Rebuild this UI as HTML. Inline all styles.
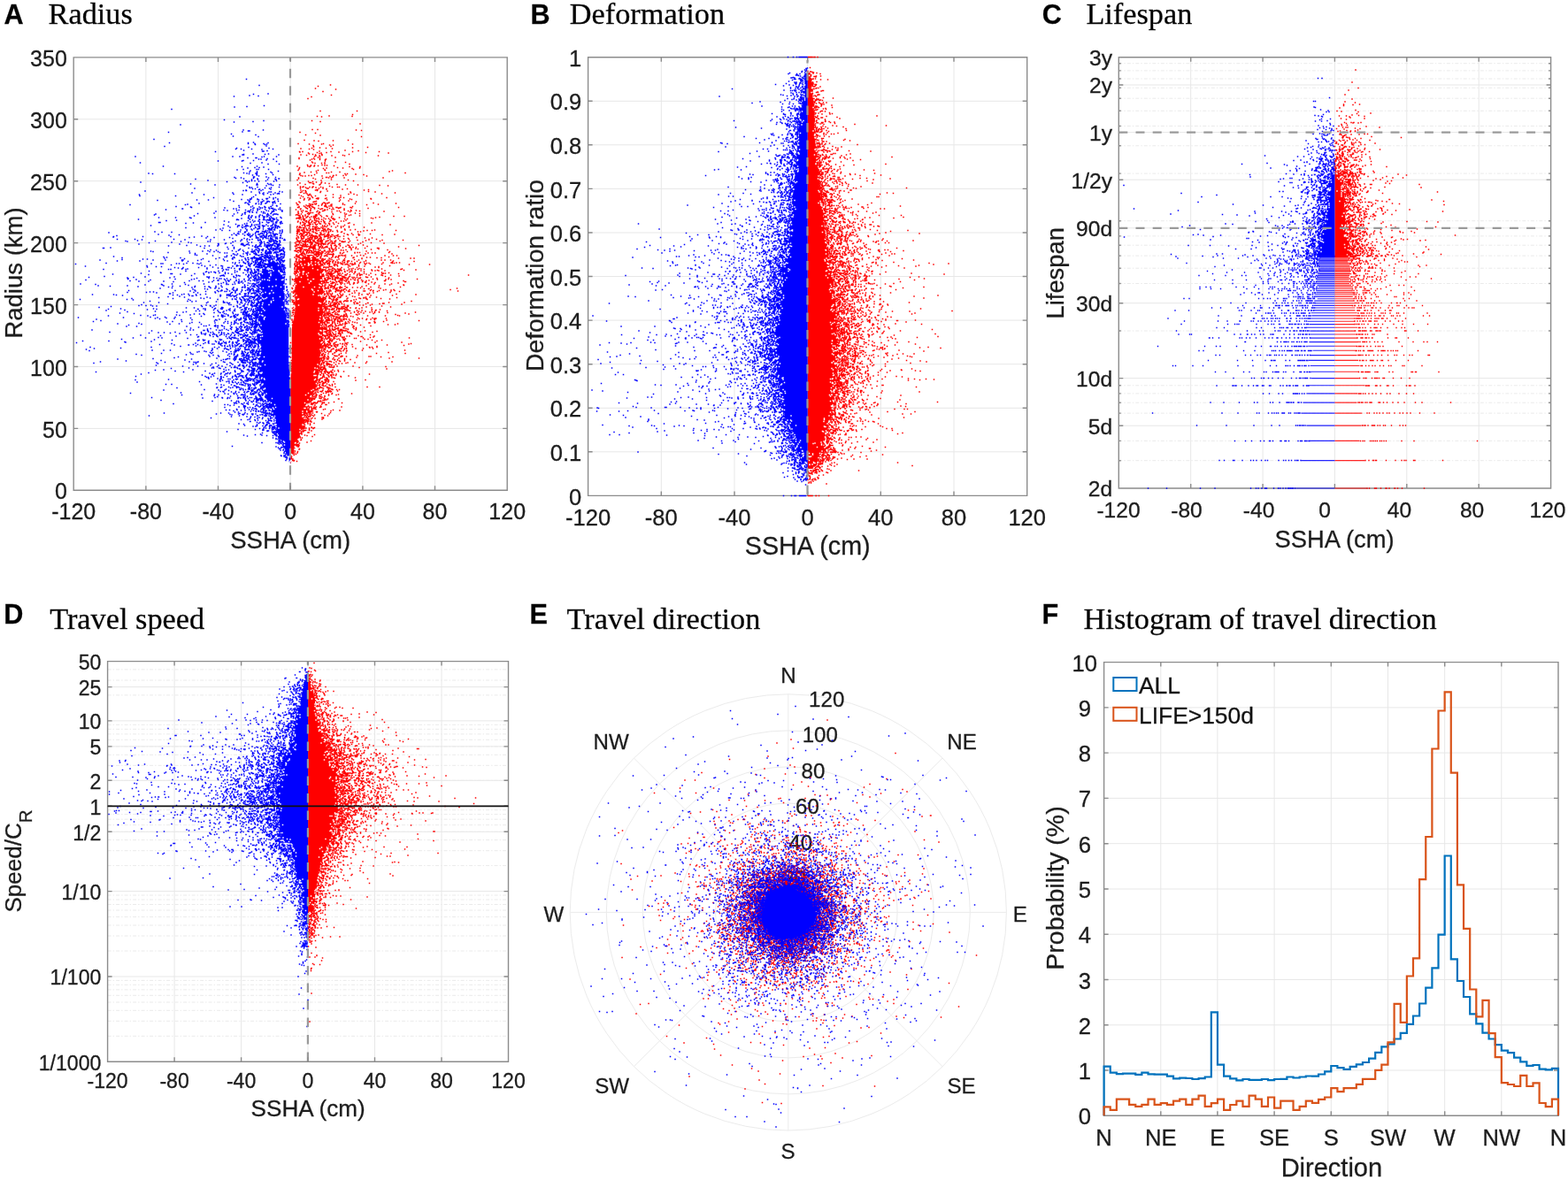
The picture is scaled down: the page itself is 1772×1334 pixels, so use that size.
<!DOCTYPE html>
<html lang="en">
<head>
<meta charset="utf-8">
<title>Eddy statistics: radius, deformation, lifespan, travel speed and direction</title>
<style>
html,body{margin:0;padding:0;background:#fff}
body{width:1772px;height:1334px;overflow:hidden}
svg{display:block}
text{font-family:'Liberation Sans', Arial, Helvetica, sans-serif;stroke:#222;stroke-width:.3px}
text.se{font-family:'Liberation Serif', 'Times New Roman', Times, serif}
</style>
</head>
<body>
<svg xmlns="http://www.w3.org/2000/svg" width="1772" height="1334" viewBox="0 0 1772 1334">
<rect width="1772" height="1334" fill="#fff"/>
<g fill="#1c1c1c">
<path d="M164.9 64.9V554.3M246.5 64.9V554.3M328.2 64.9V554.3M409.9 64.9V554.3M491.5 64.9V554.3M83.2 484.4H573.2M83.2 414.5H573.2M83.2 344.6H573.2M83.2 274.6H573.2M83.2 204.7H573.2M83.2 134.8H573.2" stroke="#e7e7e7" stroke-width="1" fill="none"/>
<path d="M347.2 288L345 289L343.6 290L342.3 291L341 292L339.9 293L339.2 294L338.7 295L338.1 296L337.7 297L337 298L336.4 299L335.9 300L335.4 301L335.1 302L334.8 303L334.5 304L334.3 305L334.2 306L334.1 307L334.1 308L334 309L333.9 310L333.8 311L333.8 312L333.7 313L333.7 314L333.7 315L333.7 316L333.7 317L333.7 318L333.7 319L333.7 320L333.7 321L333.7 322L333.7 323L333.7 324L333.7 325L333.7 326L333.7 327L333.7 328L333.7 329L333.7 330L333.7 331L333.7 332L333.7 333L333.7 334L333.7 335L333.7 336L333.6 337L333.6 338L333.6 339L333.6 340L333.5 341L333.5 342L333.5 343L333.5 344L333.4 345L333.4 346L333.4 347L333.4 348L333.3 349L333.3 350L333.3 351L333.3 352L333.2 353L333 354L332.8 355L332.6 356L332.4 357L332.3 358L332.1 359L331.9 360L331.7 361L331.5 362L331.3 363L331.1 364L331 365L330.8 366L330.6 367L330.4 368L330.2 369L330 370L329.9 371L329.7 372L329.7 373L329.7 374L329.7 375L329.7 376L329.7 377L329.7 378L329.7 379L329.7 380L329.7 381L329.7 382L329.7 383L329.7 384L329.7 385L329.7 386L329.7 387L329.7 388L329.7 389L329.7 390L329.7 391L329.7 392L329.7 393L329.7 394L329.7 395L329.7 396L329.7 397L329.7 398L329.7 399L329.7 400L329.7 401L329.7 402L329.7 403L329.7 404L329.7 405L329.7 406L329.7 407L329.7 408L329.7 409L329.7 410L329.6 411L329.6 412L329.5 413L329.5 414L329.4 415L329.3 416L329.2 417L329.1 418L329.1 419L329 420L328.9 421L328.8 422L328.8 423L328.7 424L328.6 425L328.5 426L328.4 427L328.4 428L328.3 429L328.3 430L328.2 431L328.2 432L328.2 433L328.2 434L328.2 435L328.2 436L328.2 437L328.2 438L328.2 439L328.2 440L328.2 441L328.2 442L328.2 443L328.2 444L328.2 445L328.2 446L328.2 447L328.2 448L328.2 449L328.2 450L328.2 451L328.2 452L328.2 453L328.2 454L328.2 455L328.2 456L328.2 457L328.2 458L328.2 459L328.2 460L328.2 461L328.2 462L328.2 463L328.2 464L328.2 465L328.2 466L328.2 467L328.2 468L328.2 469L328.2 470L328.2 471L328.2 472L328.2 473L328.2 474L328.2 475L328.2 476L328.2 477L328.2 478L328.2 479L328.2 480L328.2 481L328.2 482L328.2 483L328.2 484L328.2 485L328.2 486L328.2 487L328.2 488L328.2 489L328.2 490L328.2 491L328.2 492L328.2 493L328.2 494L328.2 495L328.2 496L328.2 497L328.2 498L328.2 499L328.2 500L328.2 501L328.2 502L328.2 503L328.2 504L328.2 505L328.2 506L328.2 507L328.2 508L328.2 509L328.2 510L328.2 511L328.2 512L328.2 513L328.2 514L328.2 515L328.2 516L328.2 517L328.2 518L328.2 519L328.2 520L328.2 521L328.2 522L328.2 523L328.2 524L329 524L329.1 523L329.5 522L329.1 521L329.1 520L330 519L330.2 518L331.3 517L330.8 516L331.1 515L330.5 514L332.3 513L331.9 512L332.1 511L332.9 510L332.4 509L333.6 508L333.6 507L333.6 506L334.6 505L334.9 504L334 503L334.9 502L336.1 501L336.5 500L335.7 499L337.2 498L335.8 497L336.7 496L338.5 495L338.4 494L339 493L338.8 492L339.3 491L338.7 490L339.5 489L340.9 488L339.4 487L341.2 486L341.8 485L340.9 484L341.4 483L342.9 482L341.3 481L343.2 480L343.1 479L342.8 478L344.4 477L344.7 476L345.2 475L345.3 474L345.1 473L345 472L344.2 471L346 470L344.7 469L345 468L346.7 467L346.5 466L345.6 465L346.8 464L346.6 463L346.7 462L346.8 461L349.3 460L349.2 459L349.3 458L350 457L350.2 456L350 455L350.5 454L350.9 453L350.6 452L352.2 451L352.6 450L352 449L353.8 448L354.2 447L353.5 446L353.4 445L354.6 444L354.5 443L356.4 442L355.2 441L355.4 440L355.8 439L357.8 438L357.9 437L356.7 436L358.1 435L357.3 434L358.8 433L358.5 432L358.2 431L359.4 430L359.1 429L359 428L359.3 427L359.8 426L359.8 425L360.6 424L360 423L360.7 422L360.9 421L359.8 420L361.4 419L360.3 418L360.8 417L360.9 416L361.3 415L360.6 414L360.7 413L360.8 412L362.6 411L361.5 410L362.3 409L361.2 408L362.2 407L362.1 406L363 405L363.1 404L362.3 403L362.4 402L361.9 401L362.1 400L363.4 399L362.4 398L362.5 397L362.5 396L362.8 395L362.5 394L363.3 393L362.9 392L363.7 391L363.1 390L364.6 389L365 388L363.7 387L365.1 386L364.8 385L364 384L365.4 383L364.8 382L363.7 381L365.6 380L364.9 379L365.7 378L364.7 377L365.3 376L365.7 375L364.5 374L365.7 373L364.3 372L366 371L365.4 370L364.3 369L364.2 368L365.6 367L365.4 366L364.6 365L365.6 364L364.8 363L364.1 362L365 361L365.2 360L366.1 359L364.6 358L364.5 357L364.1 356L364 355L365.6 354L366.1 353L365.1 352L364.3 351L365.6 350L364.2 349L365.3 348L365.5 347L364 346L365.7 345L365.9 344L364.8 343L365.8 342L365.2 341L364.8 340L364.8 339L366.1 338L364.5 337L364.2 336L364.2 335L366 334L365 333L364.9 332L365 331L364.6 330L366.1 329L364.9 328L365.3 327L364.7 326L365.6 325L365.9 324L365 323L365.8 322L366 321L365.9 320L365.1 319L364.9 318L365.7 317L365.2 316L365.5 315L364.4 314L364.4 313L365.5 312L365.1 311L364.8 310L363.5 309L364.4 308L363 307L362.6 306L363 305L363 304L363.9 303L361.7 302L361.8 301L362.9 300L360.7 299L361.1 298L359.5 297L360.8 296L360 295L358.8 294L359.5 293L356.8 292L358 291L355.1 290L355.2 289L352.2 288Z" fill="#ff0000"/>
<path transform="scale(.5)" d="M719 195zm28-3zm12 10zm-29 5zm-17-7zm36 15zm-45 4zm-8 4zm28 28zm83 0zm-10 8zm-1 4zm-52-1zm-27 1zm10 1zm-3 11zm-19-2zm109 7zm3 15zm-12-1zm-87-1zm-12 0zm-28 6zm35 2zm104 8zm-93-3zm-33-1zm-3 12zm22 1zm10 1zm33-1zm34-1zm10 9zm-66-1zm-4 1zm-28 0zm-25-1zm31 10zm3-6zm1 3zm14 2zm14 1zm8-7zm3 3zm5-3zm44 6zm34-1zm26 10zm-47-2zm-13 2zm-17-3zm-29-4zm-3 7zm-26-1zm-13-4zm-10-1zm-15 6zm-4-7zm-3 7zm1 1zm2 6zm13 1zm4-5zm2 2zm8 1zm6 1zm4-5zm5 2zm4-1zm1 3zm1 1zm0 1zm10-6zm28-1zm9 7zm14-2zm38-4zm51 1zm-23 6zm-76 0zm-21 4zm-8-4zm-27 6zm0-4zm-1-2zm-3 4zm-5-4zm-3 2zm-2 4zm-33 1zm0-2zm25 5zm4-2zm0 6zm6-6zm12 1zm12 0zm0 3zm2-4zm21 6zm23 1zm9 4zm-35 4zm-16-1zm-5 0zm0-4zm0-2zm-6 5zm-1-4zm-8 6zm-7-6zm-1 5zm-4-6zm-4 6zm-1 1zm-7-2zm-23 3zm4 6zm1-3zm19-3zm4 1zm1-1zm9 0zm21 5zm7-1zm25-1zm12 1zm15-3zm6 4zm3 2zm14-3zm1-3zm102 14zm-29-5zm-7 2zm-112 1zm-19 0zm-6 2zm-5 0zm-3-6zm-1-1zm-15 1zm-3 6zm-1-4zm-12 2zm-15 1zm-14-5zm3 10zm1-3zm0 1zm2 4zm4 1zm6 0zm8-1zm6 0zm7-2zm17 3zm18 1zm7-2zm1 0zm6-1zm16 1zm4-4zm2 3zm3-3zm19 1zm18 1zm7 3zm37 4zm-79 5zm-9-5zm-26-2zm-3 6zm0-4zm-6 0zm-4-1zm-2 0zm-8 2zm-16 2zm-5-2zm-33 1zm0-2zm-3 5zm6 7zm19-4zm2 3zm2 0zm2 0zm4-2zm0 4zm1 0zm7-3zm11-4zm0 6zm1-2zm8 2zm9 1zm55-6zm78 11zm-19-1zm-49-1zm-28 0zm-14 5zm-4 0zm-1-6zm-11 6zm-6-2zm-20 2zm-1-6zm-2 1zm-13-2zm-1 6zm-2 1zm-6 0zm-10-6zm-4 5zm-2 1zm-5 0zm0-1zm-6-4zm6 8zm1 4zm5 1zm5 0zm1-7zm3 2zm3 0zm9-2zm7 6zm1-6zm2 5zm1 2zm1-2zm3-3zm9-2zm0 2zm8 1zm0 1zm36 0zm11-1zm38 3zm10-1zm60 7zm-30 2zm-15-4zm-15-1zm-33 6zm-7-3zm-1-2zm-4 5zm-48-7zm-15 1zm-1 2zm-23 4zm-7-1zm-2-4zm-1 2zm0-4zm-4 5zm-5-3zm-3 1zm-3 6zm5 2zm4 2zm11-4zm0 6zm2-5zm1-2zm4 2zm2 3zm2 2zm6-4zm23-1zm17-2zm0 6zm17-4zm0 4zm7 1zm30-6zm67 6zm-35 3zm-1-1zm-43 2zm-4-1zm-3 4zm-19-2zm-2 3zm0-7zm-28 4zm-1-4zm-3 1zm-15-1zm-1 2zm-1-2zm-2 1zm-1 6zm0-6zm-14 1zm-1 0zm0-2zm-2 4zm-10-2zm0-1zm-1 3zm-8-4zm-9 11zm2 3zm0 1zm2 0zm2-7zm2 2zm21 3zm3 1zm4 0zm0 1zm1-1zm1-5zm2-1zm1 5zm1-5zm2 6zm1-2zm13 2zm1-2zm3-2zm2 1zm2 1zm0 2zm4-2zm1-1zm3-1zm4 5zm2-1zm25-2zm0 2zm4 1zm24-3zm2-4zm24 7zm15-4zm11 3zm40-2zm6 9zm-69 2zm-35-4zm-2 3zm-3-1zm-22 0zm-2 1zm-2 0zm-1 1zm-3-2zm-2 0zm-8 1zm-2-4zm-2 0zm-3 5zm-1-5zm-4 3zm-2-1zm-1-2zm-1-1zm-2 2zm0-2zm-7-1zm-7 7zm0-6zm-9 5zm-3-1zm-1-1zm-2-1zm-2 4zm-1-6zm-2 4zm0-4zm-1 3zm0-2zm-2-1zm-2 1zm-1 5zm-2-1zm0-6zm-2 4zm-3-2zm-11 3zm0-2zm-3 2zm-4 5zm5 4zm5-5zm1-1zm1 5zm4-1zm6 2zm3 0zm1-6zm6 5zm1-3zm0 2zm9-4zm5 7zm2-2zm4 2zm2-6zm3-1zm2 0zm0 5zm1 0zm3-1zm1-2zm1 1zm5-1zm10 0zm0 5zm4-6zm8 4zm5 0zm11-5zm0 3zm9 2zm4 2zm2-4zm1 2zm11-1zm8 1zm55 1zm-55 5zm-10-1zm-10 4zm-4 1zm-6-3zm-3 2zm-1-4zm-9-2zm-17 5zm-1-2zm-27 4zm-2-6zm-2 4zm-1-3zm-4 3zm-3 2zm0-1zm-6-5zm-4 0zm-3 1zm-1 2zm-1 1zm-1-4zm-2 2zm-5 3zm-7-6zm-2 4zm-4 3zm-2-4zm-1 4zm0-6zm-2 4zm-3 1zm1 8zm2-1zm3 1zm1-3zm1 4zm1-7zm0 4zm1-1zm1 2zm4-5zm1 1zm0 2zm0 3zm3 1zm2-7zm2 4zm2-1zm1-2zm1 0zm4 3zm4-2zm5-1zm0 3zm2 1zm0 2zm1-6zm1 3zm1-3zm2-1zm0 6zm0 1zm4-2zm7-3zm5 3zm4 2zm2-7zm2 1zm3 5zm6-2zm1-3zm2 5zm0 1zm2-1zm13-2zm12 3zm1-5zm5 5zm28-7zm26 5zm4 1zm6-2zm9-1zm32-2zm24 0zm-132 9zm-5 2zm-6 0zm-11 2zm-3-6zm-2 1zm-7 2zm-2-2zm-1 4zm-11 1zm-2-1zm-1-3zm-4-2zm-1 5zm-5 0zm0-5zm-3 4zm-3-1zm-1 3zm-2-4zm-1 0zm-1 5zm-4-3zm-1 0zm-1 3zm-2-7zm-3 2zm-1 3zm-1 1zm-4 0zm0-3zm-3 1zm-1-4zm-2 2zm-1-1zm-1 6zm-1-1zm-3-5zm-2 6zm-5-3zm-1 2zm6 4zm4 4zm3-2zm1-4zm2 4zm0 3zm1-6zm4 5zm2 0zm2-5zm0 4zm0 1zm2-6zm0 3zm0 2zm2-2zm5 0zm5-3zm1 3zm2 2zm2-2zm4-3zm2 2zm2 0zm4 4zm4-6zm1 6zm2-4zm4 4zm3-5zm2 1zm0 2zm8-4zm2 3zm8 4zm2-6zm14 4zm8-4zm3-1zm10 4zm40-4zm42 4zm-59 6zm-20 5zm-14-5zm0-2zm-10 6zm-3-6zm-5 3zm0-3zm-12 2zm-10-2zm-4 7zm-3-2zm-1 0zm-3-4zm-3 5zm-1-5zm-2 5zm-2-4zm0-1zm-1 4zm-3-3zm-3 3zm-3-1zm-2 1zm-1-4zm-2 6zm-1-3zm0-3zm-2 5zm0-3zm0-2zm-4 4zm0-5zm-1 7zm0-2zm0-4zm-1 5zm-5 1zm0-1zm-1-5zm-2 3zm-5 3zm-1-3zm-2-4zm-2 3zm-1 4zm0-1zm-2-3zm-4 0zm-3 0zm0-3zm-1 0zm-1 7zm0-4zm-3 4zm-1-1zm0-6zm-1 2zm0 9zm1-1zm0 2zm1-3zm0 5zm2-6zm0 2zm0 1zm2-3zm0 4zm4-3zm1-1zm2 0zm0 3zm2 2zm0 1zm2-4zm0 3zm2 0zm3-5zm0 5zm2-4zm0 6zm1-7zm1 5zm1 1zm1 0zm1-4zm1-2zm0 2zm1-2zm4 4zm2-4zm0 4zm1 1zm4 1zm1-5zm0 6zm1-6zm1 1zm4-1zm1 0zm3 5zm1 1zm1 0zm1-5zm3-1zm2 0zm0 2zm0 1zm4-3zm1 0zm0 3zm4-4zm1 5zm1-1zm0 2zm4-3zm1-3zm4 3zm10-2zm1 3zm8 1zm2-1zm7-4zm12 0zm17 4zm6 0zm7-2zm8-1zm11 0zm6-1zm48 1zm-3 9zm-28 1zm-27-2zm-24 2zm-2 1zm-1-3zm-12 2zm-3-3zm-8 3zm-2-1zm-7-2zm-1 6zm-9 1zm-4 0zm0-4zm-1 1zm-3 1zm-4 1zm-1 0zm-3-3zm-2 4zm0-4zm-3 3zm-3-3zm-1 1zm-1 3zm0-4zm0-2zm-1 5zm-1-4zm-2 4zm0-1zm-1 1zm-1 1zm0-1zm-2-5zm-1 4zm-2-3zm-3 1zm-3-1zm-1 5zm0-4zm-1 0zm-1 3zm-1-2zm-4-4zm-1 6zm-1 1zm0-7zm-1 6zm0-1zm-2 1zm-1 0zm-3 0zm0-1zm-1 2zm0-1zm-2-1zm0-3zm-1 3zm-3-1zm0-4zm-1 0zm-1 4zm-3 3zm-2-5zm0-1zm-1 2zm-1 1zm-1-1zm-3 2zm-1-5zm-1 7zm-1 0zm-1-2zm0-3zm-1 3zm-1-1zm0-1zm0-3zm-2 6zm-1-5zm0-1zm-2 2zm-3 5zm-2-6zm-1 4zm0-5zm-1 11zm1-1zm0 4zm2 1zm2-5zm6-1zm0 2zm1 0zm0 2zm3-1zm2-4zm0 2zm4 4zm0 1zm1-2zm1 0zm3-2zm0 4zm3-3zm0 2zm0 1zm1-5zm1-1zm0 5zm1-6zm1 5zm1-4zm1 3zm1-2zm1 5zm3 0zm1-5zm1-2zm0 4zm1-1zm2 0zm2-1zm1-2zm1 6zm1-1zm1-1zm2-1zm1-1zm0 5zm2-6zm0 3zm0 3zm1 0zm5-2zm1-5zm8 3zm1-1zm4-1zm0 4zm10-2zm2-2zm1 0zm6 3zm12 0zm10-1zm2 2zm17-4zm2 6zm17-5zm9 3zm0 1zm7-4zm10 3zm13 2zm47 0zm-43 7zm-9-5zm-20 4zm-12-5zm-7 3zm-5 3zm-24-5zm-3 3zm-8-2zm-3 1zm-2-1zm-1 1zm-2-1zm-3 5zm-1-7zm-1 7zm-8-6zm0-1zm-1 2zm-1 4zm-1-4zm-1 4zm-2 0zm-2 1zm0-3zm-1 2zm0-5zm-3 0zm-1 4zm-3 1zm-1 0zm0-6zm-2 1zm-1 0zm-2 0zm-1 3zm-4 3zm-2 0zm-1 0zm0-7zm-1 4zm0-3zm0-1zm-1 5zm0-3zm-1 5zm-1-4zm-1-1zm0-2zm-1 3zm-2 4zm-1-7zm-1 7zm0-4zm0-3zm-1 6zm-1-6zm-1 5zm-1 1zm-1-2zm-1 1zm-2-3zm-3 0zm0-1zm-2 6zm0-2zm-2 2zm0-3zm-1 3zm-1-3zm0-3zm-1 1zm-1 3zm-3-2zm-1-2zm-1 1zm0-1zm-3 2zm-1-2zm-1 6zm0-3zm0-3zm-1 3zm0-2zm-3 0zm0-1zm-1 6zm-2-6zm-2 4zm-2-5zm-1 2zm-1 4zm0-1zm-1-2zm-1-2zm-1 1zm-1 0zm-3 1zm-3 2zm0 8zm1-1zm1-4zm2 4zm1-3zm1 0zm2 0zm0 1zm2 5zm2-5zm3 1zm1 3zm1-2zm1-3zm0 2zm1 1zm1-3zm0 5zm3-5zm0 1zm0 3zm1-5zm1 3zm0 1zm0 2zm2 0zm1-5zm1 4zm1 0zm3 1zm1 0zm1-4zm0 1zm2 3zm1-5zm2 6zm1-3zm1 1zm0 2zm2-6zm0 1zm0 3zm0 1zm1-3zm0 3zm2-4zm5 1zm1-1zm1 4zm1 0zm1 0zm1-6zm0 6zm1 0zm1-5zm0 1zm0 1zm3 2zm0 2zm2-6zm3-1zm2 0zm0 6zm2 1zm1-2zm1 2zm1-6zm7 1zm1 1zm0 1zm0 1zm0 2zm7-4zm2-1zm1 2zm2 1zm5-4zm3 2zm0 1zm13 1zm4-3zm3 1zm0 4zm2-1zm4-4zm3 5zm7 0zm5-7zm11 2zm9 3zm71 1zm46-3zm-30 7zm-41 3zm-20-2zm0-2zm-3 0zm-14 3zm-14-3zm-16 2zm-5-1zm-10 3zm0-3zm-2-2zm-10 5zm-6 1zm-1-6zm-4 6zm0-1zm-5-4zm-6 3zm-1 2zm0-6zm-1 1zm-3 3zm-3 1zm-1-3zm-1 0zm-1-2zm-3 6zm-1-1zm0-3zm-1 0zm-10 4zm0-6zm-1 6zm-2-5zm-4 0zm-3 5zm-2-4zm0-2zm-1 7zm-2-3zm-5 0zm-2-2zm0-1zm-3 5zm0-2zm0-1zm0-3zm-2 2zm-3 5zm0-7zm-3 6zm0-5zm-1 0zm-1 2zm-1-1zm-1 4zm-2 0zm0-1zm-3-1zm-1 2zm-2-1zm-2-1zm-4-1zm0-2zm-2 4zm-1 2zm0-3zm0-4zm-1 4zm0-1zm-1-1zm-1 5zm-3-1zm0-6zm-1 7zm0-7zm-3 2zm-1 4zm0-4zm0-1zm-3 6zm3 1zm2 1zm3 2zm4-3zm1 1zm0 1zm1-1zm0 6zm1-2zm1 0zm1 1zm1-3zm0 1zm0 2zm1-6zm1 0zm0 4zm2 1zm0 2zm5-6zm0 2zm0 2zm2-4zm2 3zm2-4zm1 3zm2 2zm1 0zm1-5zm0 4zm1-4zm0 1zm2 2zm1 1zm2-3zm0 1zm0 4zm3-6zm1 1zm0 4zm0 2zm1-5zm1 4zm2-5zm0 3zm0 3zm1-4zm1-1zm0 1zm1 1zm0 3zm1-4zm3 1zm0 2zm2-5zm0 4zm2-1zm1-3zm0 1zm4-2zm1 5zm3-3zm1 0zm0 5zm2-1zm1-6zm1 3zm1 4zm1 0zm1-6zm2 6zm1 0zm1-5zm1-1zm2 4zm1-5zm0 7zm15-4zm0 2zm5 0zm3-2zm8-2zm17 2zm0 1zm6-1zm5 0zm13 3zm2-6zm4 4zm9 0zm7 0zm31-1zm2-2zm5 5zm11 4zm-8 0zm-10 3zm-9-3zm-8 5zm-10 0zm-15-1zm-8 0zm-7-4zm-7-1zm-8 2zm-7 3zm-2 1zm-3-5zm-14 3zm0-4zm-3 1zm-4 0zm-2-1zm-4 1zm-2 0zm-1 4zm0-3zm-1 3zm-4-2zm-1 1zm-1 1zm-5-5zm-1 4zm0-3zm0-2zm-3 7zm-9-4zm-1 0zm-2-1zm-2 0zm-2 1zm-6-3zm-1 3zm-1 4zm0-1zm-1 1zm0-2zm-2-5zm-2 2zm-2 2zm-2 0zm0-1zm-1-2zm-1 0zm-3-1zm-21 0zm-4 4zm0-1zm-1-1zm-1 0zm-1 5zm-1-6zm-3 6zm-1-7zm-1 7zm-1-2zm0-3zm-1 4zm-1-1zm0-1zm0-1zm-3 2zm0-3zm0-2zm-1 0zm-1 3zm-3 3zm2 9zm1-6zm1 2zm0 1zm1-3zm5 2zm0 2zm0 2zm3-5zm4-1zm35 2zm0 1zm1-2zm0 1zm2 2zm1 0zm2-5zm0 7zm2-1zm1-2zm1-2zm0 1zm1-2zm0 5zm1-5zm1 4zm1-2zm3-1zm3 4zm3 1zm1-3zm2-4zm1 6zm0 1zm1-5zm1 5zm3-4zm2 4zm1 0zm1-2zm8-1zm4-2zm10 3zm1-1zm2-3zm0 4zm7 1zm3 0zm6 1zm6-4zm6 4zm4-3zm7-4zm0 1zm9 4zm0 1zm35-2zm8 0zm13 0zm6 2zm12-6zm27 0zm8 0zm0 7zm35 7zm-46 0zm-22-4zm-7 0zm-5 1zm-4 0zm0-3zm-3 2zm-18 0zm-3 3zm-26 0zm-3-2zm-5 0zm-3 3zm0-1zm-2-1zm-1-4zm-8 1zm-2 2zm-2 4zm-8-2zm-1 0zm0-3zm-3 4zm-3 1zm0-3zm-4 0zm-4 3zm-2-5zm-1 4zm0-6zm-2 5zm-3 1zm-1-5zm-1 1zm-3 4zm-1-2zm0-4zm-3 5zm0-1zm-2-2zm-4 1zm-1-3zm-1 3zm-1 4zm-1 0zm-2-7zm-1 5zm0-4zm-3 4zm-3-3zm-7 4zm0-3zm-1-1zm-1 2zm-2-1zm-1 2zm0-1zm-2-3zm0-1zm-3 2zm-1 4zm0-2zm-3-1zm0-1zm-2 5zm0-2zm0-5zm-1 7zm0-1zm-2 0zm-1-2zm0-2zm-1 3zm-1-3zm0-2zm-1 3zm-48 3zm0-5zm-1 4zm-2 1zm0-3zm0-3zm-4 3zm-1 4zm0-2zm0 9zm1-3zm1-3zm2 1zm0 1zm1 0zm54 0zm1-2zm4 0zm1 5zm1-1zm3 0zm2 2zm2-2zm3 1zm2-5zm0 2zm0 1zm2 0zm3 0zm1 0zm1 4zm2-1zm2-6zm1 1zm1-1zm6 2zm9 3zm15-1zm1-4zm3 2zm7 5zm9-2zm4-3zm1 5zm12-5zm24 2zm8-1zm0 2zm25-4zm59 9zm-27 1zm-4-3zm-3 1zm-36 3zm-7-4zm-7 4zm-3-1zm-5 1zm-7 0zm-1-2zm-17 4zm0-5zm-7 3zm0-4zm-7 1zm-6 6zm0-1zm0-5zm-1 6zm-6 0zm0-4zm-2-3zm-1 5zm-3 2zm-1-5zm0-2zm-4 4zm-5 3zm-1-2zm-1-4zm-6 3zm-2-3zm0-1zm-1 3zm0-3zm-2 6zm0-3zm0-2zm-1 1zm-2 3zm0-4zm-1-1zm-1 5zm-2 1zm-1-3zm0-1zm-1 5zm-1-2zm-1-5zm-1 1zm-3 4zm0-1zm-2-2zm-1 4zm-3-5zm-1 4zm-2-4zm-2 3zm-3 1zm-2 1zm0-3zm0-1zm-1 0zm-3 0zm-1 1zm-1 0zm-1 2zm0-1zm0-2zm0-1zm-1 5zm0-1zm0-2zm-1 4zm0-3zm-1 1zm0-3zm-58 5zm-2-1zm0-1zm0-4zm-1 9zm1 0zm1 3zm1-1zm61 1zm2-1zm0 1zm6 1zm1-4zm2-1zm0 5zm2-4zm0 1zm1-3zm0 1zm2 1zm0 3zm2-2zm1-3zm0 3zm0 2zm2-3zm0 1zm0 3zm1-2zm0 1zm0 1zm3-4zm3-2zm5 7zm1-7zm1 2zm0 2zm2-1zm0 3zm2 1zm1-5zm2 4zm3-4zm6 4zm1-1zm2 1zm2-3zm6 2zm9-2zm2-3zm5 7zm1-3zm4-2zm1 3zm0 1zm1 1zm1-2zm3 0zm5-3zm5 2zm6 2zm4-4zm11 3zm13 1zm1-6zm1 3zm1 4zm2-5zm4 0zm8-1zm4 5zm18-3zm158 3zm-116 9zm-41-7zm-23 4zm-1 3zm-7-6zm-19 4zm-9 2zm-4-5zm-8 1zm-2 0zm-2-1zm-12 2zm-1 1zm-3 0zm-4-2zm-4 2zm-3-2zm-2 3zm-2-3zm-5-2zm-1 0zm-2 2zm-1 4zm-1 0zm0-2zm-4-1zm-3 1zm0-3zm-1 0zm-2-1zm-1 5zm0-2zm-2-3zm-1 5zm-1-1zm-2 1zm-1 0zm-3-3zm-1 3zm0-2zm-2 1zm0-2zm0-1zm-2 2zm-2 3zm0-4zm-1 1zm-1-4zm-3 0zm-1 6zm0-3zm-1 4zm-1-5zm-2-1zm-1 5zm0-6zm-2 6zm0-1zm-2 1zm0-1zm0-3zm-1-2zm-1 5zm-2-2zm-4 2zm-1 2zm0-2zm-1 1zm-1-5zm0-1zm-3 1zm-61 5zm-7 1zm1 2zm4-1zm0 1zm0 4zm1-4zm0 1zm63 1zm2 3zm1-2zm1-4zm0 2zm0 5zm2-7zm0 1zm1 3zm1-2zm0 1zm0 1zm1 3zm1-6zm1-1zm0 1zm1 6zm5-3zm4 2zm1-6zm0 7zm1-1zm1 1zm2-7zm0 7zm2-5zm2 3zm1 0zm0 1zm4-2zm2-1zm1 3zm1-4zm0 5zm1-6zm1 0zm0 6zm2-3zm1-3zm4 1zm3 2zm1-4zm1 4zm1-3zm4 3zm0 1zm1 0zm4-5zm7 7zm1-6zm2 0zm6-1zm0 3zm1 3zm7-5zm2 4zm1-2zm5 3zm2 0zm0 1zm1-4zm6-1zm6 4zm8 1zm5-7zm16 3zm2 0zm1-3zm12 0zm28 3zm3 2zm2 0zm-4 8zm-1-1zm-12-4zm-15 2zm-4 2zm-11-2zm-13 4zm-11-4zm-13 0zm-5 4zm-20-6zm-7 0zm-2 2zm-8 1zm-2-3zm-4 0zm-5 7zm-1-5zm-5-2zm-3 3zm-1-2zm-7 2zm-4-1zm-1 3zm-1 0zm-1 2zm-3-7zm-2 1zm-1 4zm-2 2zm0-1zm0-5zm-3 4zm-1-1zm-8 0zm0-4zm-2 6zm0-2zm-2-4zm-66 2zm-3 4zm-3 5zm1 1zm0 1zm6 2zm1-4zm66-3zm0 5zm1-3zm0 2zm1-1zm0 2zm1-1zm3-1zm1 0zm1-3zm0 3zm0 2zm4 2zm1-5zm3-1zm2-1zm1 5zm2-5zm0 2zm1-2zm0 3zm2 3zm2-2zm1 2zm1-3zm5-1zm1 2zm1-4zm0 3zm2-1zm1 5zm1-5zm3 5zm2-1zm2-1zm3-3zm2 0zm5 5zm7-5zm11 0zm7 1zm3-3zm5 5zm10 0zm1 0zm4-4zm1 6zm17-5zm4 2zm12 3zm18 0zm15-6zm113 6zm15-3zm2 6zm-132 1zm-11-2zm-8 1zm0-2zm-2 5zm-15-5zm-10 1zm-4 2zm-9 3zm0-5zm-1 1zm-6-1zm-2 6zm-10-5zm-3 0zm-10 5zm-1 0zm-5-6zm-4 5zm-1-4zm-5 5zm-6-4zm-2-1zm-1 1zm-4-3zm-4 4zm-3-3zm-4 0zm-1 2zm0-1zm0-1zm-1 3zm-2 3zm0-5zm-2-2zm-2 2zm-1-2zm-1 0zm-2 1zm0-1zm-1 4zm-1-1zm-7 4zm-3-5zm-1-1zm-2 1zm-1 2zm-1-2zm-1 5zm-3-2zm-1-3zm-5 1zm-2 2zm-2-1zm0-1zm0-1zm-1-1zm-60-1zm-1 4zm0-1zm0-3zm-1 3zm-2 2zm0-3zm-1 5zm-3-3zm3 10zm3-1zm1-4zm1 0zm0 2zm65-3zm0 3zm2-2zm2 6zm1-2zm0 1zm1-6zm2 1zm1 2zm2 3zm2-6zm2 3zm1 3zm1-4zm0 4zm2 1zm2-1zm4-1zm5-3zm2 3zm5-3zm0 5zm1-2zm3-1zm1-3zm8 5zm7-4zm7 4zm5 1zm9-4zm7-1zm12-1zm2 1zm6 2zm49 0zm9-3zm44 1zm-43 7zm-16 3zm-20-1zm-10-3zm-15 0zm-6 5zm-1-1zm-2-1zm0-3zm-4 1zm-1 1zm-7 1zm-3-1zm-7 3zm-5 1zm-14-4zm-2 2zm-14-4zm-2 1zm0-1zm-4 1zm-1 4zm-1 1zm-1-2zm0-1zm-2 4zm0-2zm-2-5zm-2 6zm0-5zm-1 6zm0-3zm-4 1zm-3-2zm-1 0zm-1-3zm-1 2zm-8 1zm-1 1zm0-3zm-1 4zm-1-4zm-1 5zm-1-3zm0-3zm-2 6zm0-5zm-61 0zm-1 0zm-3 6zm-4-1zm1 5zm1-3zm0 1zm2 3zm1 1zm1-2zm0 3zm63-6zm2 1zm0 6zm2-1zm1-1zm3-5zm0 1zm0 2zm6-1zm0 4zm2-4zm3 3zm3-3zm1-2zm0 4zm4 0zm0 3zm3-2zm1-5zm0 1zm0 4zm1 1zm2-3zm2 4zm1-1zm1-4zm3-1zm0 2zm1 1zm2 3zm4-5zm2-2zm3 0zm1 1zm3-1zm0 1zm7-1zm0 1zm1-1zm6 4zm1 3zm2-5zm3 4zm1-1zm2 1zm4-3zm14 4zm4-2zm1 0zm26 2zm7-1zm3 0zm11-2zm35 0zm16-3zm-22 7zm-25 6zm-20-2zm-22-4zm-4 2zm-9 4zm-7-4zm-8 0zm-26 3zm0-2zm-2 1zm0-1zm-1 4zm-3 0zm-2-3zm-1-4zm-2 5zm-1 1zm-3 0zm-5-6zm-4 5zm0-3zm-4 5zm0-2zm0-5zm-2 2zm0-2zm-1 5zm0-5zm-1 1zm-1-1zm-1 3zm0-2zm-2 2zm-2 0zm-1 3zm-1-2zm0-3zm0-1zm-1 2zm-1 3zm-1-1zm-2 0zm-2 2zm-2-5zm-1 6zm0-2zm0-5zm-2 6zm-1-4zm-1 2zm0-4zm-1 5zm-1 1zm0-2zm-1 0zm-62-4zm-4 7zm0-7zm-3 9zm1 5zm1 0zm1-2zm1 2zm64 1zm1-6zm1 1zm3-2zm1 3zm0 2zm1 0zm1-4zm0 3zm2-1zm1-1zm1 0zm3 2zm1-1zm4 1zm2-3zm1 3zm3-3zm0 2zm2 4zm4-3zm0 1zm1-5zm0 1zm1 0zm2 0zm1 1zm0 3zm1-4zm2 2zm2-2zm2 2zm1-1zm2-1zm2 1zm2-2zm0 5zm1-1zm0 1zm3-3zm0 4zm2-2zm2 2zm3 1zm1-7zm12 1zm1-1zm2 6zm0 1zm5-5zm6-2zm0 6zm22-6zm0 5zm1-1zm8 2zm1-1zm9-1zm16 3zm64 3zm-15 4zm-8-2zm-22 3zm-18-4zm-19-1zm0-1zm-10 2zm0-2zm-3 4zm-3-4zm-5 1zm-10-2zm-4 4zm-6-2zm-4 4zm-1-6zm-2 3zm-4 4zm-4-5zm0-1zm-8 3zm-10 3zm-1 0zm0-2zm-2-4zm-1 0zm-1 6zm0-7zm-11 0zm-1 1zm-3 5zm0-5zm-3 6zm-1 0zm0-4zm-2 3zm-1-6zm-1 0zm-1 2zm-3 1zm-2 4zm-3-2zm0-1zm-1 0zm0-4zm-1 4zm0-4zm-1 6zm-1 1zm0-3zm-1-2zm-1 2zm-1 2zm-2-2zm0-4zm-3 5zm-1 2zm0-5zm0-1zm0-1zm-4 6zm-65-3zm-1 4zm-1-5zm-1 1zm-1 7zm5 1zm64 2zm2-4zm1 1zm0 2zm2-2zm0 4zm1-6zm0 6zm0 1zm3-6zm0 4zm2 1zm2-5zm0 5zm2-3zm1 0zm1-1zm2-2zm1 6zm1-6zm0 2zm1-2zm2 2zm1 2zm2-1zm3 4zm1-3zm0 2zm1-2zm0 3zm3-7zm0 5zm2-5zm0 5zm2 0zm1-1zm2-2zm1 1zm4-1zm0 3zm1-2zm1-2zm2 2zm1 0zm3-1zm1 3zm8-2zm5 1zm10-4zm1 7zm22-5zm11 5zm29-5zm28-1zm4 1zm44 11zm-73-1zm-1-4zm-6 7zm-17-7zm-3 3zm0-3zm-1 7zm0-6zm-8 1zm-9-1zm-1 2zm-9-3zm-7 1zm-5 2zm-16 2zm-2-3zm-2 5zm-4-5zm-1-1zm-4 2zm0-3zm-3 2zm-1 4zm-3 0zm0-2zm0-2zm-2 4zm-1-5zm-1 6zm0-7zm-2 6zm-1-5zm-1 6zm0-3zm-4-2zm-1 1zm-2 2zm0-3zm-2-2zm-2 7zm-2-2zm0-3zm-4 2zm-1 1zm0-1zm-1 0zm0-2zm0-1zm-1 4zm0-2zm0-3zm-1 2zm0-2zm-2 5zm0-2zm-1 4zm0-3zm-1-2zm-1 3zm-1 1zm-1-6zm-4 4zm-3 1zm-66 2zm-2-3zm0-2zm1 7zm0 6zm1-1zm69-5zm2 1zm1-2zm0 1zm0 1zm0 3zm1 1zm2 1zm1-1zm1-4zm1-1zm2 1zm2 0zm4 4zm0 1zm3-5zm0 2zm1-2zm4-2zm1 3zm1 3zm5-3zm5-1zm0 4zm1 1zm1-1zm3 1zm2-3zm5-1zm0 3zm1-6zm0 4zm1-1zm2 0zm5-1zm7 4zm1-6zm5 1zm5 1zm8 5zm19-5zm2 0zm11 0zm1-1zm29 5zm16 0zm6-2zm-61 5zm-15 3zm-18 1zm-5 2zm0-5zm-1-1zm-1 3zm0-1zm-16 4zm-2-5zm-2 4zm-1-2zm-1 1zm-11 1zm0-1zm0-5zm-2 6zm-2-5zm-1 6zm-1-7zm-2 5zm0-2zm-5 0zm0-1zm0-1zm-1 6zm0-4zm-1-3zm-4 2zm-1 4zm0-6zm-2 1zm-1 2zm-1 0zm-3 4zm-1 0zm0-1zm0-2zm0-2zm0-1zm-1 6zm-1-1zm-2-2zm-1 3zm0-6zm-1 6zm-1 0zm-68-7zm67 9zm4-1zm1 6zm1-5zm0 6zm1-1zm1-5zm0 6zm1-6zm0 4zm0 2zm1-3zm1-1zm0 2zm3-2zm1 1zm1-2zm0 5zm1-6zm0 5zm0 1zm2-3zm3-3zm0 6zm1-5zm3-1zm0 2zm3-2zm1 5zm5-5zm0 1zm2 3zm1-1zm2-3zm0 2zm0 2zm2-2zm1-2zm1 0zm0 6zm1-3zm3-1zm1 1zm3 0zm1-1zm3 2zm0 1zm1-6zm1 1zm2 6zm15-5zm1-2zm10 6zm10-2zm17 3zm10-2zm-15 8zm-27 2zm-15-4zm-2-2zm-1 1zm0-1zm-5-1zm-13 1zm-1-1zm-3 6zm0-3zm-2-2zm-1 2zm0-2zm0-1zm-2 2zm0-1zm-1 6zm-5 0zm0-4zm-2 2zm-3-1zm-1-2zm-4 5zm0-2zm-1-1zm-1 2zm0-5zm-2 5zm0-3zm-1 1zm-1-4zm-2 6zm0-1zm-1 2zm0-5zm-2 4zm0-4zm-2 5zm-2 0zm-2-1zm-3 0zm1 6zm3-4zm0 7zm3-5zm0 3zm2 2zm2-1zm1-2zm1-2zm1 2zm1-3zm0 3zm1-2zm0 5zm3-1zm1-6zm2 0zm1 0zm2 4zm1-1zm0 3zm1-5zm1 4zm2-5zm2 1zm1 6zm4-1zm3-6zm4 2zm1 1zm1 1zm2 3zm1-5zm0 1zm1 4zm2-1zm3-6zm6 0zm11 5zm4 0zm11-4zm2 0zm3 3zm3 3zm8 0zm5-4zm7-1zm2-2zm79 4zm-17 10zm-45-5zm-11 2zm-4 3zm-7-5zm-26 3zm-29 3zm-7-4zm-1-2zm-2-1zm-8 1zm-8 4zm-3 2zm-5-7zm-1 2zm-1 2zm-2-2zm-2-1zm-1 4zm0-3zm-1 2zm-1 3zm-2-3zm-8-1zm-1 3zm-2-1zm-1 1zm0-5zm-72 6zm69 3zm0 2zm3 2zm0 1zm1 0zm2-2zm1-3zm0 4zm1-6zm0 3zm1 3zm2-2zm1 1zm0 2zm1-5zm2 0zm1 3zm2-1zm2-4zm0 3zm1-3zm1 5zm1 2zm1-1zm4-4zm1-2zm0 6zm1-1zm1 1zm1-3zm3 1zm2 2zm1-3zm5-2zm5 1zm0 5zm1-6zm4 3zm1-4zm2 0zm0 7zm1-6zm1 2zm12 0zm33 1zm23 3zm23-3zm38 1zm11-3zm5-1zm-77 8zm-9 3zm-2-3zm-5 1zm-1-1zm-14 3zm-17 0zm-7-4zm-14 5zm0-2zm-4 1zm-1 2zm-4-5zm-2 3zm-2 1zm-4 1zm-5 0zm-1-5zm-1 0zm-1-1zm-4 5zm-1-1zm-3 2zm-4-4zm-3 1zm0-2zm-3-1zm-4 3zm-1 4zm0-7zm-1 6zm0-1zm-1 2zm0-1zm-1-2zm-2-3zm0-1zm-2 4zm0-2zm-1-2zm-1 7zm0-5zm-67 2zm-2 3zm0 3zm1 4zm69-6zm1 3zm3-3zm0 7zm2-4zm3 2zm4-4zm0 1zm3 2zm2-1zm3-3zm0 3zm8 3zm1-1zm2-5zm1 3zm1-1zm3-2zm2 0zm2 1zm3 1zm0 5zm5-6zm6 5zm1-4zm1-1zm35-1zm32 7zm27-2zm37-5zm1 7zm-28 8zm-27 0zm-23-1zm-4 0zm-26-2zm-25 2zm-9-1zm-1 1zm-2-1zm-1 2zm-3-6zm-1 2zm-4 2zm-3 0zm-1 0zm-2-1zm-4-3zm0-1zm-10 6zm0-6zm-1 5zm-6 2zm0-5zm-1 0zm-1 3zm0-1zm-1 3zm-2-7zm-1 4zm-1 0zm0-3zm-1 2zm0-2zm-70 7zm2 7zm66-5zm1 2zm1-2zm0 4zm1-5zm2 6zm1-7zm0 1zm0 6zm1-7zm0 4zm0 1zm2-2zm5-2zm0 1zm0 2zm3 0zm1-3zm9 3zm2-3zm2 4zm0 1zm1-1zm6 0zm0 1zm3-4zm13 1zm0 3zm13-1zm14-5zm74 2zm67 0zm-61 8zm-57 0zm-2 3zm-25-1zm-16 0zm-4 1zm-3-5zm-6 6zm-4-5zm-2-1zm-1 6zm-6-4zm-5 2zm-6-2zm-2-1zm-3 6zm0-6zm-2 5zm-3 1zm0-3zm0-3zm-1 6zm-3-6zm-2 3zm-2 2zm0-2zm-1-1zm-1-2zm-2 4zm-2-5zm-2 1zm-64 4zm-1-1zm0 4zm1 4zm0 1zm65-4zm0 5zm1-4zm1 4zm0 1zm1-7zm1 6zm1 0zm3-4zm0 5zm1-1zm1-3zm0 4zm5-5zm3-2zm2 5zm1-4zm1-1zm0 6zm3-4zm0 4zm1-5zm0 5zm3 1zm2-3zm0 2zm4-6zm3 4zm36 0zm14 3zm60-2zm2 5zm-110 3zm-8 2zm-4-3zm-2 3zm-1 0zm-1 0zm-11-2zm-1 0zm0-2zm0-1zm-2 5zm-1-5zm0-2zm-1 0zm-1 3zm0-1zm-2 1zm-1 3zm0-1zm-1 2zm0-4zm-2 0zm-1-3zm-1 5zm0-3zm-1 5zm-63-5zm-1 5zm0-1zm0-5zm-1 5zm1 3zm1-1zm65 1zm0 6zm1-6zm1 0zm1 3zm4 1zm2-4zm2 0zm0 3zm3-4zm1 7zm1-5zm1-1zm1 2zm1 0zm0 2zm1-2zm1-2zm4 1zm1 5zm2-4zm2 4zm6-1zm5-6zm12 0zm58 6zm-32 8zm-15-4zm-17 2zm-1-1zm-11-2zm-2 6zm-3-1zm0-6zm-4 6zm0-2zm-1-3zm-1 0zm-1-1zm-3 4zm-1-1zm-1-2zm-2 6zm-3-1zm-4-1zm-1-2zm0-2zm-1-1zm-1 3zm-1 2zm-1 2zm-2 0zm-1-7zm-5 10zm0 4zm2-1zm1-3zm1-2zm3 7zm1-1zm1 1zm5-4zm1-1zm1 3zm2-3zm1-1zm0 5zm1-6zm1 3zm2 0zm0 3zm11 1zm50-3zm22-1zm-69 9zm-6 1zm-7 1zm-2-6zm-3 4zm-3-3zm-1-1zm-2 2zm-2 1zm0-2zm-1 4zm-1-2zm-1 4zm-4-6zm-1 4zm-1 2zm-1 0zm0-6zm-3 2zm-1 1zm0-2zm-6 12zm1 1zm2-6zm1-1zm2 0zm0 6zm3 0zm2 0zm1-4zm0 2zm3 0zm2 1zm2-5zm1 6zm1-5zm4-1zm0 1zm3 3zm1-1zm1 1zm1 1zm0 1zm2-1zm2-5zm0 6zm5-6zm7 3zm72 0zm28 0zm-91 6zm-4 3zm-2-3zm-9 0zm-2-1zm-1 5zm0-5zm-2 6zm-1-1zm0-2zm-2 2zm-1-4zm-1 6zm-1-1zm0-3zm-2 3zm-1 0zm-2-1zm-6-3zm-1 2zm-2 2zm-1-1zm-2 0zm-5 2zm0-5zm-1 4zm-2-5zm-1 1zm-1 4zm0-4zm-1-1zm0-1zm-1 2zm-4 8zm0 2zm2-1zm2-3zm2 2zm0 4zm1-2zm0 3zm1-2zm6 1zm4-2zm0 1zm5-4zm3 6zm3-6zm6 3zm0 2zm7-3zm1-2zm9 4zm5-1zm30-2zm-29 12zm-1 0zm-24 0zm-6 0zm-1-5zm-2 3zm-4-2zm-2 3zm-1-4zm-1 4zm-2-1zm0-4zm-8 2zm-2 2zm-1 2zm0-2zm0-4zm-1 7zm-2-2zm0-4zm-2 6zm0-2zm0-1zm-1 3zm0-1zm-1 1zm-2 6zm1-4zm0 2zm1-3zm1 1zm1-1zm3 7zm1-1zm2 0zm0 1zm4 0zm1 0zm1-2zm1-2zm2 0zm3 1zm1-2zm3 3zm2-4zm1 0zm1 0zm0 5zm1-6zm0 7zm1-6zm4-1zm5 7zm12-2zm18 2zm-35 4zm-2 0zm-7-3zm-2 2zm-2 4zm-11-6zm-2 4zm-1 0zm-2-4zm-3 3zm0-3zm-2 0zm-1 2zm-11 8zm1 3zm1-1zm2 2zm0 1zm1-1zm1-2zm0 1zm0 1zm1-5zm1-1zm4 0zm0 2zm0 5zm1-3zm1 1zm3-4zm0 3zm1-4zm0 4zm2 0zm1-3zm1 4zm1-5zm8 1zm3-1zm5 6zm4-1zm18 2zm19-7zm-4 8zm-20 1zm-1 4zm-20 2zm-10-4zm-1 1zm-1-1zm-8 3zm0-5zm-2 1zm-1 1zm-2 1zm-1-3zm-1 5zm0-2zm0-2zm0-1zm-3 4zm0-1zm0-3zm-1 0zm-1 5zm-3 1zm-1 4zm2-3zm0 5zm2-3zm0 1zm2 3zm0 1zm2-6zm0 4zm2 1zm1-3zm1-3zm3 3zm3 2zm2-3zm23 1zm7 1zm3-4zm-13 10zm0-2zm-3 4zm0-4zm-16 2zm-6-1zm-3 2zm-1 4zm-4-2zm0-2zm-3 4zm0-5zm0-1zm-1 4zm-1 0zm0-5zm-1 0zm-2 5zm-3 7zm0 2zm2-3zm2-1zm1-2zm2 0zm1 0zm0 3zm1 3zm1-6zm0 1zm4 0zm0 5zm1-5zm2 1zm6 3zm1 10zm-6 0zm-1-1zm-3-5zm-12 3zm0-4zm-2 5zm-1 2zm0-4zm-1 3zm-2 1zm-2 0zm0 2zm0 1zm3-1zm0 5zm1-4zm1-1zm0 6zm1-1zm1-6zm0 5zm1 0zm1-5zm1 5zm1-5zm7 0zm0 2zm0 3zm5 1zm4-5zm1-1zm2 15zm-13-5zm-2 0zm-11-2zm-3 6zm0-3zm-1-3zm-1 4zm-1-1zm-1 8zm0 1zm1 2zm4 0zm6-6zm5 1zm12 2zm-3 10zm-22-3zm-1 1zm-6 3zm-2-1zm-3 10zm1-2zm2 0zm1-5zm2 5zm0 2zm1 0zm1-5zm17-2zm-17 15zm-2-5zm-2 0zm-1-2zm-5 12zm6 1zm3-5zm-4 8zm-3 3zm-3-3zm-1 4zm-1 1zm-3 8zm1 1zm9 5zm-6-2zm-1 1zm-3-1z" stroke="#ff0000" stroke-width="3" stroke-linecap="square" fill="none"/>
<path d="M309.2 293L311.5 294L312.7 295L313.7 296L314.7 297L315.5 298L316.1 299L316.7 300L317.3 301L317.8 302L318.4 303L318.9 304L319.4 305L319.8 306L320.1 307L320.5 308L320.7 309L320.9 310L321.1 311L321.2 312L321.4 313L321.5 314L321.6 315L321.7 316L321.7 317L321.7 318L321.7 319L321.7 320L321.7 321L321.7 322L321.7 323L321.7 324L321.7 325L321.7 326L321.7 327L321.7 328L321.7 329L321.7 330L321.7 331L321.7 332L321.7 333L321.7 334L321.7 335L321.7 336L321.7 337L321.7 338L321.7 339L321.7 340L321.7 341L321.7 342L321.7 343L321.7 344L321.7 345L321.7 346L321.7 347L321.8 348L321.8 349L321.8 350L321.8 351L321.9 352L321.9 353L322.1 354L322.4 355L322.6 356L322.9 357L323.1 358L323.3 359L323.6 360L323.8 361L324 362L324.3 363L324.5 364L324.8 365L325 366L325.2 367L325.4 368L325.6 369L325.8 370L326 371L326.2 372L326.2 373L326.2 374L326.2 375L326.2 376L326.2 377L326.2 378L326.2 379L326.2 380L326.2 381L326.2 382L326.2 383L326.2 384L326.2 385L326.2 386L326.2 387L326.2 388L326.2 389L326.2 390L326.2 391L326.2 392L326.2 393L326.2 394L326.2 395L326.2 396L326.2 397L326.2 398L326.2 399L326.2 400L326.2 401L326.2 402L326.2 403L326.2 404L326.2 405L326.2 406L326.2 407L326.2 408L326.2 409L326.2 410L326.2 411L326.3 412L326.4 413L326.5 414L326.6 415L326.7 416L326.8 417L326.9 418L327 419L327.1 420L327.2 421L327.3 422L327.4 423L327.5 424L327.6 425L327.7 426L327.8 427L327.9 428L328 429L328.1 430L328.2 431L328.2 432L328.2 433L328.2 434L328.2 435L328.2 436L328.2 437L328.2 438L328.2 439L328.2 440L328.2 441L328.2 442L328.2 443L328.2 444L328.2 445L328.2 446L328.2 447L328.2 448L328.2 449L328.2 450L328.2 451L328.2 452L328.2 453L328.2 454L328.2 455L328.2 456L328.2 457L328.2 458L328.2 459L328.2 460L328.2 461L328.2 462L328.2 463L328.2 464L328.2 465L328.2 466L328.2 467L328.2 468L328.2 469L328.2 470L328.2 471L328.2 472L328.2 473L328.2 474L328.2 475L328.2 476L328.2 477L328.2 478L328.2 479L328.2 480L328.2 481L328.2 482L328.2 483L328.2 484L328.2 485L328.2 486L328.2 487L328.2 488L328.2 489L328.2 490L328.2 491L328.2 492L328.2 493L328.2 494L328.2 495L328.2 496L328.2 497L328.2 498L328.2 499L328.2 500L328.2 501L328.2 502L328.2 503L328.2 504L328.2 505L328.2 506L328.2 507L328.2 508L328.2 509L328.2 510L328.2 511L328.2 512L328.2 513L328.2 514L328.2 515L328.2 516L328.2 517L328.2 518L328.2 519L328.2 520L328.2 521L328.2 522L328.2 523L328.2 524L328 524L327.8 523L326.3 522L326.8 521L326.5 520L326.5 519L326.5 518L326.6 517L325.8 516L324.8 515L324.9 514L323.5 513L323.1 512L323 511L323.4 510L323.3 509L321.7 508L321.8 507L319.9 506L320.3 505L319.2 504L318.3 503L319.6 502L319.1 501L317.7 500L318.1 499L318.4 498L317.4 497L315.5 496L315.8 495L315.6 494L314.7 493L315.3 492L314.3 491L313.7 490L314.7 489L312.8 488L314 487L312 486L312.6 485L311.9 484L311.3 483L311.8 482L310.7 481L310 480L309.5 479L310 478L310.9 477L309.5 476L309.2 475L309.4 474L308.6 473L308.4 472L307.5 471L307.5 470L308 469L306.7 468L306.3 467L306.5 466L306.8 465L305.2 464L305 463L304.8 462L304.3 461L303.5 460L303.4 459L303.5 458L304.1 457L301.6 456L302.7 455L301.4 454L301.5 453L300.8 452L301.7 451L299.2 450L299.4 449L298.5 448L300 447L299.6 446L299 445L297.7 444L297.1 443L296.8 442L295.8 441L295.6 440L296.4 439L296.6 438L295.4 437L295.5 436L295.6 435L295.6 434L294.5 433L294.7 432L295.1 431L294.5 430L292.8 429L294 428L293.2 427L292.6 426L293.2 425L293.9 424L294.2 423L292.7 422L293.8 421L293.4 420L292.7 419L292.1 418L293.3 417L292.3 416L293.2 415L291.6 414L293.5 413L293.3 412L292.5 411L292.1 410L291.4 409L291.2 408L292.7 407L291 406L291.4 405L292.5 404L292.3 403L291 402L290.7 401L292.3 400L292.2 399L290.6 398L291.1 397L291.3 396L290.1 395L291.2 394L291.3 393L290.7 392L291.4 391L290.6 390L291.6 389L291.5 388L291 387L290.9 386L289.8 385L290.9 384L291 383L289.3 382L291.2 381L290 380L289.6 379L290.6 378L291 377L289.6 376L290.9 375L289.9 374L289.6 373L291.1 372L291.4 371L291 370L291.7 369L290.7 368L291.9 367L290.6 366L291.9 365L291.4 364L291.2 363L292.1 362L290.8 361L292.5 360L292.5 359L292.3 358L292.6 357L291.3 356L290.9 355L292.3 354L292.9 353L292.6 352L291.5 351L291.9 350L293.2 349L292.5 348L291.3 347L292.5 346L291.6 345L293.1 344L293.7 343L291.8 342L291.6 341L292.9 340L292 339L293 338L292.3 337L293.9 336L293.4 335L293.6 334L293.4 333L292.6 332L292.3 331L292 330L292.1 329L293.7 328L293.4 327L293 326L293.4 325L293.1 324L293.4 323L292.8 322L293.7 321L293.6 320L294.6 319L294.2 318L294.4 317L294.7 316L293.8 315L295 314L294.8 313L293.9 312L293.9 311L293.3 310L293.4 309L295.6 308L294.3 307L294.3 306L296.2 305L296.1 304L297.1 303L296.2 302L296.9 301L297.5 300L298.7 299L298.4 298L299.3 297L300.4 296L301 295L303.5 294L305.4 293Z" fill="#0000ff"/>
<path transform="scale(.5)" d="M557 179zm29 14zm-13 20zm33-1zm-22 5zm-20-1zm-35 2zm68 21zm-39 2zm-28 1zm-142 5zm119 24zm35-7zm54 9zm-24 2zm-43 1zm-121 6zm187 12zm-45 0zm-169 5zm142 4zm25-5zm13-2zm3 0zm20 13zm-6-4zm-51 3zm-179 7zm258 8zm-3 3zm-4 1zm-3-2zm-19 2zm-1-2zm-3-3zm-12 3zm0-2zm-178 0zm-11 8zm163 4zm27-2zm40-3zm6 5zm9 2zm-13 4zm-8 1zm-3 0zm-1-4zm-23-1zm-18 3zm-6-3zm-12 0zm-46 6zm61 7zm3-1zm0 1zm21-2zm27 1zm8-1zm23 2zm-5 4zm-21 5zm-7-5zm-5 1zm-12 2zm-2 0zm-18 0zm-18-3zm-16 0zm-220 0zm187 10zm54 0zm3-1zm23 0zm12-3zm5 0zm12 2zm16-2zm7 5zm6 6zm-25 0zm-14-3zm-26 1zm-249-1zm52 8zm178 1zm3 6zm10-3zm16-1zm4 4zm1-7zm3 7zm2-4zm10-1zm11 5zm22 4zm-14 4zm-3-2zm-31 0zm0-1zm-15-2zm-2 3zm-13 2zm-15-7zm-200 8zm9 1zm50 0zm163-1zm5 1zm8 3zm7-4zm2 3zm1-3zm0 4zm4 2zm16-5zm16 2zm14 9zm-1 0zm-6 2zm-1-5zm-1 4zm-15-3zm-2 4zm-3-6zm-19 6zm-1-2zm-7-4zm-2 3zm0-2zm0-1zm-4 6zm-18-2zm-6-2zm-12 1zm-3-2zm-88 4zm-124 7zm152-4zm43 3zm36 2zm6-4zm2 0zm2 3zm4-2zm6-1zm7 0zm5 6zm4-5zm16-1zm4 6zm14-5zm6-1zm7 9zm-1 5zm-14-4zm-4-1zm-1-2zm-4 1zm-6 3zm-20 3zm0-5zm-2 0zm-16 5zm-6-3zm-72-2zm-55-2zm9 10zm110 5zm6-1zm0 1zm1 0zm8-6zm4-1zm2 3zm6 0zm8 2zm2-1zm3 3zm4-2zm5-4zm10 1zm3 2zm1-4zm25 10zm-6-1zm-1 5zm-1-1zm-3 1zm-5-2zm-4 3zm-5-5zm-1 0zm-4 0zm-3 3zm-9-1zm-2 2zm-7-1zm-1-3zm-18 0zm-40 5zm-2-3zm-92 0zm-106-4zm-13 8zm1 3zm81 0zm64-3zm22 7zm65-7zm21 7zm4-2zm5-4zm18-1zm13 6zm3-6zm11 7zm6 8zm-1-4zm0-1zm-7 5zm-3-5zm0-2zm-12 7zm-1-6zm-1 6zm-1-5zm-1-1zm-6 5zm-3-3zm-8 1zm-3-1zm0-1zm-14 0zm-3 2zm0-2zm-2 4zm-3-2zm-14-1zm-18 4zm-8-3zm-49 0zm-26 0zm-89 1zm-62 10zm125 0zm5-1zm26-2zm104-1zm2-1zm4 2zm2 2zm1-5zm0 6zm2-6zm13 4zm1-1zm5-4zm1 5zm5-4zm0 5zm1-2zm2-4zm7 4zm2-1zm2-2zm5-1zm7 1zm1 3zm1-3zm2-1zm2 3zm12 2zm-1 9zm-7-4zm-1-1zm-8 6zm-1 0zm0-7zm-3 7zm0-4zm-1 0zm-4 3zm0-1zm-8 0zm-2-1zm0-1zm-5 3zm-4 0zm-3-2zm-12 2zm-2 1zm-1-5zm-4 2zm-26 1zm-1-4zm-32 5zm-75-1zm-2-1zm-33-1zm-23 7zm37-2zm1 0zm75 6zm18-3zm8 1zm14-4zm6 0zm1 4zm5-1zm15 0zm5 3zm2-1zm3 0zm2-3zm3 5zm2-4zm10-3zm0 4zm1-3zm4 0zm4 6zm5 0zm3-6zm3 3zm5 1zm2-5zm6 6zm2-5zm1 5zm1-3zm0 1zm0 2zm2-5zm3 2zm6-2zm4 1zm3 3zm1-1zm0 2zm-10 7zm-3-1zm-1 0zm-3 0zm-2 0zm-2 2zm-3-5zm-2 2zm-4 4zm-2-2zm-1-2zm-2 3zm-4-4zm-4 0zm-2 5zm-5-1zm-8-5zm0-1zm-9 0zm-7 0zm-1 7zm-8-7zm-1 4zm-1-3zm-5 3zm-2 3zm-9-6zm-8 3zm-45-2zm-37 1zm-95 1zm-3 2zm10 6zm38 0zm32 0zm3 1zm7-5zm47 4zm40-4zm20 6zm15-1zm1-4zm0 1zm1 4zm4-3zm1 1zm1-4zm1 0zm8 2zm0 2zm8-4zm0 3zm9-1zm1 4zm1-1zm1-3zm5 0zm2-1zm4 3zm2 2zm0 1zm1-6zm2 3zm2 2zm3 0zm6-1zm9-2zm2 2zm0 8zm-1 2zm0-2zm-1 2zm-1 0zm-4-5zm-3 3zm0-4zm-2 5zm-3-6zm-3 1zm-1 5zm-1-3zm-3 2zm-1-3zm-2 0zm-1-2zm-1 7zm-1-5zm-2-1zm-2 5zm-1-4zm-4-1zm-3 0zm-2 6zm-6-1zm0-5zm-1 0zm0-1zm-2 4zm-8 0zm-3 2zm-2-4zm-5 4zm-1-6zm-4 3zm-22-2zm-3-1zm-1 1zm-18 5zm-10-2zm-43 3zm-65-5zm-23 1zm-14 4zm-3 0zm-46-7zm28 14zm79-5zm17-1zm69 4zm10 3zm17-4zm5 3zm3 0zm7-1zm5-3zm2 4zm1 1zm2-6zm0 4zm2 2zm1 0zm8-4zm0 2zm0 1zm6-1zm4-1zm4 0zm4-3zm0 2zm0 4zm6-1zm1 0zm1 1zm2 0zm1 0zm4-3zm4-4zm0 7zm6 0zm3-1zm1-1zm1-3zm1 0zm3 4zm1-2zm1-4zm0 6zm1-1zm0 2zm1-7zm3 7zm6-5zm4-1zm-6 9zm-2-2zm-3 4zm0-2zm-4 1zm0-3zm-1 2zm-1 4zm-2 1zm-1-5zm-2 0zm-1 3zm0-2zm-1 0zm-1 4zm-1-1zm-3-2zm-1 3zm-2-2zm-11 1zm0-4zm0-2zm-8 3zm-1 2zm0-5zm-2 0zm-1 6zm0-1zm-1 1zm-4-3zm-1-2zm-3 4zm-6 1zm-2-5zm0-1zm-8 7zm-2-6zm-1 4zm-3-4zm-4 2zm-1-2zm-10 0zm-17 1zm-16 2zm-6 2zm-43-3zm0-1zm-35 1zm-174 11zm104-2zm16 1zm22 0zm100-5zm14 1zm17 0zm20 3zm4 0zm1-4zm9 6zm1-2zm1 1zm3-3zm4 5zm8-7zm8 6zm2-3zm1 1zm3-1zm0 2zm7 2zm2-4zm0 4zm3-4zm1 4zm1-3zm2-1zm0 1zm1-3zm1 4zm2 2zm1-5zm3 4zm1-6zm0 4zm1-4zm2 6zm1-6zm1 0zm3 3zm0 3zm4-6zm11 7zm1-6zm0 2zm5-3zm0 1zm0 1zm0 3zm-2 3zm-1 5zm-1-1zm-7-2zm-2-1zm-3 3zm0-3zm-2 4zm0-3zm-1 3zm-2-4zm-3 4zm-1 1zm-1-2zm0-4zm-3 5zm-2 2zm0-1zm-4-3zm0-2zm-1 6zm0-2zm0-1zm-4 2zm-1 0zm-1-1zm0-2zm-1 0zm-2-3zm-1 7zm0-2zm-3-5zm-1 6zm-1-4zm-3 0zm-5 5zm-1-3zm-1-4zm-5 2zm-2 3zm-3 1zm-2 1zm0-5zm-2 2zm-2 0zm0-2zm-2 0zm-6 2zm-4-3zm-9 0zm-2-1zm-1 0zm-2 4zm-2-1zm-4-3zm-5 3zm-55 4zm-13-1zm-51-3zm-19 4zm-4-3zm-24-2zm-35 5zm-59-2zm-7 2zm-1 1zm9 5zm40 0zm16 1zm72-1zm25 1zm10-5zm11-1zm27 2zm10 4zm8-5zm23 5zm12-5zm7 2zm20 3zm1 0zm5-3zm6 3zm1-2zm5 2zm2-6zm4 5zm9-3zm2-1zm0 1zm2 4zm1-4zm0 5zm4-2zm1-5zm3 0zm2 4zm1-2zm2-2zm3 1zm1-1zm1 3zm4 0zm2 4zm3-3zm1-3zm0 1zm1 3zm1-2zm2 2zm1-5zm0 5zm5-5zm1 3zm0 4zm3-7zm0 3zm1 1zm6-3zm0 2zm1-2zm4 2zm4 4zm1-2zm1 2zm-11 5zm0-3zm-1 0zm0-1zm-1 7zm-4-4zm0-1zm-2 4zm-1-4zm0-1zm-1 6zm-2-1zm0-1zm0-5zm-1 4zm-1-1zm-1 4zm0-7zm-3 1zm-3 2zm0-3zm-2 3zm-1-2zm-1 6zm-2-3zm-2 1zm-6 2zm-1-4zm-5 2zm-1-3zm-1 5zm0-2zm0-4zm-2-1zm-1 5zm-3-5zm-15 4zm-7 1zm-3-3zm-10 5zm-3 0zm-2-6zm-12 0zm-5 2zm-1 0zm-4 3zm-11 0zm-2 1zm-15 0zm-1 0zm-18-5zm-5 0zm-38 3zm-6-1zm-17-2zm-21 2zm-37-3zm-14 4zm-26-5zm-23 2zm-4-1zm30 7zm67 4zm25-4zm16 3zm23-1zm8 3zm10-1zm10 0zm19 0zm2-2zm20 5zm12-4zm3 4zm16-6zm3 0zm1 1zm1-1zm2 3zm2-1zm3-2zm1 0zm2-1zm3 2zm8 2zm5 2zm1 0zm1-3zm1-1zm2 4zm3-1zm2 0zm1-3zm0 1zm2-2zm1 4zm8-1zm1-3zm3 3zm0 3zm1-5zm1 2zm1-2zm0 5zm1-5zm1 2zm1-1zm1 2zm1-2zm1-2zm2 1zm0 4zm1-4zm0 1zm1-2zm2 0zm0 2zm4 0zm0 1zm1 1zm4-5zm0 6zm1-6zm0 1zm0 2zm0 3zm2-5zm0 2zm1-2zm0 1zm0 3zm1-5zm1 2zm2 0zm8 8zm-1 4zm-1-4zm0-2zm-2 6zm-1-2zm-2 3zm-1-2zm-1 0zm0-5zm-1 6zm0-1zm-1-3zm-3 2zm0-4zm-1 1zm-2 0zm-1 4zm0-2zm-1-2zm-2 3zm-1-1zm-1-1zm-1 4zm0-2zm0-1zm0-2zm-1 6zm0-4zm-3 1zm0-4zm-2 3zm-1-2zm-1 6zm-1-3zm-2 0zm-1-1zm-1-2zm-3 5zm-7-3zm-1 4zm0-2zm0-1zm-3 1zm-5 1zm0-3zm-2-1zm-2 5zm0-7zm-2 4zm-2-4zm-1 5zm-2 2zm-5-3zm-8-3zm-13 5zm-6-3zm-2 2zm-2 1zm-10-4zm-4 5zm-9-4zm-27 3zm-13-1zm-6 2zm-8-6zm-212-1zm-15 1zm-2 0zm108 7zm5 1zm34 2zm48-3zm1 4zm12 1zm17-5zm10 6zm6-5zm10 0zm9 0zm4 2zm11 1zm5 0zm14 2zm1 0zm6-5zm3 5zm13 0zm1-5zm5 3zm2 1zm2-3zm0 2zm5 3zm3-6zm2-1zm0 2zm1-1zm1 1zm2-2zm0 5zm2 1zm1-4zm2 3zm5-2zm1-3zm6 3zm1 4zm2 0zm5-3zm1-4zm1 3zm0 2zm1-5zm0 6zm2-1zm1-2zm1-1zm0 2zm1 1zm1-2zm1-3zm0 5zm2-3zm0 3zm1-4zm1 1zm0 3zm6-1zm2-1zm1-2zm1 2zm1 0zm0 1zm1 3zm1-6zm2 2zm3-2zm1 0zm1-1zm1 6zm0 1zm2 0zm1-2zm0 1zm2 1zm2-6zm1 5zm1-4zm0 1zm0 5zm-1 4zm0-1zm-1 4zm-3-3zm-1 0zm-2 1zm-1 1zm-1-5zm-2 6zm-1 0zm-1-7zm-1 3zm-1 4zm0-4zm-1 2zm0-5zm-1 5zm0-2zm0-2zm-4 4zm-2 0zm-1 0zm-1 0zm-2-3zm-2 4zm0-1zm-1 2zm0-1zm-1-3zm-1-2zm-1 5zm0-5zm-1 6zm-2 0zm0-2zm0-1zm-1-1zm-1 3zm0-6zm-1 6zm-1-3zm-2 4zm0-4zm0-2zm-1 6zm0-1zm-1-1zm0-4zm-3 3zm-1 0zm-1-1zm-1 1zm-1-4zm-1 5zm0-5zm-2 5zm-1 2zm-1-6zm-2 1zm-3-2zm-3 7zm0-7zm-3 5zm0-1zm-2 2zm-3 1zm-9 0zm-1 0zm-1-6zm0-1zm-9 4zm-4 0zm-3-2zm-8-1zm-4-1zm-1 7zm-1-2zm-3 2zm-3-5zm-10 0zm-1 3zm-4 0zm-12 2zm-15-5zm-36-1zm-4-1zm-33 7zm-31-1zm-7-1zm-94 2zm-19-3zm-31 8zm39 2zm11-3zm40 3zm7-4zm10 0zm13 2zm26-4zm2 4zm37 0zm1 2zm2-2zm3-3zm8 6zm22-2zm8-2zm4-2zm13 6zm16-6zm17 1zm2 3zm7 1zm11-5zm1 1zm15 3zm6-1zm7-4zm1 2zm1 2zm5-1zm0 4zm1-4zm5-3zm3 2zm0 4zm1-5zm4-1zm2 5zm2-3zm1 0zm0 3zm1-5zm0 3zm2 0zm0 1zm1-4zm2 1zm0 2zm3-3zm0 2zm0 5zm1-7zm0 3zm1 2zm0 2zm1-6zm0 2zm3 1zm0 3zm1-2zm1-5zm2 6zm1-2zm0 1zm1-3zm3 2zm4-2zm1-2zm1 0zm2 0zm1 0zm2 1zm3 1zm2-1zm5 4zm1-1zm1-3zm0 2zm1-1zm1-2zm1 2zm0 3zm1-4zm1 0zm0 6zm2-5zm0 2zm2-2zm0 3zm1-1zm1-4zm0 5zm3 1zm1 0zm1-1zm-2 3zm-2 5zm0-5zm-2 6zm-2-5zm-1 3zm0-2zm-1 3zm0-3zm0-2zm-1 1zm-30-1zm-6 4zm-1-4zm-1 3zm-1 0zm0-1zm-1 5zm-2 0zm-1-3zm0-3zm-1 5zm0-4zm0-1zm-1 5zm-1-3zm0-1zm-1 3zm-1 0zm0-1zm0-1zm-1 4zm-1-7zm-1 6zm-2-2zm0-1zm0-2zm-2 2zm0-3zm-1 6zm-1 1zm-2-6zm0-1zm-4 3zm-1 1zm-2 2zm-3-3zm-1 4zm-1-3zm0-4zm-2 0zm-4 4zm-1-1zm-3-1zm-1-2zm-9 2zm-9 0zm-1 3zm-5-3zm-38 5zm-34-4zm-4 2zm-4-1zm-10-1zm-14 0zm-7 2zm-10-1zm-6 0zm-12 3zm-19-3zm-4 0zm-22 0zm-102-1zm-69 2zm22 5zm139-1zm1 3zm20-1zm12 0zm30 2zm8 1zm10 1zm1-2zm35 0zm7-5zm7 2zm5 4zm7-6zm6 4zm12 2zm7-5zm2 6zm1-5zm0 4zm12-1zm3 0zm5 1zm3-4zm4 5zm5-7zm0 2zm1-2zm2 1zm5-1zm0 7zm1-4zm2-1zm2-1zm9 3zm3 3zm2-7zm3 0zm0 3zm9-3zm4 3zm0 1zm2-2zm0 1zm2 1zm1-1zm1 0zm0 2zm1-5zm2 0zm0 2zm0 2zm1 2zm2-5zm1 1zm0 3zm2 0zm2-5zm41 0zm0 2zm0 1zm1-2zm1-1zm0 4zm2-1zm1-3zm0 7zm1-3zm1-4zm0 4zm2 2zm-2 7zm0-4zm-1 6zm-1-5zm0-1zm-1-1zm-55 6zm0-2zm0-2zm-1 2zm0-3zm-3 1zm0-1zm-1 5zm-1 1zm-3-1zm0-1zm0-1zm-1-3zm-6 4zm-1-2zm-1-3zm-1 7zm-3-7zm-2 4zm0-2zm-1 0zm-2 2zm-4-1zm-1-1zm-11 0zm-1-2zm-5 6zm-5-2zm-15-2zm-4 0zm-1-1zm-6 1zm-2 3zm-9 0zm-10 2zm-7 0zm-9-7zm-1 6zm-2 1zm-41-7zm-4 5zm0-4zm-9-1zm-25 1zm-5 0zm-44 4zm-103-4zm21 11zm64-2zm17 3zm27-5zm1 1zm22 2zm3 0zm19 1zm25 3zm7-4zm20-1zm1 3zm11-5zm0 1zm15-1zm0 1zm9 0zm5 6zm3 0zm1-1zm4-6zm0 3zm7-1zm8 2zm7-4zm3 6zm5 1zm11-6zm6 4zm4-5zm2 5zm0 2zm1-1zm3-5zm1 1zm1 3zm2-5zm2 2zm1 1zm2-2zm1-1zm0 1zm1 4zm0 2zm1-6zm1 5zm1 0zm3-4zm0 2zm1-2zm1 1zm57-2zm1 4zm1-4zm0 4zm-1 5zm-1 1zm-53 1zm-1 0zm-3 3zm0-5zm-1 2zm-1-4zm-2 7zm-2-5zm-1 5zm0-3zm-1 1zm-1 2zm-1-2zm0-4zm-1-1zm-1 3zm-3-3zm-3 5zm0-2zm-4 2zm-2-3zm-1-1zm-8 6zm-10-7zm-7 0zm-2 4zm-4-1zm-1-2zm-15 5zm-6 1zm0-7zm-7 6zm-2-6zm-2 6zm-6-1zm-7-1zm-10-2zm-1 3zm-1-2zm-3-1zm-23 3zm-6 2zm-43 0zm-2-5zm-10 2zm-56-2zm-26 1zm-12 3zm-1 1zm-1-3zm-52-3zm-35 2zm-7 6zm100 2zm14-3zm6 4zm22 0zm4-3zm30 3zm22 1zm25 2zm11-4zm5-3zm17 3zm9 0zm13 3zm8-1zm3-3zm9 0zm2 0zm11 5zm4-6zm2 3zm4-2zm2 2zm1-1zm3-3zm9 6zm4-5zm0 2zm5 2zm1-5zm1 4zm4 2zm2-2zm5-4zm2 4zm7-2zm2-2zm3 3zm6-2zm3 1zm1 1zm4 0zm1-2zm0 3zm2-3zm1 6zm2-7zm0 4zm1 1zm2-5zm58 0zm-1 10zm-61 1zm-1 2zm-1 2zm-2-7zm-1 5zm0-5zm-3 4zm0-1zm-1-1zm-2 3zm-1 2zm0-6zm-2 1zm-1 0zm-1 4zm-4-5zm-4-1zm-1 5zm-7 0zm0-1zm-4-4zm-8 0zm-2 0zm-8 2zm-5 1zm-10 0zm-4 0zm0-3zm-12 6zm0-5zm-6 1zm-6 5zm-27-5zm-20 5zm-15-2zm-7-2zm-12 4zm-17 0zm-1-5zm-19 4zm-3-2zm-2-1zm-37 1zm-40 2zm-39 1zm-27-1zm-6-3zm-34-1zm130 6zm50 4zm19-3zm8 2zm45-1zm2 4zm4-5zm23-1zm0 5zm6 1zm3-6zm2 1zm2 2zm10 1zm2-2zm7 2zm7-3zm10 4zm2 2zm11-1zm2-2zm1-2zm8 3zm11-3zm0 5zm2-6zm4 1zm1-2zm0 2zm5 5zm1-4zm2 0zm0 2zm1 0zm1 1zm0 1zm2-6zm2 5zm2-2zm2-4zm0 5zm1 2zm1-7zm2 1zm5-1zm0 5zm2 2zm1-6zm1 3zm0 2zm0 1zm1-6zm62-1zm0 2zm1 5zm2 5zm-3-3zm-62-1zm-2 2zm-1 2zm-2 0zm0-2zm-1 0zm-1 0zm0-1zm-1 5zm0-5zm-1 5zm-1 1zm0-1zm-2 0zm0-4zm-2 5zm0-6zm-1 6zm-1 0zm-4-6zm0-1zm-1 4zm-1-2zm-2 5zm-1-2zm-1-5zm-5 1zm-8 0zm-2 3zm-9-4zm-1 0zm-2 1zm-1 5zm0-2zm-3-3zm-1-1zm-3 5zm-2 1zm-4-4zm-7 1zm-4 0zm-6-2zm-1-1zm-2 2zm-5 1zm-3-2zm-4 5zm-1-2zm-21-1zm-18 3zm-5-4zm-2-2zm-2 5zm-8-3zm-34-1zm-5 5zm-37 0zm-7-2zm-8 0zm-8 1zm-40-4zm-3 4zm-79 5zm48 0zm6 1zm14 1zm103 3zm3-7zm2 0zm6 3zm10 0zm5 3zm5-4zm5-1zm10 0zm2 3zm6 1zm2 0zm7-3zm1 2zm9-2zm12-1zm33 2zm0 3zm1-2zm14-2zm0 2zm3-1zm1-1zm1 3zm2-2zm1-3zm1 5zm0 1zm4-2zm3 2zm0 1zm1-1zm2-1zm2 0zm2-3zm5-1zm1-1zm1 1zm4 6zm5-1zm1-6zm1 3zm1 3zm1-6zm2 5zm2 1zm1-5zm1 4zm5 1zm0 1zm1-7zm0 7zm2 0zm1 0zm4 0zm1-6zm0 6zm1-2zm2 0zm1-3zm1-1zm1 0zm0 3zm2 1zm1 1zm1-1zm60-2zm1 4zm3-7zm2 2zm0 2zm1 2zm-3 3zm-3 3zm-1 2zm-60-6zm-2 5zm-1-1zm0-3zm-1 6zm-2-3zm-2 2zm-3-4zm-2 3zm0-5zm-1 1zm0-1zm-1 0zm-4 3zm-3-3zm-1 7zm0-4zm-2 2zm-3-1zm-4 2zm0-1zm-2 2zm0-3zm-2-2zm-1-2zm-1 0zm-2 6zm-3-1zm-1-3zm-7-1zm-1 4zm-3-1zm-6 1zm0-1zm-12-3zm-21 4zm-17-3zm-7-2zm-7 3zm-7-1zm-24 5zm-4-2zm-9-5zm-26 3zm-32-2zm-58 5zm-3-3zm-11 2zm-106 0zm144 7zm14-3zm20 3zm20 3zm45-6zm10 1zm9-1zm24 4zm3-2zm19-1zm16-1zm0 3zm3 0zm5 0zm3 2zm3-1zm17-4zm1 1zm0 3zm7-1zm2-3zm1 4zm7-5zm0 7zm2-4zm3-3zm2 5zm2-4zm0 2zm2-3zm3 3zm0 4zm1-7zm1 4zm0 1zm1-1zm2 2zm2-6zm0 4zm5 2zm2-1zm0 1zm1-5zm0 6zm1-6zm0 3zm1 1zm59-4zm3 2zm0 4zm1-6zm2 3zm2-4zm-1 8zm-6 7zm-62-5zm0-1zm-1 0zm-1 6zm-1-3zm0-3zm-2 4zm0-1zm-1-2zm-1 2zm0-2zm-3 2zm-1 0zm-2 2zm0-4zm-2 1zm0-3zm-1 2zm-7-1zm-2 6zm-6-3zm0-2zm-3 2zm-4 3zm-3-7zm-5 6zm-1-3zm-8 2zm-6-4zm-4 0zm-16 6zm-1 0zm-13-5zm-4 2zm-4 3zm-4-3zm-1-1zm-9-1zm-9 3zm-2-2zm-101 1zm-9 0zm-4-2zm-11 1zm-10-2zm-6 2zm-63 2zm-27 2zm16 7zm5-3zm28-1zm9 3zm51-1zm14-2zm7 1zm67-3zm18 0zm4 7zm4-4zm1 0zm3 4zm9-5zm4 0zm0 3zm19 0zm2-3zm2-1zm5 5zm7-4zm2 0zm1 1zm2-3zm8 6zm5-2zm1 0zm2-2zm0 4zm9 0zm1 1zm1-4zm0 4zm11-7zm3 5zm3-1zm4 3zm1-7zm0 2zm0 4zm2-1zm1-5zm0 2zm0 2zm6-1zm1-1zm2 5zm3-5zm0 1zm0 2zm4 1zm0 1zm1-4zm0 2zm5-4zm0 2zm1 3zm2 1zm1-5zm0 1zm0 2zm1-5zm0 3zm0 3zm2-4zm59 3zm1-3zm1 4zm2-5zm0 2zm0 4zm4-4zm1 4zm-1 5zm-1 2zm-1-2zm-2 0zm0-4zm-1 4zm-1 3zm-1-1zm-1-4zm-62 1zm-1 3zm0-5zm-1 3zm-1-1zm-1 4zm-1-6zm-1 6zm0-2zm0-5zm-3 3zm0-1zm0-1zm-1 6zm-1-2zm0-4zm-2 6zm-6-1zm-3-5zm0-1zm-2 6zm0-3zm-1-1zm-2 2zm-1 2zm0-5zm-2 1zm-2 3zm-1 2zm0-2zm0-3zm-4 0zm-7 5zm-5 0zm-6-2zm-1-3zm-15 4zm-4-1zm-1-5zm-2 2zm-6 1zm-1 0zm-3-2zm-10 2zm-22 4zm-2-2zm-9 1zm-12 0zm-18-5zm-7 1zm-14 0zm-49-2zm-48 5zm-15-4zm-17 3zm-94 10zm68-4zm34 4zm39-5zm16 1zm6 3zm7-4zm4-1zm5 6zm17-1zm3 2zm20-2zm3-5zm7 1zm24-1zm1 7zm24-4zm28 1zm10-2zm8-2zm0 3zm2 2zm1-4zm0 3zm4-1zm7-3zm1 1zm0 1zm5 3zm2-1zm5-1zm1-2zm1 0zm0 5zm1-3zm0 1zm2 1zm3-4zm1 0zm8 6zm6-1zm1-6zm0 4zm3-2zm1 0zm0 4zm1-6zm1 3zm2-1zm1-2zm0 3zm1 1zm0 2zm1-5zm1 1zm1 1zm1 4zm1-5zm0 1zm0 4zm2-4zm0 1zm4 3zm1-6zm1 6zm1-5zm0 5zm2-3zm0 2zm1-5zm0 4zm1-4zm0 3zm0 1zm1-2zm0 4zm1-5zm0 2zm1-3zm1 4zm0 1zm61-5zm1 0zm1 1zm1 3zm2-5zm1 7zm1-6zm0 3zm0 2zm0 8zm-1 1zm0-1zm0-2zm-2 2zm0-1zm-1 0zm-67 2zm-1-2zm-1-1zm0-1zm0-3zm-1 7zm0-1zm0-1zm0-1zm-1 2zm-2 1zm0-7zm-3 5zm-1 0zm-1 2zm0-5zm-1-1zm0-1zm-2 3zm-1 0zm-2-1zm0-2zm-7 3zm-1-3zm-2 4zm0-3zm-2 6zm-1-1zm0-6zm-6 1zm-1 2zm0-3zm-1 3zm-3 1zm0-2zm-4-1zm-2 4zm0-1zm0-1zm-4 3zm-15 1zm-5-5zm-1 5zm-13-5zm-6 2zm-3-1zm-2 3zm-51-3zm-23 4zm-1-4zm-16-3zm-4 7zm-29-6zm-10-1zm-123 5zm-10-3zm-7 5zm55 5zm25 3zm23-4zm6 2zm58-5zm6 5zm21-1zm24-1zm5-2zm17 0zm4 4zm18 2zm13-5zm1 5zm19-5zm9 1zm8-2zm0 4zm6 0zm1-3zm0 1zm1-3zm3 2zm4 2zm6-2zm1 3zm1-4zm4 5zm1 1zm3-6zm4 0zm0 1zm3 0zm2 3zm2-5zm1 2zm1 2zm0 3zm1-3zm2 2zm1-6zm0 2zm0 2zm0 3zm2-2zm2-2zm1 1zm1 0zm0 1zm1-4zm0 2zm1 0zm0 4zm1-6zm0 4zm1-4zm0 5zm2-1zm68-5zm0 3zm1 2zm0 1zm1-6zm0 6zm0 4zm-1-1zm-1 4zm0-1zm-67-3zm-1-1zm-2 6zm0-3zm0-1zm0-2zm-1 2zm-1-1zm-1 3zm0-3zm0-1zm-1 7zm0-1zm-1-4zm-1 4zm0-5zm-1 3zm-4-2zm-1 2zm-1 1zm-4 1zm0-3zm-4 0zm-1 3zm-1-6zm-2 3zm-3 2zm0-2zm-6 0zm-2 3zm-1-4zm0-1zm-3 3zm-5 3zm-2-3zm-10 0zm-1 1zm-2 2zm0-6zm-14 6zm0-4zm-4-2zm-2-1zm-8 1zm-1 4zm-1-4zm-4 1zm-2-1zm-9 6zm-10-6zm-5 0zm-12 3zm-18 2zm-9-4zm-113 0zm-23 0zm-78 8zm40 5zm95-3zm53 3zm22-4zm12-1zm7 0zm18 5zm5-4zm2 0zm7-3zm0 3zm1 1zm1 2zm10 1zm8-5zm7 1zm2 0zm3 4zm1-5zm10-1zm4 2zm7-2zm9 4zm1 0zm0 2zm1-4zm1-3zm2 3zm0 4zm2-7zm0 7zm3-2zm2-5zm1 4zm1 1zm1-3zm0 1zm0 2zm3-2zm6-1zm0 5zm1-7zm2 3zm1 0zm1-3zm0 2zm5-1zm2 2zm1 0zm2 4zm1-1zm2-4zm0 5zm1-1zm1-4zm0 2zm1 1zm1-3zm0 2zm0 3zm0 2zm0-1zm-1 0zm-2 0zm-1 3zm-4 2zm0-3zm-3 0zm-2-2zm-5 5zm-1 1zm-2 1zm0-7zm-2 6zm-1-1zm-1 2zm-1-5zm-3 3zm-4-1zm-1 1zm-3-2zm-2 4zm-1-5zm-3-2zm-4 5zm-1 2zm-2-6zm-3-1zm-2 4zm-2 3zm-4-4zm-2-1zm-3 3zm-5 0zm0-4zm-1 0zm-5 3zm0-3zm-1 3zm-3 2zm-2-6zm-5 7zm-1-2zm-4-1zm-2-2zm-2 2zm-5-4zm-1 7zm-1-2zm-9-3zm-1 3zm-3-2zm-5 0zm-1-2zm-10 4zm-14 0zm-10-5zm-15 2zm-21-1zm-14-1zm-8 7zm-5-7zm-21 1zm-19 5zm-43 9zm26-3zm28 0zm29-1zm8 1zm32-4zm26 5zm23-3zm2-1zm33 0zm8-1zm2 1zm5 6zm14-6zm3 4zm4-3zm1 3zm1 0zm2 1zm1 1zm1-4zm3 0zm2 2zm2-2zm0 1zm3 1zm4 1zm6-2zm1-1zm2 1zm2-2zm1-2zm3 0zm2 4zm2-4zm1 6zm1-6zm1 6zm1 0zm1 1zm1-5zm1 5zm1-5zm2 0zm3 4zm1 0zm1-5zm3 4zm1 2zm1-5zm0 5zm3 0zm1-6zm-1 7zm-2 1zm-1 1zm-1 4zm0-3zm0-2zm0-1zm-1 7zm0-1zm-1 1zm0-3zm-1-4zm-2 6zm-1-3zm-1 3zm-2 1zm0-2zm0-2zm0-1zm-1 2zm-1 2zm-1 1zm0-6zm0-1zm-2 6zm-1-3zm-1-2zm-2 3zm-1 3zm-1-2zm0-3zm-4-1zm-1 2zm0-3zm-1 4zm-1-4zm-9 2zm-2 1zm0-1zm-1 0zm-1 4zm-3 0zm-7-1zm-7-1zm-1 2zm-7 0zm-2 1zm-2 0zm-2-3zm-4-4zm-3 1zm-3 4zm-6 0zm-2-2zm-15 0zm-1 4zm0-3zm-7 3zm-1-6zm-3 1zm-1-2zm-9 1zm-3 1zm-58-1zm-40-1zm-7 4zm-58 2zm-2-1zm-36-2zm-59 0zm-14 4zm188 4zm27-2zm6 3zm14 3zm18-3zm1 0zm10-1zm5-3zm1 6zm4-3zm6 2zm7-4zm12-1zm8 2zm4 0zm10-1zm1-1zm2 2zm2 2zm1-3zm2-1zm0 6zm6-1zm0 2zm3-6zm3 6zm1 0zm4-3zm1 3zm5-7zm0 4zm1 2zm1-6zm4 4zm3 2zm1-6zm1 5zm1-2zm1 0zm2-2zm1 0zm3 4zm0 2zm2-3zm0 3zm4 0zm1-5zm3-2zm2 4zm1 1zm1-2zm1 2zm3-2zm1-2zm0 1zm1 2zm0 3zm2-7zm0 7zm1-2zm1-2zm2-3zm0 2zm1 4zm3-5zm2 4zm0 1zm2-6zm0 1zm0 5zm3-4zm73 10zm-78-3zm-2 6zm0-5zm-1 5zm0-6zm-2 5zm-3-4zm-5 5zm0-1zm0-5zm-1 4zm0-4zm0-1zm-3 7zm-1-1zm-2-6zm-1 7zm-1 0zm0-2zm0-2zm-1-1zm-10 2zm-2 3zm0-7zm-2 5zm-1-1zm-5 0zm-2-4zm-5 0zm-5 4zm0-1zm-4 4zm-3-1zm-2-1zm-3-2zm-2 2zm-12-4zm-4 3zm-6-3zm-5 6zm0-3zm-22-2zm-116-1zm-69 2zm-60 1zm-9-3zm-9 5zm7 3zm142-1zm21 7zm5-7zm15 0zm45 5zm16-1zm4-1zm12-1zm4 1zm9 2zm3-4zm0 6zm3-2zm23-3zm8 2zm10-1zm7 1zm2-4zm1 0zm0 4zm1-1zm1-3zm0 2zm3-2zm2 1zm8 1zm0 1zm0 3zm2-2zm0 3zm4-4zm2 2zm5 2zm1-2zm5-3zm0 1zm0 1zm1 2zm2-6zm0 5zm1-4zm1 1zm0 1zm1 3zm1-5zm1 1zm3 3zm1-1zm1-3zm0 3zm0 1zm1-5zm0 3zm1 4zm3 0zm71-4zm-1 12zm0-1zm-71-4zm-1 0zm0-1zm-1 4zm0-3zm-5 4zm0-3zm0-1zm0-2zm-1 1zm-2 0zm-1 6zm0-5zm-1-1zm-1 5zm0-5zm-4 6zm-3-4zm-1 3zm0-2zm-3 1zm0-5zm-1 4zm0-2zm-1 3zm0-2zm-2 4zm-2-4zm-2 1zm0-1zm0-3zm-2 4zm0-4zm-1 5zm-1 0zm-1-5zm-9 5zm0-3zm-3 4zm0-1zm-3 2zm-1-7zm-1 3zm0-3zm-6 0zm-4 6zm-1-6zm-3 3zm-20 3zm-2-2zm-11-1zm-8 3zm-2-3zm-36-2zm-4-1zm-11 2zm-18 5zm-83-4zm-12-2zm-42 11zm80-1zm18 4zm30-6zm24 5zm15-2zm57-2zm10 5zm5-2zm5 0zm2-1zm3-1zm4 0zm9 1zm2-4zm0 3zm0 4zm2-2zm1-1zm1-3zm7 4zm1-2zm1 1zm1 3zm1 0zm1-4zm2 3zm1 1zm1-1zm1-6zm0 3zm1-2zm1 5zm2 1zm1-7zm1 3zm2 3zm0 1zm1-5zm1 2zm1-4zm1 0zm0 4zm2 3zm5-2zm0 2zm1-7zm1 5zm1-2zm2 2zm2-2zm1 0zm0 2zm1-4zm2 0zm73 11zm-70 3zm-1-3zm-2 3zm-2-2zm-1-2zm-1 4zm0-3zm-1 0zm-3 2zm0-1zm-2 1zm0-2zm0-1zm-2-2zm0-1zm-2 3zm-2 0zm-1 2zm0-1zm-4-1zm-2-3zm-3 4zm-1 1zm0-5zm-1 0zm-1 4zm-2 1zm-1 0zm0-3zm0-2zm-3 3zm0-3zm-8 3zm-15 3zm-3-2zm-12-1zm-3-1zm-17 3zm-9 2zm-18-1zm-13-4zm-2 1zm-3 3zm-1-3zm-4 0zm-10-1zm-55 1zm-16 3zm-3-2zm-69-4zm-58 2zm-15 3zm141 5zm60 2zm24-4zm10 4zm29-2zm6 4zm9-1zm3-3zm8 2zm8 3zm3-7zm7 3zm3 4zm3-7zm3 7zm2-3zm1 3zm4 0zm3-4zm1 0zm2-3zm0 2zm6 0zm2 3zm1-3zm2 4zm4-3zm1-2zm5 4zm1-1zm0 2zm1-6zm1 0zm2 6zm3-4zm1 2zm2-3zm1-1zm0 2zm2 0zm1 2zm3-3zm1 3zm1 0zm0 1zm1 2zm1-6zm0 4zm69-3zm1 4zm1 1zm0 3zm-1 4zm-68-5zm-1 0zm-1 5zm-1-4zm0-2zm-1 4zm0-1zm-1 0zm-3 3zm-3-4zm-1 3zm0-2zm0-2zm-1 3zm0-1zm-1-2zm-1 6zm0-3zm0-3zm-2 4zm-1-4zm0-1zm-2 6zm-4-1zm-1-2zm-1 1zm0-1zm-2 1zm-8-3zm-3 6zm-1-1zm-2-1zm-2-3zm-2 0zm-4-1zm-6 6zm0-1zm-14-2zm-6 1zm-5-2zm-8-2zm-3-1zm-12 0zm-4 0zm-15 7zm-28-3zm-9-4zm-31 7zm-9-6zm-17 3zm-19 1zm-134 4zm102 5zm17-3zm79-2zm59 3zm5 3zm2-1zm4-2zm14 2zm1-2zm5-3zm2-1zm3 5zm3 0zm2-2zm4 2zm2-2zm10-3zm1 1zm5 5zm1-1zm3 1zm2-2zm3-3zm4-1zm8 7zm2-3zm3-4zm4 5zm1 1zm0 1zm1-6zm0 2zm2-2zm0 4zm0 1zm2-4zm0 4zm1-6zm1 5zm5-5zm4 1zm0 1zm0 2zm0 3zm1-4zm1-3zm0 4zm1 2zm66-3zm0 3zm1-4zm-67 13zm0-7zm-3 1zm-1 1zm-1 4zm-1-1zm-1 0zm0-3zm0-2zm-1 4zm0-1zm0-2zm-1 6zm0-3zm0-2zm-4-1zm-2-1zm-3 0zm-1 2zm-1-1zm-2-1zm-2 7zm-5 0zm0-1zm-1 1zm0-2zm0-5zm-1 3zm-1-1zm-4 4zm-2-4zm-1 3zm0-2zm-2-1zm-1-1zm-3 1zm-1 0zm-2 2zm-4 1zm-1-2zm-2-3zm-1 2zm-5 1zm-1 3zm-12-3zm-5-3zm-3 5zm-5 1zm0-3zm-1 1zm-16-2zm-6 2zm-6 3zm0-2zm-4 0zm-3-2zm-7-3zm-150 3zm-1 8zm75-1zm70 5zm21-7zm20 0zm5 4zm1-3zm0 5zm2-5zm3 3zm9 3zm4-6zm0 5zm2 0zm2-5zm5 5zm3-3zm5-2zm1 1zm3-1zm7 2zm1-1zm2 3zm4 2zm3-3zm2 2zm2-3zm0 2zm1-4zm1 5zm1-3zm1-3zm0 1zm0 2zm2 1zm2-4zm1 2zm0 2zm3-3zm2 4zm1-3zm0 2zm1-2zm1-2zm0 6zm4-3zm3 1zm2-2zm0 2zm0 1zm1-1zm0 1zm1-2zm0 1zm2 1zm1 0zm0 8zm-1 1zm-1-6zm-2 0zm-1 1zm-2 2zm0-1zm0-2zm-2 3zm-1 2zm0-5zm-3 2zm-1 5zm0-2zm-2 1zm0-1zm-2-1zm-5 3zm-1-2zm-3 2zm-1-1zm0-1zm-1-1zm-4-1zm-1 1zm-3-2zm-2 5zm0-7zm-1 6zm-3 0zm0-1zm-1-4zm-3 4zm-3-4zm-3 3zm-1-1zm-3-3zm-5 1zm-2-1zm-2 6zm-5-4zm-12 5zm-6-1zm-11-2zm-34 2zm-67-1zm-13 0zm-65-5zm90 13zm90 0zm1-1zm8 0zm2-1zm16 0zm4 2zm5-1zm3-4zm2 0zm3 2zm1 3zm2-2zm2 0zm2 2zm4 1zm4 1zm5-7zm7 1zm1 4zm2-2zm0 3zm2-6zm3 5zm5 1zm1 0zm1-6zm1 4zm0 2zm2-1zm9-5zm1 5zm0 2zm1-4zm1 2zm0 1zm1-2zm1 0zm2 11zm-3 0zm-3-2zm-2-3zm-1 5zm-1-7zm-1 1zm-2 1zm-1 4zm0-1zm0-1zm-4 2zm-2 0zm-1-6zm-2 3zm-1 1zm-1-3zm-1 4zm-1-2zm-3-3zm-2 0zm-1 5zm-1-5zm-1 5zm-2 2zm-3-6zm-2 5zm-1 1zm-2-5zm-6-1zm-2 0zm-2 6zm-7-2zm-10 1zm-6-3zm-6-3zm-3 2zm-2 4zm-2-1zm-6 0zm-4-3zm-32-1zm-92 1zm-75 7zm114-1zm2 5zm45-1zm28 3zm1-3zm9 1zm14-3zm8 1zm12-2zm1 2zm3-3zm3 3zm2 4zm8-2zm2-1zm2 1zm2 0zm3-2zm0 4zm12-4zm1-3zm1 4zm3-1zm1-2zm1 3zm2-2zm3-2zm1 0zm5 2zm1 3zm1 0zm0 1zm1-2zm2 2zm3-3zm1-2zm0 1zm0 4zm2-5zm0 3zm-1 11zm-2-3zm-1 2zm-1 1zm0-5zm-1 3zm-1 1zm0-5zm-1 4zm-2 1zm-2 1zm-2-3zm-1 3zm-1-1zm0-4zm-1 2zm0-4zm-3 6zm-6-3zm-4 0zm-4 2zm-2-4zm0-1zm-4 4zm-1 2zm-2-4zm-1-1zm-1 3zm0-2zm-6 2zm-4-1zm-2 2zm0-2zm-17-3zm-2 4zm-4-1zm-1 2zm-11-1zm-1-1zm-10-2zm-1 0zm-5 2zm-28 1zm-115-1zm21 6zm116 2zm43-1zm6 5zm4-1zm2-3zm4 0zm1 3zm12 1zm3-7zm1 2zm5 3zm3-4zm4 3zm2 1zm3-3zm0 1zm6 1zm1-2zm0 4zm1-5zm1 0zm1 1zm1 5zm1-7zm4 1zm0 1zm1-1zm3-1zm0 1zm1 1zm1 3zm3-2zm1-2zm2 2zm1 1zm6 7zm0-1zm-2 1zm-2 2zm0-4zm-1 5zm0-3zm-1 3zm-1-6zm-1 5zm-1-5zm-1 7zm-2 0zm0-5zm-1 1zm-1 2zm-1-4zm-3 3zm-1 3zm-1-7zm-5 6zm-2-3zm-2 2zm0-1zm-2 3zm-4-5zm-12 0zm0-1zm-1 0zm-2-1zm-3 7zm-1-1zm-3-1zm-2-3zm-3-1zm-11-1zm-4 0zm-2 4zm-9 1zm-5-2zm-7 0zm-116-2zm116 8zm3 6zm8 0zm16-2zm1 2zm4-7zm11 0zm2 1zm0 3zm7-2zm3 4zm2-5zm4 5zm2-4zm1 1zm4 1zm3 0zm1 2zm6-6zm4 6zm2-2zm2-1zm1-2zm0 5zm2-5zm0 4zm2-2zm3-2zm1-1zm1 0zm1 1zm1-1zm0 1zm0 3zm1-4zm0 3zm1-3zm1 7zm2 0zm0 1zm-2 5zm-1-5zm-3 6zm-2-5zm-1 6zm0-1zm-2-2zm0-2zm0-2zm-2 5zm-1 0zm-1 1zm0-5zm-1 0zm-1 3zm-3 0zm-2-2zm-4 0zm-1 0zm0-1zm-5 2zm-1-2zm-5-1zm-6 2zm-13 3zm0-5zm-9 0zm-3 7zm-3-3zm-8 0zm-3-3zm-11 5zm-18 0zm-128 0zm-34 6zm152-4zm31 1zm3 5zm1-4zm15-2zm2 4zm7-3zm2 1zm2-2zm6 6zm1-6zm8 6zm2-6zm2 2zm1-2zm4 7zm2-7zm3 4zm2 0zm5-2zm4-1zm2 1zm4 2zm2-4zm0 2zm0 3zm1-2zm0 1zm2 0zm1-4zm4 0zm0 4zm3-4zm0 6zm2-3zm1-3zm1 3zm2 8zm-2-2zm-2 6zm-1-6zm-1 2zm-1 4zm-3-1zm0-1zm-1-3zm-5 5zm-7-7zm-1 3zm-7-3zm-3 6zm-1-4zm0-1zm-5 6zm-1-2zm-10-4zm-2 3zm-4 1zm-15 0zm-68-4zm63 13zm11 1zm14-6zm1 0zm15 2zm4 2zm3-2zm6 1zm1 0zm1 2zm7-3zm0 4zm2-4zm1-2zm0 3zm1 1zm2 0zm5-5zm3 6zm3-5zm0 6zm3 8zm-1-1zm-1-1zm-1 2zm0-1zm0-3zm0-3zm-2 7zm-1-2zm-2 1zm-1-4zm-2 0zm-2 4zm0-5zm-1 3zm-5-4zm-1 1zm-2 2zm0-2zm-2 3zm-2 3zm-3-4zm-13 0zm0-3zm-3 4zm-6 0zm-19-2zm-15 9zm39 0zm10-2zm7 2zm0 2zm2-5zm0 4zm5-4zm3 6zm0 1zm3-1zm2-5zm6 0zm0 3zm3-1zm1-2zm2-1zm2 3zm2 3zm2 0zm1 1zm0 3zm-1 0zm-2-1zm-1 5zm0-3zm-2 4zm0-2zm0-5zm-1 7zm-1-3zm0-1zm-1-2zm0-1zm-2 3zm0-2zm-2-1zm-22 3zm-4 3zm-12 1zm-64-7zm38 8zm8 2zm33-2zm11 1zm14 0zm0 5zm7-5zm0 6zm1-5zm1-2zm3 3zm1 3zm1-2zm1 3zm2 7zm-1-1zm0-1zm-1-3zm-1 4zm0-1zm-1 1zm-2-4zm-4 0zm-32 8zm32 0zm4 0zm0 1zm3-2zm0 4zm3-3zm1 2zm1 0zm4 8zm-2 0zm-2 1zm0-1zm-2 3zm-3 1zm-2-3zm-5-2zm-99-1zm109 9zm6 0zm1-2zm2 5zm2-1zm1-2zm1 3zm3 8zm-4-2zm0-1zm-1 4zm-3 0zm0-5zm0-1zm-6 7zm-1-1zm7 2zm3 2zm2-1zm1 1zm0 4zm1-3zm-3 6z" stroke="#0000ff" stroke-width="3" stroke-linecap="square" fill="none"/>
<path transform="scale(.5)" d="M702 574zm3 6zm-3 2zm0-2zm-9-1zm-89 12zm9 0zm1-2zm5-1zm3 2zm57-3zm2 1zm7-1zm15-1zm1-1zm17 13zm-2-4zm-6 4zm0-6zm-9 0zm-1 4zm-4 3zm-1-2zm-1-2zm-8 3zm-9-2zm-56-4zm-19 2zm-3 0zm0-1zm-1 0zm-5 13zm5-5zm1 0zm4 5zm3 1zm5-3zm15-4zm46 0zm7 0zm3 5zm12-5zm9 0zm1 7zm21-2zm-10 5zm-31 4zm-2 0zm-10-2zm-44 2zm-1-2zm-12 0zm-3-3zm-3 6zm-1-6zm-4 1zm-3-2zm-13 4zm0-1zm-1 5zm3 3zm15-3zm4 4zm0 3zm22-6zm2 3zm1-2zm2 1zm31 2zm3-3zm2 2zm0 3zm2-7zm8 0zm0 4zm8 0zm4-3zm28 3zm0 2zm5 7zm-21 2zm-1 0zm-13-7zm-14 3zm-10-1zm-31-2zm-31 4zm-21 8zm1 0zm4-4zm5 0zm7 1zm4 1zm15-2zm13 1zm1 0zm2-1zm38 5zm18-5zm6 4zm1 0zm22-3zm2 0zm0 6zm4-7zm0 11zm-5 2zm-2-1zm-2-1zm-23-3zm-30 3zm-27 1zm-18 2zm-36 4zm7 1zm13-3zm8 0zm19 1zm51 0zm19 5zm6-5zm11 1zm8 0zm-11 7zm-9 3zm-3-4zm-64 5zm-1-4zm-24 5zm-4-5zm-4 6zm-10-2zm-6 2zm-3-5zm-3 3zm0-5zm2 14zm1-5zm18-1zm24 7zm37-3zm38-2zm12 2zm4-1zm1 2zm3-1zm2-2zm-3 6zm-52 4zm-2 1zm-55 2zm-1-5zm-14-1zm-3 2zm-4 1zm-3-2zm-3 4zm-1 0zm-2 2zm7 5zm19-4zm0 3zm28-4zm80 5zm1 0zm3 1zm-50 4zm-9 4zm-28 0zm-30-5zm-15 0zm-1 6zm-7-6zm10 10zm3 3zm45-2zm77-3zm0 5zm10-6zm-139 10zm-4 6zm5 1zm2 1zm3 5zm2-2zm64 2zm61-3zm7 2zm0 2zm-8 2zm-126 0zm-15 4zm4 2zm1 3zm59 1zm75-3zm5 4zm-1 5zm-135-2zm-4 6zm-2-4zm-2 5zm0-2zm2 9zm4-5zm3 3zm133-1zm2 1zm0 10zm-4-1zm-2-3zm-128 0zm-4 0zm0-2zm-2 0zm-1 0zm-1 1zm-5 5zm0 6zm10-3zm0 6zm4-7zm130 6zm5 7zm-2 2zm-139 4zm0 3zm2 1zm135 7zm-135 1zm-1-5zm-2 1zm-2 4zm4 7zm1-1zm135 10zm-127 0zm-9-7zm-1 6zm-2 2zm9 8zm-1 2zm-9-2zm-1 3zm2 8zm4 1zm10-3zm119-1zm-1 9zm-5-1zm-1 7zm-126-2zm3 6zm2 1zm1 0zm1-2zm65 0zm0 1zm53-1zm10 8zm-6-1zm-3 0zm-1 0zm-55 2zm-63 3zm-7 4zm6-2zm6 0zm1 2zm113 1zm2-2zm2 10zm-121 1zm-1 2zm6 8zm0 1zm109 2zm-4 2zm-108-3zm-2 6zm8 4zm89 3zm6-4zm6 6zm-1 2zm-87 4zm-12 5zm3 5zm3-2zm4 2zm76 0zm7-7zm2 11zm0-2zm-4 4zm0-3zm-2 3zm-71-2zm-9 10zm1 2zm4-5zm2 3zm4-4zm65 2zm2 0zm-6 12zm0-5zm-68 4zm0 8zm5-1zm63 1zm2-1zm2 5zm-66 3zm-2-4zm-1 0zm-2 2zm5 6zm0 1zm0 5zm62 1zm-60 5zm0-5zm-3 1zm9 7zm48 3zm0 6zm-37 21zm27 3zm-1 1zm-24 4zm0-6zm24 9zm0 2zm-1 5zm-7 11zm1 2zm1 0zm1 6zm0-3zm-7 1zm-2 0zm0-1zm2 12zm2-2zm1-1zm1 5z" stroke="#fff" stroke-width="3" stroke-linecap="square" fill="none"/>
<path d="M328 64.9V554.3" stroke="#9a9a9a" stroke-width="2.2" stroke-dasharray="10.5 9" stroke-dashoffset="6.7" fill="none"/>
<path d="M83.2 64.9H573.2V554.3H83.2ZM164.9 554.3v-5M164.9 64.9v5M246.5 554.3v-5M246.5 64.9v5M328.2 554.3v-5M328.2 64.9v5M409.9 554.3v-5M409.9 64.9v5M491.5 554.3v-5M491.5 64.9v5M83.2 484.4h5M573.2 484.4h-5M83.2 414.5h5M573.2 414.5h-5M83.2 344.6h5M573.2 344.6h-5M83.2 274.6h5M573.2 274.6h-5M83.2 204.7h5M573.2 204.7h-5M83.2 134.8h5M573.2 134.8h-5" stroke="#8c8c8c" stroke-width="1.4" fill="none"/>
<text x="75.8" y="564.4" font-size="25" text-anchor="end">0</text>
<text x="75.8" y="494.5" font-size="25" text-anchor="end">50</text>
<text x="75.8" y="424.6" font-size="25" text-anchor="end">100</text>
<text x="75.8" y="354.7" font-size="25" text-anchor="end">150</text>
<text x="75.8" y="284.7" font-size="25" text-anchor="end">200</text>
<text x="75.8" y="214.8" font-size="25" text-anchor="end">250</text>
<text x="75.8" y="144.9" font-size="25" text-anchor="end">300</text>
<text x="75.8" y="75" font-size="25" text-anchor="end">350</text>
<text x="83.2" y="586.9" font-size="25" text-anchor="middle">-120</text>
<text x="164.9" y="586.9" font-size="25" text-anchor="middle">-80</text>
<text x="246.5" y="586.9" font-size="25" text-anchor="middle">-40</text>
<text x="328.2" y="586.9" font-size="25" text-anchor="middle">0</text>
<text x="409.9" y="586.9" font-size="25" text-anchor="middle">40</text>
<text x="491.5" y="586.9" font-size="25" text-anchor="middle">80</text>
<text x="573.2" y="586.9" font-size="25" text-anchor="middle">120</text>
<text x="328.2" y="620.2" font-size="27.5" text-anchor="middle">SSHA (cm)</text>
<text font-size="27.5" text-anchor="middle" transform="translate(25.4 308.5) rotate(-90)">Radius (km)</text>
<text x="4.6" y="27.1" font-size="30.6" font-weight="bold" fill="#000">A</text>
<text x="54.6" y="27.1" font-size="34.3" class="se" fill="#000">Radius</text>
<path d="M747.3 64.7V560.4M830 64.7V560.4M912.7 64.7V560.4M995.3 64.7V560.4M1078 64.7V560.4M664.6 510.8H1160.7M664.6 461.3H1160.7M664.6 411.7H1160.7M664.6 362.1H1160.7M664.6 312.5H1160.7M664.6 263H1160.7M664.6 213.4H1160.7M664.6 163.8H1160.7M664.6 114.3H1160.7" stroke="#e7e7e7" stroke-width="1" fill="none"/>
<path d="M664.6 64.7H1160.7V560.4H664.6ZM747.3 560.4v-5M747.3 64.7v5M830 560.4v-5M830 64.7v5M912.7 560.4v-5M912.7 64.7v5M995.3 560.4v-5M995.3 64.7v5M1078 560.4v-5M1078 64.7v5M664.6 510.8h5M1160.7 510.8h-5M664.6 461.3h5M1160.7 461.3h-5M664.6 411.7h5M1160.7 411.7h-5M664.6 362.1h5M1160.7 362.1h-5M664.6 312.5h5M1160.7 312.5h-5M664.6 263h5M1160.7 263h-5M664.6 213.4h5M1160.7 213.4h-5M664.6 163.8h5M1160.7 163.8h-5M664.6 114.3h5M1160.7 114.3h-5" stroke="#8c8c8c" stroke-width="1.4" fill="none"/>
<path d="M912.7 82L912.7 83L912.7 84L912.7 85L912.7 86L912.7 87L912.7 88L912.7 89L912.7 90L912.7 91L912.7 92L912.7 93L912.7 94L912.7 95L912.7 96L912.7 97L912.7 98L912.7 99L912.7 100L912.7 101L912.7 102L912.7 103L912.7 104L912.7 105L912.7 106L912.7 107L912.7 108L912.7 109L912.7 110L912.7 111L912.7 112L912.7 113L912.7 114L912.7 115L912.7 116L912.7 117L912.7 118L912.7 119L912.7 120L912.7 121L912.7 122L912.7 123L912.7 124L912.7 125L912.7 126L912.7 127L912.7 128L912.7 129L912.7 130L912.7 131L912.7 132L912.7 133L912.7 134L912.7 135L912.7 136L912.7 137L912.7 138L912.7 139L912.7 140L912.7 141L912.7 142L912.7 143L912.7 144L912.7 145L912.7 146L912.7 147L912.7 148L912.7 149L912.7 150L912.7 151L912.7 152L912.7 153L912.7 154L912.7 155L912.7 156L912.7 157L912.7 158L912.7 159L912.7 160L912.7 161L912.7 162L912.7 163L912.7 164L912.7 165L912.7 166L912.7 167L912.7 168L912.7 169L912.7 170L912.7 171L912.7 172L912.7 173L912.7 174L912.7 175L912.7 176L912.7 177L912.7 178L912.7 179L912.7 180L912.7 181L912.7 182L912.7 183L912.7 184L912.7 185L912.7 186L912.7 187L912.7 188L912.7 189L912.7 190L912.7 191L912.7 192L912.7 193L912.7 194L912.7 195L912.7 196L912.7 197L912.7 198L912.7 199L912.7 200L912.7 201L912.7 202L912.7 203L912.7 204L912.7 205L912.7 206L912.7 207L912.7 208L912.7 209L912.7 210L912.7 211L912.7 212L912.7 213L912.7 214L912.7 215L912.7 216L912.7 217L912.7 218L912.7 219L912.7 220L912.7 221L912.7 222L912.7 223L912.7 224L912.7 225L912.7 226L912.7 227L912.7 228L912.7 229L912.7 230L912.7 231L912.7 232L912.7 233L912.7 234L912.7 235L912.7 236L912.7 237L912.7 238L912.7 239L912.7 240L912.7 241L912.7 242L912.7 243L912.7 244L912.7 245L912.7 246L912.7 247L912.7 248L912.7 249L912.7 250L912.7 251L912.7 252L912.7 253L912.7 254L912.7 255L912.7 256L912.7 257L912.7 258L912.7 259L912.7 260L912.7 261L912.7 262L912.7 263L912.7 264L912.7 265L912.7 266L912.7 267L912.7 268L912.7 269L912.7 270L912.7 271L912.7 272L912.7 273L912.7 274L912.7 275L912.7 276L912.7 277L912.7 278L912.7 279L912.7 280L912.7 281L912.7 282L912.7 283L912.7 284L912.7 285L912.7 286L912.7 287L912.7 288L912.7 289L912.7 290L912.7 291L912.7 292L912.7 293L912.7 294L912.7 295L912.7 296L912.7 297L912.7 298L912.7 299L912.7 300L912.7 301L912.7 302L912.7 303L912.7 304L912.7 305L912.7 306L912.7 307L912.7 308L912.7 309L912.7 310L912.7 311L912.7 312L912.7 313L912.7 314L912.7 315L912.7 316L912.7 317L912.7 318L912.7 319L912.7 320L912.7 321L912.7 322L912.7 323L912.7 324L912.7 325L912.7 326L912.7 327L912.7 328L912.7 329L912.7 330L912.7 331L912.7 332L912.7 333L912.7 334L912.7 335L912.7 336L912.7 337L912.7 338L912.7 339L912.7 340L912.7 341L912.7 342L912.7 343L912.7 344L912.7 345L912.7 346L912.7 347L912.7 348L912.7 349L912.7 350L912.7 351L912.7 352L912.7 353L912.7 354L912.7 355L912.7 356L912.7 357L912.7 358L912.7 359L912.7 360L912.7 361L912.7 362L912.7 363L912.7 364L912.7 365L912.7 366L912.7 367L912.7 368L912.7 369L912.7 370L912.7 371L912.7 372L912.7 373L912.7 374L912.7 375L912.7 376L912.7 377L912.7 378L912.7 379L912.7 380L912.7 381L912.7 382L912.7 383L912.7 384L912.7 385L912.7 386L912.7 387L912.7 388L912.7 389L912.7 390L912.7 391L912.7 392L912.7 393L912.7 394L912.7 395L912.7 396L912.7 397L912.7 398L912.7 399L912.7 400L912.7 401L912.7 402L912.7 403L912.7 404L912.7 405L912.7 406L912.7 407L912.7 408L912.7 409L912.7 410L912.7 411L912.7 412L912.7 413L912.7 414L912.7 415L912.7 416L912.7 417L912.7 418L912.7 419L912.7 420L912.7 421L912.7 422L912.7 423L912.7 424L912.7 425L912.7 426L912.7 427L912.7 428L912.7 429L912.7 430L912.7 431L912.7 432L912.7 433L912.7 434L912.7 435L912.7 436L912.7 437L912.7 438L912.7 439L912.7 440L912.7 441L912.7 442L912.7 443L912.7 444L912.7 445L912.7 446L912.7 447L912.7 448L912.7 449L912.7 450L912.7 451L912.7 452L912.7 453L912.7 454L912.7 455L912.7 456L912.7 457L912.7 458L912.7 459L912.7 460L912.7 461L912.7 462L912.7 463L912.7 464L912.7 465L912.7 466L912.7 467L912.7 468L912.7 469L912.7 470L912.7 471L912.7 472L912.7 473L912.7 474L912.7 475L912.7 476L912.7 477L912.7 478L912.7 479L912.7 480L912.7 481L912.7 482L912.7 483L912.7 484L912.7 485L912.7 486L912.7 487L912.7 488L912.7 489L912.7 490L912.7 491L912.7 492L912.7 493L912.7 494L912.7 495L912.7 496L912.7 497L912.7 498L912.7 499L912.7 500L912.7 501L912.7 502L912.7 503L912.7 504L912.7 505L912.7 506L912.7 507L912.7 508L912.7 509L912.7 510L912.7 511L912.7 512L912.7 513L912.7 514L912.7 515L912.7 516L912.7 517L912.7 518L912.7 519L912.7 520L912.7 521L912.7 522L912.7 523L912.7 524L912.7 525L912.7 526L912.7 527L912.7 528L912.7 529L912.7 530L918.1 530L919.5 529L920.6 528L921.5 527L923 526L923.4 525L923.6 524L924.6 523L925.1 522L924.5 521L924.4 520L926.5 519L926.4 518L926.1 517L927.9 516L927.5 515L927.6 514L928 513L927.5 512L928.1 511L929 510L928.8 509L929.4 508L929.6 507L930.3 506L930.7 505L930.6 504L930.2 503L931.1 502L931.2 501L931.3 500L931.8 499L932.1 498L932.6 497L931.2 496L932.1 495L933.3 494L932.9 493L934.1 492L933.3 491L933 490L934.2 489L933.6 488L935.4 487L936 486L934.3 485L936.2 484L935.7 483L937.3 482L936.5 481L936.1 480L936.3 479L936.7 478L937.7 477L938 476L937.5 475L937.9 474L939.9 473L939.5 472L939.4 471L940 470L940.2 469L939.3 468L940.1 467L939.9 466L939.7 465L940.2 464L940.8 463L942.1 462L940.7 461L942.1 460L940.9 459L940.9 458L941.4 457L942 456L942.1 455L941.2 454L940.8 453L942.1 452L941.6 451L942.1 450L941.3 449L942.8 448L942.7 447L941.9 446L942.9 445L943.4 444L942.2 443L942.1 442L941.6 441L943.8 440L943.6 439L943.9 438L943.9 437L944 436L944.2 435L944.1 434L943.4 433L942.6 432L943.5 431L944.1 430L944.4 429L944.6 428L944.1 427L944.7 426L944.5 425L945.2 424L944.6 423L943.6 422L944.6 421L945.1 420L945.2 419L946 418L945.4 417L945.3 416L946.4 415L946.4 414L944.7 413L946.4 412L946 411L947 410L946.5 409L945.7 408L946.2 407L945.6 406L947.4 405L947.6 404L946.5 403L945.8 402L946.7 401L947.5 400L947.6 399L947 398L947.4 397L946.5 396L947.5 395L948 394L946.1 393L946 392L947.2 391L947.2 390L945.6 389L945.9 388L947.2 387L945.6 386L946.9 385L947.1 384L946.1 383L947.2 382L946 381L945.7 380L946.5 379L945.7 378L946.3 377L945 376L944.7 375L944.6 374L945.4 373L946 372L945.8 371L946.4 370L944.3 369L946 368L944.8 367L945.2 366L944.3 365L946 364L944.1 363L944.4 362L944.9 361L945.9 360L944.5 359L944 358L945.3 357L945.3 356L943.9 355L945.2 354L945.5 353L943.3 352L945 351L943.5 350L944.7 349L945.3 348L944.8 347L943.1 346L944.4 345L944.1 344L945 343L943.7 342L944.7 341L944.6 340L944.3 339L944.2 338L943.4 337L943.8 336L942.8 335L943.6 334L942.3 333L943.9 332L943.6 331L943.6 330L943.5 329L943.8 328L942 327L941.6 326L943 325L942.2 324L941.4 323L943 322L941.9 321L942.2 320L942.4 319L941.8 318L941.3 317L941.7 316L940.2 315L941.7 314L941 313L940.6 312L940.5 311L940.8 310L940.4 309L939.8 308L940 307L940.3 306L938.1 305L939.6 304L939.2 303L939 302L937.7 301L937.5 300L939.1 299L937.4 298L937.6 297L936.7 296L936.5 295L936.8 294L937.1 293L936.8 292L937.5 291L935.7 290L936.7 289L936.9 288L936.1 287L935.4 286L936.6 285L935.6 284L936.5 283L936 282L936 281L934.8 280L934 279L934.5 278L934.8 277L935.1 276L933.7 275L934.2 274L933.5 273L934.3 272L933.3 271L934.1 270L934.2 269L932.5 268L934 267L932.7 266L934.1 265L932.4 264L932.9 263L932.7 262L932.5 261L931.6 260L931.8 259L933.3 258L932 257L931.6 256L931.1 255L931.9 254L931 253L932.2 252L930.5 251L930.5 250L931.3 249L930.2 248L930.7 247L931.7 246L930.2 245L930.1 244L931 243L931.2 242L930.2 241L929.9 240L930.7 239L929.8 238L930.7 237L931 236L929.3 235L929.9 234L930.3 233L928.9 232L928.8 231L929.3 230L928.2 229L928.2 228L929.1 227L929.1 226L929.8 225L929.1 224L927.8 223L927.4 222L927.7 221L927.4 220L928.8 219L928 218L927.4 217L928.5 216L926.6 215L927.9 214L927.8 213L926.4 212L926.7 211L926.1 210L925.8 209L926.8 208L926.9 207L926 206L926.8 205L926.8 204L927 203L926.2 202L927 201L926.4 200L926.7 199L926.2 198L925 197L924.9 196L926.3 195L925.4 194L926.2 193L925.4 192L924.6 191L925 190L924.3 189L924 188L925.1 187L924 186L925.4 185L925.6 184L925.1 183L923.4 182L924.3 181L925.2 180L924.1 179L923.3 178L924.8 177L923.7 176L923.1 175L923.2 174L923.7 173L923.6 172L922.9 171L923 170L924 169L923.1 168L924.3 167L923 166L922.3 165L923.8 164L922.2 163L923.7 162L923.6 161L922.8 160L923.1 159L921.7 158L923.1 157L922.6 156L922.4 155L922.5 154L921.1 153L921.7 152L921.8 151L922 150L921.2 149L921.6 148L920.6 147L921.3 146L921.9 145L920.8 144L920.4 143L920.7 142L921.3 141L920.1 140L921 139L920.8 138L921.7 137L920.9 136L921.1 135L921.4 134L920.5 133L919.9 132L920.7 131L920 130L920.5 129L920 128L920.5 127L919.8 126L920.2 125L919 124L920.6 123L918.9 122L920 121L919.8 120L920.6 119L920.5 118L919.7 117L919.7 116L919.2 115L919.2 114L919.5 113L918.8 112L919.4 111L918.1 110L918.3 109L917.9 108L918.4 107L919.5 106L918.8 105L918 104L919.2 103L918.4 102L917.7 101L918.9 100L918.4 99L917.2 98L917.5 97L917.3 96L917.6 95L917.2 94L917.3 93L916.9 92L918 91L917.7 90L917.4 89L916.6 88L915.6 87L916.3 86L915.1 85L915.7 84L916.1 83L914.6 82Z" fill="#ff0000"/>
<path transform="scale(.5)" d="M1827 129zm1 0zm1 0zm1 0zm1 0zm1 0zm1 0zm1 0zm1 0zm1 0zm4 0zm1 0zm1 0zm6 0zm-17 24zm-5 8zm5 1zm2 0zm3 1zm2 3zm1-2zm7 1zm8 2zm1 5zm-10 0zm-1 2zm-1-1zm-3 0zm-7-1zm0-1zm0-2zm3 10zm2-1zm0 1zm5-1zm12 2zm16 0zm-25 5zm-1 6zm-3 0zm-4-1zm0-2zm-1-2zm-1 1zm0-1zm-1 4zm0-2zm-1 5zm3 0zm0 2zm0 2zm0 1zm3-2zm2-1zm2-2zm2 6zm4 0zm4-3zm7 9zm-2 0zm-3 1zm-12-6zm-4 1zm-1 0zm-3 2zm-1 0zm10 6zm3-1zm0 7zm1-6zm0 5zm3 0zm31 8zm-22-1zm-15 2zm-1-5zm-2-1zm-1-1zm-2 7zm-1 0zm-1-6zm1 13zm3 0zm1-4zm0 1zm1 0zm2-1zm1-1zm3-1zm1 2zm1 1zm3-1zm4 1zm21 11zm-12-6zm-6 4zm-1-4zm-3 3zm-1 3zm-2-3zm-2-2zm-2-1zm-6 2zm-4-1zm0-1zm-3 14zm1-2zm1 0zm1-2zm0 1zm2-3zm0 4zm1 0zm1-2zm1-2zm2 2zm0 5zm3-4zm5-3zm5 6zm5-1zm1 2zm14-4zm-6 12zm-10-3zm-6-1zm-3 0zm-2 2zm-8-4zm-2-1zm-2 1zm-1 5zm-1-4zm0 8zm2 0zm0 5zm2-7zm4 6zm0 1zm2-7zm8 2zm10 5zm8-5zm5-1zm101 5zm-84 6zm-6-3zm-27 6zm0-1zm-6-4zm-3 0zm-5 3zm-2-1zm-3-2zm-1-1zm-1 0zm-1 0zm1 12zm0 1zm1-4zm1-2zm0 5zm3 1zm8-1zm1 2zm2-2zm5-2zm1-1zm8 1zm3 2zm9-1zm1 3zm116 5zm-71-3zm-26 6zm-15-2zm-9-1zm-16 3zm-4-6zm-2 4zm-4 2zm-2-7zm-11 7zm0-3zm0-4zm0 10zm0 1zm2 2zm1-3zm1-2zm2 5zm1 2zm1-3zm1-1zm3 2zm2-4zm0 1zm1 2zm4-1zm6 4zm3-5zm41 1zm1 4zm-19 6zm-9 2zm-6 0zm-6-6zm-3 3zm-8 1zm-4-5zm-1 1zm-1 1zm-3 1zm-4-1zm-1-1zm-2 1zm0-2zm-1 0zm-1 7zm0-5zm1 8zm1-1zm1 0zm0 5zm1-4zm1 1zm4 1zm9-4zm1 4zm4-4zm7 5zm47 9zm-11-3zm-3 2zm-46-4zm-3 5zm0-4zm-1-1zm-7 4zm-2 0zm-2-1zm-1 10zm2-3zm1 2zm3-3zm0 3zm1 0zm2 1zm4-3zm0 3zm2-6zm2 0zm2 7zm2-2zm2-5zm7 4zm63 3zm-36 5zm-8 3zm-5-1zm-7-3zm-11 4zm-8-2zm-2-3zm-2 1zm-5 2zm-1-2zm0-3zm-3 6zm0-3zm-1 1zm0-2zm-1 2zm0-1zm-1 11zm4-2zm0 1zm5-1zm1 0zm3-1zm0 2zm2-4zm2 2zm2 1zm2 0zm2 1zm4 0zm1 1zm1 0zm5-4zm11 1zm0 1zm2-1zm25 2zm49 1zm-46 6zm-9 2zm-25-3zm-4 0zm-3 2zm-2 0zm-1 0zm-8-5zm-3 6zm-5-6zm-2 7zm-1-2zm-4 2zm-2 0zm-3-2zm-2 0zm0-5zm-1 11zm2-2zm0 6zm2-4zm0 3zm1 0zm1-3zm0 1zm2-4zm0 1zm5 4zm3 1zm1-4zm2 3zm1-1zm0 2zm1-5zm1 2zm3 2zm2-1zm1-2zm8 4zm16-3zm0 2zm3-5zm6 3zm2 3zm12-1zm94-2zm-71 6zm-17 2zm-13-3zm-14 6zm-24-2zm-2 2zm-1-1zm-1-1zm-9-4zm-3 6zm-2-6zm-1 2zm-2 4zm-1 1zm-2 0zm0-5zm-1 2zm-5 2zm3 7zm2-4zm0 3zm0 3zm3-6zm0 4zm1-5zm0 5zm2 0zm9-5zm0 1zm1 3zm2-1zm2 0zm2 3zm15-2zm18 2zm23-1zm72-2zm-103 11zm-1-5zm-12 6zm-1 0zm-6-2zm0-5zm-1 1zm-3 3zm-2 2zm-1 1zm-3-2zm-3 1zm-2-6zm-2 7zm0-2zm-1-2zm-1 3zm0-2zm-5-4zm-2 1zm-1 1zm0-2zm-1 8zm0 6zm0 1zm2-3zm0 2zm2-3zm1-3zm0 2zm1 4zm1 1zm2-1zm5-2zm1 0zm3 2zm1-3zm1 3zm1-4zm1-2zm6 4zm2-2zm11 1zm2-3zm7 5zm52-5zm22 1zm16 11zm-14-4zm-33 5zm-11-3zm-11 1zm-1-2zm-11 5zm-10-6zm-13 7zm-1-1zm0-5zm-3 6zm-1-7zm-7 4zm0-1zm-4 4zm-4-6zm-2 3zm-5-2zm0-1zm0-1zm-1 7zm0-6zm-1 6zm0-7zm-1 3zm-1-1zm-1 3zm0-2zm-2-1zm-1-1zm-1 1zm0-1zm-1-1zm5 10zm2 3zm1-1zm0 1zm2-3zm0 1zm5-3zm1 5zm4-2zm6 4zm1-4zm1 3zm2-2zm4 0zm2 1zm8-4zm0 4zm3-4zm0 4zm3 1zm5-2zm22 1zm17-2zm15 0zm15 3zm38-2zm-40 10zm-12-5zm-47 6zm-2-3zm-7 3zm-1-2zm-4-2zm-3-2zm-4 5zm-1-3zm-1-3zm-3 2zm-2 5zm-3-3zm-11-3zm-2 5zm-4-1zm-1-5zm-2 3zm-3 2zm-2-3zm-2 1zm-1 4zm0-1zm-1-3zm0 8zm0 2zm1-4zm0 6zm2 0zm1-4zm1-3zm1 3zm0 1zm1 1zm0 2zm3-3zm3-1zm1-3zm3 4zm2-2zm2 3zm1 0zm14 1zm4-1zm5-4zm6 2zm13 2zm1-4zm28 5zm103 3zm-114 1zm-6-1zm-5 5zm-2 0zm-7-4zm-15 5zm-7-6zm-3 2zm-4 1zm-3 3zm-1-2zm-1-2zm-1-2zm-1 4zm0-3zm-3 2zm-13 2zm-1-4zm-2 1zm-1 2zm-1 1zm-1-4zm0-1zm0-1zm-1 6zm0-4zm0-1zm-1-1zm-1 1zm1 13zm1-5zm0 3zm0 2zm1-6zm0 2zm1 5zm1-5zm2 3zm1-1zm0 3zm1-2zm0 2zm2-7zm0 7zm1-2zm1 2zm1-6zm1 2zm1-3zm0 3zm3 0zm3 4zm2-1zm0 1zm3 0zm4-2zm3-5zm9 0zm0 4zm11-4zm10 3zm71 4zm16-3zm14 1zm-33 8zm-4 0zm-84-1zm0-1zm-4-2zm-1-1zm-3 6zm-4-2zm-5-3zm-1 5zm-1-2zm-1 3zm-9-2zm-1-3zm-2 3zm-1-2zm0-2zm-2 2zm0-1zm-2 4zm0-2zm0-4zm-1 4zm-2 1zm-1 2zm0-2zm0-1zm0-2zm-1 3zm0-1zm0-4zm2 13zm1-3zm1 1zm0 1zm4-1zm0 3zm3-5zm1 0zm1 5zm1-3zm0 4zm1-3zm3-1zm0 1zm0 1zm2 2zm2-3zm0 3zm2-2zm1-2zm1 1zm2 2zm3 1zm6-4zm3-3zm3 4zm2-2zm4 5zm5-2zm16-3zm44 9zm-9 4zm-21-1zm-40-4zm0-1zm-3 3zm-17 3zm0-5zm0-1zm-1 0zm-3 2zm0-1zm-1 5zm-1 0zm0-3zm0-3zm-1 6zm-1-5zm-5 3zm-1-4zm-1 5zm0-1zm0-4zm-3 2zm-1 2zm0-2zm0-1zm-1 1zm0-3zm-1 1zm-1 0zm0-1zm-1 2zm0-1zm2 14zm1-7zm0 1zm1-1zm4 7zm1-5zm0 2zm4-3zm2-1zm1 0zm2 1zm0 6zm1-4zm3-1zm0 5zm2-6zm0 6zm4-6zm3 6zm3-6zm3 5zm1-5zm3 3zm6-4zm2 4zm0 1zm4 1zm1-1zm1-2zm2 4zm5 0zm5-2zm24-1zm2 0zm2 3zm10-2zm73-3zm-36 6zm-9 0zm-31 6zm-19 0zm-12 1zm-11-1zm-9-4zm-1-1zm-15 5zm0-5zm-1 4zm-2-2zm0-1zm-1-1zm-1 5zm0-5zm-1 4zm-1 2zm-3-2zm-3 0zm-3-1zm0-1zm-1 4zm0-2zm-3-4zm-1 0zm-1 6zm-1-5zm-2 4zm0-5zm-1 4zm-1-4zm-1 4zm0-1zm-1-1zm-1-3zm-1 11zm1-1zm2 1zm2-3zm0 2zm4 4zm2 0zm3-6zm0 3zm3-2zm3 2zm2 1zm2 0zm1-4zm2 1zm5 1zm3-2zm1 0zm1 6zm2-5zm2 6zm1-2zm1 2zm4-1zm15-5zm4 1zm0 4zm8-1zm38-3zm7-2zm7 7zm50 0zm5 4zm-22 2zm-54-1zm-11 0zm-17 2zm0-6zm-6 7zm-24 0zm-1 0zm-1 0zm0-4zm-2 3zm-1-5zm0-1zm-4 0zm-1 3zm0-2zm-2 1zm-6 4zm-1 0zm-2-2zm-2 1zm-3-4zm-3-1zm-1 5zm-1 1zm-1-5zm-1 4zm0-4zm-6 3zm-1-2zm0-1zm-1 0zm-1 2zm-2 1zm0-3zm-1 2zm0-3zm-2 7zm1 3zm2 0zm0 3zm1 0zm2-2zm2 0zm1 0zm1-3zm1 1zm5 4zm3-4zm1 0zm0 2zm1 3zm1-3zm1 0zm0 3zm2 0zm3 1zm1-2zm1-1zm5 3zm1-1zm3-1zm6-1zm1 2zm0 1zm2-1zm1-6zm0 7zm7-6zm2 3zm2 2zm8 0zm0 1zm4 0zm12-3zm4-3zm1-1zm0 7zm23-1zm12 9zm-1 0zm-15-3zm-3 0zm-11-1zm-7 4zm-1-3zm-7-1zm-11 2zm-3-4zm-5 6zm0-7zm-2 7zm-3-3zm-2 2zm-14 0zm-1-5zm-5 3zm-4 0zm-2 1zm-5-2zm-3-1zm-2 4zm-3-3zm-1-1zm-5 3zm0-5zm-2 2zm-1-2zm-1 6zm0-1zm0-1zm0-4zm-1 2zm1 9zm0 3zm2 1zm1-5zm0 4zm2-1zm1-1zm0 1zm0 2zm1-7zm1 0zm0 4zm4 3zm1-6zm0 6zm4 0zm2-4zm2-1zm0 3zm0 2zm3-7zm8 2zm0 5zm1-2zm1-2zm4-1zm0 4zm1-5zm2 4zm3-5zm1 3zm5-2zm2 3zm1-1zm4-2zm3-1zm5 2zm2 5zm8-4zm1 1zm2 0zm12-4zm1 3zm11 4zm8-7zm12 0zm65 9zm-39 2zm-11 3zm-19-5zm-40-1zm-9 2zm-5 3zm-1 1zm-1-6zm-1 5zm-4 2zm-7-3zm-2 2zm-9 1zm-1-4zm-1 2zm-2-3zm-1-2zm-1 2zm-2-2zm-2 3zm-2 1zm-2 3zm-2 0zm0-4zm-1 4zm0-5zm-1 2zm0-4zm-1 1zm-2 4zm-2 0zm-5-1zm-2 2zm-1-4zm-2 0zm0-1zm-1 5zm-1-1zm0-3zm-1 5zm0-1zm-1-6zm1 15zm1-6zm0 5zm1-1zm1-1zm1-4zm2 0zm2 2zm1-1zm1 1zm1 0zm1 3zm0 2zm3-3zm3 3zm6-6zm2 6zm1-5zm0 1zm1-2zm1 4zm1 2zm1 0zm3-5zm0 2zm0 2zm1 1zm2-3zm3 3zm2 0zm2-4zm0 1zm0 2zm2-4zm5 2zm1 2zm1-4zm2 0zm1 2zm4-1zm4 2zm4-3zm1 5zm2-1zm23-1zm1 2zm15-5zm10-2zm90 0zm-82 12zm-2 3zm-48 0zm-4-2zm-25-4zm-1 3zm-1-1zm-4 4zm0-4zm0-2zm-1 4zm-7 1zm0-2zm-3 1zm-1-3zm-3 1zm-2-2zm-2 6zm0-2zm0-3zm-5 4zm-1-1zm-4-2zm0-3zm-3 7zm0-3zm0-1zm-1-1zm-1-2zm-2 2zm-2 5zm-2-3zm-1 3zm0-2zm0-4zm-1-1zm-1 5zm1 6zm1 1zm0 1zm1 1zm1-3zm1 1zm0 2zm1-6zm3 3zm7 2zm5-3zm3 5zm2-1zm1-4zm1 5zm3-1zm1-6zm1 2zm1 3zm6-4zm4 0zm0 1zm2 2zm1-4zm6 0zm4 1zm2 6zm2-1zm8-2zm1-1zm2-2zm5 1zm7 4zm22-4zm5 2zm1 0zm1-2zm4-1zm16 4zm4-4zm4 4zm55-5zm-78 8zm-28 1zm-3 5zm-1-2zm0-1zm-10 4zm-9 0zm-3-2zm-15 2zm0-1zm-1-4zm-1-2zm-3 7zm-4-2zm-2 0zm-3 2zm-2-7zm-1 1zm-3 6zm-4-6zm0-1zm-8 0zm-2 6zm0-2zm-1 3zm-1-4zm-1 2zm0-4zm-1 6zm-2-4zm-4-2zm-2 6zm0 1zm0 7zm3-4zm1 2zm1-1zm1-4zm2 1zm1 2zm1 4zm2-4zm3 4zm2-6zm1 5zm1-1zm0 2zm2 0zm4-5zm2-2zm1 7zm5-5zm7 2zm1-2zm0 4zm4-5zm1 1zm0 1zm0 1zm3 3zm2-1zm5-6zm3 7zm1-2zm0 1zm6-2zm2-2zm6 1zm3-2zm1 0zm9-1zm5 3zm4 1zm18 2zm2-1zm13 0zm7 0zm20-4zm15 6zm-20 7zm-6 0zm-3-5zm-11 3zm-9 3zm-5-6zm-1-1zm-21 3zm-6 3zm-2-6zm-14 6zm-2 1zm-2-4zm-3-3zm-5 3zm-1-1zm-2 4zm-2 0zm-2-4zm-1 4zm-4-3zm-2 0zm-1 1zm-6 2zm-1-5zm-1 4zm0-2zm-3-2zm-2 4zm-6 1zm0-2zm-3 1zm-1-5zm-1 6zm-1 0zm-1-1zm-1 2zm-1 0zm-2-4zm-1 0zm0-2zm-1 5zm0-2zm0-4zm-1 5zm-5 2zm0-3zm0-4zm-3 6zm-1-3zm0-2zm-1 5zm-1-6zm-2 4zm0-3zm0 11zm5-2zm0 3zm2-2zm1 1zm1-1zm1 2zm1-4zm0 3zm1 3zm1-2zm1 2zm2-3zm1-1zm1 4zm2-3zm0 3zm1-4zm0 1zm7-4zm0 4zm3 0zm0 2zm2-1zm1-5zm0 7zm4-6zm1 0zm3-1zm11 3zm4-1zm19 0zm2-2zm15 7zm10-3zm9 2zm4 0zm23-4zm55 10zm-26-3zm-45 4zm-9-4zm-5 2zm-31 0zm0-3zm-7 7zm-1-3zm0-1zm-3-1zm-3 0zm-3-2zm-1 3zm-1 3zm-12 0zm-2-6zm-2 3zm0-1zm-12 4zm-3 0zm-1-5zm-5 5zm-3 1zm-2-4zm0-2zm-1 4zm-2-2zm-1 0zm-3 0zm-1 0zm-1 1zm-1 3zm-2-2zm0-5zm-1 6zm0-1zm-2 0zm2 3zm1 2zm0 1zm1-3zm1 1zm2 2zm2-3zm1 4zm0 2zm0 1zm1-5zm0 5zm1-5zm1 1zm1-1zm1-1zm1 6zm5-2zm1-5zm2 0zm1 0zm0 6zm1-4zm1 3zm1-5zm1 7zm2-7zm0 4zm1 1zm1-3zm0 3zm2-4zm0 1zm3 1zm1 1zm2-4zm4 1zm1 4zm4-5zm10 2zm3-2zm1 7zm22-1zm12-4zm3-1zm6 0zm0 3zm40-3zm80 2zm10 3zm34-2zm-67 4zm-7 2zm-26 4zm-13-5zm-28 0zm-10 3zm-9-4zm-15 2zm-5 4zm-4-2zm-10-2zm-1 0zm-9 5zm-3-1zm-3-6zm-5 5zm-4-2zm-1-1zm-3-1zm-1 4zm0-4zm-2 4zm-1-1zm0-1zm-2-2zm-5 3zm0-3zm-4 0zm-1 3zm0-2zm0-2zm-1 4zm-3-3zm-4-1zm-1 2zm-1-1zm-1 4zm-4 1zm0-3zm-6 2zm-1 2zm0-1zm-1 1zm0-4zm-1 1zm-1 1zm-1 4zm1 0zm2 6zm3-1zm1-1zm1-3zm1 4zm1-5zm2 2zm0 1zm0 2zm3-4zm1 0zm1 1zm2 1zm6 0zm3 0zm1-1zm2 3zm3-1zm1-5zm1 4zm1 2zm3-6zm1 2zm0 1zm2-3zm1 6zm4-2zm1 1zm1-1zm4 3zm1-3zm3 2zm2-4zm19 5zm3-5zm3 2zm6 2zm1 0zm1-1zm30 2zm132 5zm-74-2zm-71 2zm-18-1zm-16 4zm0-3zm-9-1zm-2-1zm-5 2zm-1-4zm-4 7zm0-1zm-1-5zm-3 5zm-4-2zm-1 1zm-4-3zm-2 1zm-3 2zm-1-5zm-1 3zm-2 3zm-1-1zm0-3zm-2 3zm-1-5zm-1 3zm0-1zm-3 0zm-1 5zm-1-5zm-2 3zm0-4zm-1 3zm-1-1zm-1-2zm-3 0zm0-1zm-2 5zm-1 0zm-2-1zm0-2zm-2 3zm-2-3zm0-1zm0-1zm-1 5zm0-1zm0-2zm0-2zm-1 6zm0-1zm0-5zm-1 0zm3 10zm0 5zm1-4zm1-3zm3 5zm1-4zm0 5zm1-5zm0 6zm2-6zm1 2zm1 0zm1-2zm3 4zm0 1zm3 0zm2 1zm1-7zm1 2zm1 0zm1 2zm0 3zm2-2zm2-2zm2-1zm1 4zm4-6zm3 4zm3 3zm2-3zm4-4zm0 4zm1 3zm1-4zm1-3zm0 6zm5-6zm1 6zm1-2zm2-2zm9-2zm1 7zm2-2zm2-5zm0 3zm0 3zm2-5zm5-1zm67 7zm25-4zm20-1zm12 4zm-22 3zm-32 4zm-58-4zm-14 6zm-4-5zm-3 1zm0-2zm-2 2zm-4-1zm-4 2zm-12 3zm0-3zm-2-3zm-3 5zm0-2zm0-2zm-11 5zm0-2zm-2-2zm-1 3zm-1-6zm-1 7zm-1-4zm-1 2zm-2-4zm-4 3zm-2 1zm-3-4zm-2 3zm-1-4zm-1 7zm0-3zm0-3zm-1 6zm0-4zm-3 4zm-4 0zm-1-2zm-2-2zm0-1zm-2 1zm-1-3zm5 10zm1 3zm1-4zm1 3zm0 1zm1 2zm1-1zm4-5zm1 1zm2 1zm0 2zm6 0zm0 1zm2-3zm3 4zm1-6zm2 6zm1-1zm1-5zm3 5zm1-3zm1 4zm1 0zm3-3zm2-2zm0 3zm2-3zm0 3zm6-2zm0 4zm7-4zm5 0zm8 4zm4-6zm5 0zm2 0zm3 1zm4 0zm4-1zm6 4zm19-3zm10 5zm9-6zm68 8zm-47 2zm-16 4zm-11-7zm-24 3zm-16 2zm-4 0zm-12-1zm-1 1zm-11-4zm0-1zm-6 0zm-5 5zm-3-5zm-6 7zm-5-4zm-2 0zm-1-3zm-4 7zm-3-2zm0-2zm0-3zm-1 2zm-3 5zm0-2zm-1 0zm-1-4zm-3 3zm0-4zm-3 5zm-2-4zm-1 2zm-1 3zm0-1zm-1 2zm0-2zm0-1zm-6-3zm-2 4zm0-5zm-3 0zm7 9zm2 2zm3-2zm5 0zm1 5zm1-3zm2 2zm0 1zm2-2zm2-3zm0 1zm2 2zm1-1zm4-2zm1 1zm1-1zm2-1zm4 0zm2 1zm0 4zm1-3zm1-2zm0 6zm2 1zm1-1zm3-6zm4 6zm3-2zm3-4zm0 3zm5-3zm2 7zm4-7zm3 6zm13-1zm2 2zm41-1zm107 6zm-54 2zm-77-2zm-12-2zm-4 5zm0-1zm-7-1zm-10 0zm0-3zm-12-2zm-5 6zm-1-6zm-2 5zm-2 0zm0-5zm-2 4zm0-1zm0-1zm-4 3zm-3 2zm-2-2zm-7-5zm-1 3zm-2 1zm-4 3zm0-5zm-2-1zm-1 2zm-1 0zm-2-1zm-3 1zm0-3zm-1 7zm0-1zm-1-4zm-2 2zm-1-4zm-1 3zm-1 1zm0-2zm-1 3zm0-3zm0-1zm-1 3zm-2-1zm-2 4zm2 6zm1-3zm0 3zm3-2zm1 3zm1-6zm2 1zm0 4zm3-5zm1 1zm3-1zm0 2zm0 3zm1-4zm0 5zm2-2zm3 2zm4-1zm0 1zm1-1zm1-3zm0 2zm10-3zm1 6zm1-2zm2-5zm3 1zm3-1zm1 0zm2 7zm1-2zm1-5zm5 6zm1-6zm1 4zm3 3zm7-3zm6 3zm1-7zm0 2zm3 2zm21 1zm1-1zm98-2zm-33 10zm-58-2zm-8 5zm-13 0zm0-5zm-15-1zm-3-1zm-5 4zm-1 0zm-1-3zm-7 4zm-3-3zm-4 1zm-6 2zm-4-5zm-1 7zm-3-6zm-2 6zm-2-7zm-2 7zm-3-4zm-3 4zm-1-4zm0-3zm-2 1zm-1 1zm-3 5zm0-1zm-4-3zm-1 3zm0-6zm-1 7zm0-3zm-1-2zm-1 3zm-1 1zm0-2zm-2 2zm0-6zm-3 2zm0-1zm-3 10zm2 2zm0 1zm1 1zm2 0zm1-3zm1-2zm1 2zm1-2zm0 1zm0 1zm1-4zm1 2zm1-2zm3 6zm2-5zm0 2zm3 1zm1-4zm2 5zm1 1zm3-3zm5 1zm1-2zm1 3zm1-4zm3 4zm1 1zm2 1zm3-7zm1 6zm15-3zm11 4zm2-5zm0 3zm1-3zm4 5zm10-1zm13-5zm3-1zm2 7zm2-3zm11-4zm1 2zm145 13zm-71-5zm-89 1zm-4 2zm-22 2zm-3-2zm-13-4zm-4-1zm-1 5zm-1-2zm-2 4zm-2-1zm-2-2zm0-1zm-5 4zm-2 0zm0-4zm-4-3zm-2 7zm-1-5zm-2 2zm-1 3zm-4-1zm0-3zm0-2zm-1 3zm0-3zm-3 2zm-1 1zm-2-4zm-2 6zm-1-4zm-2 4zm-2-5zm-1 5zm-3-6zm-1 7zm0-2zm0-4zm-1 1zm-5 1zm-2 4zm-2-1zm0-3zm0-2zm-2 5zm2 8zm1-2zm1 1zm2-1zm0 3zm1-3zm0 1zm0 2zm1-7zm0 1zm0 6zm1-3zm0 3zm1 0zm1-6zm2-1zm3 0zm0 1zm0 1zm1 4zm1-3zm1 0zm1-1zm1 4zm1-5zm1 3zm4 1zm3-4zm0 3zm5-4zm2 6zm2-6zm0 7zm1-2zm1 0zm2-5zm2 4zm3-2zm4 3zm1-1zm7 0zm2-4zm3 2zm6 2zm10 2zm2-3zm1-1zm17-1zm15 1zm15-2zm39 0zm5 6zm7-2zm-54 9zm-8-1zm-20-3zm-2 0zm-5 6zm-1-2zm-8 2zm-5-3zm-1 1zm-6-5zm-2 3zm-2 0zm-4-3zm-4 3zm-3 3zm-3-2zm-1-2zm-6 3zm-2 2zm0-6zm-1 6zm-2-3zm-3-1zm-1 4zm-5 0zm-3 0zm-3-7zm-5 5zm-7 1zm-3-1zm-1-2zm-2 4zm-1-7zm-2 2zm-1 4zm0-4zm-1 4zm0-4zm-1 4zm0-3zm0 10zm1-1zm2 0zm0 3zm2-6zm0 5zm1-5zm1 1zm0 5zm1-1zm3-4zm0 3zm3-5zm0 1zm0 5zm1-1zm0 2zm1-3zm1 0zm1-4zm3 1zm1 0zm5 3zm1-2zm0 5zm2-1zm5-1zm1-5zm0 1zm3 2zm2-3zm1 3zm3-1zm14 0zm2 5zm10-5zm1 4zm2-1zm3-2zm0 3zm15-3zm4 2zm7 2zm3-6zm7 1zm0 2zm25 1zm2 0zm40-1zm14 9zm-35-5zm-24 4zm-26 2zm-14-2zm-9 2zm-2-2zm-1 2zm-6-5zm-1-1zm-18 1zm-1 5zm-5-2zm-2-1zm-3 2zm-5-1zm-2-1zm-3 2zm-1-5zm-2 6zm-3-5zm-2 4zm-1 2zm-1 0zm-1-2zm-1-3zm-2 4zm0-2zm-2-3zm-1 4zm-1-4zm-1 5zm0-2zm0-1zm-5 4zm-2-5zm0-1zm-1 2zm0-2zm-2 5zm-2-1zm-3 1zm0-6zm-1 1zm-1 5zm0-2zm0-3zm1 10zm2 0zm1-1zm1 0zm0 2zm1 3zm1-6zm0 2zm4-2zm0 6zm2 0zm2-2zm4 1zm1-4zm2-2zm0 2zm1-2zm1 0zm0 1zm1 2zm1 1zm3-3zm0 4zm6-2zm0 2zm1-3zm1 1zm5-2zm1-1zm0 6zm1 0zm2-6zm2 3zm2-1zm1-2zm1 0zm1 0zm0 7zm3 0zm9-2zm14 1zm3-6zm3 6zm8-3zm2 3zm3 1zm12-4zm8 1zm2 3zm97 2zm-72 3zm-37 1zm-12-5zm-3 7zm-1-2zm-11 1zm-6-5zm-3 3zm-10 2zm-2-1zm-7-2zm-2-1zm-2 3zm-4 0zm-3 0zm-2 2zm-6-3zm-2 1zm-2-1zm0-1zm-1-3zm-1 0zm-4 6zm0-2zm0-1zm0-1zm-1 3zm-1 2zm-1 0zm-1 0zm-2-2zm0-1zm0-2zm0-2zm-1 3zm0-2zm-2 6zm-1-6zm-1 4zm0-2zm-2-1zm-1 3zm-3-2zm0-3zm-2 5zm-1-2zm-2 3zm0-4zm-2 3zm0-1zm3 6zm2 1zm0 3zm2-6zm1 6zm1-2zm1-2zm1-2zm1 3zm1-3zm1 0zm0 3zm0 3zm1-3zm0 1zm1-3zm2-1zm1 3zm0 4zm6-7zm0 4zm1-1zm2-2zm0 4zm2-2zm2-2zm3 1zm5-1zm1 3zm3-2zm1 0zm0 2zm2 2zm5-4zm0 2zm4 2zm2-2zm14 0zm2 1zm0 1zm1 1zm6-2zm3-2zm20-1zm2-2zm25 6zm93-3zm6 6zm-47 2zm-49 3zm-7-1zm-3-3zm-8 1zm-17-1zm-25 0zm0-1zm-11 6zm-3-6zm-1 5zm-3-1zm0-2zm-2 0zm-5 1zm-1 3zm-1-4zm-4 0zm-1-1zm-1-1zm-2 2zm-1 1zm-5 2zm-1 0zm-1 0zm0-4zm-1 2zm0-2zm0-2zm-2 7zm-4-6zm-1 3zm0-1zm-1 3zm-1 1zm0-2zm-1-1zm0-4zm-1 4zm0-1zm-2 4zm0-1zm-1-2zm-2-1zm-2 3zm-3-6zm-1 4zm0-1zm0-2zm-1-1zm-3 2zm-2 3zm-1 0zm1 7zm1 2zm1-6zm1 7zm1-5zm1 2zm0 3zm1-7zm1 0zm1 0zm0 2zm1 0zm2 1zm1-1zm3 2zm1-3zm1 0zm0 5zm6-2zm0 1zm1-4zm1 1zm0 2zm0 1zm3-4zm1 6zm1-6zm13 4zm2-5zm2 4zm0 3zm1-4zm13 2zm3 2zm1 0zm1 0zm6-5zm8 2zm4 3zm16 0zm16-5zm20 4zm26-1zm15 5zm-46 2zm-18 3zm-6-3zm-22 2zm-4 0zm-2-2zm-8-1zm-10-1zm-7 5zm-2 0zm-5-3zm-4-1zm-2 4zm0-5zm-2 0zm-3 5zm-1 0zm-1-1zm-5-2zm0-1zm-1 1zm-4 1zm0-2zm-1-3zm-2 1zm-2 5zm-1-3zm-1-2zm0-1zm-3 6zm0-2zm-1 0zm-1-1zm-1 4zm-5-2zm-1 1zm-1 0zm0-6zm-1 7zm-1-3zm0-1zm-2 0zm10 8zm1-2zm0 5zm1-5zm1 3zm2 0zm1-4zm0 2zm0 3zm1-5zm2 0zm0 1zm0 5zm4-4zm2 3zm3-2zm2 3zm2-3zm2 3zm4-3zm2 1zm0 2zm4-4zm0 3zm1 0zm6-1zm7-4zm8 1zm24 4zm1-5zm4 6zm3-3zm1-1zm3 1zm1-2zm0 5zm4-1zm1-1zm79-2zm19-1zm28 2zm-38 7zm-56-2zm-26 6zm-4 1zm-26-7zm-3 1zm-17 4zm-4-2zm0-1zm-1-1zm-3 0zm-1 4zm-3 1zm0-5zm-5 5zm-5 0zm0-3zm-1-1zm-2 4zm0-5zm-4 2zm-5-3zm-1 1zm-1 1zm-1 2zm-2 0zm-2 2zm-2-5zm-1 0zm-2 3zm0-4zm-3 5zm0-4zm-1 2zm0-1zm0-2zm-2 1zm-1 1zm-1 4zm-1-5zm-1 0zm-1 6zm-1-3zm0-2zm0-2zm-2 7zm0-7zm-1 5zm2 4zm2 0zm0 3zm1-4zm2 0zm2 7zm2-7zm1 5zm2-1zm2 3zm1-1zm0 1zm4-7zm0 1zm0 1zm0 5zm2-7zm3 0zm1 4zm1 1zm4-4zm0 4zm0 1zm1-1zm2-1zm0 2zm2-2zm1-3zm1 2zm0 4zm1-3zm2 1zm1-1zm1 2zm1-5zm4 5zm6-5zm1 0zm3 5zm4-3zm7 1zm5 0zm4-2zm11 3zm19-4zm2 3zm12 0zm10-3zm13-1zm10 5zm6 1zm4 1zm5-7zm-17 15zm-18-5zm-15 2zm-18-4zm-23 0zm-8 6zm-4-4zm-1 2zm-21-2zm-8 3zm0-3zm-2 5zm0-2zm-1 2zm-3-4zm-2 3zm-2-3zm-5 0zm-3 2zm-1 0zm0-3zm0-1zm-4 4zm0-1zm-1-4zm-2 4zm-2 2zm-1 0zm0-2zm-1 1zm0-3zm-1 5zm-3-3zm-2 2zm-1-4zm-3 4zm2 6zm1-2zm1 2zm1-1zm3-2zm2 4zm1-2zm1-2zm0 4zm3-5zm1 0zm0 4zm3-4zm0 4zm0 1zm1 1zm1-2zm1 0zm1 3zm1-7zm1 4zm5 2zm5-5zm1 0zm2 3zm1-3zm7 3zm4 2zm2-2zm0 2zm3-5zm1 6zm19-6zm3 3zm30 3zm5-5zm52 3zm22-5zm14 2zm-93 10zm-26-3zm-3 2zm-5-3zm-7 5zm0-2zm-7 3zm-4 0zm-10-1zm-1 1zm0-2zm-2 1zm-6 2zm-1-1zm0-6zm-1 1zm-1 4zm0-5zm-4 4zm-1 2zm0-1zm-1 0zm-1 2zm-2-1zm-1 0zm0-5zm0-1zm-2 4zm0-4zm-3 2zm-1 2zm-1-3zm-4 3zm0-3zm-1 0zm-2 1zm-1-2zm-1 4zm-3-4zm-2 2zm-1 3zm-1 0zm-4-2zm0-1zm-1-1zm3 10zm0 1zm0 3zm1-7zm0 1zm3 2zm1-1zm0 2zm0 3zm1-7zm0 7zm2-1zm1-6zm0 3zm0 2zm1 1zm1-2zm2-3zm0 3zm2 2zm1-6zm0 6zm1-3zm0 2zm1-4zm3 3zm3-4zm5 5zm1 0zm3 2zm2-7zm3 4zm1-3zm5 2zm1 1zm1-4zm4 1zm1 4zm2-1zm16 3zm1-7zm0 5zm28 1zm3-3zm19 3zm25-2zm1 1zm23-3zm8 4zm11 1zm-75 3zm-20 0zm-22 4zm-2-1zm-4-5zm-1 4zm0-2zm-8 4zm-3-2zm-2-1zm-3-3zm-4 1zm-3 4zm-1-2zm-2 4zm0-1zm-5 1zm-3-7zm-2 5zm-2 1zm-1-4zm-1 1zm-1 4zm-1-6zm-1 1zm-2 5zm-2-7zm-2 5zm-2 2zm0-7zm-2 7zm0-1zm0-4zm-1 1zm-1 2zm-3-5zm-1 5zm0-5zm-5 7zm0-1zm-1-3zm0-2zm-1 4zm0-5zm-1 2zm0-1zm1 8zm1 2zm1-3zm0 2zm0 4zm1 1zm2-2zm1 0zm1-4zm0 1zm0 3zm2 2zm1-7zm3 1zm0 2zm0 1zm3-2zm0 5zm2-7zm1 2zm2 3zm10-3zm3 4zm2-1zm1-1zm3 3zm1-3zm7-4zm3 4zm1 2zm5-3zm1 4zm9-3zm4 3zm1-5zm1-2zm4 5zm7-3zm11-2zm16 4zm25-1zm13 1zm72 6zm-18-1zm-14 2zm-12-2zm-14 3zm0-4zm-59 1zm-11 5zm-16-5zm-3 6zm-2-3zm-2-3zm-1 0zm-5 4zm-1-1zm-3 2zm-1 1zm-18 0zm0-6zm-3 3zm-3-3zm-1 2zm-1-3zm-5 0zm-2 7zm0-3zm-1 1zm-1 1zm-2 0zm0-3zm-3-3zm-9 1zm-1-1zm-2 5zm-1-2zm0-3zm-1 6zm0-1zm-1 0zm0-2zm0-1zm-1-2zm-1 2zm-1 2zm-1 3zm-1-3zm0-1zm-2 7zm3 4zm1-5zm1 3zm0 2zm0 1zm1-3zm0 1zm1-4zm0 1zm0 4zm1 0zm1-4zm2-2zm0 2zm0 2zm2-2zm0 4zm0 1zm1-7zm0 5zm1 2zm1-6zm0 3zm0 2zm3 0zm1-4zm1 2zm0 1zm2-5zm2 0zm1 3zm2 1zm1-3zm0 1zm8 5zm3 0zm5-6zm2 3zm4 1zm3-5zm4 2zm1 0zm5 0zm0 1zm8 3zm9 0zm26 1zm2 0zm75 4zm-89-2zm-11 5zm-15-1zm-5-3zm-11 4zm-12-2zm-6-1zm-5 3zm-2-6zm-1 5zm-1 0zm-1-3zm-1-1zm-1 5zm-2-3zm-1 1zm-2 3zm-1-3zm0-1zm0-1zm-3 5zm0-6zm-2 5zm0-5zm-2 2zm0-3zm-2 7zm0-7zm-1 2zm0-1zm0-1zm-1 5zm0-1zm0-3zm-2 4zm-1-4zm-1-1zm-3 13zm2 2zm1-5zm0 4zm1-4zm0 1zm1 3zm0 1zm2-5zm1-2zm0 6zm1-1zm1-5zm3 6zm2-4zm0 1zm1-2zm2 2zm0 4zm2-1zm2-1zm0 2zm1-6zm3 4zm3-2zm0 2zm0 2zm1-4zm1 4zm1-4zm1 0zm2 0zm4 3zm5 0zm2-5zm6 1zm1 1zm0 2zm6-2zm0 3zm2-3zm1 1zm4 3zm42-3zm84 2zm-42 8zm-44-6zm-30 6zm-15-1zm-1-5zm-9 3zm-7 4zm-2-4zm-4 4zm-3-7zm-4 4zm-1 1zm0-2zm-1 0zm-5-1zm-1 5zm0-1zm0-3zm-2-1zm0-2zm-1 7zm-1-6zm-8 2zm-1 1zm-2 3zm0-4zm0-1zm-2-1zm-1 0zm-2 1zm-1 5zm-1-6zm-1 6zm0-3zm0-1zm-1 0zm-2 1zm0 6zm0 5zm1-4zm1 3zm4-2zm1-1zm0 1zm1 3zm1-7zm0 4zm1 0zm1 0zm1-2zm1 2zm0 1zm1-1zm0 2zm5-3zm1 4zm2-3zm2 3zm1-7zm2 6zm2-4zm1 0zm10 3zm2 2zm2-4zm3-1zm1 5zm7-3zm2-4zm9 7zm11 0zm22-6zm8 4zm129 8zm-85-5zm-5 5zm-51 1zm-3 1zm-23-5zm-1 5zm-1-6zm-8 4zm-2 0zm-6-5zm-3 0zm-2 5zm-2-4zm-3 6zm-1-2zm-2-1zm-1 3zm0-6zm-1 3zm0-2zm-7 0zm-4 4zm0-3zm-3 1zm-3-3zm-1 6zm0-1zm-2-1zm-1-1zm0-4zm-5 0zm-1 4zm-1-3zm0-1zm-1 0zm-2 4zm-1 3zm0-2zm0-1zm-2-4zm-2 10zm1 0zm0 3zm1-5zm0 6zm1-3zm1-2zm0 1zm0 1zm1-1zm1-2zm0 4zm6 1zm1-4zm9 6zm1-3zm0 3zm1-4zm2 3zm1-2zm1-3zm2 6zm1-4zm0 1zm5-3zm0 2zm1 4zm8-5zm1 0zm9-2zm16 2zm3-2zm0 7zm13-4zm6 4zm6-2zm2-4zm0 2zm52 3zm11 1zm1-6zm3 12zm-7 0zm-22 0zm-56-3zm0-1zm-3 6zm-4-2zm0-5zm-3 6zm-6-6zm-2 2zm-4 5zm0-4zm-3-3zm-16 7zm-2 0zm-1-7zm-8 0zm-3 4zm-1 0zm-2-3zm-1-1zm-3 1zm-4 2zm-1 1zm-3-3zm0-1zm-3 5zm-4-3zm0-2zm-2 7zm0-3zm-1 0zm0-2zm-6 7zm0 3zm1 3zm1-7zm0 6zm1 1zm2-7zm0 1zm2 1zm0 1zm0 2zm1 0zm0 2zm8-1zm2 1zm8-4zm2 2zm3 0zm0 1zm1 0zm1-5zm14-1zm5 7zm4-1zm30-2zm40-1zm62 0zm-9 5zm-19 0zm-70 2zm-40 5zm-3-1zm-4-6zm-3 6zm-1-1zm-4-5zm-8 4zm-1-2zm0-1zm-1 1zm-1 3zm-1-3zm-2 0zm-1 4zm-3-5zm-4 6zm-3 0zm-1-1zm-1 1zm0-5zm-1 1zm0-1zm0-2zm-3 1zm-2-1zm-1 3zm0-1zm0-2zm-1 7zm0-5zm-3 10zm1 1zm3-3zm0 2zm2 1zm1 0zm0 1zm0 1zm1-3zm4 0zm1 0zm1-4zm1 7zm2-7zm2 2zm1 1zm1-2zm3 0zm1 2zm0 2zm1-4zm5 4zm1-2zm3 3zm1-6zm5 2zm6 3zm20-4zm2 3zm10 2zm30-4zm57-2zm-58 14zm-9-4zm-3-1zm-10 0zm-13 5zm0-5zm-5-1zm-7 0zm-11 6zm-3 0zm-3-5zm-2 3zm-1-2zm-6 1zm-1-2zm-11 4zm-3-2zm-2 3zm0-5zm-1 1zm-1 0zm-5 3zm0-1zm0-3zm-1 1zm0-1zm-6 1zm-1 2zm-2-4zm-1 2zm-3 5zm0-4zm-1 1zm1 11zm1-7zm1 1zm1 0zm2 2zm1 0zm0 3zm2-2zm1 3zm3-6zm4-1zm0 4zm6 2zm10 0zm16-3zm5 1zm3-2zm5 1zm21 2zm34-2zm5 2zm22 8zm-1-4zm-12 0zm-56 2zm-12 4zm-1-3zm-6 0zm-3 1zm-1-3zm-1 0zm0-1zm-3 0zm-3 4zm-2 2zm-1-1zm-7 1zm-6-2zm-3 0zm-2-2zm-2-3zm-2 5zm-1-3zm-3 4zm0-3zm0-2zm-1 6zm-2-2zm-1 2zm0-2zm0-4zm-2 4zm-3-2zm-3 0zm-1 2zm-1 2zm0-1zm-1 0zm-2-3zm-1 3zm-2-5zm1 12zm3-3zm0 4zm1 0zm4-4zm0 1zm2 1zm2-3zm0 3zm1 1zm1-3zm4 3zm2-3zm5 5zm4-1zm11 1zm2-3zm0 3zm117-2zm11-2zm-79 12zm-15-3zm-11 0zm-11 1zm-5 0zm-21 1zm-11 1zm-2-2zm-4-3zm-3 5zm0-1zm-3-5zm-1 6zm0-6zm-1 6zm0-7zm-1 5zm-2 2zm0-4zm-1 3zm0-6zm-1 3zm-6 6zm2-1zm4 7zm1-5zm0 3zm1-5zm0 2zm0 4zm3-1zm1-3zm2-2zm3 2zm1 0zm2-1zm4 4zm4 2zm6-4zm1-2zm5 2zm10 3zm6-4zm20 5zm20-5zm24 0zm-8 6zm-49 2zm-14-1zm-6 5zm-3-4zm-5 0zm-15 5zm-2-5zm-1 5zm0-6zm-2-1zm-1 6zm-1 0zm0-2zm-3-4zm-2 3zm-1-2zm-4 6zm-2-3zm-4 11zm1 0zm1-3zm1-3zm1 6zm1-6zm2 6zm1-2zm1 0zm0 1zm1-3zm1 3zm2-4zm0 3zm1-4zm1-1zm0 4zm2-4zm0 1zm2 4zm6-1zm0 2zm3 1zm17-7zm14 7zm4-4zm10 3zm2-3zm15-2zm16 5zm2 0zm34-3zm-20 7zm-12 2zm-23 3zm-28-5zm-14 0zm-10 5zm-4-2zm-1 2zm-1-2zm0-2zm-1 4zm0-1zm-1-4zm-1 4zm0-2zm-2-1zm-1 4zm0-6zm-1 5zm0-5zm-1 5zm-1-5zm-1 6zm0-7zm-1 6zm-2-5zm-3 5zm0-4zm-5 4zm-1-2zm-1-2zm0-2zm-2 4zm0-2zm-1 1zm-1 3zm0-3zm-1 4zm0-1zm0-3zm0-3zm-1 6zm0-2zm-1 3zm0-1zm0-3zm0-2zm-1 4zm-1 1zm1 8zm2-2zm1-1zm0 4zm1-4zm0 3zm1-6zm0 5zm2 0zm1-5zm1 7zm1 0zm2-7zm1 3zm0 3zm2-2zm0 1zm1 0zm1 2zm1-1zm4-3zm17 1zm4-4zm3 2zm5 0zm19 3zm31 2zm37-3zm-35 10zm-16-5zm-14 5zm-6-6zm-9 7zm-13-3zm-9 2zm-6-4zm-3 2zm0-3zm-1 3zm0-3zm-2 5zm-5-2zm-2 3zm0-5zm-2 2zm-2 2zm0-3zm-1-1zm-1 0zm-2 2zm-3 2zm-2-6zm-1 7zm0-1zm0-1zm-1-1zm-1-1zm0-1zm-3 5zm-1-6zm-5 14zm1-5zm0 3zm1-5zm0 3zm0 1zm3 0zm1-2zm0 1zm0 4zm1-5zm1 0zm0 5zm2-7zm0 1zm0 1zm0 5zm1-3zm2-3zm4 3zm2-4zm3 0zm2 2zm5-1zm2 6zm6-1zm143 0zm33 7zm-170-3zm-6 4zm-7-2zm-3-2zm-5 4zm-12-5zm-1 6zm-1-6zm-3 1zm0-2zm-3 1zm-1 4zm0-3zm0-2zm-3 6zm-9 9zm2 0zm1-4zm0 4zm1-4zm1-2zm0 6zm1-2zm1-5zm0 7zm1-7zm1 5zm3-5zm0 6zm2-6zm1 3zm1-2zm2 5zm14-2zm4 1zm67 3zm-63 0zm-7 5zm-3-1zm-9-3zm-1-1zm-5 2zm-2 0zm-5 4zm0-3zm-1-1zm-1 2zm0-3zm-2 4zm0-5zm-3 2zm-2 1zm-2 4zm0-3zm-1-4zm-1 5zm-1 2zm0-7zm-3 5zm-1 2zm0-2zm-1-2zm-1-2zm0 9zm3 2zm1 0zm1 2zm0 1zm5-7zm12 7zm3-4zm10-1zm-11 7zm-1 1zm-5 3zm-2 0zm0-3zm-4 1zm-2 2zm-1 0zm-4-3zm-1 2zm-4 1zm2 7zm1-2zm4-1zm0 3zm5-4zm30 6zm5 27zm-22 0zm-6 0zm-1 0zm-8 0zm-1 0zm-1 0zm-2 0zm-1 0zm-1 0zm-2 0zm-1 0z" stroke="#ff0000" stroke-width="3" stroke-linecap="square" fill="none"/>
<path d="M912.7 82L912.7 83L912.7 84L912.7 85L912.7 86L912.7 87L912.7 88L912.7 89L912.7 90L912.7 91L912.7 92L912.7 93L912.7 94L912.7 95L912.7 96L912.7 97L912.7 98L912.7 99L912.7 100L912.7 101L912.7 102L912.7 103L912.7 104L912.7 105L912.7 106L912.7 107L912.7 108L912.7 109L912.7 110L912.7 111L912.7 112L912.7 113L912.7 114L912.7 115L912.7 116L912.7 117L912.7 118L912.7 119L912.7 120L912.7 121L912.7 122L912.7 123L912.7 124L912.7 125L912.7 126L912.7 127L912.7 128L912.7 129L912.7 130L912.7 131L912.7 132L912.7 133L912.7 134L912.7 135L912.7 136L912.7 137L912.7 138L912.7 139L912.7 140L912.7 141L912.7 142L912.7 143L912.7 144L912.7 145L912.7 146L912.7 147L912.7 148L912.7 149L912.7 150L912.7 151L912.7 152L912.7 153L912.7 154L912.7 155L912.7 156L912.7 157L912.7 158L912.7 159L912.7 160L912.7 161L912.7 162L912.7 163L912.7 164L912.7 165L912.7 166L912.7 167L912.7 168L912.7 169L912.7 170L912.7 171L912.7 172L912.7 173L912.7 174L912.7 175L912.7 176L912.7 177L912.7 178L912.7 179L912.7 180L912.7 181L912.7 182L912.7 183L912.7 184L912.7 185L912.7 186L912.7 187L912.7 188L912.7 189L912.7 190L912.7 191L912.7 192L912.7 193L912.7 194L912.7 195L912.7 196L912.7 197L912.7 198L912.7 199L912.7 200L912.7 201L912.7 202L912.7 203L912.7 204L912.7 205L912.7 206L912.7 207L912.7 208L912.7 209L912.7 210L912.7 211L912.7 212L912.7 213L912.7 214L912.7 215L912.7 216L912.7 217L912.7 218L912.7 219L912.7 220L912.7 221L912.7 222L912.7 223L912.7 224L912.7 225L912.7 226L912.7 227L912.7 228L912.7 229L912.7 230L912.7 231L912.7 232L912.7 233L912.7 234L912.7 235L912.7 236L912.7 237L912.7 238L912.7 239L912.7 240L912.7 241L912.7 242L912.7 243L912.7 244L912.7 245L912.7 246L912.7 247L912.7 248L912.7 249L912.7 250L912.7 251L912.7 252L912.7 253L912.7 254L912.7 255L912.7 256L912.7 257L912.7 258L912.7 259L912.7 260L912.7 261L912.7 262L912.7 263L912.7 264L912.7 265L912.7 266L912.7 267L912.7 268L912.7 269L912.7 270L912.7 271L912.7 272L912.7 273L912.7 274L912.7 275L912.7 276L912.7 277L912.7 278L912.7 279L912.7 280L912.7 281L912.7 282L912.7 283L912.7 284L912.7 285L912.7 286L912.7 287L912.7 288L912.7 289L912.7 290L912.7 291L912.7 292L912.7 293L912.7 294L912.7 295L912.7 296L912.7 297L912.7 298L912.7 299L912.7 300L912.7 301L912.7 302L912.7 303L912.7 304L912.7 305L912.7 306L912.7 307L912.7 308L912.7 309L912.7 310L912.7 311L912.7 312L912.7 313L912.7 314L912.7 315L912.7 316L912.7 317L912.7 318L912.7 319L912.7 320L912.7 321L912.7 322L912.7 323L912.7 324L912.7 325L912.7 326L912.7 327L912.7 328L912.7 329L912.7 330L912.7 331L912.7 332L912.7 333L912.7 334L912.7 335L912.7 336L912.7 337L912.7 338L912.7 339L912.7 340L912.7 341L912.7 342L912.7 343L912.7 344L912.7 345L912.7 346L912.7 347L912.7 348L912.7 349L912.7 350L912.7 351L912.7 352L912.7 353L912.7 354L912.7 355L912.7 356L912.7 357L912.7 358L912.7 359L912.7 360L912.7 361L912.7 362L912.7 363L912.7 364L912.7 365L912.7 366L912.7 367L912.7 368L912.7 369L912.7 370L912.7 371L912.7 372L912.7 373L912.7 374L912.7 375L912.7 376L912.7 377L912.7 378L912.7 379L912.7 380L912.7 381L912.7 382L912.7 383L912.7 384L912.7 385L912.7 386L912.7 387L912.7 388L912.7 389L912.7 390L912.7 391L912.7 392L912.7 393L912.7 394L912.7 395L912.7 396L912.7 397L912.7 398L912.7 399L912.7 400L912.7 401L912.7 402L912.7 403L912.7 404L912.7 405L912.7 406L912.7 407L912.7 408L912.7 409L912.7 410L912.7 411L912.7 412L912.7 413L912.7 414L912.7 415L912.7 416L912.7 417L912.7 418L912.7 419L912.7 420L912.7 421L912.7 422L912.7 423L912.7 424L912.7 425L912.7 426L912.7 427L912.7 428L912.7 429L912.7 430L912.7 431L912.7 432L912.7 433L912.7 434L912.7 435L912.7 436L912.7 437L912.7 438L912.7 439L912.7 440L912.7 441L912.7 442L912.7 443L912.7 444L912.7 445L912.7 446L912.7 447L912.7 448L912.7 449L912.7 450L912.7 451L912.7 452L912.7 453L912.7 454L912.7 455L912.7 456L912.7 457L912.7 458L912.7 459L912.7 460L912.7 461L912.7 462L912.7 463L912.7 464L912.7 465L912.7 466L912.7 467L912.7 468L912.7 469L912.7 470L912.7 471L912.7 472L912.7 473L912.7 474L912.7 475L912.7 476L912.7 477L912.7 478L912.7 479L912.7 480L912.7 481L912.7 482L912.7 483L912.7 484L912.7 485L912.7 486L912.7 487L912.7 488L912.7 489L912.7 490L912.7 491L912.7 492L912.7 493L912.7 494L912.7 495L912.7 496L912.7 497L912.7 498L912.7 499L912.7 500L912.7 501L912.7 502L912.7 503L912.7 504L912.7 505L912.7 506L912.7 507L912.7 508L912.7 509L912.7 510L912.7 511L912.7 512L912.7 513L912.7 514L912.7 515L912.7 516L912.7 517L912.7 518L912.7 519L912.7 520L912.7 521L912.7 522L912.7 523L912.7 524L912.7 525L912.7 526L912.7 527L912 527L910.4 526L909 525L906.1 524L906.4 523L906 522L906 521L905 520L903.6 519L904 518L902.5 517L903.1 516L902.5 515L902.5 514L901.8 513L901.3 512L900.2 511L900.6 510L900.3 509L899.1 508L900.3 507L899.1 506L900 505L899.3 504L899.2 503L899.3 502L899.3 501L898.6 500L898.9 499L897.2 498L896.9 497L897.9 496L898.1 495L898.1 494L896.9 493L895.7 492L896.2 491L895.3 490L894.7 489L896.2 488L894.1 487L893.2 486L894.1 485L892.2 484L893.6 483L892.4 482L892.3 481L891.7 480L890.6 479L891 478L889.8 477L888.4 476L888.1 475L888.3 474L887.1 473L886.3 472L886 471L886.7 470L886.7 469L886.7 468L886.1 467L885.2 466L884.1 465L885 464L883.7 463L885.2 462L883.6 461L884.2 460L884.3 459L882.7 458L882.9 457L883.5 456L883.2 455L882 454L882.4 453L883.5 452L882.7 451L882.4 450L881.3 449L881.1 448L882.7 447L881.8 446L881.3 445L880.8 444L881.5 443L880.4 442L880.4 441L881.9 440L880.9 439L881.3 438L881.8 437L880.9 436L879.9 435L881 434L879.7 433L880.2 432L880.3 431L879.5 430L878.7 429L879.3 428L878.5 427L880 426L879.7 425L879.7 424L877.8 423L879.1 422L878.8 421L877.8 420L877.3 419L877.7 418L877.5 417L877.7 416L877 415L877.7 414L877.3 413L876.4 412L876.5 411L876.8 410L876.5 409L875.5 408L874.4 407L875.9 406L874.3 405L875 404L875.8 403L875.1 402L874.2 401L874.7 400L875.2 399L874.9 398L873.8 397L873.9 396L875.1 395L873.7 394L874.7 393L874.1 392L875.4 391L874 390L875.4 389L874.9 388L875.3 387L874.6 386L873.8 385L875.2 384L874.4 383L875.4 382L875.1 381L875.8 380L875.1 379L875.2 378L875 377L875.4 376L876.2 375L875 374L874.9 373L876.3 372L875.1 371L875.8 370L875 369L876.2 368L876.8 367L876 366L876.4 365L876.6 364L875.4 363L875.9 362L877 361L876.9 360L876.3 359L875.6 358L877.7 357L876.4 356L876.4 355L876.8 354L877.5 353L876.3 352L877 351L877.7 350L877.9 349L878.1 348L877.5 347L877.4 346L876.8 345L876.5 344L876.9 343L878.3 342L877.1 341L877.5 340L877.3 339L876.6 338L877.8 337L878 336L878.7 335L877.8 334L877.3 333L878.1 332L879.1 331L877.7 330L877.5 329L879.8 328L879.8 327L879.6 326L880 325L880.5 324L880.5 323L880.1 322L879.4 321L881.7 320L881.2 319L880.2 318L880.7 317L881.7 316L882.5 315L881.7 314L883 313L883.1 312L883.3 311L884.2 310L884.1 309L884.1 308L885 307L884.8 306L885.6 305L885.2 304L884 303L886.2 302L886 301L886.1 300L886.3 299L885.8 298L885.7 297L885.7 296L886.3 295L886 294L886.2 293L887.8 292L887.1 291L887.6 290L888.3 289L887.5 288L887.7 287L888.8 286L889.8 285L890.3 284L890.5 283L889.1 282L889.3 281L889.8 280L889.4 279L891.6 278L890.1 277L890.7 276L890.7 275L890.3 274L891.1 273L892.1 272L890.4 271L891.5 270L892.3 269L892 268L892.9 267L892.7 266L892.7 265L891.8 264L892.5 263L891.8 262L891.6 261L892.7 260L893.2 259L891.6 258L892 257L892.3 256L892.8 255L892.2 254L893.8 253L893.6 252L893.9 251L893.2 250L892.5 249L893.7 248L893.3 247L892.7 246L893 245L894.4 244L893.4 243L894.1 242L895 241L893.3 240L893.2 239L894.5 238L895 237L894.2 236L894.9 235L893.6 234L893.4 233L894.2 232L895.7 231L894.1 230L895.8 229L894.8 228L895.9 227L894.7 226L895 225L896.1 224L894.9 223L894.4 222L896.1 221L895 220L896.4 219L896.1 218L896.3 217L896.3 216L895.9 215L895.5 214L895.5 213L896.4 212L896.3 211L897 210L897.5 209L895.8 208L897 207L897.8 206L896.2 205L896.1 204L896.7 203L897.6 202L898.1 201L897.6 200L898.6 199L898.3 198L898.6 197L897.2 196L898.7 195L898.8 194L899.1 193L898.7 192L897.5 191L899.6 190L899.2 189L899 188L898.5 187L899.8 186L899.5 185L899 184L899.4 183L900.6 182L898.7 181L899.5 180L899.2 179L899.4 178L900.5 177L900 176L899.9 175L900.6 174L900.2 173L899.7 172L900.7 171L901 170L901.1 169L900.5 168L901.4 167L900.5 166L900.8 165L901.8 164L902.7 163L901.4 162L902.5 161L901.6 160L901.4 159L902 158L903.2 157L903 156L902.6 155L902.8 154L902.8 153L902.4 152L903.3 151L901.8 150L903.6 149L903 148L902.8 147L901.9 146L902 145L903.2 144L903.2 143L903.4 142L902 141L904 140L903.1 139L902.8 138L903.4 137L903.2 136L903.2 135L904 134L903.4 133L904 132L904.3 131L903.1 130L903.8 129L904.5 128L904.4 127L904.6 126L903.9 125L906 124L905.2 123L906.4 122L906.4 121L905.6 120L905.5 119L907.2 118L906.3 117L905.9 116L906.5 115L907.7 114L906.5 113L908.1 112L907.5 111L907.5 110L907.9 109L907.2 108L907.7 107L907.4 106L908.3 105L907.8 104L909.3 103L909.1 102L908.5 101L907.9 100L909.7 99L908.3 98L907.9 97L908.5 96L908 95L908.8 94L909.5 93L908.2 92L909.9 91L908.5 90L909.8 89L909.3 88L910.6 87L910.7 86L909.1 85L911.4 84L911.5 83L910.7 82Z" fill="#0000ff"/>
<path transform="scale(.5)" d="M1781 129zm12 0zm8 0zm5 0zm1 0zm3 0zm1 0zm2 0zm1 0zm1 0zm1 0zm1 0zm1 0zm1 0zm1 0zm1 0zm1 0zm1 0zm1 0zm1 25zm-2 4zm-1-3zm-3 3zm-37 9zm3-2zm16 2zm7 0zm4-4zm1-2zm7 2zm0 3zm1-5zm0 2zm0 1zm0 3zm1-6zm0 13zm0-6zm-2 5zm-1-3zm-1 4zm-1-1zm-4 2zm-4-3zm-4-1zm-2-1zm-2 0zm-2 0zm-6 5zm-5 1zm2 0zm1 5zm4-2zm1-3zm2 3zm8-1zm2-1zm1 3zm1 3zm1-3zm1-1zm0 4zm2-1zm1-5zm2 6zm1-5zm-3 8zm-1 5zm0-1zm0-1zm-3-5zm-1 4zm-1-1zm-1 1zm-1 3zm-7-3zm0-2zm-1 5zm-2-3zm-1-2zm-13-2zm-6 5zm-24 2zm18 3zm13-2zm3 6zm6-5zm6 3zm2 0zm2 2zm2-1zm1-3zm4 5zm3-3zm2-1zm0 4zm2 7zm-1-4zm-1 5zm0-4zm-3 1zm-1 0zm-1 1zm-4-3zm-3-2zm-4 5zm-1-1zm0-4zm-1 6zm-2-2zm-4 1zm-4 0zm0-5zm-15 4zm-117-3zm110 13zm5 1zm18-5zm4 1zm1 3zm7-5zm1 4zm0 2zm5-6zm4 4zm1-4zm1-1zm2 6zm2-5zm0 13zm0-4zm-3 3zm-1 1zm-1-3zm0-2zm0-1zm-1 7zm0-3zm-1 0zm-5-3zm-2 2zm-6-1zm-1 4zm-7-6zm-8 7zm-1-6zm-153 1zm92 12zm46 1zm10-4zm11 4zm5-6zm4-1zm6 2zm5 3zm1-5zm1 3zm1-2zm1 1zm1 2zm1-1zm0 2zm1-5zm3 1zm-3 10zm-3-1zm0-1zm-3 0zm-13 2zm-9 0zm-15 0zm-69-2zm22 7zm45 2zm0 5zm14-4zm3-1zm3 3zm3 1zm1-6zm3 6zm2-2zm1-4zm3 5zm1 2zm1 0zm1-1zm0 1zm3-6zm1 3zm1 0zm0 2zm2 0zm0 1zm2-3zm0 1zm1 0zm0 2zm-2 1zm-2 1zm-3 3zm0-4zm-4 1zm-4 2zm0-3zm-1 0zm-9 7zm-1 0zm-3-5zm-13-1zm-4 3zm-22 5zm26 0zm0 1zm2 1zm2 0zm0 4zm12-1zm1-4zm4 4zm9-2zm1-3zm0 3zm1 3zm2-7zm0 2zm5 0zm-3 11zm-2 2zm-1-3zm-1 1zm-1 0zm0-1zm0-2zm-2 1zm-1 0zm-1 3zm-1 1zm0-5zm-1 1zm-6 1zm-4 2zm0-2zm-4-2zm-1-1zm-3 5zm-6-1zm-2-3zm0-1zm-5 6zm-2-2zm-7-5zm-11 6zm-86 3zm83 0zm14 4zm8-1zm3 2zm1 1zm7 0zm6-5zm0 5zm1-7zm4 3zm3 2zm3-3zm1 0zm2 0zm2 1zm3 1zm1-3zm0 4zm1 1zm2-3zm1 1zm1-4zm0 1zm1 14zm-1 0zm0-6zm0-1zm-3 6zm0-4zm0-1zm-4 6zm-1-7zm-2 5zm-3 1zm0-4zm-4 3zm-3-4zm-1 1zm-1 3zm-3-1zm-1-3zm-1 4zm-1-3zm-1-1zm-22 0zm-92 7zm58 2zm57 2zm6-4zm1 7zm2 0zm7-1zm2-5zm1 1zm0 2zm5-4zm0 4zm2-1zm1 3zm2 8zm0-4zm-1-2zm-3 6zm0-4zm0-2zm-1 4zm0-1zm-1 2zm-1-2zm-1 3zm0-2zm-4-4zm-6 7zm-3-1zm-3-4zm-2 4zm-34 0zm-4 1zm-61 6zm63-4zm4 1zm11 4zm0 1zm8-6zm10 6zm2-6zm0 6zm9-5zm1 1zm1-3zm0 7zm1 0zm1-3zm5-4zm1 0zm3 1zm0 3zm1-4zm0 7zm1-1zm-1 9zm-1 0zm0-6zm-1 1zm-3 1zm0-2zm-6 6zm-5-6zm-4 4zm-4-2zm-1 4zm-2-5zm-3 5zm-3-5zm-16 4zm-16-5zm-10 3zm-19-3zm-80 10zm3 1zm12 1zm73-2zm28-1zm0 1zm21 1zm4 0zm12-2zm2-1zm4 0zm2-1zm2 1zm1 2zm2 3zm1-1zm1 1zm1-5zm0 1zm1-1zm0 5zm1-3zm1 2zm3-4zm-4 7zm-5 7zm0-1zm-1-3zm-2-1zm-1 5zm0-4zm0-3zm-6 5zm-3-4zm-4 6zm-7-5zm-21-2zm-8 2zm-102 2zm-16 11zm87-1zm14-5zm10 0zm2 5zm20-6zm14 3zm4 0zm4 0zm6 0zm0 4zm2-2zm0 1zm2 0zm4-2zm5-2zm2 3zm1 8zm-2-1zm-5 3zm-1-4zm-1 3zm-1 0zm0-4zm0-1zm-1 6zm0-3zm-1-3zm-1 1zm-1 1zm-3-1zm-2 3zm-3-1zm-4 3zm-3-1zm-9 1zm-9-1zm-59-3zm-16 12zm37-5zm36 3zm4-4zm3 0zm1-1zm7 4zm0 2zm1-5zm0 3zm2 0zm2-1zm2 0zm5 2zm1-3zm1 0zm1 1zm1 3zm1-1zm8-1zm1-2zm1 2zm2-4zm1 2zm0 1zm0 4zm1-5zm0 2zm1 8zm-1 1zm-1 0zm-2-2zm0-1zm-4-2zm-1 7zm0-5zm-2 2zm-1 1zm0-3zm-1 4zm-3 1zm-4-2zm-4-2zm-1-1zm-1-1zm-6 1zm-1 4zm-1-1zm0-1zm-1 2zm0-5zm-1 1zm-6 5zm-4-7zm-14 4zm0-2zm-43 2zm25 7zm13-2zm7 0zm1 1zm9 1zm4 4zm2-3zm8-3zm1 1zm6 1zm0 3zm2 1zm5-4zm2-3zm3 2zm3 2zm2-2zm0 5zm1-5zm0 2zm0 1zm1-5zm3 5zm2-1zm0 3zm1-2zm1 5zm-1-2zm-3 0zm-1 6zm0-2zm-4-3zm-2 5zm0-4zm-6 3zm-1-2zm-2 4zm-1 0zm-9-2zm-4-5zm-3 1zm-3 4zm-1 2zm-13-4zm-57-2zm-20 1zm-43 5zm-9 1zm60 0zm56 6zm11 0zm8 0zm13-6zm12 4zm4 2zm1-5zm1 2zm0 1zm1-4zm1 0zm0 1zm6 3zm6-2zm0 2zm1-1zm1-1zm0 2zm1-1zm-5 7zm-2 5zm0-2zm-1-4zm-1 3zm-1-2zm-3 5zm-2-4zm-1 4zm-5-2zm-3 2zm-1-5zm-3 5zm0-3zm-1-3zm-7 3zm-2-1zm-1 3zm-2-5zm-3 3zm-12 0zm-6-1zm-1-2zm-4-1zm-29 3zm-7-1zm-100 3zm75 3zm7 4zm15-2zm0 3zm6-4zm50 6zm4 0zm1-2zm4-1zm0 1zm7-3zm2 3zm1 0zm10-5zm2 2zm0 1zm1 3zm1-6zm2 6zm1-2zm5 1zm1 0zm1-3zm2 11zm-1 2zm-1 0zm0-3zm-2 2zm0-4zm0-1zm-1 5zm0-3zm-2 3zm-1-6zm-2 4zm0-1zm-1-1zm-1-2zm-3 4zm-5 2zm-5 1zm-1 0zm-1-2zm-2 2zm-5-1zm0-6zm-2 1zm-1 2zm-1-3zm-5 3zm-18-3zm-12 4zm-23-1zm-51 12zm73 0zm9-5zm15 1zm18 0zm0 3zm3-5zm0 1zm1-2zm2 1zm10 5zm4 0zm0 1zm1-7zm3 3zm0 3zm0 1zm2-7zm0 1zm0 5zm5-3zm1-1zm0 1zm-1 11zm0-1zm0-1zm0-2zm-1 4zm-1-3zm-1 2zm-2 1zm0-5zm-1 4zm-3 2zm-6-5zm0-2zm-1 7zm0-2zm0-4zm-2 4zm-5-5zm-6 6zm0-5zm-3 1zm-10 3zm-2 2zm0-4zm-3 3zm-7 0zm-10-4zm-9 2zm-2 3zm-32-2zm-34 8zm29 0zm17 2zm23-7zm24 3zm5-1zm0 1zm8 1zm2-2zm1 0zm4 2zm1 1zm1-4zm1 1zm2 3zm4-3zm0 1zm5-1zm0 4zm1-2zm1 0zm1-2zm0 1zm3 4zm1-3zm1 3zm1-7zm0 4zm0 2zm1-5zm2 1zm1-2zm0 10zm-1 0zm-1 5zm-2 0zm-1-5zm0-1zm-1 3zm-1 2zm-2-2zm-1-1zm-2 0zm-3-3zm-1 5zm-1-2zm-1-1zm-3 4zm-2-1zm0-5zm-2 1zm-1 5zm0-2zm-5 0zm-1 0zm-7 1zm-2-1zm-16 2zm-77-2zm-10 0zm-23-4zm38 14zm11-3zm27 2zm0 1zm21-4zm4-2zm9 1zm13 2zm7 4zm6-1zm6-1zm2-1zm3 1zm3 0zm2-4zm2 5zm3-1zm1 1zm1-6zm0 2zm1 1zm1 1zm2 0zm4 5zm-4 0zm-1 5zm0-1zm-2 2zm-3-3zm-1 3zm-1-1zm-7-3zm-2 4zm0-5zm-2 5zm-2-4zm-1 3zm-11-6zm-3 4zm-1 1zm0-5zm-1 5zm-7 2zm-1-5zm-2-2zm-6 2zm-1 0zm-6-1zm-9-1zm-14 5zm-31 1zm-20-6zm-20 4zm-78 4zm59 5zm33-2zm30 0zm14 0zm30-1zm12 5zm11-6zm0 5zm3 1zm2 0zm7-5zm8 5zm1-7zm0 4zm5 1zm4 1zm5-1zm2 2zm3-4zm1 1zm1-4zm0 6zm3-1zm1-5zm0 1zm-1 11zm-1-3zm-2 2zm0-1zm-2 5zm0-6zm0-1zm-6 6zm-1-3zm-2 0zm-2 1zm-1-1zm-4 4zm-1-3zm-5-1zm-1 3zm-3-2zm0-2zm-9 3zm-8-3zm-8 1zm-5 4zm0-5zm-4 0zm-7 2zm-2-4zm-57 3zm-11 2zm-17 0zm9 6zm7 2zm75 2zm3-5zm4 1zm6 3zm0 1zm3-6zm5 1zm2 0zm4-2zm5 5zm9-5zm1 6zm2 0zm2-5zm2 1zm0 4zm4-1zm2 2zm11-2zm1-4zm0 6zm3-1zm-3 2zm-2 7zm0-1zm0-1zm0-4zm-2-1zm-1 1zm-2 6zm-3-4zm-1 1zm0-1zm-2 1zm-2 1zm-1 0zm-1 1zm-1-2zm-3 3zm-1-6zm-2 6zm-2-5zm-5 3zm-1 2zm-2-1zm0-3zm-4 2zm-5 2zm-1-4zm0-2zm-1 4zm-5-3zm0-2zm-2 2zm-3 3zm-2-2zm-4-2zm-16 1zm-16 1zm-28 2zm-16-5zm-17 3zm-15 5zm13 7zm23-5zm33-2zm8 2zm2 1zm17 2zm12 0zm12-5zm1 3zm4-2zm1 5zm1-6zm2 4zm11-3zm2 6zm1-2zm1-1zm1 0zm1 3zm1-5zm1 1zm1 2zm2-3zm1-1zm3 5zm1-4zm2 4zm1-6zm1 7zm1-5zm0 3zm2-1zm2 3zm1-4zm1-3zm0 2zm0 3zm2 0zm-1 4zm-4 4zm0-2zm0-2zm-1 6zm-3-7zm-2 7zm0-7zm-1 6zm-16-3zm-1-3zm-8 3zm-2 1zm-4-4zm-4 6zm-4 0zm-12-3zm-2 2zm-27-2zm-7-3zm-10 7zm-4-2zm-11-3zm-8 1zm-32-1zm-179 0zm47 12zm143-3zm35 2zm10-5zm27 2zm14 4zm10-5zm6 2zm1 4zm4-2zm2 0zm1-5zm3 0zm2 1zm2 4zm4 0zm2-5zm2 3zm3-3zm6 3zm7 4zm2-1zm4-1zm2-4zm0 2zm1-1zm3 5zm-1 2zm-2 6zm0-4zm-1 2zm-2-2zm-1 3zm0-3zm0-1zm0-2zm-4 5zm0-3zm-2 1zm-4 4zm-1-1zm-3-6zm-2 3zm-4 0zm-1-3zm-1 5zm-2-2zm-1 1zm-2 0zm-2 1zm-3 2zm-13-2zm-6-5zm-13 5zm-1 1zm-7-4zm-10 2zm-9 2zm0-6zm-5 4zm-8 3zm-5-7zm-1 0zm-14 1zm-3-1zm-28 4zm-73 3zm8 8zm18-4zm25 0zm17 4zm42-6zm4 1zm14 5zm21-6zm0 5zm1 0zm8-4zm4 3zm8 0zm2-4zm2 3zm1 3zm1 0zm6-1zm1 1zm3 0zm2-6zm6 3zm1 2zm2-5zm4 3zm4-2zm3-1zm0 2zm1 4zm1-5zm0 4zm1-2zm1-2zm3 2zm4 0zm2 1zm2-5zm0 2zm3 2zm2-1zm1-3zm0 6zm3 0zm-1 4zm0-1zm-1 2zm-3 4zm0-4zm-3 3zm0-3zm-1 4zm-1-3zm0-2zm-6 3zm0-1zm-3 3zm-3-1zm-1-2zm-1 2zm0-2zm-7-2zm-8-2zm-6 2zm-5-2zm-2 0zm-5 6zm-3-2zm-1 3zm-3-2zm-2 2zm-18-3zm-20 1zm-6-2zm-44-2zm0-1zm-25 2zm-1-2zm-39 4zm-71-3zm-32 10zm100-3zm49 0zm15 7zm11-1zm2-2zm21-3zm8 4zm4 2zm19-7zm11 6zm17-6zm5 4zm9 1zm0 2zm4-7zm1 7zm1-4zm5-2zm3 4zm0 1zm3-4zm1 1zm2-2zm2 0zm2 0zm2 4zm4-5zm1 2zm1 4zm1-5zm0 3zm0 3zm6 0zm1-5zm2 4zm1-4zm2-2zm1 3zm0 3zm0 1zm1-2zm1-4zm0 1zm0 1zm3-2zm-1 12zm-1-2zm-4-3zm-1 1zm-1 3zm-1 0zm-1-4zm-1 1zm-2 0zm-1 0zm-1 4zm-1-5zm-2 7zm-4 0zm0-3zm-7 0zm-3-1zm-3 2zm0-1zm-13 2zm-4-6zm-6 1zm-2 3zm-14 2zm-7-3zm-2-2zm-8 1zm-8-2zm-4 4zm-4 3zm-9 0zm-25-7zm-41 4zm-54-3zm-8 5zm-16-2zm-54-1zm-12 4zm-17 4zm47 2zm15 1zm12-3zm11 3zm44 1zm38-1zm10 0zm5-2zm54-3zm0 1zm4 0zm6 1zm10-3zm13 2zm1-2zm12 1zm4 4zm11 1zm2-2zm0 3zm7-5zm3 3zm1-3zm1-1zm1 3zm2-4zm0 6zm2-2zm2-3zm0 1zm6 3zm1-1zm2-4zm0 2zm0 2zm2-1zm0 2zm2 2zm3-5zm0 3zm1-4zm0 4zm2-2zm0 2zm0 2zm2-7zm-2 11zm-1-2zm-3 4zm0-2zm-1-1zm-2 2zm-1-3zm-2 0zm-3 6zm-1-4zm-2-3zm-2 4zm-14-4zm-1 1zm-1 4zm-8-3zm-2 5zm-2-5zm-1 2zm-1-4zm-1 5zm-1 1zm0-6zm-1 7zm0-7zm-2 1zm-3 2zm-4 4zm-1-3zm-5-1zm-9 1zm-7-2zm-13-2zm-9 5zm-48-2zm-11 3zm-5-3zm-95-3zm-18 4zm-66 10zm99-2zm6 0zm22-2zm11-2zm4 5zm8 0zm13-3zm38-2zm10 0zm5 1zm2 1zm10 2zm3 3zm35-5zm16-1zm11 3zm9-4zm0 6zm8-5zm1 3zm3-1zm4 3zm2-5zm3 5zm1-1zm0 2zm1-1zm1-1zm2-5zm3 6zm1-5zm0 4zm1-4zm0 3zm1-3zm1 4zm1-1zm0 3zm1-6zm2 0zm0 4zm2-1zm1 1zm1 1zm-2 9zm0-2zm-1 1zm-1-2zm0-1zm0-1zm0-2zm-7 4zm-1 2zm-2 1zm0-5zm-1-1zm-2 4zm-1-5zm-1 6zm0-2zm-1-1zm-1-3zm-1 2zm-1-1zm-3 3zm-4 3zm0-1zm-1 1zm0-2zm-3 2zm-1-2zm-1-1zm-3 2zm-2-4zm-5 4zm-1 1zm-1-4zm-8 3zm-9-5zm-8 5zm-6-4zm-9 3zm-4-5zm-3 3zm-1 0zm-7 3zm0-6zm-11 3zm-6-1zm-13 5zm-10-2zm-7-5zm-19 4zm-34 1zm-61 1zm11 2zm1 3zm10 4zm41 0zm14-7zm4 3zm59-3zm5 5zm4-3zm19 1zm38 4zm5-5zm5 0zm5 0zm3 5zm4-7zm0 7zm2-4zm1-3zm0 6zm1-1zm1-3zm1 2zm4-3zm3 3zm2-4zm1 1zm0 2zm1 0zm1 4zm1-1zm2-3zm0 4zm3 0zm1-3zm1-2zm2 0zm3 5zm1-5zm2 4zm0 8zm-1-3zm0-3zm-1 7zm0-3zm-1 1zm-1 2zm-1-2zm-1 0zm-2-4zm-1 5zm0-2zm0-1zm0-1zm-1 0zm-2 2zm0-2zm-1-1zm-4 4zm-2 1zm-4-1zm-1-2zm0-2zm-3 3zm-2 2zm0-4zm-1 2zm0-2zm-11-1zm-1 4zm-1-2zm-1 4zm-2-4zm-1-1zm-3-2zm-5 1zm-3 1zm-4 5zm-7 0zm-6-2zm-3-4zm-15-1zm-1 6zm-6-1zm-8 1zm-4-1zm-10-4zm-5 6zm-13-3zm-28-4zm-21 6zm-2-2zm-8-4zm-11 7zm-6-1zm-28-6zm-12 1zm-39 6zm-25-1zm113 2zm8 2zm68 4zm9 0zm1-1zm14 1zm2-3zm6-1zm12 0zm3 4zm11-2zm7-1zm6 3zm9-5zm0 5zm0 1zm4-3zm4-1zm1 1zm7 2zm5 1zm1-5zm1 1zm2 4zm1-1zm1-5zm1 4zm2-4zm1 6zm3-4zm0 4zm3-1zm2-6zm0 5zm3-1zm1 1zm1-4zm0 6zm2-5zm0 3zm0 1zm1-5zm0 1zm1-1zm0 2zm0 4zm1-7zm0 4zm1 1zm1-4zm0 1zm-5 9zm-2 4zm0-1zm0-4zm-1 1zm-1 2zm-1-3zm-2 2zm0-1zm-1 1zm-1 0zm-4 2zm-1-3zm-1-1zm-1 3zm0-3zm-1 3zm0-1zm0-3zm-5 1zm-1 4zm-2 1zm-4-5zm-3-2zm-5 1zm-3 4zm-1-1zm-8 2zm0-4zm-6-2zm-6 6zm-7-4zm-10 4zm0-3zm-14-3zm-16 6zm-12-3zm-8 4zm-12-2zm-11-1zm-3 0zm-12-4zm-24 7zm-17-3zm-23-2zm-4 4zm-118 1zm122 2zm23 5zm17-4zm17 3zm16-4zm14 0zm3 5zm6 1zm10-2zm9 1zm5-4zm5 5zm2-1zm1-4zm8-1zm19 0zm4 0zm1 1zm5-2zm1 4zm6-2zm2 4zm5 1zm1 0zm8-2zm9-2zm1-2zm1 6zm4-3zm3-3zm4 1zm0 2zm1-2zm2-2zm0 2zm0 3zm1-4zm0 2zm2 0zm1 3zm1-6zm0 4zm2-1zm0 3zm1 1zm3-7zm5 0zm-3 15zm0-6zm-1-1zm-1 3zm0-3zm-1 7zm0-1zm-5-1zm-2-3zm-2 3zm0-5zm-2 7zm0-4zm-2-3zm-2 4zm-1-2zm-1-2zm-2 4zm-2-4zm-2 3zm0-3zm-1 3zm-9 1zm-3-3zm-1 4zm-3 0zm-1 1zm-4-1zm-2 2zm-2-5zm-2 4zm0-5zm-3-1zm-2 2zm-18 2zm-3-4zm-24 6zm-1 0zm0-1zm-2 1zm-23-3zm-34 1zm-11 3zm-6-2zm-1 0zm-3-2zm-88 1zm-3 3zm-17-2zm-47 7zm52-2zm9 4zm21 0zm8-6zm34 0zm62 7zm2-4zm14 4zm8-5zm4-1zm10 3zm8 3zm4-5zm3 0zm4 5zm11-2zm3-3zm13 5zm1-4zm1 0zm0 1zm2-3zm0 2zm3-1zm2 4zm4 1zm3-4zm2 2zm1-4zm2 5zm15 1zm4-5zm4 3zm3-3zm1-2zm0 3zm1 2zm1-2zm2 3zm1-6zm5 3zm1-2zm0 4zm1 0zm3 2zm2-5zm0 3zm1-4zm1 1zm0 9zm-2-1zm-1 5zm-1-3zm0-3zm-1 4zm0-3zm0-1zm0-1zm-1 1zm-2-1zm-1 4zm-1-1zm-10 1zm-1-3zm-3-1zm-1 2zm-3 0zm-4 5zm-2-1zm-6 0zm-7-1zm-4-3zm-6-1zm0-1zm-4 1zm-5 5zm0-5zm-3 0zm-2 6zm-4 0zm-11-3zm-8-2zm-25 0zm-12-1zm-4 0zm-3 3zm-21 0zm-5-4zm-16 4zm-2-4zm-5 1zm0-1zm-2 1zm-73 6zm-15 1zm156 2zm4 1zm5-3zm16 3zm2 2zm1 0zm17-5zm5 6zm4 0zm9-4zm2 0zm6 5zm12-5zm1-1zm1 5zm3-6zm2 1zm9 4zm0 1zm4 0zm2-2zm1-2zm0 1zm3 2zm1-5zm1 3zm2-1zm0 5zm2-6zm1 3zm2 3zm1-1zm2-6zm-3 9zm-1-1zm-2 4zm-1 2zm0-2zm-1 2zm-1-6zm-4 2zm-3-2zm-5 7zm-2-2zm0-3zm-2 0zm-1 5zm-8 0zm-1-4zm-1 3zm0-3zm-1 4zm-17 0zm0-5zm-6 5zm0-5zm-3-1zm-3 2zm-2 2zm-9-5zm-1 0zm-4 2zm-14 4zm-1-4zm-10 4zm-22-2zm-3-1zm-25-1zm-23 5zm-20-3zm-20 2zm-22-3zm-81 4zm-16-1zm102 3zm35 1zm4-1zm8 3zm40-3zm6 3zm9 0zm20 2zm1-5zm4 1zm6 1zm15 0zm23 1zm6 2zm4-3zm7-3zm2 2zm2 2zm1 1zm1-1zm2 2zm2-1zm4-4zm1 6zm1-4zm2-1zm2-2zm2 1zm4 1zm0 2zm1 2zm2-2zm1 1zm1-5zm2 5zm3-2zm1 0zm1 0zm0 1zm0 2zm1-5zm0 4zm2-2zm0 2zm1-4zm1-1zm1 0zm0 1zm1-1zm1 1zm0 6zm0 2zm-1 0zm-3 4zm0-4zm-1 6zm0-5zm-2 0zm0-2zm-2 2zm-2 0zm-1 1zm-1-3zm-2 5zm-1 1zm0-5zm0-1zm-1 5zm0-5zm-5 4zm-2-1zm-2-3zm-1 4zm-1 1zm0-3zm-2-2zm-1 1zm-1 0zm-1 2zm-2-2zm-2 2zm-2-3zm-1 6zm0-6zm-5 2zm-2 1zm-2-3zm-1 7zm-1-1zm-1-1zm-3-5zm-4 4zm-2-2zm-39 4zm-26-1zm-11-4zm-5-1zm-16 0zm-7 6zm-5-2zm-34 1zm-3 2zm-83-7zm-89 6zm181 4zm20 4zm6-4zm27 0zm2 5zm4-5zm5 5zm6 0zm2-3zm14 2zm1 1zm5-2zm25 0zm1 2zm2-5zm0 5zm10-3zm4 3zm7-3zm2 3zm13-5zm6 0zm1-1zm1-1zm7 1zm0 4zm1-4zm0 1zm0 4zm1-3zm0 1zm0 1zm1-5zm6 1zm1 0zm1 2zm2-1zm0 4zm2-4zm1-2zm0 3zm0 4zm3-4zm0 2zm1-5zm1 1zm1 5zm2 0zm1-2zm2-2zm0 12zm-2-1zm-1-5zm-1 2zm0-2zm-1 7zm0-2zm0-1zm-1 3zm0-3zm-1 3zm0-6zm0-1zm-4 2zm0-1zm-1 1zm0-1zm-1 1zm-2 2zm-1-1zm-1 2zm0-5zm-1 3zm-1-3zm-1 0zm-1 0zm-4 4zm-9 0zm-5-3zm-2 4zm-6 2zm-2 0zm-5 0zm-5-3zm-12-4zm-2 5zm-12-5zm-7 1zm-5 2zm-22 1zm-24-3zm-26 6zm-4-6zm-16 5zm-75-3zm63 9zm12-4zm17 6zm14-5zm23 2zm4 2zm1-1zm3-4zm7 1zm2 0zm3 0zm2 4zm26-1zm11 1zm4-5zm7 0zm7 2zm8-2zm7 2zm5 0zm5-2zm3 3zm3-3zm1 6zm1-2zm2 1zm5-3zm0 3zm2-4zm0 1zm4 2zm1 1zm2-5zm0 1zm1 0zm0 3zm2-2zm0 3zm1 2zm2 8zm-1-7zm-2 7zm-2-1zm-1 0zm-2-4zm-3-2zm-1 0zm-2 1zm-2 6zm-1-5zm-3 2zm-1-1zm-1-3zm-1 0zm-1 7zm-6-2zm-1 1zm-3 1zm-1-1zm-5-6zm-1 6zm-2-1zm-3-5zm-1 7zm-4-1zm-10-1zm-11 0zm-7-2zm-3 3zm-5-3zm-3 3zm-7 1zm-18-4zm-16 0zm-1 4zm-1-4zm-5 2zm-5-3zm-80 4zm-190-4zm31 12zm142-1zm2 1zm7-5zm2 0zm95 1zm10 3zm9 2zm5-4zm12-2zm1 0zm0 2zm5-1zm8 3zm6-1zm1-1zm0 4zm18-5zm4 2zm3-1zm6-1zm6 2zm1-4zm3 1zm4 5zm2-5zm0 5zm2 1zm1-2zm3-3zm8 3zm1-2zm0 2zm1-5zm0 3zm2-1zm1 1zm0 4zm2-4zm1-2zm1 3zm2 3zm2-5zm0 1zm0 1zm1-3zm1 0zm1-1zm0 11zm-2 3zm-2-2zm-1-4zm-1 3zm0-2zm-1 6zm0-1zm0-1zm-3-3zm0-1zm-3 5zm0-5zm-1 2zm-3 4zm0-4zm-1 4zm0-7zm-1 6zm0-1zm-1 1zm-1-3zm-1 4zm0-5zm-1 3zm-1-2zm-4-1zm-1 1zm-1 4zm-2-6zm-1 5zm0-2zm0-1zm-2-3zm-1 1zm-5 0zm-2 5zm-1-1zm-1 2zm-4-3zm-2 3zm-5 0zm0-4zm-2-2zm-13 4zm-1 2zm-1-1zm0-4zm-5-2zm-6 4zm-17-3zm-6 0zm-20 0zm-1 0zm-3 0zm-5 1zm-15 4zm-30-6zm-1 1zm-53 0zm-114 9zm76 0zm43 4zm3 1zm12 0zm13-7zm8 0zm0 3zm25-2zm10 3zm31 2zm29 0zm5-1zm6-5zm6 0zm1 0zm6 4zm1-1zm4-2zm5 3zm2-1zm8-1zm2 3zm1-4zm0 6zm3-1zm8 0zm4-3zm7 4zm2-6zm2-1zm2 5zm2-3zm4 5zm7-6zm0 4zm4-3zm1-1zm2-1zm1 5zm1-4zm0 1zm-1 12zm-1-1zm-3 0zm0-3zm0-2zm-1 7zm-4 0zm0-7zm-1 4zm0-1zm-1 0zm-1-3zm-1 6zm-2 1zm0-6zm-1 2zm0-2zm-1 6zm0-3zm-2-2zm-4 4zm-3 1zm-2-7zm-1 2zm-5-1zm-9 5zm-1-1zm-2 2zm-16-3zm-1-1zm-3 3zm-4-6zm-4 6zm-29 0zm-10-5zm-47 5zm-18-4zm-20 4zm-12-5zm-3 4zm-93-1zm-39 9zm64-5zm15 5zm22-1zm11 3zm14-4zm26 4zm13 0zm4-3zm15 1zm3 1zm6-5zm10 0zm3 1zm9 3zm7 0zm24-1zm5 1zm10-5zm4 6zm13 1zm2-2zm10-1zm7-4zm0 3zm1 1zm9-4zm3 0zm1 4zm1 0zm1 0zm1-3zm0 2zm10 0zm5-3zm1 2zm1 5zm2 0zm3-6zm0 2zm1-1zm0 5zm2-7zm1 6zm1-5zm1-1zm1 5zm2-4zm-1 7zm-1 3zm-2 0zm-1 4zm-1 0zm-1-4zm0-3zm-2 1zm-1 6zm-3 0zm-1-3zm0-1zm-2-2zm-1 0zm-1 3zm-3 2zm0-3zm-1 3zm-1-2zm-1 2zm-4-3zm-1 4zm0-6zm-1 4zm-2-1zm-21-1zm-9-2zm-3 1zm-1 4zm-7-2zm-16 2zm-1-3zm-1 1zm-2 1zm-9-4zm-19 3zm-40-1zm-3 3zm-3-1zm-4-2zm-4 0zm-11 1zm-14 2zm0-2zm-1 1zm-15-2zm-8 4zm-22-7zm-38 2zm-33 3zm-56 10zm49 0zm38-6zm7 5zm6-5zm3 6zm54-1zm20 0zm35-2zm66 0zm1-3zm10-1zm22 2zm6-1zm1 5zm9-4zm3 3zm3-4zm0 4zm11-5zm1 2zm3 4zm2-5zm3 2zm4 2zm1-4zm0 2zm0 3zm1-5zm1 0zm0 5zm2-4zm4 2zm0 1zm2-3zm1-1zm2 2zm0 3zm2 1zm0 6zm0-4zm-1 3zm-1-1zm-2 0zm0-2zm-1 4zm-3-2zm-1 2zm-1-5zm-2 7zm0-6zm-1 2zm0-3zm-1 3zm-1 1zm-2 3zm0-2zm0-2zm-2 3zm0-1zm-1-5zm-3 1zm-2 5zm0-4zm0-1zm-4 5zm-3 1zm0-4zm-8-1zm-1 3zm-1 2zm-6-1zm-1-1zm0-3zm-3 2zm0-3zm-7-1zm-7 7zm-4-5zm-18 4zm-3-1zm-24 0zm-16-2zm-23-2zm-66-1zm-3 6zm0-5zm-110 1zm-13-2zm-48 4zm83 7zm43 4zm86-6zm45 2zm2-1zm3 0zm14-2zm8 4zm27 2zm6-5zm2 4zm12-5zm6 0zm2 6zm8-5zm0 1zm0 5zm5-3zm5-2zm0 2zm1-2zm1 0zm0 1zm1-3zm3 5zm4 1zm1-2zm1-4zm0 7zm6-3zm1-2zm1 2zm0 3zm1-4zm3 2zm1 0zm2 1zm1-3zm0 1zm0 1zm0 2zm1-5zm0 4zm1-3zm1 2zm1 0zm1 2zm2 0zm1 4zm-3 0zm-1 3zm0-4zm-1 2zm0-1zm-2-3zm-1 4zm0-3zm-1 6zm0-5zm-1 5zm-4-5zm-1 2zm0-1zm-1 4zm-3-7zm-1 2zm-2 3zm-1-5zm-2 1zm-1 6zm-1-2zm-2 0zm-2 1zm0-3zm-3 1zm-1 0zm-1-2zm-5 1zm-1 4zm-1-5zm-6 4zm-1-2zm-2 2zm-6-5zm-8 6zm0-6zm-4 4zm-12-3zm-4 0zm-2 3zm-1 0zm-14-2zm-3 0zm-1 2zm-17 0zm-21-4zm-34 0zm-36 4zm-161-1zm6 11zm15-1zm8-3zm21-3zm23 5zm81-3zm7 5zm39 0zm43-4zm16-1zm3 0zm8 5zm36-6zm5-1zm2 3zm18 4zm1-7zm5 2zm0 3zm7-5zm1 6zm1-4zm0 3zm1-5zm3 4zm1 1zm2 0zm1 2zm1-5zm1 3zm1 2zm1-5zm3-1zm2 6zm1-6zm0 2zm0 2zm2-4zm1 1zm1 3zm1-2zm0 1zm0 1zm1-1zm1-4zm0 2zm1 0zm0 2zm2-2zm1 3zm0 1zm2 3zm-3 0zm-1 5zm0-4zm0-2zm-1 5zm-2-1zm0-3zm-1 5zm-1-2zm-2 3zm0-6zm-1 4zm0-4zm-1 3zm-2-3zm-1 2zm-3 0zm0-1zm-1 4zm-3 0zm-5-6zm-9 6zm0-6zm-1 7zm0-3zm-2-3zm-4 5zm-1-4zm-8 4zm-5-6zm-2 3zm-4 3zm-3-5zm-5 3zm-2-2zm-11-2zm-4 2zm-6 1zm-8 2zm-5-4zm-20 5zm-4-6zm-6 0zm-42 3zm-11 1zm-15-3zm-28 2zm-67 4zm-97-2zm6 9zm21-3zm68 3zm39-5zm50 5zm14 0zm59-2zm43 1zm11-4zm2 3zm9-2zm2 3zm15-3zm3-1zm1 2zm6-3zm0 4zm1-2zm2 0zm1-1zm0 6zm1-7zm2 1zm0 5zm5-1zm7-2zm8 1zm0 1zm4 1zm2 1zm1 0zm4-2zm2-3zm2-2zm1 7zm2-3zm1-1zm1 1zm1 0zm0 1zm0 2zm1-6zm1 3zm0 1zm2-3zm0 3zm0 8zm0-3zm-1 3zm-1 0zm-2-4zm-4 2zm-1-2zm-1 6zm-1-6zm-2 4zm-2-1zm-1 1zm-1 2zm-2 0zm0-1zm-2-1zm0-2zm-1 4zm-1-2zm0-2zm-2-1zm-1 0zm-1 3zm-1 2zm-2 0zm-1 0zm-7-3zm-3 0zm-7 1zm-4-1zm-6-2zm-5-2zm-5 2zm-17 0zm-14 1zm-1-3zm-16 5zm-24 2zm-1-4zm-17 2zm-6 0zm-24-2zm-19-3zm-23 4zm-20 2zm-4-5zm-39 6zm-77 1zm117 3zm27-1zm47 4zm1 1zm3-1zm7-2zm34-2zm0 4zm22-3zm11-2zm0 2zm2-1zm4 2zm1-2zm5-1zm4 1zm0 1zm4 4zm3-1zm9-3zm17-2zm0 5zm3-6zm3 3zm0 4zm1 0zm2 0zm6-3zm1 0zm1-2zm3 0zm1 0zm0 1zm3 1zm3-4zm0 1zm0 4zm2-1zm0 3zm1-7zm1 3zm0 2zm3-2zm1-3zm5 4zm0 1zm2-2zm3 3zm1-4zm2-2zm0 4zm2 0zm1-3zm0 3zm0 3zm1-2zm0 1zm1-4zm5 11zm-2-2zm-1 2zm0-3zm-3 4zm-2-6zm-2 3zm0-2zm-3 0zm-2 5zm-1-5zm-4 5zm-2-5zm-3 2zm-3 1zm0-3zm-3 5zm-1-4zm-6 0zm-4 0zm-2 1zm-8-2zm-4 5zm-1 1zm-8 0zm-4-7zm-15 0zm-7 4zm-4 0zm-8 0zm-1-3zm-4 5zm-5-1zm-29-5zm-40 7zm-168 0zm-12-5zm-6 5zm149 6zm25 0zm19 0zm9-5zm7 4zm17 3zm52-3zm4 3zm5-6zm1-1zm4 0zm0 5zm8-5zm4 1zm12-1zm4 6zm9-2zm1 1zm1-3zm3 0zm1 4zm1 0zm4-1zm1 0zm3 2zm1-2zm0 2zm2-6zm0 2zm0 1zm0 1zm2-4zm2 1zm1 1zm0 1zm1-2zm1-2zm1 3zm2-3zm0 2zm1 2zm0 1zm0 1zm0 1zm1-4zm1-1zm0 2zm2-1zm1-1zm0 1zm0 2zm1-1zm0 3zm1-7zm0 4zm0 1zm2-3zm0 1zm0 4zm1-7zm0 1zm0 11zm-1 2zm-1 1zm0-7zm-3 6zm0-4zm0-2zm-6 5zm0-5zm-3 2zm-2-2zm-1 7zm0-2zm0-5zm-1 7zm-1-2zm-1 1zm-1-1zm0-1zm-7-4zm-1 7zm-1-4zm-2 4zm-2-3zm0-4zm-6 1zm-10 3zm-3-3zm-6 3zm-13-3zm-11 0zm-2-1zm-1 0zm-7 2zm0-2zm-6 1zm-9 5zm-1 0zm-44-5zm-2 6zm-30-3zm-134 1zm-2-1zm-3-1zm-76 8zm122 3zm13 1zm34-1zm26-3zm2 4zm17-7zm29 2zm39 5zm7-2zm5-4zm9 0zm13 3zm9-1zm19 0zm5 4zm2-6zm3 6zm3-2zm1 0zm2-5zm2 1zm1-1zm3 7zm7-1zm6-6zm2 2zm1 5zm1-5zm1 0zm1 0zm0 1zm0 1zm1 3zm3-6zm0 5zm0 1zm1-6zm0 3zm1 1zm1 2zm1-3zm2 0zm1-1zm1 3zm1-3zm2 1zm1 0zm1 1zm1 6zm-3 1zm0-3zm0-1zm-4 2zm-1 3zm-1-5zm-2 0zm-1 3zm-3 0zm0-1zm-3 5zm-1-3zm-6 2zm-1-2zm-8-3zm-3 5zm-1 0zm-10-2zm0-3zm-3 5zm-3-5zm-2 3zm-3 1zm-4-4zm-9 6zm-2 0zm0-7zm-9 0zm-2 6zm-9-6zm-17 2zm-6 1zm-47-2zm-9 0zm-1 1zm-2 3zm-6-3zm-35-1zm-8 5zm-199 4zm24 2zm57 3zm113-1zm34-4zm15 3zm21-5zm1 4zm14-3zm9-1zm48 5zm22-4zm20 1zm7 2zm2-2zm5 2zm2-2zm1 3zm1 2zm5-6zm1 3zm2 3zm2-1zm0 1zm2-4zm1-2zm0 1zm0 1zm4 1zm1-1zm2 4zm1-4zm2-2zm0 2zm1 0zm1-2zm1 0zm1-1zm2 0zm2 1zm-4 13zm0-1zm0-5zm-1 5zm0-5zm-1 3zm-1-2zm-1 1zm-1-2zm-1 2zm-1 0zm-1 4zm0-5zm-2 2zm-1 4zm-1-2zm-1-3zm-3 3zm-1-1zm-5-1zm0-3zm-2 2zm-1 4zm-3-3zm-5 0zm-2-1zm-4 1zm-4-3zm-5 6zm-3 0zm0-5zm-7 1zm-1 0zm-1-2zm-2 1zm-9-1zm-9 1zm-1 3zm-1 1zm-1 0zm-40-2zm-4-3zm-7 6zm-32-4zm-118 1zm-60 9zm47-2zm9 0zm52 4zm14-3zm17-1zm9 4zm32-3zm32-3zm15 3zm5 0zm5 1zm14-2zm0 3zm1 1zm11-2zm15-4zm0 1zm0 3zm2 1zm0 2zm4-6zm0 5zm11-2zm8-3zm0 5zm7-3zm0 4zm6-6zm2 4zm3-1zm0 1zm1 1zm1-5zm3-1zm5 2zm0 4zm1-4zm0 2zm0 1zm1-4zm0 5zm2-6zm0 7zm2-5zm0 3zm3-4zm0 6zm2-2zm1-5zm0 1zm0 5zm1-5zm1 6zm1 0zm5 2zm-1-1zm-1 1zm-2 6zm0-3zm-1-1zm-2 4zm-1-3zm-1-2zm-5 3zm-1 1zm0-5zm-2 2zm-1-1zm-1 0zm-2 4zm-3-2zm-2 3zm-6-6zm-2 6zm0-1zm-4 0zm0-4zm-4 1zm0-3zm-3 3zm-2 4zm-2-7zm-4 1zm-19 5zm-33 0zm-3 1zm-14-5zm-11-1zm-4 6zm-34-6zm-68 3zm-12 1zm-118 2zm32 8zm10-7zm73 2zm13-2zm47 2zm27 0zm12 3zm1-1zm14 0zm32-3zm15-1zm0 1zm15-1zm1 2zm4 5zm1-3zm16 2zm3-3zm2-3zm3 1zm0 6zm2-5zm1 1zm1 1zm9 3zm9-1zm2 1zm1-6zm0 3zm1-3zm4 0zm0 1zm3 0zm2 5zm2-7zm2 6zm2-3zm0 3zm2-4zm1-2zm0 5zm0 1zm1-4zm3 5zm0 1zm-1 2zm0-2zm-1 1zm-1 6zm0-1zm-4-5zm-3 3zm-2-3zm-1 0zm-1-1zm-1 7zm-2-2zm-1 1zm0-3zm-2-2zm0-1zm-1 2zm-3-2zm-1 5zm-1-2zm-1 3zm-3-4zm-1 5zm-4-4zm-5 0zm-4-2zm-2 6zm-4-2zm-2 2zm-1-5zm0-2zm-3 0zm-4 0zm-9 0zm-2 4zm-3 1zm-2-5zm-14 3zm-10-1zm-3 5zm-20-3zm-22-3zm-8 2zm-31 2zm0-3zm-9 1zm-17-1zm-20-1zm-32 0zm-3 0zm-31 1zm-34-1zm-85 2zm-3-1zm-1 8zm50 0zm20-1zm60-1zm9 7zm60-6zm18-1zm3 1zm34 3zm8-4zm4 1zm48 4zm18-3zm2 5zm9-3zm27-4zm0 3zm4 0zm2 0zm3-2zm4 1zm2 1zm2-1zm1-2zm0 1zm9 3zm5-4zm0 2zm0 3zm2-5zm0 3zm2 0zm6 1zm1 0zm0 1zm2 0zm1-2zm3-2zm0 1zm3 4zm3 7zm-2 1zm0-5zm-1 5zm0-2zm-2 2zm-1 1zm-1-5zm-6 5zm-8-2zm-3-3zm-1 1zm0-1zm-8 1zm-1 4zm-4-2zm-5 2zm-7-3zm-1 1zm-10-3zm-4-2zm-2 2zm-14 4zm-7-6zm-2 5zm-9-2zm-13 2zm0-4zm-1 2zm-14 3zm-27-3zm-57 2zm-115 1zm-39-3zm-30-1zm35 6zm52 4zm0 2zm110-1zm16 1zm45-5zm17 3zm20-1zm24-2zm6 1zm0 4zm16-4zm7-1zm3-1zm1 6zm8-3zm3 2zm8-4zm2 3zm6-3zm0 6zm1-6zm4 3zm2-2zm0 4zm1-6zm0 3zm0 1zm1-4zm3 5zm1-2zm0 3zm1-1zm0 1zm0 1zm1-2zm1-2zm0 4zm1-1zm2 0zm6 5zm-2 0zm0-1zm-2 4zm-5 0zm0-1zm-1 2zm0-4zm-1-1zm-1 2zm0-2zm-1 0zm-2 0zm-4 5zm-1-7zm-2 2zm-1-2zm-2 4zm0-3zm-1 3zm-2 0zm0-2zm-6 5zm-3-5zm-2 1zm-7 4zm-1-3zm-2 1zm-28-2zm-1-1zm-20 3zm-2-4zm-1 5zm-27-6zm-31 1zm-7 1zm-22 3zm-94 1zm-37-5zm-102 8zm60 2zm8 3zm43-4zm6 1zm45 1zm11-2zm11 1zm84 2zm2-5zm3 7zm11-2zm5 0zm8-5zm37 6zm14-2zm5-4zm9 7zm2-1zm4 1zm12-3zm4 0zm2 1zm1-4zm1 0zm2-1zm5 7zm2-3zm1 2zm1-6zm1 0zm4 1zm1-1zm1 0zm0 4zm4 0zm1 2zm1-1zm1-5zm1 1zm1 5zm0 1zm2-4zm1 0zm1-3zm0 4zm0 1zm1 2zm1 0zm5 7zm-1 0zm-2 1zm0-3zm-1 2zm0-4zm-2 1zm-1 4zm0-4zm0-3zm-1 2zm-1 4zm-2 0zm-1-1zm-1-5zm-2 3zm-2 2zm-1-1zm-1 3zm0-1zm-2-3zm-1 4zm-1-2zm-4 1zm-1 0zm-4-1zm-2-2zm-18-1zm-3 4zm-2-6zm-3 5zm-10-3zm-1-2zm-6 2zm-3-1zm-28 0zm-21 3zm-4-3zm-3 6zm-27-3zm-11-1zm-16 4zm0-4zm-13 2zm-17-4zm-1 4zm-65 1zm-18-5zm-106 14zm10-6zm12 6zm22-4zm64-3zm82 3zm25 1zm48 3zm30 0zm72-6zm3 1zm1 3zm2 1zm6 1zm1-2zm1 1zm4-4zm1 2zm1 2zm5-3zm3 3zm1-2zm1-4zm0 7zm2-7zm3 4zm1 0zm0 1zm1 0zm3-1zm1-4zm0 6zm1 0zm1-4zm0 4zm2-6zm1 2zm0 1zm1 4zm2-6zm3 11zm-1 0zm-2 2zm-1 0zm-1-1zm0-3zm-1-1zm-1 6zm0-3zm0-1zm-1-1zm-2 4zm0-6zm-1 6zm-1 1zm0-5zm-1 5zm0-2zm0-2zm-1 3zm0-3zm-1 4zm0-3zm-2 3zm-2-4zm-2-1zm-2 0zm-6 3zm0-1zm-5 3zm-8-2zm0-4zm-11 6zm-6-6zm-1-1zm-10 3zm-17 2zm-18-1zm-22 1zm-49-1zm-26-3zm-1 6zm-85-7zm71 12zm53 1zm27-1zm4 3zm7-6zm46 4zm27 2zm2-4zm2 4zm4-2zm0 1zm8-2zm0 2zm3-6zm8 5zm1-2zm1-3zm1 3zm1-3zm3 2zm1 2zm4-1zm3 3zm0 1zm1-5zm3 2zm2-2zm1 3zm1 2zm1-4zm2 2zm0 2zm1-3zm2 10zm0-4zm0-2zm-1 5zm0-4zm-1 1zm-3-1zm-2 5zm-2-5zm-1 6zm-2-5zm0-1zm-2 6zm-5-4zm-3-2zm-1 6zm-6-5zm-1-1zm-1 2zm0-2zm-28-1zm-34 3zm-73-1zm-20 11zm108 0zm32-3zm1 1zm1 2zm7-3zm4-1zm2 2zm1 3zm3-6zm0 1zm6 2zm4-2zm0 6zm2-4zm3 1zm2-2zm1 4zm2-4zm1 1zm0 3zm2-6zm1 0zm0 4zm0 3zm3-6zm0 1zm3-2zm-1 15zm-1-5zm-1 1zm-2-1zm-1-1zm-1 3zm-1 1zm0-4zm-1 0zm-2 1zm-6-1zm-6 3zm-1 3zm-1-3zm-1 2zm0-2zm-1-4zm-2 7zm-2-2zm-3-2zm0-2zm-1 3zm-2 0zm-4 0zm-3 0zm-26-1zm-1 1zm-2 1zm-31-5zm-255 6zm182 5zm45-1zm19 5zm53-2zm1-5zm3 1zm10 0zm5-1zm4 1zm4 4zm0 2zm1-2zm0 1zm2-2zm7 2zm4 1zm1-4zm2 0zm1-1zm1 3zm1-5zm0 2zm1 4zm2-3zm1 2zm1-3zm1 1zm0 4zm3-3zm2-4zm2 2zm1 4zm2 1zm6 7zm-6-2zm-2-1zm-2 0zm-1 4zm-2-3zm-1 0zm0-2zm-3 5zm0-7zm-1 1zm-2 6zm0-4zm-5-1zm-5 3zm-1-4zm-12 1zm-5 2zm-2-3zm-10 3zm-6 1zm-61 9zm73-6zm16 7zm5 0zm2-4zm5-2zm0 2zm6-2zm5 5zm1-6zm0 2zm1 1zm0 2zm1-1zm1-3zm0 1zm0 2zm2 2zm2 1zm4-6zm0 4zm1-5zm1 5zm3-4zm1 3zm0 2zm11 9zm-5-2zm-6-4zm-2 0zm-1 4zm0-4zm-1-1zm-1 3zm0-3zm-1 6zm-1 0zm0-4zm-2 4zm-2 1zm0-3zm-5-3zm-1 4zm0-2zm-1 2zm0-5zm-4 2zm-3 2zm0-3zm-5 0zm-15-1zm-2 2zm-79 0zm94 8zm10 0zm1 0zm2 1zm2-1zm1 3zm4 1zm2 0zm1-6zm2 5zm0 1zm1-2zm1-2zm2 2zm1-4zm1 1zm0 4zm2-2zm0 4zm2-3zm3-4zm1 5zm1 1zm1-5zm0 4zm0 1zm1-6zm2 4zm-2 8zm0-3zm-1 4zm0-1zm-1-3zm-3 4zm0-5zm-5 7zm-6-4zm-2 3zm0-2zm0-2zm-6 5zm0-2zm0-1zm-8-3zm-10 0zm-11 4zm3 10zm7-2zm13-4zm10 3zm1 3zm3 0zm4-1zm2 1zm1-1zm1-4zm2-2zm0 3zm6 0zm0 3zm2 4zm-1 1zm-2 3zm0-3zm-1 1zm0-3zm-1 2zm-3 1zm-1 3zm-6-2zm0-2zm-4-3zm-9 4zm-3-4zm8 8zm10 1zm9 7zm-50 25zm18 0zm7 0zm3 0zm8 0zm3 0zm1 0zm3 0zm1 0zm2 0zm1 0zm1 0zm1 0zm1 0z" stroke="#0000ff" stroke-width="3" stroke-linecap="square" fill="none"/>
<path transform="scale(.5)" d="M1822 164zm7 7zm8 11zm-20 7zm0-1zm0-4zm0 10zm2-2zm16 7zm2-1zm-20 6zm0 9zm1 0zm16-4zm-15 13zm-2-4zm2 8zm19 17zm-25 9zm-5 18zm2 2zm3 4zm3-3zm27 4zm-31 5zm30 9zm0 12zm-4-7zm-29 5zm32 5zm1-1zm0 6zm2 8zm-1-7zm-38 8zm39 3zm1 5zm-40 0zm2 10zm35 0zm2-1zm1 5zm-4 8zm-35-2zm-1-2zm-1-1zm42 13zm0 7zm-43-3zm0-1zm-1 2zm42 7zm0 1zm-40 11zm-1-6zm-3 7zm3 5zm1-2zm46 12zm-1 6zm4 2zm-52 5zm-3 2zm-3-3zm-2 18zm1 0zm56 3zm2 3zm-62 6zm64 15zm-58-2zm54 6zm5 0zm1 2zm2 5zm-2-2zm-60 4zm-5 1zm0-5zm-3 15zm3-2zm7-4zm61-1zm-66 14zm-3 4zm2 0zm-4 11zm-1 2zm2 5zm69 3zm9 16zm-8-2zm-68-3zm0-2zm-2 1zm-4 1zm4 11zm76 8zm-83 10zm5-1zm79-2zm1 1zm-78 8zm-3-1zm-5 8zm0 3zm1-1zm2-4zm82 3zm1 1zm0 8zm-83-1zm-4-1zm-1 1zm-3 8zm3 2zm2-6zm1-1zm5 5zm85 6zm-1 1zm-3-4zm-3 6zm-1-3zm-91 2zm-1 9zm3-1zm2-3zm3 1zm90 0zm1 1zm2 1zm0 6zm-1 0zm-1 0zm-97 0zm8 5zm0 5zm3-3zm82 3zm2-1zm5-3zm2 2zm6 8zm-2 1zm-6-1zm-7 4zm-94-5zm-5 10zm0 3zm10-3zm93 0zm9-3zm-105 8zm-5 5zm-6-1zm0-1zm-4 8zm3-4zm4 2zm1 3zm0 2zm109-4zm2 4zm7 8zm-1 0zm-1-4zm-4 2zm-3-1zm-2 3zm-113-3zm0 7zm3-1zm0 4zm1 0zm111-2zm11 5zm-6 5zm0-4zm-111 2zm-12 3zm4 1zm4 6zm4-5zm0 1zm110 1zm3-2zm-122 13zm0-5zm-4 2zm7 9zm115 1zm2-1zm1-3zm1 0zm1 12zm-5-2zm-2 2zm-110-4zm-6 4zm-5-1zm-2 3zm2 5zm4-4zm0 4zm3 1zm118-5zm8 8zm-129 7zm-1-5zm-3-2zm-3 0zm2 15zm6-3zm125-3zm-1 8zm-4 2zm-3 3zm-2-5zm-117 4zm-6 1zm-3 5zm3-3zm1 0zm125 7zm-128 1zm-1 4zm1 11zm129-4zm4-1zm3 3zm5 6zm-2 1zm-129-1zm-4 2zm-4 2zm-1-6zm-4 6zm2 8zm2-5zm128 0zm0 1zm6 11zm-4 0zm-3-5zm-121 2zm-3-2zm-5 2zm-2 4zm-2 4zm2-3zm3 0zm0 3zm3-2zm126 3zm2 3zm6-5zm4 5zm-3 2zm-3 0zm-3 2zm-130-2zm1 9zm5 4zm121-6zm3 2zm5 5zm2 5zm-1 0zm-131-2zm-3 2zm0-2zm-1 0zm-2 1zm0-1zm-1 1zm-1 0zm-2 3zm-1 0zm8 7zm2-3zm5 4zm117-2zm1 0zm3-3zm3 4zm0 2zm2 0zm1-2zm1 0zm-2 10zm-128-2zm-6 0zm0 10zm125-6zm3 3zm0 8zm-124 8zm1-3zm8 6zm2-1zm113-5zm2-1zm-3 8zm-1 1zm-4 0zm-107 1zm-5 12zm2-2zm6-3zm104-1zm4 2zm1-1zm0 2zm4 2zm-3 4zm-4 4zm-109 4zm4 4zm104-2zm2 3zm4-2zm1-3zm0 6zm-5 6zm0-1zm-5 1zm-100-4zm-8 0zm-3-1zm-1 1zm4 12zm2-4zm0 6zm2 0zm106-7zm6 9zm-6 2zm-108 1zm4 8zm106 2zm1 1zm2-3zm1 3zm-2 5zm-108 3zm-4-1zm108 6zm-3 8zm-86 0zm-8 10zm7 0zm76-4zm0 3zm12 4zm-1-1zm-1 3zm-3 3zm-8-5zm-73-1zm-3 5zm-3 5zm16 0zm64 2zm1 1zm2 0zm1 9zm-8 1zm-69-5zm-5-2zm7 11zm4 4zm65-7zm5 3zm0 2zm-1 7zm-68 0zm2 5zm0 5zm10-2zm53 2zm-5 8zm0-2zm-1-4zm-14 2zm-4 1zm-31-3zm-3 4zm-3 7zm1-3zm8 4zm37-1zm11 9zm-44 0zm-1-1zm-6 5zm6 2zm3-1zm0 4zm13-4zm8 1zm0 2zm16-3zm1 5zm-4 5zm-17-3zm-3 1zm-2-1zm-13 0zm-4 3zm-5-1zm14 11zm2 1zm7-5zm10 4zm1 2zm2 0zm6-1zm1-1zm-13 5zm-6 1zm0-1zm-7-2zm-4 2zm21 7z" stroke="#fff" stroke-width="3" stroke-linecap="square" fill="none"/>
<path d="M912.5 67.7V560.4" stroke="#9a9a9a" stroke-width="2.2" stroke-dasharray="10.5 9" stroke-dashoffset="6.7" fill="none"/>
<text x="657.2" y="570.5" font-size="25.5" text-anchor="end">0</text>
<text x="657.2" y="520.9" font-size="25.5" text-anchor="end">0.1</text>
<text x="657.2" y="471.4" font-size="25.5" text-anchor="end">0.2</text>
<text x="657.2" y="421.8" font-size="25.5" text-anchor="end">0.3</text>
<text x="657.2" y="372.2" font-size="25.5" text-anchor="end">0.4</text>
<text x="657.2" y="322.6" font-size="25.5" text-anchor="end">0.5</text>
<text x="657.2" y="273.1" font-size="25.5" text-anchor="end">0.6</text>
<text x="657.2" y="223.5" font-size="25.5" text-anchor="end">0.7</text>
<text x="657.2" y="173.9" font-size="25.5" text-anchor="end">0.8</text>
<text x="657.2" y="124.4" font-size="25.5" text-anchor="end">0.9</text>
<text x="657.2" y="74.8" font-size="25.5" text-anchor="end">1</text>
<text x="664.6" y="593.6" font-size="25.5" text-anchor="middle">-120</text>
<text x="747.3" y="593.6" font-size="25.5" text-anchor="middle">-80</text>
<text x="830" y="593.6" font-size="25.5" text-anchor="middle">-40</text>
<text x="912.7" y="593.6" font-size="25.5" text-anchor="middle">0</text>
<text x="995.3" y="593.6" font-size="25.5" text-anchor="middle">40</text>
<text x="1078" y="593.6" font-size="25.5" text-anchor="middle">80</text>
<text x="1160.7" y="593.6" font-size="25.5" text-anchor="middle">120</text>
<text x="912.7" y="627" font-size="28.7" text-anchor="middle">SSHA (cm)</text>
<text font-size="28.3" text-anchor="middle" transform="translate(613.6 311.5) rotate(-90)">Deformation ratio</text>
<text x="599.4" y="27.1" font-size="30.6" font-weight="bold" fill="#000">B</text>
<text x="643.8" y="27.1" font-size="34.3" class="se" fill="#000">Deformation</text>
<path d="M1345.7 64.7V552M1427.1 64.7V552M1508.4 64.7V552M1589.8 64.7V552M1671.2 64.7V552M1264.3 96H1752.6M1264.3 149.6H1752.6M1264.3 203.2H1752.6M1264.3 257.8H1752.6M1264.3 342.7H1752.6M1264.3 427.6H1752.6M1264.3 481.2H1752.6" stroke="#e7e7e7" stroke-width="1" fill="none"/>
<path d="M1264.3 520.7H1752.6M1264.3 498.4H1752.6M1264.3 467.1H1752.6M1264.3 455.2H1752.6M1264.3 444.9H1752.6M1264.3 435.8H1752.6M1264.3 374H1752.6M1264.3 320.5H1752.6M1264.3 303.2H1752.6M1264.3 289.1H1752.6M1264.3 277.2H1752.6M1264.3 266.9H1752.6M1264.3 249.7H1752.6M1264.3 196.1H1752.6M1264.3 164.8H1752.6M1264.3 142.5H1752.6M1264.3 125.3H1752.6M1264.3 111.2H1752.6M1264.3 99.3H1752.6M1264.3 89H1752.6M1264.3 79.9H1752.6M1264.3 71.7H1752.6" stroke="#eaeaea" stroke-width="1" stroke-dasharray="4 2 1.5 2" fill="none"/>
<path d="M1508.4 197L1508.4 198L1508.4 199L1508.4 200L1508.4 201L1508.4 202L1508.4 203L1508.4 204L1508.4 205L1508.4 206L1508.4 207L1508.4 208L1508.4 209L1508.4 210L1508.4 211L1508.4 212L1508.4 213L1508.4 214L1508.4 215L1508.4 216L1508.4 217L1508.4 218L1508.4 219L1508.4 220L1508.4 221L1508.4 222L1508.4 223L1508.4 224L1508.4 225L1508.4 226L1508.4 227L1508.4 228L1508.4 229L1508.4 230L1508.4 231L1508.4 232L1508.4 233L1508.4 234L1508.4 235L1508.4 236L1508.4 237L1508.4 238L1508.4 239L1508.4 240L1508.4 241L1508.4 242L1508.4 243L1508.4 244L1508.4 245L1508.4 246L1508.4 247L1508.4 248L1508.4 249L1508.4 250L1508.4 251L1508.4 252L1508.4 253L1508.4 254L1508.4 255L1508.4 256L1508.4 257L1508.4 258L1508.4 259L1508.4 260L1508.4 261L1508.4 262L1508.4 263L1508.4 264L1508.4 265L1508.4 266L1508.4 267L1508.4 268L1508.4 269L1508.4 270L1508.4 271L1508.4 272L1508.4 273L1508.4 274L1508.4 275L1508.4 276L1508.4 277L1508.4 278L1508.4 279L1508.4 280L1508.4 281L1508.4 282L1508.4 283L1508.4 284L1508.4 285L1508.4 286L1508.4 287L1508.4 288L1508.4 289L1508.4 290L1508.4 291L1528.6 291L1529.2 290L1527.8 289L1527.3 288L1528.9 287L1527.8 286L1527.3 285L1527.2 284L1528.2 283L1527.4 282L1527.7 281L1526.4 280L1526.1 279L1527.2 278L1525.3 277L1525.8 276L1524.7 275L1524.7 274L1525.4 273L1525.9 272L1524.9 271L1523.9 270L1524.2 269L1524.8 268L1524.6 267L1522.8 266L1523.9 265L1524 264L1523.7 263L1521.8 262L1522.9 261L1522.7 260L1521.9 259L1521.3 258L1520.9 257L1522 256L1521.4 255L1521.3 254L1522.1 253L1520.8 252L1520.1 251L1520.2 250L1520.7 249L1520.6 248L1521.4 247L1521.3 246L1521.5 245L1519.6 244L1520.8 243L1519.2 242L1521.1 241L1520 240L1520.3 239L1520.5 238L1518.6 237L1519.3 236L1518.8 235L1518.9 234L1519.4 233L1518.8 232L1520.3 231L1518.1 230L1519.8 229L1518.9 228L1518.8 227L1520 226L1518.2 225L1518.9 224L1520 223L1519.1 222L1519.9 221L1518.9 220L1519.3 219L1518.7 218L1518.8 217L1519.1 216L1518.1 215L1519.9 214L1519.5 213L1519.4 212L1519.7 211L1519.2 210L1518 209L1517.9 208L1518.6 207L1518.5 206L1518.3 205L1518.6 204L1518.3 203L1517 202L1517.2 201L1518 200L1516.3 199L1515.2 198L1512 197Z" fill="#ff0000"/>
<path transform="scale(.5)" d="M3064 158zm-8 28zm14 13zm-22 5zm-8 10zm16 10zm-16 6zm-3 6zm0 3zm21-2zm5-5zm10 4zm-45 8zm-6 7zm10 1zm32-3zm6 4zm28 3zm-14 7zm-13-2zm-4-4zm-11 3zm-13 2zm-16 0zm4 6zm12 2zm7-6zm2 2zm32 2zm-8 9zm-6 1zm-10-1zm-2 1zm-4-1zm-11 2zm-4-2zm-13 8zm6-4zm1 3zm12-1zm43 3zm30 2zm-44 3zm-5 3zm-6-4zm-17-2zm-2 7zm-2-7zm-4 4zm-3-4zm-14 3zm3 6zm5-1zm0 6zm1 1zm6-4zm3 0zm13-1zm1-2zm10 0zm0 1zm21 6zm7 0zm76 8zm-67-2zm-28-5zm-18 0zm-4 7zm-4 0zm-3-1zm-1-5zm-3 1zm-1 1zm-2 3zm-1-1zm0-1zm-1 3zm-2-6zm-4-1zm-11 15zm10-2zm3 2zm5-7zm0 5zm3 0zm7 1zm5-6zm1 3zm7 1zm5-3zm4 4zm9-4zm20 4zm12 7zm-23 3zm-9 0zm-1-4zm-3-2zm-8 1zm-4 2zm-4 3zm0-2zm-1-1zm0-2zm-14-1zm-1 1zm-1 3zm-14 1zm-4-2zm0-3zm-2 3zm-2 7zm11 1zm4-4zm3 0zm0 1zm2 4zm2 0zm1-2zm3 1zm7 0zm5 3zm1-1zm3-6zm1 5zm11-3zm14 5zm34 3zm-24 5zm-11-5zm-4 5zm-6-3zm-4 2zm-2-6zm-6 4zm-1 1zm-6-4zm-3 2zm-1 4zm-1 0zm-1-4zm-1 2zm-2-3zm-6 4zm-4-6zm-1 7zm-1-5zm-1-2zm-3 3zm-2 1zm0-4zm-1 7zm0-5zm-6 2zm-1-1zm-1 10zm4-4zm0 4zm1-2zm3 3zm2 1zm4-4zm0 4zm1-7zm1 6zm1-3zm0 3zm10-5zm0 5zm6 0zm4-1zm2-3zm1 2zm4-4zm4 1zm10-1zm1 6zm9-1zm10 10zm-1-4zm-18 0zm-8-1zm-4 2zm-3 1zm-5 0zm-4-2zm0-3zm-5 2zm-6 4zm-1 1zm-3 0zm0-4zm-4-2zm-1 1zm-1-2zm-2 5zm-2 2zm0-3zm0-2zm-2 1zm-3 3zm-1 0zm0-2zm-2 2zm0-3zm0-1zm-4 13zm1-3zm1-3zm0 2zm1 1zm2-4zm4 2zm1 4zm0 1zm2 0zm1-7zm3 0zm1 4zm2 1zm1-1zm3 2zm0 1zm1-2zm2-4zm1-1zm2 2zm0 2zm2-1zm13-1zm3 0zm2 0zm6 3zm2-5zm3 3zm22 2zm0 7zm-13 2zm-16 0zm-4-2zm-1 3zm-5-2zm0-1zm-2 2zm-1-1zm-1 2zm-2-1zm-3-6zm-4 3zm-8 4zm0-3zm-1 1zm-1-1zm0-1zm-1-1zm-5 5zm0-5zm0-2zm-1 6zm-4-3zm0-1zm0-1zm-2 5zm-1-2zm-1 3zm-4 0zm0-4zm0 7zm0 3zm1 2zm2-3zm5-4zm0 4zm1-1zm2-3zm10 0zm0 3zm0 4zm2-5zm1-1zm3 1zm1-2zm6 2zm1-1zm2-1zm0 6zm7-4zm6 5zm4-2zm1 1zm3 0zm0 1zm4-7zm54 1zm-28 13zm-2-3zm-28 1zm-2 2zm-1-2zm0-4zm-5 6zm-11 0zm-3 1zm-1-3zm0-1zm-2 3zm-1-5zm-4-1zm-1 4zm-1 1zm-1-4zm-2 5zm-1-2zm0-4zm-1 6zm0-6zm-1 5zm-1 1zm0-1zm0-1zm-2-2zm-1 2zm-1 1zm0-1zm-3 2zm0-5zm0-1zm-3 3zm-2 4zm-1-3zm0-1zm0-1zm-4 2zm-1 0zm0-1zm-1-1zm0-2zm1 8zm4 0zm3 0zm0 2zm1 0zm1-1zm1 0zm1-1zm1 1zm0 1zm2 0zm0 2zm0 1zm2-1zm1-4zm0 2zm1-2zm0 6zm1 0zm2-5zm0 6zm2-2zm0 1zm0 1zm2-7zm2 1zm1 3zm1 3zm2-4zm0 1zm1-3zm0 4zm1-3zm3-2zm1 0zm0 2zm0 4zm2-1zm1-4zm0 5zm1 0zm1 1zm2-7zm1 1zm0 3zm1 0zm1 3zm4 0zm2-4zm0 2zm4-5zm3 1zm4 1zm0 1zm1-2zm8 6zm42 0zm26-5zm19 2zm-8 6zm-23 0zm-23 0zm-5 4zm-10-2zm-35-1zm-6 3zm-2-2zm0-3zm-4 6zm-5 0zm0-2zm0-3zm-3-2zm-3 6zm0-1zm-1 1zm-1 1zm-2-1zm-1-6zm-2 5zm-3 2zm0-2zm0-5zm-1 1zm-1 0zm-1-1zm-1 4zm-2 0zm3 11zm1-4zm3 1zm1-1zm1 2zm1-2zm1-3zm0 3zm0 3zm1-3zm1 3zm1-6zm0 2zm1-1zm0 3zm0 1zm2-5zm4 5zm1-4zm2 0zm1 3zm2 2zm6-1zm1-5zm34 0zm28 6zm4-4zm5 5zm4-6zm63 8zm-78 6zm-30-6zm-3 0zm-10 6zm-3-7zm-9 5zm-1-3zm-2-1zm-6 6zm-2-3zm0-3zm-1 5zm0-1zm-1 2zm-3-1zm0-4zm-3 5zm0-7zm-2 6zm0-4zm-1 1zm0-2zm0-1zm-3 6zm0-4zm0-2zm-1 2zm0-1zm-2 2zm0-1zm-4 5zm0-6zm-1 3zm-2-4zm-1 6zm-1-5zm1 8zm3 2zm1-3zm1 6zm2-4zm1 1zm0 3zm2 1zm3-4zm1-1zm1 0zm2 4zm5-6zm0 5zm1 0zm7-5zm6 4zm0 2zm7-3zm3-3zm13 1zm19 5zm95-6zm37 10zm-124 3zm-33-5zm-1 2zm-2 1zm-10-3zm-5 6zm-6-2zm0-3zm-4 4zm-2 0zm0-3zm0-1zm-1 5zm0-3zm-3 4zm0-6zm-1 4zm-4-2zm-1 4zm0-5zm-1 4zm-1-2zm-1 1zm-1-3zm0-1zm-2 4zm0-1zm0-4zm-1 7zm0-3zm0-3zm-1-1zm-1 3zm-1 4zm-1-1zm-1-5zm-1 5zm1 2zm1 1zm0 3zm4-1zm1-1zm1 0zm0 4zm2-6zm1 1zm1 4zm2-2zm4 4zm1-1zm2-6zm0 1zm3 2zm2-3zm1 3zm6-3zm6 5zm185 10zm-27-3zm-95-1zm-1 0zm-16 4zm-10-1zm-4-1zm-25-4zm-9 3zm-1-1zm-3 4zm-1-2zm-2-1zm-10-1zm-2 0zm-1-1zm-1 2zm-1 0zm0-1zm-2 1zm0-3zm-1 5zm0-4zm-1-1zm-3 3zm-1 0zm-2-2zm-3 5zm0-4zm-2 0zm0-2zm-1 4zm0-4zm-2 11zm0 1zm1-3zm2-2zm1 1zm1 0zm1 0zm0 3zm0 1zm1-2zm3-2zm1 3zm1-3zm1 1zm1-1zm1-1zm1 3zm1 3zm4-2zm0 2zm2 0zm1-4zm3 4zm4-4zm3 5zm5-5zm4-1zm7 0zm7 0zm3 0zm4 1zm3 4zm6-2zm25-4zm13 4zm16 1zm101 2zm-137 4zm-4 4zm-3-1zm-19-5zm-1 1zm-7 1zm-2-2zm-11 3zm-7-3zm-2 4zm-2 2zm-1-2zm-1 0zm-1-2zm-1 0zm-1 0zm-3 1zm0-2zm-1 4zm-1-1zm-3-3zm-5 5zm0-5zm-2 5zm-1-2zm0-2zm-1 2zm-1-5zm-2 2zm-1 3zm0-2zm-1 1zm-1 0zm-1 3zm-1-1zm-1 4zm1 2zm1-4zm0 3zm2 4zm1-4zm0 2zm2 0zm2-2zm3-2zm3 0zm0 2zm3 2zm1-1zm3-2zm9 0zm1 3zm0 2zm1-3zm2-2zm3-2zm0 1zm5 4zm1 0zm4 0zm1-5zm1 7zm1-6zm4 0zm17 6zm4-7zm9 2zm1 3zm12-2zm19 1zm31-2zm75 4zm-115 7zm-15-5zm-4 3zm-1 1zm-20 3zm-1-3zm-2 1zm-13-1zm-4 1zm-2 1zm0-5zm-1 2zm-6 4zm-1-7zm-2 4zm-1 3zm0-7zm-4 0zm-3 0zm-3 6zm-2-1zm-1-5zm-1 6zm-1 1zm-3 0zm-2 0zm-1 0zm0-1zm-3-2zm-2-1zm-1 1zm-3 2zm-2-3zm-1 1zm0-1zm-1 0zm0-1zm2 13zm4-2zm1 1zm2-3zm0 1zm1-3zm0 2zm1 1zm0 1zm3-4zm2 0zm1-1zm1 1zm0 5zm0 1zm4 0zm2-3zm1-2zm6 4zm3-4zm4 4zm1 1zm5-4zm0 4zm3-3zm1-2zm2 0zm6 4zm3-5zm5 1zm5-2zm1 0zm141 14zm-25-1zm-45 0zm-54 1zm-19-6zm-25 5zm-4-2zm-2 2zm-1 1zm-3-4zm-1-1zm-8 2zm-3-3zm-2 4zm-1-2zm-1 2zm0-1zm0-1zm-2 2zm-2 2zm-1-1zm0-4zm-1 0zm-1 4zm-1 2zm0-2zm0-3zm-1 5zm0-4zm-2 2zm0-1zm-1-1zm-1 4zm0-2zm-2 1zm1 3zm1-1zm0 1zm1 3zm4-2zm1 0zm1-2zm1 5zm0 2zm2-4zm2 1zm6-4zm2 0zm0 1zm1-1zm1 3zm2-1zm0 3zm0 1zm2-4zm2 0zm4 2zm0 2zm2-3zm0 3zm4-3zm1 2zm0 1zm11-5zm1 0zm28 0zm22 4zm101 4zm-42 5zm-49-4zm-21-1zm-12 6zm-3-3zm-27 2zm-2-2zm-4 2zm-5-4zm-7 3zm-1-4zm-8 2zm0-3zm-4 1zm-1 6zm0-6zm-2-1zm-3 0zm-2 0zm-1 7zm0-2zm0-2zm-1 1zm0-1zm-2-2zm-2 5zm0-4zm-1 3zm-1-4zm-1 2zm-1-1zm6 6zm2 0zm1 5zm0 1zm2-6zm1 4zm0 2zm0 1zm1-6zm0 3zm2-3zm1 1zm5-2zm0 2zm0 4zm1 0zm3-6zm5 2zm2-1zm1 5zm4-2zm3-1zm1 2zm0 2zm3-4zm0 2zm3 2zm16-2zm2-3zm13 3zm26-4zm18 2zm1 2zm6 1zm19-3zm7 3zm92 6zm-167-4zm-17 1zm-6 0zm-3 3zm-6-1zm-1-2zm-5 3zm-3 2zm-1-3zm-5-2zm-2-1zm-1 6zm0-6zm-2 0zm-1 4zm-3 3zm0-1zm0-1zm-3 2zm0-4zm-1 4zm-2-1zm-1 0zm-1-3zm0-2zm-1 6zm0-4zm0-2zm-1 5zm0-4zm-1 3zm0-5zm-3 4zm0-3zm0-1zm-2 6zm-1-5zm-1 0zm2 13zm1-2zm1-4zm1 0zm0 3zm0 1zm6-4zm0 7zm4-7zm0 7zm3-1zm2 0zm2-2zm2-1zm2 2zm0 2zm1-7zm3 5zm2-2zm6 4zm3-2zm7-5zm15 5zm13-5zm5 7zm16-6zm2-1zm8 7zm12-3zm5 2zm9-1zm41 2zm-12 1zm-58 1zm-7 3zm-10 0zm-1 3zm-13-1zm-9-3zm-10 0zm-3 4zm-6-2zm-7-5zm-1 2zm-8 0zm-4-2zm-1 7zm-2-2zm-1 1zm-1 1zm-1-4zm-1 1zm0-3zm-1 0zm-1 3zm-5-2zm-1 1zm-1 3zm0-4zm0-2zm-1 1zm-3 2zm0-2zm2 13zm2-6zm0 1zm1 2zm2 1zm0 2zm0 1zm1 0zm1-7zm0 7zm1-3zm0 2zm1-1zm2-5zm2 0zm2 1zm3 3zm0 3zm3 0zm2-7zm0 1zm2 1zm0 3zm4-2zm1 4zm4-6zm0 2zm2-2zm11 2zm6 0zm22 2zm6-3zm5 4zm12-6zm70 6zm6 6zm-66 3zm-16-4zm-14-2zm-1 2zm-21 4zm-3-5zm-4 5zm0-7zm-1 5zm-3 0zm-1-5zm-2 3zm-1-2zm-1 5zm-2-6zm-5 5zm-3-3zm-2 5zm-3-3zm-1-2zm-3 1zm-1 4zm0-6zm-4 5zm-1-4zm-1 0zm0-1zm0-1zm-1 3zm-1 4zm0-2zm0-2zm-1 2zm0-1zm0-1zm-1 2zm-4 0zm-1-3zm-2 5zm0-2zm-1 2zm0-1zm0-5zm-1 2zm0-2zm1 14zm1-6zm1-1zm0 3zm1 2zm2 0zm5-4zm1 4zm1-1zm4-3zm2-1zm0 5zm4-4zm0 3zm1-1zm1-3zm0 2zm2 5zm2-3zm4-4zm1 6zm2-3zm7 2zm1-5zm0 7zm1-4zm3 3zm12-6zm1 6zm18 1zm5-5zm16 3zm4-1zm35 2zm21-2zm2-2zm39 5zm-112 1zm-7 0zm-6 4zm-10-1zm0-1zm-8 2zm-2-1zm0-2zm-3 2zm-7 1zm-3-3zm-3 2zm-2-1zm-2 2zm0-3zm-3 3zm-9-1zm0-1zm-5-2zm-4 1zm-2 0zm-3 0zm-1 3zm0-4zm-1 2zm-1 3zm0-2zm-2 1zm-5-4z" stroke="#ff0000" stroke-width="3" stroke-linecap="square" fill="none"/>
<path d="M1508.4 197L1508.4 198L1508.4 199L1508.4 200L1508.4 201L1508.4 202L1508.4 203L1508.4 204L1508.4 205L1508.4 206L1508.4 207L1508.4 208L1508.4 209L1508.4 210L1508.4 211L1508.4 212L1508.4 213L1508.4 214L1508.4 215L1508.4 216L1508.4 217L1508.4 218L1508.4 219L1508.4 220L1508.4 221L1508.4 222L1508.4 223L1508.4 224L1508.4 225L1508.4 226L1508.4 227L1508.4 228L1508.4 229L1508.4 230L1508.4 231L1508.4 232L1508.4 233L1508.4 234L1508.4 235L1508.4 236L1508.4 237L1508.4 238L1508.4 239L1508.4 240L1508.4 241L1508.4 242L1508.4 243L1508.4 244L1508.4 245L1508.4 246L1508.4 247L1508.4 248L1508.4 249L1508.4 250L1508.4 251L1508.4 252L1508.4 253L1508.4 254L1508.4 255L1508.4 256L1508.4 257L1508.4 258L1508.4 259L1508.4 260L1508.4 261L1508.4 262L1508.4 263L1508.4 264L1508.4 265L1508.4 266L1508.4 267L1508.4 268L1508.4 269L1508.4 270L1508.4 271L1508.4 272L1508.4 273L1508.4 274L1508.4 275L1508.4 276L1508.4 277L1508.4 278L1508.4 279L1508.4 280L1508.4 281L1508.4 282L1508.4 283L1508.4 284L1508.4 285L1508.4 286L1508.4 287L1508.4 288L1508.4 289L1508.4 290L1508.4 291L1488.2 291L1488.6 290L1488.3 289L1487.5 288L1488.5 287L1489.5 286L1488.6 285L1487.7 284L1488.1 283L1489.7 282L1489.3 281L1489.7 280L1489.9 279L1489.5 278L1490 277L1491.4 276L1491.8 275L1490.8 274L1491.3 273L1492.3 272L1491.4 271L1491.2 270L1492.8 269L1492.8 268L1492.9 267L1494.3 266L1492.7 265L1494.7 264L1493.5 263L1494.6 262L1494.6 261L1495.8 260L1495.5 259L1494.7 258L1495.5 257L1496.1 256L1496.1 255L1496.3 254L1496.1 253L1497.3 252L1497.4 251L1497.4 250L1498.1 249L1497.7 248L1498.3 247L1498.3 246L1498.6 245L1497.7 244L1497.5 243L1497.3 242L1499.3 241L1499.3 240L1499.2 239L1498.9 238L1499.2 237L1498.9 236L1500.2 235L1499.7 234L1499.9 233L1499.9 232L1500.4 231L1499.2 230L1498.9 229L1500.5 228L1500.5 227L1499 226L1501.1 225L1501.1 224L1499.9 223L1500.3 222L1499.5 221L1499.8 220L1500.8 219L1500.2 218L1500.5 217L1501.8 216L1500.9 215L1501.4 214L1501.5 213L1500.9 212L1500.3 211L1501.5 210L1501.5 209L1500.8 208L1502.1 207L1502.2 206L1502.3 205L1503.6 204L1502.3 203L1502.6 202L1503.5 201L1504.9 200L1504.4 199L1505.8 198L1506.9 197Z" fill="#0000ff"/>
<path transform="scale(.5)" d="M2979 177zm9 0zm17 44zm-36 8zm4 0zm0 14zm-3-1zm15 6zm13 5zm4-3zm2 3zm-13 6zm-4 4zm-7-1zm-8-1zm11 10zm4-2zm2-5zm18 5zm-1 10zm-6-6zm-13 1zm-14 0zm7 10zm11 2zm7 1zm9-5zm7 3zm0 10zm-4-1zm0-3zm-5-1zm-8 3zm-5-3zm-9-1zm-5 4zm-10 10zm15-1zm5 1zm1-6zm6 3zm10 2zm3-6zm5 9zm-12-1zm-2 2zm-4 0zm-3-1zm0-1zm-4 4zm-36 10zm22-5zm2 2zm2 0zm11-3zm2 3zm2-1zm3 2zm1 2zm1 1zm11-5zm1-2zm3 5zm1 1zm-1 4zm-3 2zm-4 2zm-3-6zm-4 1zm-12 0zm-7 0zm-23 4zm-2 9zm8-1zm4-2zm13 1zm1-4zm8 6zm3 1zm3-3zm9 2zm4-5zm4-1zm2 3zm3 9zm-4 0zm-3 0zm-1 0zm-1 0zm-2-3zm-1 4zm-3-4zm-5 0zm-1 3zm-1-1zm-8-2zm-3-1zm-8 5zm-8-3zm-12 4zm-7-5zm9 12zm6-3zm13-1zm4 2zm6 2zm4 1zm1 1zm1 0zm1-6zm0 3zm3-3zm1 6zm12-7zm3 4zm1 2zm0 1zm3 8zm-1 0zm-2-6zm-3 2zm-1 1zm-1-2zm-1 1zm-2-2zm-7 6zm-2-3zm-1-2zm-1-1zm-6 6zm-1-1zm-1 1zm-1-1zm-1-4zm-3 4zm-5-1zm-12-2zm-3 4zm-15-5zm-14 0zm-74-2zm65 11zm16-1zm8 5zm6-1zm0 1zm14-6zm1 2zm7 2zm6-5zm1 6zm0 1zm2-6zm1 3zm1-2zm3 3zm6-4zm1 1zm4 0zm1 1zm0 2zm2 2zm3-4zm0 1zm1-2zm0 4zm1 1zm3 0zm1-6zm2 3zm1 8zm0-2zm-1 2zm0-4zm-4 3zm-2 0zm-2 4zm-2-1zm-2-4zm-1 2zm-4-2zm-1 4zm0-3zm-1 4zm-2-4zm-2 1zm-1-3zm-2 4zm-5-4zm-1 2zm-2 0zm-21 0zm-10 4zm-41-1zm-6-2zm-39-3zm-57 2zm65 9zm57 1zm2-5zm6 5zm29 1zm8-3zm1 3zm2-3zm1-1zm1 2zm2-4zm2 3zm0 1zm2 0zm6-3zm0 6zm2-6zm1 1zm0 4zm2-1zm5-5zm0 1zm1 6zm1-2zm7-2zm0 4zm2-5zm0 2zm1 1zm0 2zm1-3zm1-4zm0 6zm2 3zm-1 6zm-1-7zm-1 3zm-2 4zm-3 0zm0-2zm0-1zm-1 0zm0-1zm0-1zm0-1zm-1 3zm-4-2zm-1-2zm-3 5zm-1-2zm-1-3zm-2 0zm-2 7zm-2-3zm-2 0zm-1-2zm-1 2zm-5 2zm-2-2zm-4-1zm0-2zm-2 1zm0-2zm-3 2zm-6-1zm-15 2zm-19 0zm0-3zm-15 2zm-91 9zm82-2zm17 1zm17 1zm7-2zm0 3zm9 1zm8-1zm6-1zm1 0zm5 3zm3-2zm1 0zm3 1zm0 2zm2-6zm1 0zm0 3zm1 0zm1-2zm0 2zm2-2zm3 5zm2-1zm3 1zm2-4zm1 1zm1-2zm0 2zm1-2zm1-1zm3 1zm0 4zm1-6zm1 2zm1 0zm0 3zm-6 4zm-2 0zm-1 4zm0-2zm0-3zm-1 5zm0-3zm-5 0zm-1 5zm0-5zm-2 0zm-1 0zm-7 3zm-2 0zm-3-4zm-1 3zm-1-4zm-14 7zm0-3zm-5 2zm0-5zm-14 3zm-8 3zm-17-4zm-4 0zm-15 1zm-7 1zm-68-5zm64 11zm26 2zm4 0zm27 0zm1-2zm2 1zm8 0zm6 0zm1-3zm0 3zm2-1zm6-3zm0 5zm2-3zm5-1zm3 3zm1-1zm1-3zm1 6zm1-5zm0 6zm1 0zm2-7zm1 7zm1-7zm0 1zm0 2zm1 3zm1-4zm0 3zm0 2zm2-2zm0 2zm2-5zm1 3zm2-2zm3 4zm1-5zm0 5zm2-7zm-2 8zm-2 0zm-1 6zm0-3zm-1 2zm0-2zm-1 1zm-1-1zm-6 4zm-5-2zm-1-3zm-2 5zm-9-1zm0-3zm-1 4zm-4-5zm0-1zm-1 1zm-3 2zm-3-3zm-8 6zm-3 0zm-11-5zm-8 2zm-31 0zm-363-1zm383 5zm12 1zm11 5zm4-2zm3-2zm3 3zm9-5zm1 7zm3-4zm0 1zm2-1zm5 2zm0 1zm5-6zm2 0zm0 1zm1 3zm6-3zm0 5zm1-1zm1 2zm2-3zm0 1zm0 1zm1-4zm0 3zm0 2zm1-3zm2-2zm0 5zm1-7zm2 0zm4 8zm-3 7zm-2-7zm-1 7zm-2-5zm0-1zm-1 3zm-1 1zm-1 2zm0-4zm-1 4zm0-7zm-2 7zm-1-5zm0-2zm-3 3zm-1 4zm0-1zm-2-3zm0-2zm-1 6zm0-2zm0-1zm-1 0zm-1-3zm-22-1zm-2 4zm-1-2zm-1 5zm-1-3zm-4 0zm-6-3zm-1 2zm-2-1zm-41-1zm-8 0zm-222 4zm46 8zm34-4zm122 4zm26 0zm44-1zm14 1zm10-3zm1 4zm2-4zm0 5zm1-5zm2-1zm0 3zm6 2zm2-6zm0 5zm2 0zm0 2zm2-5zm1 4zm0 1zm1-6zm1 6zm2-1zm1-6zm0 5zm3-3zm2 1zm1 4zm2-4zm2 3zm1-2zm0 3zm0 8zm0-1zm0-3zm-1 1zm-2 2zm0-4zm-1 1zm0-2zm0-1zm-2 6zm-3-1zm-2 2zm-2-2zm-1 0zm-1 2zm0-2zm-1-2zm0-1zm-2 2zm-2-3zm-1 4zm-1-2zm-2 4zm0-2zm-7-2zm-18-1zm-2 5zm-9-6zm-23 0zm-7-1zm-203 9zm79 5zm129-6zm30 7zm2-5zm16 2zm10 3zm4-4zm1-1zm2 5zm4-7zm0 2zm0 5zm1-6zm2 5zm3 0zm1 1zm1-4zm1-2zm2 4zm0 2zm1-2zm1 1zm0 1zm1-2zm2-5zm-7 11zm-5 0zm-1 4zm-6-1zm0-3zm-2-2zm-3 2zm-2 4zm-3-1zm-3 0zm0-1zm-2 2zm-9-7zm-1 1zm-16 5zm-7-6zm-1 7zm-5-6zm-25 1zm-26 3zm-22-5zm-292 8zm100 4zm173 2zm61 0zm22 0zm10 0zm1-6zm2 7zm24-4zm5-1zm5 4zm2 0zm11-5zm0 5zm1-2zm1-3zm1-1zm1 0zm2 5zm2-2zm0 2zm2 1zm0 1zm1-7zm1 4zm4-3zm0 1zm1 5zm1-2zm0 3zm-1 0zm-2 7zm0-2zm0-2zm-1-2zm-1 2zm-1 3zm0-4zm0-1zm0-1zm-1 4zm-1-3zm0-1zm-1 4zm0-2zm0-2zm-1 1zm-3 5zm0-1zm-1-2zm-2 1zm0-2zm-1 3zm0-2zm-3-1zm0-2zm-6 3zm-1 3zm-1 1zm-3-7zm-13 2zm0-2zm-1 1zm-2 2zm-4 1zm-9-1zm-24 1zm-7-4zm-5 7zm-64-5zm-41 4zm-33-1zm-117-1zm178 4zm39 7zm11-6zm17 3zm27-4zm27 5zm4-3zm5 3zm12-1zm3 1zm1-3zm3 3zm2-3zm3-2zm1 5zm1-1zm1 0zm2 1zm2 2zm2 0zm3-3zm2 1zm0 2zm1-7zm0 2zm0 3zm1-2zm2 3zm0 5zm-1 2zm-1-2zm-1-1zm-2 5zm0-4zm0-1zm-1 1zm0-2zm-1 0zm-1 4zm-1 0zm0-5zm-1 1zm-1 4zm-1-2zm0-3zm-2 5zm0-5zm-1 7zm0-3zm-3 2zm0-4zm0-2zm-1 7zm-6-1zm-1-5zm-3 2zm-2 1zm-5-3zm-1 0zm-1 3zm-4 1zm-1 2zm0-6zm-2 4zm-5-2zm-23 3zm-1-2zm-1 2zm-4 0zm-49 1zm-3-4zm-27 2zm-149 9zm81-4zm16 1zm97 3zm15 0zm13-1zm4-2zm12-1zm17 0zm10 0zm2-2zm4 1zm3-1zm3 4zm4-2zm1 5zm1-6zm5 2zm1-3zm1 3zm0 1zm2-4zm3 5zm2 2zm1-1zm1-4zm0 2zm1-3zm3 3zm0 2zm2-6zm-2 8zm-2 5zm0-4zm-1-1zm-2 7zm0-5zm-1 0zm-1 3zm0-2zm-2 2zm0-4zm-2 5zm-1 1zm0-5zm-6 2zm0-2zm-1 0zm-4 1zm-1-2zm-1 2zm-2 4zm-2-5zm-2 2zm-1-1zm-1 3zm0-6zm-6 4zm-1 3zm-4-2zm-2 1zm0-5zm-11 3zm-5 0zm-12 2zm-1-2zm-7-1zm-1 0zm-7-2zm-3 3zm-11-4zm-11 4zm-66 0zm-98 3zm-41-6zm150 13zm1-1zm9-2zm1 1zm36 0zm4 1zm12 2zm6-7zm25 0zm15 7zm13 0zm3-2zm11-5zm1 4zm3 2zm1-4zm11 1zm0 2zm0 1zm1 0zm2-4zm1 1zm1 0zm1 3zm2 0zm2-3zm0 4zm1-5zm1-2zm2 7zm2-3zm2-3zm-3 9zm-1 2zm-1 3zm0-5zm-2 5zm-1 0zm-1-5zm-2 0zm0-1zm-1 6zm0-1zm0-3zm0-3zm-1 3zm-1 1zm-1-1zm-5 1zm-2 3zm-2-7zm-1 2zm-5 2zm-1-3zm-4 3zm-7-1zm0-2zm-4 0zm-5 2zm-29 4zm-8-6zm-3 6zm-1-2zm-35 0zm-16 1zm-90-2zm-17 3zm-22-3zm-12-2zm-11 1zm-156 5zm195 6zm82-3zm4 0zm21 4zm62-6zm15 5zm2-4zm8-1zm16 6zm5-2zm4 0zm3-4zm5 2zm1 2zm3-3zm0 4zm1-1zm0 1zm2 0zm2-6zm1 5zm6-3zm2-2zm0 2zm1 2zm2 9zm-1 2zm0-5zm-1 5zm-1 0zm0-6zm-1 3zm-1 1zm0-2zm0-1zm-4 0zm-2-2zm-1 6zm-2-6zm-1 6zm-1 1zm0-6zm-1 3zm0-1zm-1 4zm-1-7zm-1 7zm-2-5zm-1-1zm-6 4zm-2 2zm-1-2zm-1 0zm-4-5zm-8 2zm-3-2zm-3 7zm-5-1zm-19-2zm0-1zm-2 3zm-4-3zm-4 3zm-33-2zm-20 0zm-15-1zm-145 8zm49 0zm42 1zm53-1zm37 2zm8-5zm13 3zm18-2zm17 2zm1 2zm7-1zm22 0zm3 1zm2-2zm1 1zm0 3zm2-5zm0 1zm2-3zm1 2zm1 2zm1 3zm1-3zm2-3zm0 4zm1 0zm1-5zm1 3zm0 2zm5 2zm2-2zm3-5zm0 2zm-5 8zm-2 4zm-1-5zm-3 4zm-1-5zm-1 7zm-1-4zm-4-2zm-6 6zm-2-1zm-1-2zm-1 0zm-3 3zm-5-6zm-3 0zm-1-1zm-8 6zm-7-1zm-3 0zm-14 2zm-8-4zm-3 1zm-2-3zm-22 4zm-7 1zm-29-6zm-11 3zm-35 0zm-146 12zm103-1zm13 0zm137-4zm15-2zm5 3zm2-3zm4 0zm1 0zm1 3zm3 4zm4-5zm0 4zm10-6zm2 2zm5-2zm0 6zm1-6zm0 4zm0 1zm1-2zm1 2zm1 0zm1-4zm0 3zm1 1zm4-1zm4 2zm4-5zm0 3zm0 3zm2-5zm1 1zm0 4zm1-7zm0 1zm0 3zm0 2zm1-1zm3 8zm-4-5zm-2 3zm0-2zm-6 1zm0-2zm-1 4zm-3-1zm-1-2zm-1 1zm-1-1zm-1 4zm-3-5zm-1 0zm-1 4zm-5-2zm-2 0zm-7-1zm-5 2zm-5 0zm0-2zm-16 4zm-35-4zm-8 3zm-14-4zm-24 2zm-18-2zm-96 3zm-60 1z" stroke="#0000ff" stroke-width="3" stroke-linecap="square" fill="none"/>
<path transform="scale(.5)" d="M3022 393zm11 6zm1 6zm-3-4zm-1-1zm-1 2zm-3 3zm-3-3zm-15 5zm1 5zm22-2zm5 13zm0-1zm-2-3zm-2 3zm-30 6zm1-2zm1 3zm1 2zm2-6zm0 4zm25-3zm0 5zm3 1zm-3 4zm-10-4zm-21 11zm4 1zm27-4zm0 4zm-4 11zm-26-1zm2 6zm0 9zm0-5zm-4 13zm38 5zm-1 0zm-39 2zm-1 0zm-1 11zm38-6zm8 2zm0 1zm1-2zm-43 6zm-4 9zm37 4zm1 1zm7-1zm-1 4zm0-1zm-3 7zm-41-1zm-3-2zm-1 2zm50 5zm1-3zm4 5zm-1 10zm-3 0zm-1-4zm-1 2zm-2 1zm0-2zm-48-3zm-6 11zm4 1zm57 1zm1 0zm6 2zm-62 4zm-3-2zm-3-1zm54 8zm9 4zm4 8zm-1 2zm-4-2zm-7-5zm-54 0zm-5 6zm5 3zm68 0zm3 10zm-8 1zm-4-4z" stroke="#fff" stroke-width="3" stroke-linecap="square" fill="none"/>
<path d="M1264.3 64.7H1752.6V552H1264.3ZM1345.7 552v-5M1345.7 64.7v5M1427.1 552v-5M1427.1 64.7v5M1508.4 552v-5M1508.4 64.7v5M1589.8 552v-5M1589.8 64.7v5M1671.2 552v-5M1671.2 64.7v5M1264.3 96h5M1752.6 96h-5M1264.3 149.6h5M1752.6 149.6h-5M1264.3 203.2h5M1752.6 203.2h-5M1264.3 257.8h5M1752.6 257.8h-5M1264.3 342.7h5M1752.6 342.7h-5M1264.3 427.6h5M1752.6 427.6h-5M1264.3 481.2h5M1752.6 481.2h-5M1264.3 520.7h2.5M1752.6 520.7h-2.5M1264.3 498.4h2.5M1752.6 498.4h-2.5M1264.3 467.1h2.5M1752.6 467.1h-2.5M1264.3 455.2h2.5M1752.6 455.2h-2.5M1264.3 444.9h2.5M1752.6 444.9h-2.5M1264.3 435.8h2.5M1752.6 435.8h-2.5M1264.3 374h2.5M1752.6 374h-2.5M1264.3 320.5h2.5M1752.6 320.5h-2.5M1264.3 303.2h2.5M1752.6 303.2h-2.5M1264.3 289.1h2.5M1752.6 289.1h-2.5M1264.3 277.2h2.5M1752.6 277.2h-2.5M1264.3 266.9h2.5M1752.6 266.9h-2.5M1264.3 249.7h2.5M1752.6 249.7h-2.5M1264.3 196.1h2.5M1752.6 196.1h-2.5M1264.3 164.8h2.5M1752.6 164.8h-2.5M1264.3 142.5h2.5M1752.6 142.5h-2.5M1264.3 125.3h2.5M1752.6 125.3h-2.5M1264.3 111.2h2.5M1752.6 111.2h-2.5M1264.3 99.3h2.5M1752.6 99.3h-2.5M1264.3 89h2.5M1752.6 89h-2.5M1264.3 79.9h2.5M1752.6 79.9h-2.5M1264.3 71.7h2.5M1752.6 71.7h-2.5" stroke="#8c8c8c" stroke-width="1.4" fill="none"/>
<path d="M1508.4 289.14H1524.3M1508.4 290.44H1522.7M1508.4 291.76H1525.1M1508.4 293.11H1525.1M1508.4 294.48H1523.9M1508.4 295.87H1523.3M1508.4 297.29H1526M1508.4 298.73H1524.7M1508.4 300.20H1525.5M1508.4 301.70H1525.8M1508.4 303.23H1526M1508.4 304.80H1526M1508.4 306.39H1525.9M1508.4 308.02H1525.8M1508.4 309.68H1527.3M1508.4 311.38H1525.1M1508.4 313.11H1524.6M1508.4 314.89H1526.5M1508.4 316.71H1524.7M1508.4 318.57H1526.2M1508.4 320.48H1524.9M1508.4 322.44H1527.1M1508.4 324.44H1528.8M1508.4 326.50H1527.9M1508.4 328.62H1527.6M1508.4 330.80H1529.2M1508.4 333.04H1530M1508.4 335.35H1528.8M1508.4 337.72H1530M1508.4 340.18H1529.6M1508.4 342.71H1530.6M1508.4 345.33H1528.2M1508.4 348.04H1531.4M1508.4 350.86H1531.4M1508.4 353.77H1533.7M1508.4 356.80H1533.4M1508.4 359.96H1530.3M1508.4 363.25H1531.2M1508.4 366.68H1530.7M1508.4 370.28H1534.1M1508.4 374.05H1531.2M1508.4 378.01H1533.2M1508.4 382.19H1533.9M1508.4 386.61H1534.3M1508.4 391.29H1533M1508.4 396.28H1531.3M1508.4 401.61H1533.5M1508.4 407.34H1535M1508.4 413.53H1536.5M1508.4 420.25H1535.7M1508.4 427.62H1535.8M1508.4 435.76H1542.4M1508.4 444.86H1534.4M1508.4 455.18H1533.4M1508.4 467.10H1539.4M1508.4 481.19H1538.4M1508.4 498.43H1536.4M1508.4 520.66H1542.4M1508.4 552.00H1544.4" stroke="#ff0000" stroke-width="1.15" stroke-opacity=".85" fill="none"/>
<path d="M1508.4 289.14H1492.2M1508.4 290.44H1493.2M1508.4 291.76H1491.1M1508.4 293.11H1492.2M1508.4 294.48H1490.1M1508.4 295.87H1490M1508.4 297.29H1489.9M1508.4 298.73H1489.6M1508.4 300.20H1490.9M1508.4 301.70H1492M1508.4 303.23H1490M1508.4 304.80H1492.1M1508.4 306.39H1490.3M1508.4 308.02H1488.5M1508.4 309.68H1491M1508.4 311.38H1488.9M1508.4 313.11H1489.5M1508.4 314.89H1487.9M1508.4 316.71H1487.7M1508.4 318.57H1487.7M1508.4 320.48H1488M1508.4 322.44H1488.4M1508.4 324.44H1489.8M1508.4 326.50H1488.1M1508.4 328.62H1488.6M1508.4 330.80H1487.5M1508.4 333.04H1485.5M1508.4 335.35H1486.1M1508.4 337.72H1488.7M1508.4 340.18H1485.2M1508.4 342.71H1486.1M1508.4 345.33H1484.4M1508.4 348.04H1485.9M1508.4 350.86H1484.7M1508.4 353.77H1481.5M1508.4 356.80H1482.3M1508.4 359.96H1481.2M1508.4 363.25H1477.5M1508.4 366.68H1479.6M1508.4 370.28H1476.2M1508.4 374.05H1480.3M1508.4 378.01H1480.2M1508.4 382.19H1480.8M1508.4 386.61H1479.4M1508.4 391.29H1478.1M1508.4 396.28H1483.5M1508.4 401.61H1480.9M1508.4 407.34H1479M1508.4 413.53H1480.6M1508.4 420.25H1481.9M1508.4 427.62H1482.1M1508.4 435.76H1479.4M1508.4 444.86H1476.4M1508.4 455.18H1472.4M1508.4 467.10H1470.4M1508.4 481.19H1476.4M1508.4 498.43H1480.4M1508.4 520.66H1470.4M1508.4 552.00H1464.4" stroke="#0000ff" stroke-width="1.15" stroke-opacity=".85" fill="none"/>
<path transform="scale(.5)" d="M3054 581zm3-3zm0 3zm2 0zm1-3zm2 3zm2-3zm5 0zm4 0zm24 0zm13 0zm14 0zm7 0zm20 0zm19 0zm32 3zm-34 8zm-10-3zm-10-2zm-19 5zm0-3zm-13 3zm-6-5zm-3 0zm-1 2zm-9 3zm-9 0zm-9 0zm-4 0zm-2 0zm0-5zm-1 2zm-2-2zm-3 0zm-2 2zm-3 0zm-2-2zm-1 0zm-1 2zm-1 3zm-3 0zm0-3zm-4 3zm0-5zm1 13zm2-2zm0 2zm2-5zm3 3zm1 2zm3-2zm4-3zm1 5zm2-2zm0 2zm3-5zm1 3zm2 2zm2-2zm5-3zm3 5zm2-5zm3 0zm2 3zm0 2zm8 0zm7 0zm13-2zm34 2zm8-5zm13 0zm6 0zm43 8zm-15 3zm-3-3zm-55 6zm-11-6zm-20 6zm-8-6zm-2 0zm-1 6zm-6 0zm-1-3zm-2 3zm-4 0zm-1-3zm-2 3zm-15 0zm-3-3zm-2 3zm-3 0zm-3-6zm-2 6zm-2 0zm0-6zm-2 0zm-2 3zm-1 3zm-2 0zm-2-3zm-2 10zm3-3zm3 3zm4-3zm3 3zm3-3zm1 3zm2 0zm3-3zm0 3zm11 0zm1-3zm6 3zm3 0zm29-3zm0 3zm6 0zm22 0zm24 0zm30 6zm-38-3zm-17 3zm-17 4zm-11-4zm-15-3zm-1 7zm-16-4zm-4 0zm-4 4zm-10 0zm-5 0zm-3 0zm-1-4zm-3 0zm0-3zm-1 3zm-1-3zm-5 10zm2 0zm4 0zm1 4zm3-4zm5 4zm2 0zm11 0zm1-4zm6 4zm2-4zm4 0zm5 0zm3 0zm8 4zm3-4zm6 0zm1 4zm9-4zm37 0zm20 0zm13 0zm35 4zm-57 3zm-47 0zm-8 4zm-4-4zm-7 0zm-4 4zm-6-4zm-1 4zm-12 0zm-1 0zm-7 0zm-1-4zm-4 0zm-5 0zm-8 0zm-1 4zm-1 0zm-3 0zm-1-4zm-4 0zm-1 4zm2 4zm2 0zm2 4zm9-4zm1 4zm1 0zm2-4zm3 0zm17 0zm1 0zm5 4zm45 0zm20 0zm11 0zm17 4zm-57 0zm-12 4zm-8 0zm-14 0zm-13 0zm-2 0zm-1-4zm-6 0zm-3 0zm-8 0zm-2 4zm-1-4zm-6 4zm-1 4zm3 5zm1-5zm2 5zm5-5zm0 5zm14-5zm0 5zm4-5zm0 5zm2 0zm2-5zm0 5zm3-5zm3 0zm1 5zm10 0zm3-5zm35 0zm29 5zm11 0zm13-5zm-8 9zm-16 0zm-17 5zm-4 0zm-17-5zm-20 5zm-4 0zm-2-5zm-9 0zm-15 5zm-3-5zm-5 5zm-5-5zm-1 5zm-6 0zm0-5zm-2 5zm-2-5zm0 9zm4 0zm6 0zm6 0zm1 0zm8 0zm1 0zm12 0zm73 0zm13 0zm17 5zm-27 0zm-10 5zm-7 0zm-1 0zm-12 0zm-23 0zm-4-5zm-7 5zm-4-5zm-2 5zm-4 0zm-2 0zm-6 0zm-4 0zm-6-5zm-2 0zm-2 5zm-2-5zm-3 0zm-3 5zm-2-5zm-1 0zm-1 5zm-4 0zm-3-5zm-3 11zm4 0zm2 0zm8 0zm6 0zm6 0zm4 0zm5 0zm5 0zm8 0zm35 0zm18 0zm4 0zm17 0zm36 0zm-19 5zm-4 0zm-8 0zm-10 0zm-27 0zm-3 6zm-3 0zm-3-6zm-7 6zm-11-6zm-4 6zm-6-6zm-7 0zm-3 0zm-1 6zm-8 0zm-5 0zm-2 0zm0-6zm-7 0zm-3 0zm-1 6zm-1-6zm-2 6zm-2 0zm0-6zm2 12zm6 0zm1 0zm3 0zm3 0zm7 0zm5 0zm5 0zm7 0zm15 0zm4 0zm5 0zm11 0zm15 0zm4 0zm12 0zm53 0zm5 6zm-14 0zm-53 0zm-6 0zm-9 0zm-4 0zm-17 0zm-8 0zm-3 0zm-9 0zm-9 0zm-5 0zm-6 0zm-5 0zm-4 0zm-1 0zm-5 0zm-2 0zm-3 0zm-6 6zm0 6zm4-6zm2 0zm0 6zm3-6zm3 0zm0 6zm4-6zm2 6zm2 0zm2-6zm3 6zm4-6zm3 6zm3 0zm2-6zm0 6zm8 0zm1-6zm0 6zm4-6zm0 6zm4-6zm7 0zm3 0zm5 6zm4-6zm7 6zm12-6zm7 6zm9 0zm7-6zm50 13zm-32 0zm-25 0zm-20 0zm-25 0zm-10 0zm-8 0zm-15 0zm-9 0zm-5 0zm-6 0zm-2 0zm-4 0zm-4 0zm9 8zm1 0zm2 0zm6 0zm6 0zm12 0zm8 0zm3 0zm3 0zm9 0zm15 0zm20 0zm12 0zm7 0zm30 7zm-27 0zm-3 0zm-55 0zm-2 0zm-4 0zm-3 0zm-1 0zm-10 0zm-3 0zm-9 0zm-3 0zm-3 0zm-3 0zm-4 0zm-2 0zm-2 0zm-8 0zm4 8zm4 0zm3 0zm4 0zm2 0zm6 0zm5 0zm11 0zm4 0zm30 0zm47 8zm-26 0zm-3 0zm-17 0zm-35 0zm-1 0zm-7 0zm-5 0zm-2 0zm-1 0zm-6 0zm-2 0zm-2 0zm-8 0zm2 9zm4 0zm6 0zm2 0zm3 0zm4 0zm7 0zm11 0zm7 0zm10 0zm38 0zm32 0zm24 0zm8 0zm23 0zm-80 10zm-43 0zm-7 0zm-4 0zm-6 0zm-11 0zm-8 0zm-8 0zm-1 0zm-5 0zm-2 0zm-3 0zm-4 0zm-3 10zm2 0zm5 0zm4 0zm6 0zm2 0zm9 0zm3 0zm3 0zm2 0zm3 0zm12 0zm7 0zm3 0zm2 0zm3 0zm7 0zm7 0zm5 0zm6 0zm4 0zm46 0zm26 10zm-3 0zm-36 0zm-6 0zm-13 0zm-16 0zm-5 0zm-15 0zm-14 0zm-9 0zm-9 0zm-11 0zm-6 0zm-1 0zm-7 0zm-4 0zm-3 0zm-1 0zm-2 0zm3 12zm1 0zm5 0zm3 0zm6 0zm9 0zm1 0zm3 0zm3 0zm9 0zm9 0zm3 0zm13 0zm17 0zm28 0zm31 12zm-40 0zm-4 0zm-26 0zm-5 0zm-12 0zm-8 0zm-11 0zm-6 0zm-8 0zm-7 0zm-8 0zm-3 0zm-5 14zm6 0zm2 0zm2 0zm5 0zm2 0zm3 0zm2 0zm3 0zm12 0zm4 0zm2 0zm26 0zm8 0zm42 0zm3 0zm6 0zm2 0zm51 0zm-66 14zm-19 0zm-18 0zm-20 0zm-3 0zm-9 0zm-4 0zm-3 0zm-3 0zm-6 0zm-13 0zm-2 0zm-4 0zm-9 0zm14 17zm3 0zm3 0zm2 0zm14 0zm1 0zm2 0zm8 0zm15 0zm3 0zm11 0zm30 0zm6 0zm3 0zm10 0zm-3 18zm-16 0zm-17 0zm-20 0zm-7 0zm-14 0zm-11 0zm-8 0zm-8 0zm-8 0zm-5 0zm-5 0zm-2 0zm-3 0zm-1 20zm3 0zm4 0zm3 0zm6 0zm4 0zm6 0zm2 0zm2 0zm16 0zm3 0zm8 0zm8 0zm13 0zm12 0zm14 0zm25 0zm15 0zm65 0zm-37 24zm-33 0zm-21 0zm-8 0zm-9 0zm-7 0zm-12 0zm-12 0zm-5 0zm-9 0zm-8 0zm-6 0zm-6 0zm-11 0zm-5 0zm-11 28zm1 0zm4 0zm2 0zm6 0zm9 0zm3 0zm1 0zm2 0zm7 0zm5 0zm8 0zm4 0zm14 0zm19 0zm7 0zm6 0zm162 35zm-143 0zm-28 0zm-35 0zm-5 0zm-5 0zm-4 0zm-6 0zm-4 0zm-4 0zm-4 0zm-4 0zm-13 0zm-4 0zm-5 0zm11 44zm8 0zm9 0zm2 0zm4 0zm2 0zm22 0zm21 0zm14 0zm6 0zm4 0zm17 0zm3 0zm63 0zm-42 63zm-50 0zm-10 0zm-6 0zm-1 0zm-12 0zm-6 0zm-2 0zm-11 0zm-10 0zm-3 0zm-1 0zm-12 0zm-5 0z" stroke="#ff0000" stroke-width="2.8" stroke-linecap="square" fill="none"/>
<path transform="scale(.5)" d="M2742 581zm10-3zm57 0zm11 3zm38-3zm24 0zm11 0zm9 0zm19 0zm0 3zm17 0zm3-3zm2 3zm5-3zm5 3zm3 0zm6 0zm8-3zm2 3zm7-3zm2 3zm3 0zm-1 5zm-3 0zm-2 3zm-1-3zm0-2zm-2 2zm0-2zm-3 0zm-1 5zm-1-3zm-1 0zm-1-2zm-1 0zm-2 5zm-1-5zm-3 5zm-2-5zm-1 5zm-1-3zm-2 0zm-1-2zm-2 2zm-1-2zm-6 5zm-12-5zm-9 2zm-5 3zm0-3zm-3 0zm-7 3zm-5 0zm-3-3zm-6 0zm-4-2zm-3 5zm-1-3zm-15-2zm-10 0zm-18 5zm-3-3zm-5 3zm-37-5zm-34 0zm-103 0zm20 11zm146 0zm23 2zm10-2zm20-3zm1 5zm4-2zm2-3zm5 3zm0 2zm4 0zm8-5zm3 0zm1 3zm4 2zm1-2zm11 0zm0 2zm2 0zm2 0zm3-2zm4 2zm4-5zm2 5zm2-5zm1 0zm1 5zm3 0zm5-2zm2 0zm5 0zm3 2zm3-2zm2 2zm1-5zm0 3zm1-3zm0 3zm1 2zm4-5zm0 3zm1 2zm2-2zm3 8zm-1 0zm-1-3zm-2 0zm-1 3zm-4-3zm-1 3zm-6 3zm0-3zm-4 0zm-2-3zm-4 6zm0-6zm-4 0zm-2 6zm0-3zm-4 3zm0-6zm-2 0zm-5 0zm-2 3zm-3-3zm-1 6zm-7 0zm-1-6zm-4 6zm-8 0zm-22-6zm-6 3zm-8 3zm-7-6zm-3 6zm-14-6zm-3 6zm-3 0zm-80-6zm-21 3zm-17 10zm56-3zm72 0zm14 3zm22-3zm2 3zm6-3zm12 0zm5 0zm4 0zm0 3zm4-3zm4 0zm7 0zm1 3zm3-3zm0 3zm6 0zm6-3zm1 0zm1 3zm3-3zm7 0zm0 3zm1 0zm1-3zm2 0zm6 0zm2 3zm4-3zm2 0zm-3 9zm-4 4zm0-7zm-1 7zm-3-7zm-2 3zm0-3zm-4 7zm0-4zm-3-3zm-2 7zm-4-7zm-1 0zm-4 7zm0-4zm-3 4zm-1-7zm-5 7zm-9-4zm-1-3zm-3 0zm-11 7zm-1-4zm-2 0zm-6-3zm-5 3zm-11 4zm0-7zm-12 0zm-2 7zm0-4zm-12 4zm-2-4zm-22-3zm-28 7zm-3-7zm-6 7zm-34-7zm-3 7zm-29-4zm-31 4zm138 3zm3 4zm17 0zm4 0zm15-4zm17 0zm4 4zm9-4zm7 0zm10 0zm15 0zm6 0zm2 4zm3 0zm2-4zm3 0zm4 0zm4 0zm2 4zm3-4zm-3 11zm-5 0zm-3-4zm-2 0zm-1 4zm-2 0zm-4-4zm-2 0zm-1 4zm-2-4zm-1 4zm-2-4zm-6 4zm-7 0zm-11 0zm-3 0zm-4-4zm-4 0zm-10 0zm-8 0zm-3 0zm-5 4zm-23 0zm0-4zm-11 4zm-38-4zm-31 0zm-41 0zm41 8zm52 4zm17-4zm12 0zm31 0zm15 0zm11 0zm0 4zm1-4zm6 0zm10 0zm6 0zm2 4zm3-4zm1 0zm2 4zm2-4zm2 0zm3 0zm1 4zm5-4zm0 4zm3-4zm0 4zm3-4zm3 8zm-1 0zm-1 4zm-4 0zm-2-4zm-1 4zm-1-4zm-3 0zm-3 0zm-3 4zm-3-4zm-5 0zm-4 4zm-1-4zm-8 4zm-5 0zm0-4zm-8 0zm-9 4zm-7 0zm-4-4zm-1 4zm-5 0zm-9 0zm-8-4zm-5 4zm0-4zm-5 0zm-3 4zm-23 0zm-10-4zm-17 4zm-7-4zm-17 0zm-35 4zm-22 0zm-1-4zm-10 0zm-14 4zm0-4zm100 13zm17 0zm15 0zm3 0zm21 0zm21 0zm2-5zm6 0zm14 0zm3 0zm3 0zm5 5zm2-5zm4 0zm4 5zm9-5zm1 5zm12 0zm2-5zm7 0zm4 5zm3-5zm1 5zm2 0zm3-5zm-5 14zm-4 0zm0-5zm-5 0zm-3 0zm-1 5zm-2-5zm-1 5zm-10 0zm0-5zm-5 5zm-3 0zm-2-5zm-1 5zm0-5zm-5 5zm-5 0zm-11 0zm-1-5zm-31 0zm-28 0zm-16 0zm-33 0zm-128 9zm12 0zm157 0zm11 0zm9 0zm6 0zm17 0zm13 0zm3 0zm4 0zm26 0zm5 0zm5 0zm4 0zm8 0zm2 0zm2 0zm3 0zm5 0zm3 0zm1 10zm-3 0zm-3-5zm-1 5zm-2-5zm-1 5zm-2 0zm0-5zm-3 0zm-2 5zm0-5zm-2 5zm-1-5zm-10 0zm-2 5zm-4 0zm0-5zm-5 0zm-8 0zm-3 5zm-9 0zm-6-5zm-1 5zm-3-5zm-3 5zm-13 0zm-3-5zm-4 5zm-62 0zm-34 0zm27 6zm40 0zm34 0zm3 0zm4 0zm2 0zm6 0zm8 0zm2 0zm2 0zm3 0zm8 0zm8 0zm4 0zm5 0zm4 0zm1 0zm2 0zm4 0zm2 0zm5 0zm11 0zm4 5zm-2 6zm-1-6zm-3 6zm0-6zm-2 6zm-5 0zm-1 0zm-2-6zm-4 0zm-1 6zm-5-6zm-1 0zm-2 6zm-6 0zm-4 0zm-2-6zm-1 6zm-6-6zm-10 6zm-2 0zm-14 0zm-5-6zm-2 0zm-11 0zm-2 6zm-8-6zm-17 0zm-3 0zm-2 6zm-4 0zm-8-6zm-7 6zm-16-6zm-6 6zm-5 0zm-3-6zm-39 0zm-20 0zm-52 6zm-31 0zm183 6zm22 0zm5 0zm2 0zm4 0zm7 0zm18 0zm6 0zm4 0zm10 0zm6 0zm1 0zm6 0zm5 0zm6 0zm3 0zm3 0zm3 0zm9 0zm1 0zm2 6zm-1 0zm-3 0zm-5 0zm-5 0zm-2 0zm-8 0zm-2 0zm-3 0zm-2 0zm-15 0zm-12 0zm-22 0zm-7 0zm-1 0zm-22 0zm-46 0zm-52 0zm-114 6zm37 6zm76 0zm21 0zm28 0zm1 0zm25 0zm5-6zm0 6zm2-6zm9 6zm6 0zm3-6zm4 0zm2 6zm5-6zm3 6zm6-6zm1 6zm3-6zm5 6zm1-6zm4 0zm4 6zm1-6zm16 0zm1 0zm0 6zm6 0zm1 0zm1-6zm1 0zm12 0zm1 6zm6 0zm1-6zm5 0zm5 0zm1 6zm3-6zm1 6zm3-6zm2 0zm3 0zm-4 13zm-1 0zm-3 0zm-5 0zm-7 0zm-5 0zm-2 0zm-5 0zm-3 0zm-5 0zm-1 0zm-4 0zm-2 0zm-21 0zm-2 0zm-12 0zm-5 0zm-8 0zm-26 0zm-40 0zm-4 0zm-5 0zm-16 0zm-105 0zm80 8zm17 0zm73 0zm11 0zm30 0zm12 0zm4 0zm4 0zm7 0zm3 0zm9 0zm13 0zm2 0zm8 0zm6 0zm3 0zm6 7zm-3 0zm-4 0zm-4 0zm-2 0zm-4 0zm-3 0zm-7 0zm-5 0zm-2 0zm-8 0zm-10 0zm-13 0zm-4 0zm-7 0zm-27 0zm-8 0zm-28 0zm-45 0zm-115 0zm5 8zm25 0zm4 0zm97 0zm14 0zm15 0zm1 0zm9 0zm7 0zm13 0zm7 0zm16 0zm4 0zm2 0zm24 0zm13 0zm10 0zm10 0zm4 0zm5 0zm2 0zm5 0zm3 0zm5 0zm2 8zm-7 0zm-5 0zm-5 0zm-1 0zm-8 0zm-1 0zm-8 0zm-11 0zm-8 0zm-10 0zm-9 0zm-2 0zm-10 0zm-8 0zm-9 0zm-20 0zm-14 0zm-8 0zm-10 0zm-5 0zm-47 0zm-14 0zm-7 0zm-1 0zm81 9zm1 0zm72 0zm8 0zm7 0zm1 0zm3 0zm2 0zm4 0zm8 0zm4 0zm7 0zm1 0zm5 0zm5 0zm6 0zm3 0zm3 0zm0 10zm-5 0zm-3 0zm-5 0zm-2 0zm-1 0zm-3 0zm-4 0zm-3 0zm-3 0zm-5 0zm-9 0zm-6 0zm-9 0zm-9 0zm-5 0zm-9 0zm-2 0zm-20 0zm-13 0zm-43 0zm-37 0zm-9 0zm-26 0zm-106 0zm93 10zm10 0zm91 0zm25 0zm39 0zm4 0zm4 0zm9 0zm6 0zm5 0zm6 0zm3 0zm3 0zm2 0zm3 0zm8 0zm4 0zm3 0zm6 0zm2 0zm5 0zm2 0zm7 0zm3 0zm2 0zm2 0zm-3 10zm-5 0zm-1 0zm-6 0zm-6 0zm-5 0zm-1 0zm-5 0zm-4 0zm-7 0zm-1 0zm-14 0zm-8 0zm-7 0zm-6 0zm-4 0zm-9 0zm-3 0zm-5 0zm-15 0zm-7 0zm-15 0zm-12 0zm-58 0zm-9 0zm-17 12zm66 0zm34 0zm29 0zm13 0zm2 0zm4 0zm3 0zm24 0zm9 0zm19 0zm2 0zm3 0zm3 0zm3 0zm3 0zm1 0zm4 0zm3 0zm2 12zm-6 0zm-3 0zm-1 0zm-5 0zm-5 0zm-2 0zm-3 0zm-8 0zm-9 0zm-5 0zm-4 0zm-1 0zm-21 0zm-14 0zm-39 0zm-34 0zm-79 0zm-23 0zm-39 0zm-6 0zm96 14zm23 0zm41 0zm13 0zm33 0zm5 0zm15 0zm5 0zm3 0zm3 0zm2 0zm11 0zm5 0zm18 0zm14 0zm3 0zm7 0zm1 0zm5 0zm1 0zm4 0zm3 0zm0 14zm-7 0zm-1 0zm-3 0zm-2 0zm-4 0zm-5 0zm-3 0zm-7 0zm-11 0zm-19 0zm-11 0zm-13 0zm-9 0zm-10 0zm-1 0zm-5 0zm-16 0zm-6 0zm-41 0zm-38 17zm36 0zm2 0zm4 0zm2 0zm13 0zm15 0zm11 0zm7 0zm3 0zm10 0zm3 0zm13 0zm3 0zm22 0zm6 0zm8 0zm1 0zm5 0zm2 0zm7 0zm5 0zm2 0zm3 0zm13 0zm7 0zm3 0zm2 0zm-10 18zm-5 0zm-6 0zm-4 0zm-3 0zm-1 0zm-3 0zm-3 0zm-24 0zm-9 0zm-21 0zm-14 0zm-119 20zm30 0zm35 0zm34 0zm7 0zm29 0zm6 0zm15 0zm16 0zm3 0zm3 0zm4 0zm1 0zm4 0zm1 0zm10 0zm2 0zm5 0zm-3 24zm-2 0zm-2 0zm-4 0zm-4 0zm-9 0zm-4 0zm-10 0zm-3 0zm-2 0zm-9 0zm-4 0zm-5 0zm-5 0zm-8 0zm-21 0zm-5 0zm-43 0zm-36 0zm-157 0zm100 28zm67 0zm62 0zm40 0zm18 0zm37 0zm4 0zm4 0zm3 0zm4 0zm2 0zm4 0zm10 35zm-2 0zm-4 0zm-3 0zm-2 0zm-6 0zm-2 0zm-2 0zm-5 0zm-21 0zm-6 0zm-2 0zm-1 0zm-8 0zm-2 0zm-17 0zm-6 0zm-2 0zm-12 0zm-8 0zm-20 0zm-14 0zm-24 0zm-35 44zm11 0zm20 0zm3 0zm18 0zm19 0zm6 0zm7 0zm11 0zm9 0zm5 0zm25 0zm11 0zm5 0zm7 0zm6 0zm8 0zm4 0zm3 0zm6 0zm-13 63zm-4 0zm-2 0zm-3 0zm-2 0zm-3 0zm-2 0zm-5 0zm-6 0zm-6 0zm-4 0zm-1 0zm-10 0zm-16 0zm-2 0zm-2 0zm-7 0zm-8 0zm-5 0zm-12 0zm-81 0zm-33 0zm-76 0zm-42 0z" stroke="#0000ff" stroke-width="2.8" stroke-linecap="square" fill="none"/>
<path d="M1264.3 149.6H1752.6" stroke="#9a9a9a" stroke-width="2.3" stroke-dasharray="10 9.2" fill="none"/>
<path d="M1264.3 257.8H1752.6" stroke="#9a9a9a" stroke-width="2.3" stroke-dasharray="10 9.2" fill="none"/>
<text x="1257.1" y="74.1" font-size="24.6" text-anchor="end">3y</text>
<text x="1257.1" y="105.4" font-size="24.6" text-anchor="end">2y</text>
<text x="1257.1" y="159" font-size="24.6" text-anchor="end">1y</text>
<text x="1257.1" y="212.6" font-size="24.6" text-anchor="end">1/2y</text>
<text x="1257.1" y="267.2" font-size="24.6" text-anchor="end">90d</text>
<text x="1257.1" y="352.1" font-size="24.6" text-anchor="end">30d</text>
<text x="1257.1" y="437" font-size="24.6" text-anchor="end">10d</text>
<text x="1257.1" y="490.6" font-size="24.6" text-anchor="end">5d</text>
<text x="1257.1" y="561.4" font-size="24.6" text-anchor="end">2d</text>
<text x="1264" y="584.6" font-size="24.6" text-anchor="middle">-120</text>
<text x="1341" y="584.6" font-size="24.6" text-anchor="middle">-80</text>
<text x="1422.6" y="584.6" font-size="24.6" text-anchor="middle">-40</text>
<text x="1497" y="584.6" font-size="24.6" text-anchor="middle">0</text>
<text x="1581.5" y="584.6" font-size="24.6" text-anchor="middle">40</text>
<text x="1663.6" y="584.6" font-size="24.6" text-anchor="middle">80</text>
<text x="1749" y="584.6" font-size="24.6" text-anchor="middle">120</text>
<text x="1508" y="619.2" font-size="27.3" text-anchor="middle">SSHA (cm)</text>
<text font-size="27.3" text-anchor="middle" transform="translate(1201.6 308.8) rotate(-90)">Lifespan</text>
<text x="1177.8" y="27.1" font-size="30.6" font-weight="bold" fill="#000">C</text>
<text x="1227.4" y="27.1" font-size="34.3" class="se" fill="#000">Lifespan</text>
<path d="M197.1 747.6V1200.3M272.6 747.6V1200.3M348 747.6V1200.3M423.5 747.6V1200.3M499 747.6V1200.3M121.6 776.6H574.5M121.6 814.9H574.5M121.6 843.9H574.5M121.6 882.3H574.5M121.6 911.3H574.5M121.6 940.3H574.5M121.6 1007.6H574.5M121.6 1104H574.5" stroke="#e7e7e7" stroke-width="1" fill="none"/>
<path d="M121.6 1171.3H574.5M121.6 1154.3H574.5M121.6 1142.3H574.5M121.6 1133H574.5M121.6 1125.3H574.5M121.6 1118.9H574.5M121.6 1113.3H574.5M121.6 1108.4H574.5M121.6 1075H574.5M121.6 1058H574.5M121.6 1046H574.5M121.6 1036.6H574.5M121.6 1029H574.5M121.6 1022.5H574.5M121.6 1017H574.5M121.6 1012H574.5M121.6 978.6H574.5M121.6 961.7H574.5M121.6 949.6H574.5M121.6 940.3H574.5M121.6 932.7H574.5M121.6 926.2H574.5M121.6 920.6H574.5M121.6 915.7H574.5M121.6 882.3H574.5M121.6 865.3H574.5M121.6 853.3H574.5M121.6 843.9H574.5M121.6 836.3H574.5M121.6 829.9H574.5M121.6 824.3H574.5M121.6 819.3H574.5M121.6 785.9H574.5M121.6 769H574.5M121.6 756.9H574.5" stroke="#eaeaea" stroke-width="1" stroke-dasharray="4 2 1.5 2" fill="none"/>
<path d="M348.1 770L348.1 771L348.1 772L348.1 773L348.1 774L348.1 775L348.1 776L348.1 777L348.1 778L348.1 779L348.1 780L348.1 781L348.1 782L348.1 783L348.1 784L348.1 785L348.1 786L348.1 787L348.1 788L348.1 789L348.1 790L348.1 791L348.1 792L348.1 793L348.1 794L348.1 795L348.1 796L348.1 797L348.1 798L348.1 799L348.1 800L348.1 801L348.1 802L348.1 803L348.1 804L348.1 805L348.1 806L348.1 807L348.1 808L348.1 809L348.1 810L348.1 811L348.1 812L348.1 813L348.1 814L348.1 815L348.1 816L348.1 817L348.1 818L348.1 819L348.1 820L348.1 821L348.1 822L348.1 823L348.1 824L348.1 825L348.1 826L348.1 827L348.1 828L348.1 829L348.1 830L348.1 831L348.1 832L348.1 833L348.1 834L348.1 835L348.1 836L348.1 837L348.1 838L348.1 839L348.1 840L348.1 841L348.1 842L348.1 843L348.1 844L348.1 845L348.1 846L348.1 847L348.1 848L348.1 849L348.1 850L348.1 851L348.1 852L348.1 853L348.1 854L348.1 855L348.1 856L348.1 857L348.1 858L348.1 859L348.1 860L348.1 861L348.1 862L348.1 863L348.1 864L348.1 865L348.1 866L348.1 867L348.1 868L348.1 869L348.1 870L348.1 871L348.1 872L348.1 873L348.1 874L348.1 875L348.1 876L348.1 877L348.1 878L348.1 879L348.1 880L348.1 881L348.1 882L348.1 883L348.1 884L348.1 885L348.1 886L348.1 887L348.1 888L348.1 889L348.1 890L348.1 891L348.1 892L348.1 893L348.1 894L348.1 895L348.1 896L348.1 897L348.1 898L348.1 899L348.1 900L348.1 901L348.1 902L348.1 903L348.1 904L348.1 905L348.1 906L348.1 907L348.1 908L348.1 909L348.1 910L348.1 911L348.1 912L348.1 913L348.1 914L348.1 915L348.1 916L348.1 917L348.1 918L348.1 919L348.1 920L348.1 921L348.1 922L348.1 923L348.1 924L348.1 925L348.1 926L348.1 927L348.1 928L348.1 929L348.1 930L348.1 931L348.1 932L348.1 933L348.1 934L348.1 935L348.1 936L348.1 937L348.1 938L348.1 939L348.1 940L348.1 941L348.1 942L348.1 943L348.1 944L348.1 945L348.1 946L348.1 947L348.1 948L348.1 949L348.1 950L348.1 951L348.1 952L348.1 953L348.1 954L348.1 955L348.1 956L348.1 957L348.1 958L348.1 959L348.1 960L348.1 961L348.1 962L348.1 963L348.1 964L348.1 965L348.1 966L348.1 967L348.1 968L348.1 969L348.1 970L348.1 971L348.1 972L348.1 973L348.1 974L348.1 975L348.1 976L348.1 977L348.1 978L348.1 979L348.1 980L348.1 981L348.1 982L348.1 983L348.1 984L348.1 985L348.1 986L348.1 987L348.1 988L348.1 989L348.1 990L348.1 991L348.1 992L348.1 993L348.1 994L348.1 995L348.1 996L348.1 997L348.1 998L348.1 999L348.1 1000L348.1 1001L348.1 1002L348.1 1003L348.1 1004L348.1 1005L348.1 1006L348.1 1007L348.1 1008L348.1 1009L348.1 1010L348.1 1011L348.1 1012L348.1 1013L348.1 1014L348.1 1015L348.1 1016L348.1 1017L348.1 1018L348.1 1019L348.1 1020L348.1 1021L348.1 1022L348.1 1023L348.1 1024L348.1 1025L348.1 1026L348.1 1027L348.1 1028L348.1 1029L348.1 1030L348.1 1031L348.1 1032L348.1 1033L348.1 1034L348.1 1035L348.1 1036L348.1 1037L348.1 1038L348.1 1039L348.1 1040L348.1 1041L348.1 1042L351.7 1042L352.5 1041L353 1040L352.9 1039L352 1038L353 1037L352.7 1036L352.3 1035L353 1034L353.8 1033L353.5 1032L353.7 1031L353.5 1030L355.4 1029L354.2 1028L354 1027L354.8 1026L354.7 1025L354.9 1024L355.4 1023L355.5 1022L355.1 1021L355.8 1020L356.5 1019L356.5 1018L355.6 1017L356.5 1016L356.5 1015L356.8 1014L355.6 1013L357.7 1012L356.9 1011L357.9 1010L356.9 1009L358 1008L358.2 1007L357.3 1006L357.8 1005L357.4 1004L357.2 1003L357.9 1002L357.9 1001L358 1000L358.3 999L358.4 998L359.6 997L360.4 996L358.4 995L359.7 994L360.8 993L359.1 992L359.4 991L360.9 990L359.5 989L361.5 988L359.9 987L360.8 986L360 985L360.3 984L361.8 983L361.7 982L361.3 981L362.6 980L361.1 979L363 978L362.9 977L363.3 976L361.7 975L363.9 974L364.3 973L364.7 972L364.6 971L364.7 970L364.1 969L366.4 968L366.8 967L365.3 966L366.2 965L367.5 964L368.2 963L367.6 962L370 961L369.2 960L369.3 959L370.9 958L371.9 957L370.6 956L370.8 955L371.6 954L372.6 953L374 952L374.2 951L374.5 950L373.4 949L375.6 948L373.9 947L374.7 946L374.5 945L375.1 944L377 943L376.3 942L377.3 941L377.5 940L377.8 939L376.9 938L377 937L377.7 936L377.9 935L377.3 934L377.2 933L379.3 932L379.7 931L377.8 930L379.3 929L379.2 928L378.6 927L379.5 926L380 925L380.6 924L380 923L379.8 922L381.9 921L382.3 920L381 919L381.3 918L382.3 917L383.2 916L382.4 915L383.8 914L383.9 913L383.3 912L383.4 911L383.2 910L384.5 909L383.7 908L384.1 907L384.7 906L386 905L384.9 904L385.2 903L384.2 902L384.8 901L384.5 900L384.9 899L385.5 898L385.2 897L386.1 896L385.8 895L384.1 894L384.1 893L385.7 892L384.5 891L385.2 890L384.5 889L384.9 888L384.4 887L383.1 886L384.8 885L383.5 884L383.7 883L384.3 882L383.9 881L383.2 880L382.5 879L383.1 878L382 877L382.6 876L381.3 875L382.1 874L382.4 873L382.4 872L382.2 871L381.4 870L381.9 869L380 868L380.6 867L379.6 866L380.2 865L379.5 864L378.4 863L378.8 862L378.1 861L377.4 860L376.1 859L375.6 858L375.5 857L374.8 856L375.9 855L373.7 854L373.9 853L373.6 852L372.7 851L372.6 850L370.9 849L370.5 848L371 847L370.6 846L370.3 845L368.1 844L368.9 843L368.3 842L367.4 841L366.4 840L367.9 839L367.6 838L366.9 837L365.9 836L365.6 835L364.6 834L363.9 833L365.2 832L363.6 831L365 830L363.1 829L364 828L362.9 827L363.6 826L362.9 825L363.1 824L362.2 823L362.9 822L361.9 821L361 820L362.8 819L362.5 818L362 817L361.7 816L361.8 815L359.8 814L360.4 813L359.7 812L358.6 811L360.3 810L358.8 809L358.4 808L358 807L357.9 806L357.5 805L357.6 804L358.1 803L356.4 802L357.9 801L356.6 800L356.3 799L356.6 798L356.9 797L356.6 796L356.2 795L356 794L356.1 793L356.2 792L356 791L356.1 790L355.9 789L354.8 788L354.3 787L355 786L354.5 785L354.2 784L354.5 783L354.2 782L352.6 781L352.9 780L352 779L351.8 778L352.6 777L352.6 776L351 775L352.2 774L351 773L352 772L352.2 771L351.1 770Z" fill="#ff0000"/>
<path transform="scale(.5)" d="M710 1499zm-6 12zm-4-1zm-3 8zm1 0zm5 1zm8-4zm2 2zm-7 9zm-4-1zm-3 1zm-2 3zm1 0zm0 5zm1 1zm1-7zm1 4zm3-3zm20 9zm-1 2zm-11 3zm0-2zm0-5zm-4 5zm-3-3zm-3-2zm-3 4zm-1-2zm0-2zm-1 2zm9 11zm1-5zm4 6zm3 1zm2-7zm6 2zm0 4zm2 1zm1-4zm11 6zm-11 6zm-5-6zm-2 4zm-1 0zm0-1zm0-1zm-5 0zm-3 3zm0-1zm-1-3zm0-1zm-1-1zm-1 5zm-3 0zm3 6zm1-1zm5-2zm0 3zm0 4zm1-5zm0 4zm3-4zm0 5zm4-4zm1-1zm1 0zm3 2zm5 1zm6-1zm5-2zm13 1zm-20 9zm-1-3zm-1-1zm-10 6zm-5 0zm-2-2zm0-1zm0-1zm-2 2zm-2 1zm0-1zm-1-3zm-1 6zm0-1zm3 4zm1 0zm2-2zm1 1zm1 2zm2 2zm1 0zm6 0zm1 1zm1-3zm2 1zm23 9zm-11 1zm0-5zm-2 4zm-1-4zm-4 2zm-3-1zm-4 1zm-2 2zm0-1zm-5-1zm-4 2zm-1-2zm-3-3zm1 14zm1 1zm2-4zm0 3zm2-1zm2-1zm1-4zm0 4zm2 2zm7-6zm6 0zm4 2zm1 2zm0 1zm4-3zm14 5zm8 0zm30 2zm-24 0zm-17 0zm-11 6zm-8-5zm-3 3zm0-5zm-8 5zm-3-2zm-2 3zm-4 0zm-1 0zm-2 0zm-1 1zm1 5zm3 2zm2-2zm3 3zm3-7zm1 6zm2-3zm1 2zm1-1zm2-3zm3 2zm2 2zm0 1zm0 1zm4 0zm8-2zm6-3zm38 5zm18-1zm18-4zm20 1zm-5 5zm-33 6zm-27 1zm-12-5zm-3 0zm-5 5zm-2-7zm-4 2zm-2-1zm-2 3zm-8 1zm0-4zm-1 3zm-3-4zm-2 2zm-1 5zm0-4zm-2-2zm-9 3zm0-4zm-1 6zm-1-5zm-4 4zm0-2zm-1 0zm-1-1zm-2 3zm0-4zm2 12zm1-2zm4-1zm4 1zm1-2zm1-1zm0 4zm2 1zm0 2zm5-1zm1 1zm3-6zm3 3zm6 3zm2-5zm0 4zm1-2zm21 2zm0 1zm1-7zm4 0zm5 4zm78-1zm5 6zm-77 0zm-34 4zm-7 1zm0-6zm-6 6zm-2-5zm-2 6zm0-3zm-9-4zm-2 6zm-1-2zm0-2zm-5-1zm-1 2zm0 7zm0 5zm3-6zm2-1zm3 2zm4-2zm0 1zm0 1zm0 4zm1-2zm8 0zm1 1zm8 0zm2-5zm4 3zm1 4zm22-3zm5-3zm6 2zm44-3zm2 7zm13-1zm26-1zm-13 8zm-30-3zm-27 5zm-6 0zm-1 0zm-10-7zm-2 4zm-10-4zm-2 3zm-5-1zm-9 0zm-1 3zm-4-1zm-2 3zm-1-5zm-3 3zm-1-4zm-6 1zm-1 1zm0-1zm-1 3zm-3-1zm-1-4zm-1 3zm-2 0zm-1 2zm-1 1zm-1-4zm0-2zm-1 6zm0-3zm-1 1zm0-1zm0-2zm-3 1zm-1 0zm-1 1zm0 6zm2 1zm0 3zm0 1zm2-4zm1 5zm2-5zm0 2zm3-1zm1 2zm0 2zm1-4zm1 3zm2 0zm1-6zm3 0zm0 7zm8-7zm0 4zm1 3zm1-1zm6-5zm0 3zm1 2zm2 1zm2 0zm2 0zm2-2zm1-2zm9 3zm5-6zm9 4zm1-2zm100-2zm1 7zm27 8zm-54 0zm-40-3zm-3 1zm-4-5zm-4 2zm-9 4zm0-2zm-2 3zm-1-5zm-3 1zm0-3zm-2 3zm-13 2zm-2 2zm-7-2zm0-2zm-17-3zm-11 3zm0-1zm0-1zm-1 5zm0-6zm-4 6zm-2-1zm-2-2zm0-1zm-1-1zm-1 0zm0-1zm-1 4zm-1 3zm-1-2zm-2 0zm0-4zm-1 3zm-2-4zm-1 5zm-1-4zm8 11zm0 3zm1-3zm2 3zm2-5zm0 4zm4-5zm0 4zm2-5zm0 5zm1-1zm2-4zm0 3zm3-3zm7 3zm1-2zm0 4zm1-3zm0 3zm2-1zm1-3zm3 4zm7 1zm1-5zm1 6zm4-5zm1-1zm4 0zm0 1zm4-1zm1 6zm4-4zm0 4zm10-3zm18-3zm40 2zm2 3zm37-3zm7 2zm-33 7zm-6 0zm-28 2zm-9-2zm-15 1zm-1-4zm-8 1zm-4 4zm-3 0zm-1 1zm-8-4zm-5 2zm-3-2zm-2 1zm-4 1zm-1 2zm0-6zm-1 3zm0-1zm-3 0zm-6 0zm-1 1zm-3 0zm-2 3zm-3-2zm0-1zm-2 0zm-2 2zm-1-5zm-2 5zm0-4zm-1-1zm-2 1zm-1-2zm-3 2zm-1 3zm-1 0zm0-4zm0-1zm-1 7zm0-3zm0-1zm-1-2zm-2 4zm0-5zm-1 0zm-1 2zm0-2zm-1 2zm-1-1zm-1 2zm-1-2zm0-1zm-1 0zm-1 1zm0-1zm6 9zm1-1zm2 3zm1-3zm0 2zm1 5zm1-1zm0 1zm1-5zm1-1zm1 1zm0 3zm1-2zm0 1zm1-2zm1 4zm1 1zm4-2zm3-4zm2 4zm0 2zm4-6zm1 4zm5 0zm1-2zm1-1zm4 2zm3-1zm6 1zm1-4zm2 5zm3 2zm8-2zm1 1zm4-1zm0 1zm4 1zm2-2zm10-3zm6 0zm5-1zm0 3zm18 3zm50-3zm43 1zm3 0zm-34 7zm-24-3zm-29 6zm-13-1zm-22-5zm-1 4zm-1 2zm-7-5zm-7 0zm-1 0zm-1 3zm-1-2zm-5 4zm0-1zm-8-4zm-2 0zm-11 2zm-1-4zm-1 1zm-1 5zm-4 0zm0-6zm-1 3zm-2 4zm0-2zm0-2zm-1 4zm0-4zm-1-3zm-2 6zm-4 0zm-1-5zm-2 5zm0-2zm-1 2zm0-4zm0-2zm-1 5zm0-5zm-1 1zm0-1zm-2 1zm-1 1zm-1 1zm-3 2zm0-3zm0-2zm-1 6zm0-6zm-3 1zm-1 1zm-1 0zm0-2zm8 8zm0 4zm2-2zm1-1zm1 0zm1 1zm0 4zm1-1zm1-4zm3-1zm1 3zm1-1zm0 5zm2-2zm2-1zm0 1zm1-5zm1 2zm0 1zm0 3zm2-4zm1-2zm0 5zm1-5zm2 7zm2-7zm0 1zm1 2zm2 0zm3 0zm1 1zm0 2zm3-4zm3 5zm1 0zm1-3zm2-4zm0 7zm1-4zm1 1zm3 1zm4-1zm1 3zm2-3zm1 0zm0 2zm0 1zm1-6zm0 5zm2-3zm2-3zm4 4zm1 1zm2-5zm21 1zm11-1zm0 5zm1-4zm2 2zm5-3zm8 5zm5-4zm16 0zm38 6zm37 6zm-25 1zm-38-4zm-26 0zm-5 2zm-7-3zm-1 5zm-4-4zm-12 1zm-1 1zm-5-3zm-6 5zm-2-3zm-7 0zm-7-1zm-17 4zm-3-2zm-1-1zm-6-1zm-3 4zm-1-6zm-1 6zm-2-5zm-2 1zm-2 2zm0-3zm-1 5zm-2-2zm-2 2zm0-4zm-3 3zm-2 0zm0-2zm-2 3zm0-1zm0-1zm-4 2zm0-4zm-1 5zm0-5zm-1 0zm0-1zm0-1zm-2 3zm0-3zm-1 7zm0-4zm0-1zm-3 3zm-3-3zm0-2zm6 8zm0 2zm1-2zm0 1zm1 1zm0 3zm0 2zm1-4zm1 2zm1 0zm1-3zm0 4zm0 1zm2-2zm1-5zm1 1zm1 5zm3 1zm1-3zm0 3zm3-1zm2-1zm0 1zm2-4zm5 1zm0 2zm2-1zm3 2zm1-5zm2 6zm2-6zm1 3zm2 2zm4-2zm7 2zm4-2zm1 3zm2-3zm1 3zm1-7zm0 4zm1-1zm2-1zm1 0zm5 4zm2-6zm0 1zm7-1zm9 0zm11 0zm1 4zm5 2zm7-6zm4 2zm9 5zm6-7zm3 0zm6 4zm26 0zm42 11zm-9-1zm-18-4zm-39 3zm-1 0zm-3 1zm-3 1zm-8-1zm-3-5zm-7 5zm-6-6zm-2 2zm-16 3zm-5-2zm-4 0zm-3 2zm-1-2zm-7 0zm0-1zm-4-1zm-2 4zm-1-5zm-9 7zm-2-2zm-1-1zm0-4zm-7 7zm-6-1zm0-4zm-1-2zm-4 3zm0-2zm-5 0zm-3 2zm-4 3zm-1 0zm-1-2zm-1 0zm-2-2zm-1 1zm-3 2zm-1 0zm-2 0zm-1 2zm-1-3zm-2 2zm0-3zm0-1zm-1 2zm0-1zm0-1zm-2 0zm0-1zm-1 3zm0-2zm0-2zm2 12zm2 0zm1-3zm5 1zm1-1zm4 0zm1 1zm1-2zm0 6zm1 0zm3-3zm4 2zm1-3zm2-1zm2 3zm3-4zm1 4zm1-4zm0 2zm1-1zm0 5zm4-4zm8-1zm0 3zm2 2zm2 1zm2-7zm2 7zm5-2zm1-1zm2-1zm8-1zm18-1zm7 4zm4 0zm11-5zm2 0zm0 7zm3-4zm34-3zm50 14zm-44-5zm-27 6zm0-2zm-2-3zm-16-1zm-12 2zm0-3zm-2 3zm-10 4zm-5-4zm-1 3zm-3 0zm0-5zm-1 5zm0-3zm-2 0zm-1 2zm-1-1zm-2-2zm-3 1zm-8 2zm-2-5zm-5 3zm-1 1zm0-2zm-1-1zm-1 4zm-7-2zm-4 0zm-1 0zm-1-2zm-1 3zm0-1zm0-3zm-2 5zm-3-1zm-2 0zm-3 0zm-1 2zm0-2zm-1 3zm0-3zm-1 1zm-1 1zm-2-3zm-1 3zm-1-6zm-1 5zm0-1zm0-3zm-1 1zm-1 0zm-1 5zm0-1zm0-5zm-1 1zm-2 5zm-3-1zm-1 0zm-1-6zm-1 5zm0-2zm-1 8zm1-1zm1 3zm3-4zm0 3zm1 1zm0 1zm1-4zm0 1zm1-3zm0 4zm0 1zm0 1zm2-3zm1-1zm2 0zm0 5zm2-4zm1 0zm1-2zm1-1zm0 2zm1 1zm1 4zm1-6zm3 2zm1-2zm3 6zm1-4zm2-2zm0 6zm4-2zm4-4zm3 6zm3-6zm0 5zm0 1zm1-5zm2-2zm0 2zm0 1zm4 4zm2-5zm2-1zm0 6zm8-5zm3 0zm4-2zm7 5zm10 0zm2-1zm2 2zm13-1zm9 1zm1-6zm2 1zm11 3zm27-2zm27 1zm34 3zm27-4zm-113 12zm-6-2zm-6-3zm-7 4zm-2-5zm-8 1zm-2 3zm-2-3zm-3 0zm-2 5zm-13-2zm-4-2zm-5 5zm0-1zm-2-5zm-1 6zm-3-3zm0-3zm-7 6zm0-1zm-3 0zm0-5zm-3 5zm-1-1zm-3-4zm-1 3zm-1 3zm0-6zm-4 0zm0-1zm-2 4zm-2 2zm-1-2zm-9-1zm-3 1zm0-1zm-1 3zm-1-1zm-2 2zm0-6zm-1 4zm-1 1zm0-3zm-1 4zm0-7zm-1 6zm-3-1zm-3 1zm0-2zm0-4zm-2 4zm-2 3zm0-4zm-1 3zm0-1zm-1 1zm0-1zm-3 8zm1-2zm0 1zm2-4zm0 2zm1 1zm2-2zm1-1zm0 7zm3-5zm2-2zm1 5zm1 0zm1-5zm0 6zm3 1zm1-7zm3 4zm3 0zm11-2zm2 1zm2 0zm1 3zm8-2zm2-2zm1-1zm1 4zm1 1zm5-5zm3 1zm3 5zm1-7zm3 2zm1-2zm5 3zm2 1zm4-3zm12 4zm8 0zm18-3zm6 3zm5 0zm1 1zm22-2zm28 0zm17-2zm34 7zm-33-1zm-64 2zm-22 4zm-3-4zm-4 4zm0-2zm-4 0zm-5 3zm-3-3zm0-4zm-4 7zm-1-2zm-2-5zm-1 6zm-9 1zm0-5zm-6 2zm-2-3zm-2-1zm-9 1zm-2 3zm-1-2zm-1 5zm0-3zm-1 3zm-1 0zm-5-6zm-1 6zm-1-7zm-6 1zm-2-1zm-3 7zm-4-4zm-1 3zm-1-6zm-4 7zm0-2zm0-2zm-1 0zm0-2zm-1 5zm-2-5zm-2-1zm-4 6zm-1-1zm0-3zm-1 2zm-1 3zm0-4zm-3 0zm-1 2zm-1 2zm0-2zm-2-3zm-1 3zm0-1zm-1 2zm0 5zm2 1zm3 0zm0 1zm2-4zm1 0zm0 2zm0 2zm1-5zm0 1zm0 2zm3 2zm1-2zm2 2zm1-4zm0 1zm0 1zm2 0zm0 4zm2-4zm1 1zm2 1zm1-3zm1 1zm0 1zm0 1zm1 2zm1-4zm2-3zm6 6zm0 1zm5-3zm2-1zm1 0zm0 1zm1-2zm0 1zm1 4zm2-6zm2 2zm3 0zm1 0zm2-2zm8 4zm8-1zm1 3zm7-5zm2 2zm5 3zm2-1zm3-6zm4 7zm9-4zm24-1zm16 0zm11 0zm17 6zm-9 3zm-47-3zm-2 7zm-4-1zm-6 0zm-1-6zm-11 6zm-6-4zm-2 2zm-5-4zm-2 6zm-7-6zm-6 5zm-8 1zm0-5zm-1 4zm-1 2zm-2-4zm-6 0zm-1 0zm-3 3zm-1-5zm-2 6zm-3 0zm0-3zm-6 1zm0-5zm-1 5zm-1-2zm-1 3zm0-2zm-1 1zm-5 2zm-1-5zm-3 1zm-4-1zm-1-1zm-1 2zm-1-1zm0-2zm-2 4zm-1 2zm-1-3zm0-2zm0-1zm-2 1zm-1 3zm-2 2zm0 3zm3 5zm1 0zm1-1zm1-2zm1 2zm2-4zm1 0zm1-1zm0 6zm1-6zm6 4zm1-3zm2 2zm0 2zm3-4zm2 6zm3-4zm0 3zm2-4zm0 1zm1-2zm0 2zm2-3zm3 5zm1 0zm1-1zm0 3zm1-2zm0 2zm2 0zm1 0zm1-7zm1 2zm6 1zm0 4zm2-4zm1-2zm2 3zm3-4zm5 2zm2 3zm5 2zm1-3zm7-3zm3-1zm0 6zm2-2zm1-3zm1 2zm0 3zm6-5zm2 5zm2-3zm2 4zm1-5zm6 3zm7-3zm7 4zm48-3zm8 1zm27-4zm57 5zm47-1zm-83 8zm-56 0zm-15-1zm-30 0zm-5-3zm-17 5zm-4 1zm0-4zm-10 5zm-1-1zm-3 1zm0-5zm-11 4zm-2-5zm-2-1zm-5 7zm-10-3zm-5 2zm0-3zm-5 0zm0-1zm-1 0zm-3 1zm-1 4zm0-4zm-1 3zm-1 0zm-2-3zm-1 4zm-1 0zm0-1zm0-1zm-1-4zm-2 0zm-1 6zm0-5zm0-2zm-1 1zm0-1zm-1 6zm0-1zm-2 0zm0-4zm-2-1zm-1 4zm-1 1zm-1 0zm0-2zm-4-3zm-1 4zm-1-2zm-1 5zm0-2zm0-5zm-1 0zm-2 6zm-2-3zm-2 4zm0-7zm-4 5zm0-2zm-1 1zm0 6zm0 2zm0 2zm1-3zm0 4zm1-7zm0 6zm1-5zm1-1zm0 6zm1-6zm0 1zm0 5zm2-4zm0 2zm0 3zm3-6zm1 0zm1 1zm1 2zm1-2zm0 1zm1 0zm0 2zm1-2zm0 1zm1-3zm2 3zm1-4zm2 7zm2-7zm1 0zm0 6zm1-4zm7 3zm3-3zm0 4zm2-1zm4 1zm1 0zm7-1zm2 2zm3-5zm4 0zm5 0zm4-2zm4 5zm4 0zm1-3zm4 5zm3-7zm6 3zm1 1zm0 1zm7 2zm8-1zm4-6zm5 3zm1 3zm9-3zm41 1zm72 3zm65-6zm-33 8zm-143-1zm-5 0zm-29 7zm-4 0zm-2-5zm-4 4zm-3 1zm0-6zm-4 3zm-1-1zm0-3zm-5 0zm-6 0zm-6 0zm-9 4zm-2-4zm-1 6zm0-4zm-3 4zm0-3zm-8 4zm-2-4zm-1-1zm-3 2zm-1-2zm-1 0zm-2-2zm-2 7zm0-6zm-2 4zm0-4zm-1 4zm-1 1zm0-4zm-2 3zm-3-1zm-2 2zm-1-1zm-2-3zm-4 3zm0-1zm-1-2zm-2 2zm-2 0zm-1 3zm-3 6zm2-5zm1 7zm1-2zm1-2zm1-3zm0 1zm0 1zm2 1zm0 3zm1-3zm1-3zm0 1zm1 1zm0 4zm1 0zm2-5zm4 5zm2 0zm2-5zm2 5zm4-1zm2-4zm4 2zm2 1zm1-3zm0 3zm1 0zm1 3zm1-7zm1 0zm1 5zm1-5zm0 2zm3 4zm3-5zm4-1zm0 7zm6-4zm0 4zm2-6zm4 1zm6 4zm2-6zm11 7zm2-1zm1 1zm50-2zm30 2zm10-5zm7 4zm8 0zm19 1zm3-1zm-46 2zm-41 0zm-2 3zm-14 4zm-3-7zm-22 1zm-5 5zm-7-2zm-5 3zm0-3zm-6-2zm-1 3zm-4-2zm0-3zm-1 6zm-3-5zm-2 0zm-12 1zm0-1zm-2 2zm-3-1zm-2 2zm-3 0zm-1 2zm-1-2zm-2-3zm-2 0zm-1 6zm0-3zm-2-1zm0-2zm-1 5zm-1-4zm-3 1zm-1 4zm-1-6zm-3 3zm-1 2zm-2-5zm-1 4zm0-4zm-1 0zm-1 5zm0-6zm-2 3zm-1 4zm-1-1zm-3 1zm-2-1zm0-1zm-3 9zm7 1zm2-3zm1-1zm0 3zm3-2zm2-1zm0 3zm1-6zm1 4zm1 0zm0 2zm1 0zm1-6zm1 5zm0 1zm0 1zm1-2zm1-4zm1 1zm0 3zm1-4zm1 3zm6-2zm6-2zm0 6zm1-4zm4 5zm17-4zm12-3zm2 4zm7-4zm2 2zm10 3zm40-4zm4 5zm12-2zm56 4zm-86 6zm-12-4zm-1 4zm-15-6zm-22 2zm0-1zm-5 3zm-2-3zm-3 5zm0-2zm-7-4zm-2 0zm-1 1zm-7 0zm-1 4zm-1-2zm-6 1zm0-3zm-1 0zm-2 1zm-2-2zm-1 5zm0-2zm0-1zm-1 3zm-4 2zm-1-4zm-2-3zm-1 7zm0-4zm-2 4zm0-1zm0-1zm0-1zm0-3zm-2 1zm-1 4zm-2 0zm0-6zm-2 3zm-2-1zm-1 0zm0-1zm0-1zm-1 4zm0-2zm-3-2zm-1 4zm-1-1zm-1-1zm-3 7zm1 1zm1 5zm1-4zm0 4zm1-4zm0 1zm2-1zm1 1zm0 3zm1-7zm0 1zm0 4zm2-1zm1 2zm1-6zm0 1zm0 3zm0 3zm1-5zm0 3zm0 2zm2-4zm1-2zm0 2zm1-3zm1 3zm3 3zm0 1zm3-2zm2-4zm0 6zm2-5zm1 4zm2 1zm2-5zm3-1zm0 2zm10-3zm1 1zm2-1zm0 7zm3-6zm1 5zm2-1zm4-1zm16-2zm9 1zm36-2zm24 3zm31-2zm-51 8zm-2-1zm-10 4zm-38-2zm-1 4zm0-4zm-4-1zm-21-2zm-1 3zm0-1zm-2 3zm-2-1zm-2-4zm-2 4zm-3-3zm-4 0zm-3 4zm0-3zm-3 1zm-1 4zm-4-2zm-4 0zm-1 1zm-2-3zm-1 2zm-1-2zm-2 3zm0-2zm0-4zm-5 7zm0-4zm-2 0zm-2 0zm0-2zm3 10zm1 1zm1 3zm1 0zm2-3zm0 1zm1-4zm0 5zm2-6zm0 2zm1 0zm0 3zm1 0zm7-5zm1 3zm6 2zm0 1zm8-4zm0 2zm1-1zm4-2zm1 2zm4-2zm2-1zm2 2zm3 3zm8-3zm0 2zm30 0zm7-1zm9 1zm83 2zm36-6zm2 0zm-111 10zm-13-1zm-20 5zm-3-4zm-3 2zm-10-1zm-2 2zm-12-2zm-1 0zm-15 0zm-3 2zm-4-3zm-4 1zm-1 2zm-5-4zm-1 5zm0-5zm-1 1zm-1 4zm-1-1zm-3-3zm0-1zm-1 1zm0-2zm-1 4zm-6 3zm0-6zm-3 4zm0-4zm0-1zm-1 1zm-1 3zm-1 3zm0-6zm-1 3zm-2-3zm-1 2zm-1 8zm0 3zm2-5zm0 1zm1-1zm0 1zm1 4zm2-4zm1 4zm1-6zm0 5zm1-5zm8 4zm2-1zm1-2zm0 1zm1-2zm0 7zm2-6zm0 2zm8 3zm8-5zm2 0zm2 1zm8 1zm2-2zm0 1zm2 3zm8 1zm20-3zm18 2zm95-4zm35 4zm-76 3zm-89 1zm-16 3zm-3-2zm-6-1zm-3 4zm-1-3zm-3 2zm-1-3zm-10 3zm-1-1zm-1-2zm-4 3zm-1 3zm-1-2zm0-1zm0-2zm-1 5zm-1-4zm-1-3zm-1 3zm0-3zm-1 2zm-4 2zm0-1zm-1 2zm0-3zm-1 5zm0-6zm-1 4zm0-2zm0-1zm-1 2zm0-1zm0-2zm0-1zm-3 2zm-4 5zm-1-2zm-2 0zm0 6zm3 3zm1-6zm0 3zm1-3zm0 1zm0 1zm1 3zm2-1zm4 0zm1 2zm4-1zm1 2zm1-2zm1-1zm2-2zm3 3zm3 1zm2-5zm0 5zm1-2zm8 2zm2-5zm0 2zm6-1zm12 0zm21 2zm9-2zm38 1zm52 0zm-5 5zm-65 6zm-9-5zm-17 4zm-24-3zm-2 5zm-1-6zm-13 3zm-1 0zm-6 1zm-3-1zm-3-1zm-2 3zm-4-4zm-4 1zm-2 2zm0-5zm-1 0zm-2 0zm-1 4zm-1-2zm-2 0zm-1 2zm-3-3zm-2 3zm0-3zm-2 4zm0-3zm-1 0zm-2 5zm-2-1zm-4 1zm3 7zm4-1zm1-3zm0 1zm0 2zm2 0zm1 0zm1 0zm0 2zm2-5zm3-2zm0 5zm1-4zm0 4zm4-5zm1 1zm1 0zm3 0zm2 3zm1 0zm4-3zm2 1zm1 5zm5 0zm27-3zm57-1zm23-2zm38 5zm68-5zm-108 7zm-7 0zm-27 3zm-55 1zm-8-3zm-2 0zm-3 0zm-4 1zm-8-1zm-2 6zm-4-3zm0-3zm-5-1zm-1 5zm-1-2zm-4-2zm-1 3zm0-1zm-1 1zm-1 0zm-5 2zm-2 0zm0-1zm0-3zm-3-1zm-1 1zm-3 1zm-1 2zm-2 0zm-4 7zm1 2zm0 1zm6-4zm0 3zm1-3zm3-2zm3 0zm2 2zm0 4zm4-4zm0 3zm5-5zm6 0zm7 5zm1 0zm4 0zm6-4zm44 2zm67 2zm5-1zm9 1zm-57 8zm-28-1zm-22-5zm-8 4zm-9 0zm-1-1zm-13 1zm-7 2zm-4-4zm-2 5zm-1 0zm-6-2zm-3 0zm0-1zm-2 2zm0-1zm0-1zm0-2zm-2 3zm0-2zm0-3zm-3 6zm-3-1zm-1-5zm-1 7zm0-2zm-1-2zm-6 11zm5-2zm1-4zm0 5zm1 0zm2-1zm2 2zm2-3zm2 3zm1-3zm4 0zm2 2zm1 1zm2-1zm1-5zm10 0zm7 0zm6 5zm3 2zm18-3zm23-1zm7 10zm-7-4zm-43 3zm-13-2zm-5-1zm0-1zm-4 0zm-2 4zm-6 3zm0-7zm-5 6zm-2-2zm-1 0zm-2-1zm0-1zm-1 2zm-3 1zm0-3zm-1 4zm0-4zm-2 0zm-1-2zm-1 1zm-1 4zm0-5zm1 14zm6-4zm1 2zm2-1zm0 3zm1-3zm0 2zm3-5zm1 0zm2 6zm2-1zm1 2zm8-2zm8-1zm5 1zm1 1zm14-3zm17 0zm2-2zm86-1zm6 4zm-57 7zm-45 4zm-6 0zm-5-4zm-10-2zm-11 0zm-8 0zm-1 2zm0-2zm-7 5zm-2-3zm-5 0zm0-3zm-1 7zm-2-4zm-1-3zm-1 1zm-3 4zm0-5zm-2 7zm0-3zm-3 8zm2 1zm1-4zm1 0zm2-1zm1 2zm1 5zm2-4zm8 1zm3 1zm13 2zm1-7zm0 4zm8-3zm74 4zm-44 10zm-44-6zm-3-1zm-1 3zm-7-2zm-4 6zm-1-2zm-2-3zm-2 1zm-2 4zm0-3zm-2 3zm-1-5zm-1 5zm-1-5zm-1-2zm-2 3zm-2 2zm-1 2zm4 6zm2-2zm2 3zm1-6zm1 0zm0 6zm2 0zm3 1zm3-1zm9-1zm17 0zm8-1zm0 1zm-21 7zm-1-1zm-6 2zm-3 0zm-7 0zm0-1zm-3 1zm-1-5zm-1 5zm-4-1zm-1-4zm-1 7zm0-2zm0-3zm-1-1zm3 7zm4 5zm1-2zm5-3zm3 5zm4-3zm0 3zm11 0zm6-4zm7 1zm10 0zm60 2zm-37 6zm-66-1zm-2 3zm0-4zm-1 4zm-1-1zm-1 3zm-5-6zm-1 6zm-2-5zm-1 5zm-1 6zm0 1zm3-4zm0 6zm1 0zm1 0zm5-4zm2-1zm5 1zm2 4zm1 0zm1-5zm2 2zm1 2zm7 1zm19-5zm14 3zm29 9zm-70-2zm0-4zm-12 4zm-5 1zm-1-2zm-1 1zm-3-2zm-2-2zm-1 5zm-1 2zm0-2zm0 7zm1 0zm0 2zm2-4zm1 0zm3 5zm4-2zm2-1zm2-1zm1-2zm5 2zm5-2zm0 11zm-6-4zm-4 1zm-9 4zm0-1zm0-2zm-3-1zm-1 1zm-1 5zm0-1zm-2-1zm0-4zm-1 6zm0-5zm-1 5zm2 2zm2 2zm3-1zm0 4zm2 0zm2-6zm0 5zm1-3zm5 3zm6 2zm7 0zm0 5zm-17-1zm-2-2zm-4 4zm-2-1zm0-4zm-1 2zm-1 5zm0-4zm-4-2zm-4 5zm-3 0zm-2 3zm1 6zm1-4zm1-1zm0 5zm2-6zm4 2zm1-1zm2-2zm0 2zm0 3zm1-1zm2 0zm0 2zm4-5zm6 2zm17 4zm16 2zm-29 1zm-8 0zm-5 0zm0-2zm-1 2zm-3 4zm-1 0zm-1-4zm-2 5zm0-6zm-1 3zm-1-1zm-3 4zm0-1zm0-5zm-3 3zm0-2zm1 8zm1-2zm0 4zm3 1zm1-4zm1 2zm2 2zm4 1zm1-6zm0 2zm57 12zm-21 0zm-27-4zm-6 1zm-4 4zm0-3zm-3-4zm-1 3zm-1-2zm0-1zm-2 0zm-1 4zm-2 1zm-1-5zm-3 5zm2 3zm0 5zm1-5zm1 0zm1 6zm3-5zm9 6zm16-7zm-24 8zm-1 6zm-1-4zm-2 0zm-1 0zm-3 10zm17 2zm-10 13zm-8-2zm4 11zm12 0zm4-4zm0 1zm13 5zm-2 6zm-20 7zm3 2zm13 0zm-19 8zm-1 2zm0 4zm1 51zm-4 64z" stroke="#ff0000" stroke-width="3" stroke-linecap="square" fill="none"/>
<path d="M348.1 762L348.1 763L348.1 764L348.1 765L348.1 766L348.1 767L348.1 768L348.1 769L348.1 770L348.1 771L348.1 772L348.1 773L348.1 774L348.1 775L348.1 776L348.1 777L348.1 778L348.1 779L348.1 780L348.1 781L348.1 782L348.1 783L348.1 784L348.1 785L348.1 786L348.1 787L348.1 788L348.1 789L348.1 790L348.1 791L348.1 792L348.1 793L348.1 794L348.1 795L348.1 796L348.1 797L348.1 798L348.1 799L348.1 800L348.1 801L348.1 802L348.1 803L348.1 804L348.1 805L348.1 806L348.1 807L348.1 808L348.1 809L348.1 810L348.1 811L348.1 812L348.1 813L348.1 814L348.1 815L348.1 816L348.1 817L348.1 818L348.1 819L348.1 820L348.1 821L348.1 822L348.1 823L348.1 824L348.1 825L348.1 826L348.1 827L348.1 828L348.1 829L348.1 830L348.1 831L348.1 832L348.1 833L348.1 834L348.1 835L348.1 836L348.1 837L348.1 838L348.1 839L348.1 840L348.1 841L348.1 842L348.1 843L348.1 844L348.1 845L348.1 846L348.1 847L348.1 848L348.1 849L348.1 850L348.1 851L348.1 852L348.1 853L348.1 854L348.1 855L348.1 856L348.1 857L348.1 858L348.1 859L348.1 860L348.1 861L348.1 862L348.1 863L348.1 864L348.1 865L348.1 866L348.1 867L348.1 868L348.1 869L348.1 870L348.1 871L348.1 872L348.1 873L348.1 874L348.1 875L348.1 876L348.1 877L348.1 878L348.1 879L348.1 880L348.1 881L348.1 882L348.1 883L348.1 884L348.1 885L348.1 886L348.1 887L348.1 888L348.1 889L348.1 890L348.1 891L348.1 892L348.1 893L348.1 894L348.1 895L348.1 896L348.1 897L348.1 898L348.1 899L348.1 900L348.1 901L348.1 902L348.1 903L348.1 904L348.1 905L348.1 906L348.1 907L348.1 908L348.1 909L348.1 910L348.1 911L348.1 912L348.1 913L348.1 914L348.1 915L348.1 916L348.1 917L348.1 918L348.1 919L348.1 920L348.1 921L348.1 922L348.1 923L348.1 924L348.1 925L348.1 926L348.1 927L348.1 928L348.1 929L348.1 930L348.1 931L348.1 932L348.1 933L348.1 934L348.1 935L348.1 936L348.1 937L348.1 938L348.1 939L348.1 940L348.1 941L348.1 942L348.1 943L348.1 944L348.1 945L348.1 946L348.1 947L348.1 948L348.1 949L348.1 950L348.1 951L348.1 952L348.1 953L348.1 954L348.1 955L348.1 956L348.1 957L348.1 958L348.1 959L348.1 960L348.1 961L348.1 962L348.1 963L348.1 964L348.1 965L348.1 966L348.1 967L348.1 968L348.1 969L348.1 970L348.1 971L348.1 972L348.1 973L348.1 974L348.1 975L348.1 976L348.1 977L348.1 978L348.1 979L348.1 980L348.1 981L348.1 982L348.1 983L348.1 984L348.1 985L348.1 986L348.1 987L348.1 988L348.1 989L348.1 990L348.1 991L348.1 992L348.1 993L348.1 994L348.1 995L348.1 996L348.1 997L348.1 998L348.1 999L348.1 1000L348.1 1001L348.1 1002L348.1 1003L348.1 1004L348.1 1005L348.1 1006L348.1 1007L348.1 1008L348.1 1009L348.1 1010L348.1 1011L348.1 1012L348.1 1013L348.1 1014L348.1 1015L348.1 1016L348.1 1017L348.1 1018L348.1 1019L348.1 1020L348.1 1021L348.1 1022L348.1 1023L348.1 1024L348.1 1025L348.1 1026L348.1 1027L348.1 1028L348.1 1029L348.1 1030L348.1 1031L348.1 1032L348.1 1033L348.1 1034L348.1 1035L348.1 1036L348.1 1037L348.1 1038L348.1 1039L348.1 1040L348.1 1041L348.1 1042L348.1 1043L348.1 1044L348.1 1045L348.1 1046L348.1 1047L348.1 1048L344.2 1048L345.4 1047L344.8 1046L345 1045L343.3 1044L343.5 1043L344.2 1042L343.1 1041L342.3 1040L343.4 1039L343.2 1038L343.1 1037L343.1 1036L341.4 1035L342.1 1034L342.9 1033L341.9 1032L340.9 1031L341 1030L341.5 1029L341.6 1028L340.8 1027L341.9 1026L341.2 1025L341.7 1024L341.3 1023L341.2 1022L340.8 1021L340.7 1020L342.1 1019L340.9 1018L340.6 1017L342.1 1016L342 1015L341.8 1014L340.6 1013L339.6 1012L340.9 1011L340.5 1010L339 1009L339.8 1008L338.9 1007L339.3 1006L338.6 1005L340 1004L339.6 1003L337.3 1002L338.3 1001L337.6 1000L336.5 999L337.6 998L337.5 997L336.7 996L337.1 995L335 994L335.7 993L334.8 992L335.9 991L333.9 990L334.3 989L334.7 988L333.6 987L333.6 986L334.2 985L333.4 984L334.6 983L333.4 982L333.6 981L332.3 980L332.5 979L333.2 978L332.3 977L332.1 976L332.9 975L332.4 974L331.1 973L332.5 972L331.3 971L329.8 970L330.9 969L331 968L329.6 967L329.4 966L329.2 965L328.2 964L326.6 963L326.3 962L324.9 961L325.8 960L325 959L323.2 958L323.4 957L322.9 956L322 955L320.6 954L320.4 953L319.6 952L319.8 951L318.4 950L319 949L319.3 948L319.1 947L317.8 946L317.3 945L317.9 944L318 943L318 942L317.5 941L317.3 940L315.9 939L315.5 938L315.3 937L316.2 936L316.7 935L314.8 934L314.8 933L315.4 932L316.3 931L316.2 930L315.8 929L314.2 928L315.7 927L313.8 926L314 925L314.5 924L313.7 923L314.1 922L313.1 921L312.9 920L312.8 919L312 918L313.5 917L312.9 916L312 915L312 914L312.1 913L312.5 912L312.6 911L312.1 910L312.1 909L311.8 908L311 907L311.5 906L312.1 905L310.5 904L310.6 903L311.7 902L311.2 901L310.8 900L310.7 899L310.4 898L311.8 897L311 896L311.5 895L311.1 894L311.3 893L313.3 892L311.7 891L312.8 890L313.4 889L313.6 888L313.3 887L313.4 886L314.4 885L314.5 884L313.2 883L315.2 882L314.7 881L315.2 880L315.9 879L315 878L314.8 877L316 876L314.9 875L315.7 874L316.5 873L315.6 872L315.5 871L317.6 870L316 869L316.9 868L317.7 867L318.8 866L317.9 865L317.7 864L319.6 863L320.5 862L319 861L320.3 860L321.1 859L321.8 858L322.3 857L322.3 856L322.7 855L323 854L322.9 853L324.2 852L325.6 851L325.7 850L324.6 849L326.5 848L325.7 847L326.1 846L327.9 845L327.3 844L327.5 843L328.8 842L329.7 841L329.4 840L328.9 839L330 838L329.6 837L329.5 836L330.2 835L331.5 834L331.9 833L331 832L332.5 831L331.9 830L332.9 829L331.9 828L331.6 827L332.9 826L333.6 825L333.6 824L333.4 823L332.1 822L333.2 821L333.2 820L333.1 819L334.8 818L334.6 817L334.9 816L335.3 815L333.8 814L334 813L335.3 812L334.7 811L334.7 810L335.6 809L336.3 808L335.9 807L336 806L336.1 805L335.9 804L337.3 803L336.8 802L336.9 801L337.2 800L338.9 799L338.2 798L337.6 797L338.1 796L339.6 795L339.3 794L339.4 793L339.7 792L338.3 791L339.5 790L339.9 789L340.9 788L339 787L339.9 786L341.2 785L339.5 784L341.6 783L341.8 782L341.8 781L341 780L340.8 779L342.8 778L342.5 777L342 776L342.9 775L343.3 774L342.9 773L342.4 772L343.7 771L344.7 770L345.3 769L345.5 768L346.1 767L346 766L346.2 765L344.9 764L345.6 763L345.9 762Z" fill="#0000ff"/>
<path transform="scale(.5)" d="M683 1510zm8 2zm-1 4zm0-1zm0-2zm-12 6zm-1 0zm-10 7zm23 1zm2-7zm3 0zm-3 11zm-1 3zm0-2zm0-2zm-1 1zm-19 2zm-1 0zm-24 0zm-2 1zm10 8zm19 1zm3-2zm0 2zm3-7zm0 2zm4 1zm0 2zm1-4zm4 2zm2 1zm-4 7zm-1-1zm-2 4zm-6 1zm0-2zm-3-4zm-1 5zm-1-3zm-6 3zm0-2zm-14-1zm-20 11zm10-5zm13 0zm1 6zm1-2zm4-5zm1 0zm1 7zm1-4zm0 4zm1-1zm3-6zm1 6zm2 0zm1-1zm1-1zm3-1zm2 4zm1-4zm1 0zm0 2zm2 9zm0-6zm-5 2zm-4 0zm-3 4zm-1 0zm0-2zm0-3zm-4 1zm-5 4zm-2-2zm-9 1zm-7-4zm-4 1zm-7 7zm25 4zm6-4zm2 2zm5-3zm5 0zm0 6zm1-6zm3 1zm0 1zm0 3zm0 1zm2 3zm-2 6zm0-1zm-1 0zm0-5zm-1-1zm-5 7zm0-3zm-2-1zm0-3zm-1 0zm-4 1zm-2-1zm-1 6zm0-1zm-3 2zm-2-3zm-4 2zm-1-3zm-4 0zm-4 0zm-2 2zm-4-5zm-11 1zm-77 12zm79-4zm6 6zm21-7zm0 4zm5 0zm2-3zm0 1zm2 5zm3 0zm3 0zm6-5zm2 1zm0 9zm-2 1zm-2-1zm-3 2zm-1-3zm-3-2zm-1-1zm-1 2zm-2 0zm-5-2zm-4 1zm-6 1zm-17 2zm-1 3zm0-7zm-35 7zm-82 7zm99-1zm39-3zm2 5zm3-3zm2-2zm2 4zm3-3zm2 3zm1-3zm1-2zm0 3zm2 1zm2-1zm1-2zm0 2zm1 2zm1-5zm0 5zm1 1zm-4 5zm-1 3zm0-7zm-1 3zm-1 0zm-2 2zm0-4zm-3 5zm0-3zm-3 3zm-3 0zm-1-2zm-2 0zm-1 2zm0-3zm-5 4zm-3-5zm-6 2zm-10 3zm-9-3zm-2 3zm-8-1zm-28-5zm-23 6zm-36 0zm-35 5zm30 1zm36 2zm24 0zm23-3zm21 2zm0 1zm7-6zm3 0zm2 2zm7 3zm1-5zm2 0zm3-1zm11 1zm0 3zm0 2zm3-3zm2 0zm0 2zm0 2zm1-4zm3 4zm1 0zm2-7zm0 1zm0 3zm2 11zm-1 0zm0-2zm-1 1zm-2-5zm-2 6zm-3-7zm-1 6zm-3 1zm-1-1zm-6-5zm-2 0zm-1 6zm-13-2zm-4 2zm-9-6zm-19 4zm-11-1zm-14 0zm-5-3zm-8 4zm-10-1zm-22 0zm-130 0zm52 6zm69 2zm36 3zm5-3zm14-3zm3 4zm2 1zm7-5zm26 0zm7 2zm5 0zm3-3zm0 3zm0 1zm5 0zm3 3zm1-5zm1 4zm8 0zm2-2zm0 3zm1-4zm3 1zm1-3zm1 2zm2-1zm3 1zm0 1zm1-4zm0 4zm1 1zm1-5zm0 4zm1-4zm0 2zm1 4zm-3 9zm-1-2zm0-1zm-1 0zm-1-2zm-1 5zm-1 0zm-1-1zm-1-6zm-1 0zm-1 5zm0-3zm-1 3zm-3 0zm-1 1zm0-3zm0-1zm-1 2zm-2-1zm0-2zm-3 1zm-5 1zm-2 4zm-9 0zm0-1zm0-5zm-1-1zm-2 4zm-2-4zm-10 6zm-11 1zm-10-2zm-58 2zm-26-3zm-130 3zm45 7zm86-6zm51 4zm2 3zm15-1zm14-1zm4 1zm2-3zm6-1zm8-1zm4-1zm6 2zm9 0zm3 3zm2-4zm1 3zm2 3zm4-5zm0 4zm1-3zm2 0zm1-2zm1 0zm1 3zm1 2zm1-4zm1-1zm5 4zm0 2zm3-5zm1 3zm1-1zm1 0zm0 1zm2-1zm-4 4zm-1 5zm0-2zm0-1zm0-1zm-1 6zm0-3zm-1 0zm-4-3zm-1 6zm-1-3zm-5 2zm-1 0zm0-5zm-1 0zm-2 0zm-3 6zm-2 0zm0-7zm-5 2zm-2 0zm-4 4zm-2-1zm0-3zm-1-2zm-15 3zm-1-3zm-3 2zm-2-2zm-22 6zm-12-4zm-18 5zm-6 0zm-3-3zm-2 0zm-43-4zm-26 0zm-18 7zm-56 0zm-2 0zm-11 7zm74 0zm22-1zm29 2zm33 0zm5-2zm23 1zm11-3zm8-2zm7-1zm2 1zm5 0zm4 1zm4 5zm1-5zm1-1zm6 4zm3 0zm0 2zm1-6zm0 3zm1-2zm2 2zm0 1zm3-4zm3 2zm0 2zm1-4zm5 0zm1 4zm4-1zm0 1zm1-4zm3 0zm0 1zm7 1zm2 2zm1-3zm1 3zm1 0zm0 2zm2-7zm1 0zm-4 12zm0-2zm-1 1zm0-3zm-1 5zm0-4zm-2 1zm-1 5zm-11-4zm-2-3zm-6 5zm-5 2zm-1-4zm-7-3zm-3 4zm-6-3zm-2 3zm-4-4zm-2 5zm-1-2zm-4 3zm-2-6zm-5 1zm-1 2zm-7 1zm-5 0zm-9-4zm-35 0zm-24 0zm-21 6zm-57-2zm-6-1zm-47 6zm50 6zm25 0zm4-3zm21 2zm29-2zm18 0zm25 2zm2-6zm7 3zm35 2zm5 1zm2-6zm1 7zm1-7zm2 2zm4 3zm2-5zm3 4zm10-1zm0 4zm2-7zm2 1zm4-1zm0 4zm5 0zm1-4zm0 1zm0 5zm2-6zm1 5zm1 0zm9-3zm2 0zm0 3zm3-2zm1-2zm-6 11zm-9 3zm0-5zm-1 3zm0-1zm-1 2zm-1 0zm0-2zm-1 2zm0-3zm-1 0zm-1 4zm0-4zm-2-2zm-1 1zm0-1zm-4-1zm-1 4zm-1-4zm-1 7zm-4-1zm0-2zm-1-1zm-1 0zm0-2zm-1 3zm-1-4zm-1 5zm-2 2zm-1-2zm-1-5zm-2 5zm-1-5zm-3 6zm0-3zm-1 2zm-4-2zm-4 3zm0-1zm-6-5zm-3 7zm-2-4zm-1 1zm-6-2zm-3-1zm-4 2zm-6-3zm-7 4zm-9 2zm-1 1zm-2-1zm-6-1zm-10 2zm-4-3zm-1 2zm-5-2zm-7-4zm-15 6zm0-6zm-14 1zm-8 5zm-6-3zm-1-3zm-44 0zm-63 4zm-62-1zm-9 6zm25 2zm41 1zm28 1zm35-1zm27 2zm51 0zm37-6zm4 3zm24-1zm3 3zm0 2zm3 0zm2-5zm6 0zm1 3zm1 2zm8-7zm5 7zm3 0zm2-5zm5 2zm1 0zm3-2zm5 1zm3 3zm1-2zm1-2zm3-1zm4 6zm1-7zm3 1zm1 6zm1-4zm1 2zm1-4zm0 3zm1-3zm0 6zm4-5zm0 4zm4 1zm1-2zm2-5zm0 1zm0 5zm1-4zm1-1zm1 0zm-5 7zm-1 6zm0-3zm-1 1zm0-1zm0-3zm-1 7zm-1-5zm-1 5zm-1-7zm-2 2zm-2 4zm-1-2zm-1 0zm0-1zm0-3zm-1 2zm-2 4zm0-1zm0-5zm-1 4zm0-1zm-5-2zm-6 5zm0-3zm-1 3zm-1 0zm-2 1zm0-2zm-3 0zm-6-5zm-2 7zm-4-6zm-5 3zm-1-1zm0-3zm-7 1zm-3 5zm-11-2zm-2-3zm-1 5zm-12 0zm-8 1zm-63-6zm-28 1zm-81-1zm-80 4zm-14 10zm132-5zm8-1zm5 5zm12-6zm14 6zm13 0zm15-2zm25-4zm14 4zm16-1zm2-3zm2 3zm12 0zm3-3zm0 7zm2-4zm4 3zm13-6zm1 2zm1 3zm6 2zm1-7zm0 6zm6-6zm4 4zm1 2zm1-6zm1 4zm1 2zm1-6zm0 1zm1 5zm5 1zm3-7zm4 3zm4-1zm0 3zm1-5zm2 7zm2-5zm3-2zm2 3zm1-2zm2 4zm0 2zm1-6zm0 2zm0 3zm1 0zm0 1zm7-4zm0 4zm1-7zm1 2zm0 5zm1-5zm0 3zm0 2zm1-6zm0 1zm0 1zm0 1zm1-2zm-2 8zm-2 2zm0-2zm-1 3zm-2-1zm-1 3zm0-3zm-1 0zm-1 0zm0-4zm-1 1zm-2 5zm0-1zm0-2zm0-2zm-1 5zm-1-2zm-1 1zm-1 0zm-1-4zm-1 1zm-6 4zm0-2zm-1-4zm-1 6zm-2 1zm-1-1zm0-2zm0-1zm-6-2zm-1 3zm-1 0zm-8 2zm-2-1zm-9-4zm-2 6zm-1-3zm-1-4zm-2 4zm-1 2zm-10-3zm-1 0zm-2-1zm-4 3zm0-1zm0-3zm-6 3zm-16 0zm-8-1zm-17-3zm-2 3zm-11-3zm-6 3zm-1 0zm-6-1zm-31 5zm-176-6zm-12 3zm-1-4zm-17 12zm35-4zm25 2zm14-2zm50 4zm1-1zm7 4zm2-7zm1 2zm46 0zm14-1zm28 5zm2-5zm10 0zm10 3zm7-4zm2 4zm5 0zm6 2zm5-5zm19 2zm0 2zm2 2zm7-3zm1-3zm0 2zm0 4zm5-7zm3 7zm2-5zm3 2zm1-4zm1 2zm1 5zm1-1zm1-4zm1 1zm1 2zm7-4zm4 1zm1-1zm0 4zm3-2zm3 2zm1-4zm0 5zm1-6zm2 7zm1 0zm2-2zm3-5zm2 2zm1 0zm6-1zm2 6zm1-7zm5 0zm1 6zm1-3zm0 1zm3 2zm1-1zm2 1zm1-6zm2 0zm0 2zm0 5zm1-7zm2 2zm1 0zm0 3zm0 1zm1-6zm0 5zm1-1zm0 1zm2-5zm0 4zm1 1zm-5 5zm-1-1zm-3 5zm-1-1zm-1-4zm-1 3zm-1 1zm0-1zm-1 0zm-1 0zm-1 0zm-4 2zm-1-1zm-1 2zm-1-2zm-3-1zm0-1zm-1 2zm-3-3zm-2 4zm0-2zm0-2zm-1-1zm-1 6zm-1-3zm-5-4zm-5 1zm-1 6zm-2-2zm-2-1zm-2 2zm-2-3zm-1-2zm-4 3zm-8-2zm-1 1zm-9 2zm-1-4zm-3 5zm-4-4zm-1 5zm-2-3zm-11-3zm-1 1zm-4 4zm-11-2zm-1 3zm-6-1zm-2 1zm0-7zm-2 5zm0-3zm-3 5zm-4-7zm-9 6zm-4-1zm-6-3zm-1-1zm-9 1zm-10 2zm-3-2zm-7 3zm-12 1zm-48-5zm-1 4zm0-5zm-2 1zm-4 5zm-4-3zm-90-1zm-17 3zm-22 9zm57-6zm1 3zm23 0zm1 4zm3 0zm9-6zm23 3zm3-2zm15 1zm7-3zm6 2zm65 0zm0 1zm2-2zm7 1zm19 2zm3-4zm16 6zm13-2zm7-4zm11 7zm5-1zm1-5zm11 3zm2 2zm3-3zm2 1zm1 1zm2 0zm6 1zm3 1zm2-4zm4-3zm4 3zm1 1zm0 1zm2-5zm0 7zm1-1zm6-6zm0 4zm2-2zm6 0zm3 3zm1 0zm1 2zm2 0zm1-1zm3 0zm1-4zm4 0zm0 4zm1-5zm1 6zm1 0zm1-2zm0 5zm-1 1zm-1 4zm-1-2zm-1-2zm0-3zm-1 7zm0-5zm-2 0zm-2 4zm-2-2zm-1-3zm-1 4zm-1-1zm-3 2zm0-4zm0-2zm-1 6zm-1 0zm-2-1zm0-4zm-1 5zm0-4zm-1 5zm-3-1zm-3-4zm-4 3zm-1-3zm0-1zm0-1zm-1 1zm-2 3zm0-2zm-2 0zm-1-1zm-2 2zm-1-3zm-2 4zm-3 3zm0-2zm-1-3zm-1 5zm-1-3zm-2-4zm-10 7zm-2-1zm0-1zm-6-1zm-7-2zm-6-2zm-5 0zm-8 2zm-6 5zm-4-7zm-1 5zm-9-3zm-9-2zm-3 5zm-2-5zm-28 7zm-7-2zm-10-1zm-22 1zm-6-1zm-14-2zm-10 3zm-44-3zm-8 2zm-1 3zm-19-1zm-30-1zm-38 0zm49 7zm22-3zm57 2zm44 0zm8-3zm5 4zm1-3zm6 0zm3 2zm35-3zm1 3zm12 3zm3-3zm6 0zm8 2zm2-1zm6-3zm2 3zm0 2zm3-3zm1 4zm1-6zm1 5zm2-4zm2-2zm11 7zm2 0zm2-6zm1 5zm3-6zm1 3zm7 0zm0 4zm1-5zm5 4zm2-5zm4 0zm3 5zm8 0zm1-5zm0 5zm1-4zm5 2zm4 0zm1-1zm1 4zm2 0zm3-2zm3-4zm0 2zm5 2zm1 1zm1-5zm0 1zm0 2zm0 1zm0 2zm2 0zm1-3zm1-3zm0 4zm1-3zm2-2zm1 0zm1 9zm-3 0zm-1 6zm0-4zm0-2zm-1-1zm-1 4zm-1-1zm-3 1zm0-1zm0-3zm-1 5zm0-1zm0-1zm0-1zm-1 4zm-1-3zm-1-3zm-2 2zm-1 5zm0-3zm-2-3zm0-1zm-2 6zm-1-2zm-1 1zm-2 2zm-2-3zm-1 2zm-1-3zm-7-2zm-9-1zm-1 3zm-4-1zm-1 0zm-5 2zm-2-2zm-4 3zm-11-1zm-4 1zm-1 0zm0-3zm-6 5zm-5 0zm-1-7zm-1 2zm-3 2zm-2 2zm-4-2zm-1 0zm-3 2zm-4 0zm-4 1zm-3-6zm-5 3zm-8-1zm-24 3zm-12-3zm-1-2zm-46 4zm-14 1zm-9-2zm-7-1zm-45 4zm-1-6zm-33 3zm-5-1zm-5 12zm9-2zm50-2zm23 0zm76 0zm1-3zm3 5zm11 0zm3-2zm12 0zm9 3zm4-5zm5 3zm5-1zm10 4zm2-2zm5 2zm7-4zm5-1zm2-1zm0 2zm0 1zm4-2zm0 2zm2-3zm6 1zm0 5zm1-5zm0 3zm1-5zm2 6zm1 1zm2-6zm3 1zm0 3zm1-1zm1-4zm1 6zm4-5zm6 4zm1-5zm1 3zm1 1zm1 3zm1-3zm3 2zm1-4zm0 2zm1 2zm1 1zm2-3zm3-2zm3-1zm0 1zm0 5zm5-7zm0 7zm1-6zm3 0zm0 2zm0 2zm2 2zm1-7zm0 1zm0 3zm1 2zm1-5zm1 4zm1 1zm3-2zm3-3zm0 4zm2-4zm0 3zm2-4zm0 5zm2 2zm1-5zm2 2zm-2 10zm0-5zm-1 0zm-3 4zm-3 0zm0-4zm-1 6zm0-5zm-1 4zm-3 0zm0-2zm-3-2zm-1 1zm-1 2zm0-4zm-2 5zm-1-6zm-1 0zm-1 7zm-1-4zm-1 2zm0-3zm-1-2zm-1 7zm0-6zm-1 4zm-1-1zm-3 1zm-2 1zm-2-2zm-3 3zm-2-4zm-3 2zm-6 2zm-1 0zm-1-3zm-2 0zm-1 2zm-1-1zm-2-1zm-4 1zm-6-4zm-19 3zm-1 3zm-2 0zm-3-5zm-1 5zm0-5zm0-1zm-3-1zm-1 1zm-2 6zm0-2zm-8 1zm-2-6zm-2 3zm0-2zm0-1zm-1 7zm0-6zm-2 3zm-2 3zm-8-2zm-12-1zm-9-1zm-1 1zm-24-2zm-20-2zm-5 6zm-11-1zm-11-3zm-2 3zm-7-5zm-26 6zm-40-4zm-19 3zm-40-2zm-26 3zm0 6zm21-3zm46 4zm25-4zm33 3zm53 2zm4-5zm10 0zm8 1zm1 0zm14 1zm9 4zm3-6zm14 4zm3-4zm1 5zm10-3zm1 0zm2 3zm7-6zm2 3zm5 4zm2-4zm3-3zm4 4zm0 1zm9 0zm1-2zm4 2zm3-2zm0 3zm1-2zm7-3zm2 5zm1 0zm1-4zm0 3zm2-3zm1-2zm2 3zm2 3zm2-4zm2 2zm2 0zm10 2zm1-4zm3-2zm0 1zm2 0zm0 4zm2-1zm3-4zm0 1zm0 3zm1-4zm0 1zm2 0zm1 4zm2 2zm4-6zm2 5zm1-2zm0 1zm2-4zm2 6zm4-7zm2 7zm1-7zm1 7zm1-3zm1 1zm1-4zm2 5zm0 9zm-1-6zm-2 6zm0-5zm-1 2zm-1 1zm0-5zm-1 7zm0-4zm0-2zm-1 2zm0-2zm-1 4zm-1 1zm0-2zm-1 0zm0-3zm-1 4zm-1 2zm0-1zm-1-3zm-2 3zm-1-2zm-2-3zm-2 0zm-4 6zm-1-2zm0-4zm-4 6zm0-4zm-2 1zm-1 3zm-1 0zm0-7zm-3 4zm0-3zm-1 4zm-1-2zm-1-1zm-1 0zm-2 2zm-2 0zm-2 2zm0-2zm-1-4zm-2 7zm0-5zm-1-2zm-1 1zm-2 4zm-1-1zm0-4zm-1 6zm-1 1zm-1-7zm-1 5zm-1-2zm-2-2zm-1 4zm0-2zm-7-1zm-7 1zm-4 3zm-1-5zm-6 1zm-2 2zm-2-3zm-1 2zm0-3zm-4 7zm-2-7zm-1 4zm-1-2zm-9-1zm-2 3zm-2 3zm-2-6zm-2 3zm-6-2zm-6 3zm-5 2zm-4-3zm-4 2zm-13-6zm-47 6zm-38-4zm-7 1zm-15-1zm-1 0zm-1 5zm-6-5zm-8 1zm-41-2zm-22 5zm31 4zm9 1zm3-2zm11 2zm10 1zm61-1zm33-1zm7 2zm26 0zm4 1zm1 1zm27 0zm1-2zm1-3zm3 1zm6-2zm6 6zm4-6zm4 5zm6-4zm1 0zm10 2zm1-3zm2 1zm2 6zm2-3zm2 2zm1-4zm4 2zm1 0zm0 1zm1-1zm3-4zm0 4zm1 0zm2 0zm0 3zm1-6zm2 4zm0 1zm0 1zm3-3zm0 3zm1 0zm1-6zm0 5zm2-2zm1-3zm2 6zm3-7zm1 1zm2 1zm2 2zm0 2zm1 0zm2-1zm1-2zm0 2zm1-2zm4-1zm1 4zm2-5zm0 1zm1-1zm0 1zm1-2zm1 6zm2-6zm2 6zm0 1zm4 0zm1-5zm0 2zm0 2zm1-5zm0 5zm1-2zm3-1zm0 2zm3 1zm1-5zm0 4zm2-4zm0 13zm-1-5zm-2 5zm0-3zm0-1zm0-1zm0-1zm-2 6zm0-2zm0-1zm0-2zm0-1zm-3 3zm0-2zm0-1zm-2 1zm-1 0zm-1 4zm-2 1zm0-2zm-3-2zm-1 2zm0-3zm-2 6zm-1-3zm0-3zm0-1zm-1 6zm0-6zm-1 2zm-1 4zm-1 0zm-1-1zm0-1zm0-1zm-1 1zm0-1zm-1 1zm-1-4zm-1 5zm-2 0zm0-5zm-2 0zm-2 7zm-4-3zm-1 0zm-3-4zm-2 4zm-2-3zm0-1zm-4 7zm0-5zm-1 1zm-3 2zm-3-4zm-1 4zm-3-2zm-1 1zm-3 3zm0-4zm-2-1zm-3-1zm-8 5zm-1-6zm-4 3zm-1 3zm0-1zm-12 0zm-1-1zm-1 0zm-2-1zm-2 3zm-6-6zm-17 1zm-1 6zm0-2zm-1-4zm-11 1zm0-2zm-8 4zm-18 2zm-2-2zm0-1zm-18-3zm-38 5zm-81-2zm-26-3zm-20 7zm-6 3zm58 1zm28-2zm39 1zm29 1zm13 2zm5-5zm3 7zm13-7zm7 3zm8 0zm7 1zm14 2zm0 1zm12-4zm0 4zm3-5zm2-1zm11 2zm2-2zm6 2zm1 0zm3 1zm1-4zm1 7zm1-4zm1-3zm3 3zm3-2zm2 1zm1 1zm1 3zm3-1zm1-4zm2 0zm0 5zm14-1zm2-5zm0 5zm1 0zm4 0zm4-5zm1 2zm4 3zm1-5zm1 4zm3-4zm0 3zm5-1zm3-1zm5 0zm1 5zm4-1zm3-2zm0 2zm4 1zm2-1zm3 1zm4 0zm1-6zm0 3zm0 2zm0 2zm1 0zm4 5zm0-2zm-2 4zm-1 0zm-2-5zm0-1zm-3 1zm0-1zm-1 0zm-2 2zm0-2zm-2 5zm-1 0zm-1-1zm-1 2zm0-2zm-3 2zm-2-1zm-1 1zm0-6zm-3 5zm0-5zm-5 1zm0-1zm-1 1zm-2 3zm-2 0zm-6-1zm-1 2zm0-1zm0-3zm-2 2zm-4-2zm-3 6zm0-6zm-3 1zm-2 0zm-2 5zm-3-4zm-1 4zm-6-4zm-2-2zm-2 5zm-3-4zm-14 1zm-1 2zm-6 0zm-4-2zm-14 2zm-4-5zm-1 0zm-13 3zm-4 4zm-35-5zm-21 5zm0-6zm-20 5zm0-3zm-2 3zm-15-2zm-9 1zm-30-3zm-15 1zm-2 0zm-22 2zm-25 0zm-24-4zm-6 0zm-1 5zm-3-4zm-13 7zm65-1zm29 4zm30 1zm25-2zm6-1zm7 1zm24 0zm30 2zm2-3zm2 1zm9-2zm3 2zm19-1zm4 2zm14 1zm2-1zm2 3zm2-1zm1 1zm1-2zm3-5zm8 4zm0 3zm5 0zm3-4zm3-2zm9-1zm3 3zm3 4zm1-1zm1-6zm2 1zm3 0zm0 4zm1-4zm2-1zm3 5zm3-4zm0 6zm3-7zm1 5zm1-2zm6 4zm1-5zm1-1zm0 3zm2 3zm1-2zm4-2zm1 4zm3-5zm2-2zm1 2zm5 3zm1-5zm0 6zm1 1zm4-4zm0 1zm3-4zm2 5zm2-4zm1 1zm0 5zm2 0zm2-5zm0 4zm1-5zm-1 10zm0-3zm-2 6zm-1 1zm0-6zm-2 2zm-2 4zm0-2zm0-2zm0-3zm-2 0zm-1 7zm-3-1zm-2-3zm0-1zm-1 3zm-2-4zm-1 5zm0-3zm0-3zm-2 2zm-1 3zm-1 0zm0-2zm-2-1zm-1 2zm-4 0zm-2 2zm-2-4zm-7 1zm-2-2zm-1 5zm0-1zm-1 1zm0-3zm-6 1zm-2 2zm-2-3zm0-2zm-2 4zm-1-5zm-2 1zm-2 6zm0-2zm-1 2zm-1-6zm-4-1zm-4 4zm-3-3zm-2 1zm-1 0zm-7-1zm-7 1zm-1 3zm-10-2zm-5 2zm0-5zm-8 1zm-15 0zm-4 4zm-5-5zm-12 7zm-27-6zm-4 0zm-12 4zm-3-5zm-21 7zm-15-6zm-30 4zm-2 1zm-64-1zm-16 8zm23-3zm37 1zm48 4zm19-5zm29-2zm5 1zm8 1zm6 1zm6-2zm14 3zm0 1zm9 0zm3 2zm8-1zm2-3zm17 1zm3 1zm1-1zm18-4zm7 0zm0 6zm4-4zm3 2zm2 0zm4-2zm6 0zm0 2zm4-4zm2 1zm0 6zm4-7zm3 4zm1 2zm6-6zm2 2zm3-2zm2 4zm1-3zm0 1zm2 3zm1-4zm9 3zm1-1zm2-3zm0 6zm1-3zm2 4zm3-7zm0 7zm1-2zm2 2zm3-3zm1 0zm1-4zm2 6zm1-5zm2 3zm1 3zm2-7zm0 7zm1-3zm0 1zm1-1zm1-1zm2-1zm1 3zm0 1zm-1 9zm-1 0zm-1-2zm-1 1zm0-6zm-1 4zm0-4zm-1 5zm-1-4zm-1 6zm0-7zm-1 5zm0-2zm-1-1zm-1 3zm-3 2zm0-4zm-1 3zm-1-5zm-2 1zm-2 4zm0-3zm-1 4zm-1-3zm-2-2zm-1 1zm-3 3zm-6-6zm-3 5zm0-2zm-6 1zm-7-4zm-1 2zm-5 5zm0-7zm-1 6zm-13 1zm-1 0zm-5-6zm-7 4zm-1-5zm-3 4zm-12-2zm-1-1zm-5-1zm-6 4zm-3 2zm-20 0zm-15 1zm-10-3zm-16 2zm-3 0zm-188-5zm36 14zm17-5zm102 2zm5 2zm13-1zm10-3zm29 2zm15-2zm17 5zm5-1zm28-3zm2 4zm9-7zm5 7zm3-4zm4 0zm1 0zm3-1zm0 5zm3-7zm12 0zm3 4zm1-1zm3 2zm2-5zm1 3zm0 1zm4 0zm0 3zm1-7zm7 0zm3 7zm7-7zm1 6zm1-3zm1-1zm0 3zm2-4zm0 2zm5 0zm1 4zm3-7zm0 7zm3 7zm0-6zm-1 6zm-2-1zm0-3zm-4 3zm-1 0zm-1-4zm-2 6zm-2 0zm-7-4zm-1 4zm0-7zm-1 3zm0-2zm-1 4zm-3 1zm0-6zm-3 7zm-2-1zm-1-4zm-1 5zm-3-6zm-2 1zm-2-2zm-2 3zm-9 0zm-2 0zm-4 4zm-7-5zm-9-2zm-6 7zm-6-6zm-6 1zm-8 0zm-3 1zm-27-1zm-16 4zm-3-5zm-2 6zm-8-1zm-2-1zm-1-2zm-103-3zm-16 1zm0 9zm72-2zm32 5zm11-3zm25 4zm24 0zm14-6zm2 7zm14 0zm15-4zm8 3zm10-3zm20-2zm2 0zm3 2zm2-3zm1 2zm0 2zm5-2zm1 1zm0 1zm1-2zm0 3zm2-4zm0 5zm1-3zm0 1zm3-4zm1 7zm4-7zm0 3zm1 0zm2-3zm1 3zm1-3zm1 2zm0 1zm1 2zm1-1zm1 1zm0 1zm1-1zm1 9zm-2-4zm-1-2zm-1 7zm-1-6zm-1 1zm-1 5zm0-7zm-1 7zm0-1zm0-2zm-2-1zm0-2zm-1 5zm-2-3zm-1 4zm0-2zm-2 2zm0-3zm-2-2zm-5-2zm-2 0zm-2 3zm-4-1zm-5-1zm-2 4zm-4-5zm-6 0zm-3 5zm0-4zm-4 3zm-1-1zm-11 0zm-11 4zm0-4zm-14 0zm-12 2zm-82-3zm-5-1zm-61 14zm5-4zm3 0zm34-2zm36 1zm3 4zm19-5zm51 6zm29-3zm4 3zm3 0zm6-1zm4-6zm1 2zm6-1zm1 4zm1-1zm0 3zm4-7zm0 2zm5 4zm0 1zm8-5zm1 5zm6-1zm1-2zm1-1zm4 2zm0 2zm2-4zm3 4zm2 0zm1-3zm1-3zm0 2zm2-3zm2 0zm1 7zm1-3zm0 3zm1-7zm2 6zm0 1zm2 0zm2 6zm-1 2zm0-1zm0-6zm-2 2zm0-1zm-1 1zm0-1zm-1 6zm-3-3zm-2 2zm-1-1zm0-1zm-2 2zm0-1zm0-5zm-1 6zm0-3zm-5-2zm-1 5zm0-2zm-1-2zm-2-1zm-1 2zm-5 2zm-1-3zm0-2zm-1 4zm0-3zm-1 3zm0-2zm-1 5zm0-7zm-3 3zm-2 0zm-29 4zm0-7zm-15 2zm-6 4zm-4-5zm-3-1zm-40 4zm-3-4zm-35 3zm-38 0zm-48-3zm12 12zm2 1zm65-1zm17 2zm9-4zm25-1zm3 3zm5-3zm0 6zm2-6zm1 3zm20 0zm3 1zm13-5zm6 6zm8-6zm2 3zm1-1zm5-2zm4 7zm5-6zm1-1zm1 4zm1-3zm9 6zm6-7zm6 3zm1 0zm1-3zm0 2zm1 3zm1 1zm2-2zm6-4zm4 7zm1-6zm1-1zm0 1zm0 1zm1-1zm0 5zm1-1zm1-4zm0 2zm1-1zm1 0zm1 3zm1-5zm2 3zm1 0zm1-2zm0 5zm1-6zm0 2zm0 5zm3-2zm5 1zm1 6zm0-2zm-1 3zm-2 0zm-3 2zm-1-5zm0-2zm-1 0zm-1 7zm0-2zm0-1zm-1 0zm-1-2zm-1 5zm0-4zm-1 4zm-1-2zm0-1zm-1 1zm-1-3zm-1 0zm-5 1zm0-1zm-4 0zm-13-1zm-3 4zm0-2zm-1-1zm-9 3zm-2-3zm-29 1zm-8-3zm-3 1zm-1 6zm-191-6zm-3 2zm-11-2zm75 12zm41-4zm47 6zm38-5zm16-2zm2 4zm3 2zm2 1zm9-3zm8-4zm3 0zm1 2zm6 3zm0 1zm1 1zm6-5zm12 3zm2 0zm3 0zm0 2zm1-7zm1 7zm1-1zm9-5zm7-1zm0 2zm0 4zm2-2zm0 3zm1-7zm1 1zm0 1zm1-2zm2 4zm2-4zm0 1zm0 2zm0 4zm2-6zm4 11zm-3 3zm-1-1zm0-4zm0-1zm-2-1zm-1 7zm-2-7zm-2 3zm-3-3zm-3 7zm-1 0zm0-5zm-3 5zm-4-5zm-2 1zm-5 1zm0-2zm-9 0zm-14 5zm-1-2zm-7-4zm-62 1zm-7 4zm-92-6zm87 12zm46 3zm27-1zm16-3zm0 2zm5 2zm3-7zm9 4zm1-2zm3-1zm2 3zm0 1zm2-5zm0 7zm2-5zm0 2zm2 1zm6 0zm1-1zm2 0zm2 1zm2-2zm2-3zm0 4zm1-4zm0 1zm4 13zm-1-1zm-1 0zm-2-1zm-2-4zm-1 2zm-3 3zm0-5zm-13 1zm-1 6zm-3-6zm-12 2zm-1 3zm-46 1zm-131-7zm-35 3zm206 11zm21-6zm7 2zm0 3zm4 1zm1-1zm2-1zm0 2zm2-4zm1 1zm1-3zm1 2zm0 4zm2-5zm0 1zm1-1zm3 5zm2-5zm0 6zm2 7zm-2 1zm-2-6zm-1 0zm-6 5zm0-4zm0-1zm-4-1zm-8 6zm0-2zm0-4zm-4 7zm-3-6zm-4 0zm-5 3zm-3 3zm-1-5zm-2 2zm0-4zm-2 3zm-5 3zm-4 0zm-40-5zm-101-1zm-90 10zm75-1zm145 6zm5-4zm5 3zm10-4zm1 0zm4 4zm0 1zm6-7zm0 2zm0 2zm4-3zm11-1zm0 1zm5 3zm6-1zm2 0zm3-1zm1-2zm4 5zm3 6zm-1 4zm-1-4zm0-1zm-1 2zm0-3zm-1 2zm0-2zm-1 5zm0-4zm-1-2zm-1 6zm-3-2zm-2-4zm-3 2zm-3 1zm-1 0zm-14-3zm-2 4zm-5 1zm-17-4zm-73 6zm-62 6zm143 1zm23-3zm9 2zm2 0zm1-3zm1 2zm6-3zm0 6zm1-5zm2 3zm1-4zm5 5zm0 1zm1 0zm1 7zm-4-2zm0-3zm-2 2zm-2 4zm-4-1zm0-4zm-1 4zm-1-6zm-2 2zm-7 3zm-3 0zm-30-2zm-36-3zm-34 3zm-36 1zm89 4zm34 2zm15 0zm1 1zm4 1zm5-2zm1-1zm1 1zm8 0zm2-2zm1 3zm6 12zm-1-2zm0-1zm-2 2zm-1-1zm-2-1zm0-2zm0-2zm-1 2zm-5 2zm-1-2zm-4 5zm0-6zm-4 2zm-4 3zm0-6zm-9 0zm-4 6zm-3-1zm-2-1zm-9-4zm-13 5zm-40-4zm-40 10zm28-1zm2 1zm23 1zm51 2zm3-6zm5 3zm8 3zm5 0zm3-6zm9 5zm3-5zm0 3zm3-2zm0 3zm1-4zm-1 8zm-1 5zm0-4zm-2 3zm0-4zm-1 4zm0-4zm-1 0zm-8 7zm-6-5zm-2-1zm-22 2zm-118 7zm26 0zm82 2zm10 0zm28-4zm7 0zm1 6zm4-5zm2 3zm3 4zm-2 0zm-2 3zm0-3zm-1 7zm-1-5zm0-2zm-2 7zm-2-5zm-2 0zm-42 1zm41 8zm6-1zm0 1zm0 1zm6 0zm2 2zm1 0zm1-4zm1-1zm-2 7zm-1 4zm-2 3zm-2-6zm-2 5zm-2-3zm-2 2zm0-3zm-2-2zm-4 9zm3 0zm1 2zm9 1zm4 1zm0 2zm2 0zm3 2zm-1 2zm-1 1zm0-2zm-1 4zm0-2zm0-1zm0-2zm-1 0zm-2 4zm0-3zm-4 2zm-1-4zm-2 6zm0-5zm-7 4zm-1-1zm-3 1zm-17 0zm9 5zm18-2zm1 5zm0 1zm5-5zm2 3zm1 2zm2-4zm4 2zm0 1zm0 1zm1-4zm0 2zm1-2zm0 2zm1-2zm0 4zm2-4zm0 10zm-2 2zm0-5zm-2 3zm-1 2zm-2-1zm-7-1zm0-1zm-3 2zm-1 1zm-36-4zm16 8zm22 0zm3-2zm3 2zm2-1zm4-1zm0 2zm0 4zm3-5zm0 4zm1-3zm0 4zm-2 2zm-2 7zm-4 0zm0-7zm-6 0zm-4 13zm2-4zm5 2zm0 2zm1 2zm2-1zm2-5zm0 1zm0 1zm1 2zm0 2zm2-1zm0 1zm1-5zm0 2zm0 2zm0 7zm0-2zm-3 0zm-2-1zm0-2zm-1 5zm0-3zm-2-2zm-1 3zm-1 1zm-1-3zm-2 4zm-11-1zm9 10zm8-6zm7 3zm1 0zm-12 5zm-1 7zm0-3zm-7 6zm20 2zm-2 6zm-3 3zm-5 2zm-8 5zm5 2zm3-4zm2 5zm5 13zm-3 5zm-15 7zm7 26zm-5 14zm20 13zm-10 19zm8 41z" stroke="#0000ff" stroke-width="3" stroke-linecap="square" fill="none"/>
<path transform="scale(.5)" d="M685 1545zm18 0zm1 7zm-1 9zm-22 13zm24 6zm-27 4zm-1 9zm1 1zm34-2zm0 5zm4 3zm-1 0zm-4 7zm-39 2zm1 6zm40-1zm7 7zm-2 0zm-4-3zm-36 4zm0-6zm-7 10zm43 2zm4-3zm2 7zm-49 5zm48 7zm2-1zm6 12zm-2-4zm-3-1zm-1 3zm-57 2zm3 6zm61 7zm-61-4zm-6 7zm0 7zm3-2zm69 1zm2-4zm-9 7zm-57 3zm-2 3zm-4 4zm3 4zm2 1zm75 8zm-3-4zm-2 0zm-3 2zm-80-1zm-1-2zm-6 7zm0 1zm10-1zm75 2zm7 0zm2-1zm2-1zm6 5zm-6 4zm-7-2zm-4 6zm-79 0zm0-2zm-8 9zm1 2zm4-7zm93 3zm1 4zm1-5zm4 0zm4-1zm3 3zm0 9zm0-2zm-3 4zm-1-6zm-2 4zm-1 2zm-4-6zm-1 2zm-99-1zm-8 11zm4-2zm111 2zm12 8zm-1 1zm-1-5zm-2 2zm-120-1zm-1-1zm-5 3zm-1 6zm4-1zm4-1zm6 0zm99 5zm13 0zm0 1zm8 7zm-5 1zm-3 1zm0-6zm-8 4zm-7-5zm-106 4zm-3-3zm-4 4zm-5 10zm1 0zm3-1zm129 1zm4-3zm4-2zm2 5zm-3 4zm-2-2zm-8 5zm-119-3zm120 9zm6-3zm3 5zm1 4zm-1 5zm-2-5zm-1 2zm-5-4zm-127 2zm-8 4zm-2 4zm4 3zm5 2zm127-4zm9 2zm-2 10zm-1-6zm-133 6zm-4-4zm-5 3zm7 2zm2 0zm3 2zm123 3zm2-5zm6 3zm2-2zm-1 9zm-1 1zm-129 1zm-4-4zm-4 7zm7 2zm122 5zm6 3zm-1 5zm-1-6zm-3 6zm0-5zm-8 4zm-4 0zm-116 0zm0 7zm123 2zm9-6zm-6 15zm-1-6zm-1 1zm-7 5zm-116 5zm8-3zm111 4zm4 3zm-4 7zm-2-2zm-2 2zm-108 4zm113 0zm2 4zm-113 7zm-2 6zm2 0zm2 3zm7-6zm4 6zm3-5zm80-1zm10 2zm0 7zm-86 4zm-2-2zm-4 0zm-3 0zm-2-1zm-3 3zm0-3zm-3 0zm5 5zm0 4zm5-1zm7-1zm1 4zm2 0zm60 1zm4-3zm12 0zm-10 9zm-64-4zm-1 3zm-9-1zm2 8zm1-3zm11 0zm52 10zm-52-2zm-9 5zm5 5zm4 27zm52 4zm-2 8zm-1 5zm-34-2zm-5 3zm-2-1zm0 4zm0 2zm3 0zm1 0zm39-4zm-36 15zm-2-4zm-2 9zm2 3zm4-1zm26 0zm2-3zm2 4zm1 0zm-5 4zm-30-2zm4 12zm17-3zm6 4zm4 0zm1-6zm0 2zm-9 10zm-23-2zm1 8zm1 2zm2 0zm12 1zm3-4zm5 4zm3 1zm-25 9zm-3 4zm10 0zm9 4zm2 2zm-2 2zm-3-1zm-11 2zm5 4zm7 5zm3-1zm0 6zm-11-1zm-2 0zm4 11zm1 3zm3-4z" stroke="#fff" stroke-width="3" stroke-linecap="square" fill="none"/>
<path d="M347.9 747.6V1200.3" stroke="#9a9a9a" stroke-width="2.2" stroke-dasharray="10.5 9" stroke-dashoffset="6.7" fill="none"/>
<path d="M121.6 747.6H574.5V1200.3H121.6ZM197.1 1200.3v-5M197.1 747.6v5M272.6 1200.3v-5M272.6 747.6v5M348 1200.3v-5M348 747.6v5M423.5 1200.3v-5M423.5 747.6v5M499 1200.3v-5M499 747.6v5M121.6 776.6h5M574.5 776.6h-5M121.6 814.9h5M574.5 814.9h-5M121.6 843.9h5M574.5 843.9h-5M121.6 882.3h5M574.5 882.3h-5M121.6 911.3h5M574.5 911.3h-5M121.6 940.3h5M574.5 940.3h-5M121.6 1007.6h5M574.5 1007.6h-5M121.6 1104h5M574.5 1104h-5" stroke="#8c8c8c" stroke-width="1.4" fill="none"/>
<path d="M121.6 911.3H574.5" stroke="#111" stroke-width="1.8" fill="none"/>
<text x="114.4" y="757" font-size="23.1" text-anchor="end">50</text>
<text x="114.4" y="786" font-size="23.1" text-anchor="end">25</text>
<text x="114.4" y="824.3" font-size="23.1" text-anchor="end">10</text>
<text x="114.4" y="853.3" font-size="23.1" text-anchor="end">5</text>
<text x="114.4" y="891.7" font-size="23.1" text-anchor="end">2</text>
<text x="114.4" y="920.7" font-size="23.1" text-anchor="end">1</text>
<text x="114.4" y="949.7" font-size="23.1" text-anchor="end">1/2</text>
<text x="114.4" y="1017" font-size="23.1" text-anchor="end">1/10</text>
<text x="114.4" y="1113.4" font-size="23.1" text-anchor="end">1/100</text>
<text x="114.4" y="1209.7" font-size="23.1" text-anchor="end">1/1000</text>
<text x="121.6" y="1230.3" font-size="23.1" text-anchor="middle">-120</text>
<text x="197.1" y="1230.3" font-size="23.1" text-anchor="middle">-80</text>
<text x="272.6" y="1230.3" font-size="23.1" text-anchor="middle">-40</text>
<text x="348" y="1230.3" font-size="23.1" text-anchor="middle">0</text>
<text x="423.5" y="1230.3" font-size="23.1" text-anchor="middle">40</text>
<text x="499" y="1230.3" font-size="23.1" text-anchor="middle">80</text>
<text x="574.5" y="1230.3" font-size="23.1" text-anchor="middle">120</text>
<text x="348.1" y="1261.8" font-size="26.1" text-anchor="middle">SSHA (cm)</text>
<text font-size="26" text-anchor="middle" transform="translate(24.4 973.5) rotate(-90)">Speed/C<tspan font-size="20.5" dy="12">R</tspan></text>
<text x="4.2" y="704.9" font-size="30.6" font-weight="bold" fill="#000">D</text>
<text x="56.2" y="710.8" font-size="34.3" class="se" fill="#000">Travel speed</text>
<path d="M849.7 1031.4A41.1 41.1 0 1 0 931.9 1031.4A41.1 41.1 0 1 0 849.7 1031.4M808.6 1031.4A82.2 82.2 0 1 0 973 1031.4A82.2 82.2 0 1 0 808.6 1031.4M767.5 1031.4A123.3 123.3 0 1 0 1014.1 1031.4A123.3 123.3 0 1 0 767.5 1031.4M726.4 1031.4A164.4 164.4 0 1 0 1055.2 1031.4A164.4 164.4 0 1 0 726.4 1031.4M685.3 1031.4A205.5 205.5 0 1 0 1096.3 1031.4A205.5 205.5 0 1 0 685.3 1031.4M644.2 1031.4A246.6 246.6 0 1 0 1137.4 1031.4A246.6 246.6 0 1 0 644.2 1031.4M890.8 1031.4L1137.4 1031.4M890.8 1031.4L1065.2 1205.8M890.8 1031.4L890.8 1278M890.8 1031.4L716.4 1205.8M890.8 1031.4L644.2 1031.4M890.8 1031.4L716.4 857M890.8 1031.4L890.8 784.8M890.8 1031.4L1065.2 857" stroke="#ebebeb" stroke-width="1" fill="none"/>
<text x="897.6" y="1000.8" font-size="24.1" text-anchor="middle">20</text>
<text x="904.8" y="960.5" font-size="24.1" text-anchor="middle">40</text>
<text x="912.4" y="920.4" font-size="24.1" text-anchor="middle">60</text>
<text x="919" y="879.9" font-size="24.1" text-anchor="middle">80</text>
<text x="926.8" y="839.3" font-size="24.1" text-anchor="middle">100</text>
<text x="934.2" y="799.2" font-size="24.1" text-anchor="middle">120</text>
<path transform="scale(.5)" d="M1870 1628zm-82 44zm-32 8zm37 12zm231 11zm-288 7zm-87 7zm147 17zm-10-4zm-58 8zm47 12zm-67 1zm-122-4zm142 12zm104-1zm172 3zm-433 3zm-23 0zm245 11zm19-7zm154 5zm-13 7zm-126-2zm-214 4zm-76 0zm171 6zm332-3zm10 5zm-59 4zm-41 3zm-80 1zm-16 1zm-12-2zm-151-1zm-118-3zm-94 0zm281 13zm4-1zm56 0zm59 1zm87-4zm-29 13zm-60-7zm-106 7zm-42-5zm-46 0zm-35-1zm39 14zm158-1zm27-4zm195 13zm-240-4zm-115-2zm-101 6zm-50 8zm22-3zm37-1zm276-2zm157-1zm51 12zm-1 0zm-19 2zm-178 1zm-24-1zm-48-2zm-12 0zm-1 0zm-25-3zm-6 4zm-4-5zm-72 3zm-29 2zm-31-3zm-29 6zm43 5zm12 0zm3 0zm44 0zm19 1zm35 1zm154-3zm4 2zm39 1zm-63 8zm-18-4zm-1 1zm-12 0zm-29 0zm-14 3zm0-7zm-62 1zm-5 4zm-5-5zm-27 2zm-10-1zm-7 6zm-30-1zm-39-1zm-5-1zm-3-4zm-32 7zm-2-6zm-91 14zm168-7zm3 6zm18 1zm3-7zm26 2zm53 1zm13 4zm17-7zm32 3zm30 1zm2-2zm9 0zm10 1zm44-1zm-142 11zm-1-2zm-59 4zm-21 0zm-21-5zm-47 3zm-21 1zm-21-6zm-211 6zm-9 5zm179 1zm72-1zm51 4zm6-6zm8 4zm8 0zm13-3zm27 5zm38-6zm9 0zm10-1zm3 1zm9 2zm26 3zm66-4zm37 5zm108-7zm-152 8zm-27 6zm-10 0zm-2-3zm-14 3zm-15-1zm-27-5zm-9 1zm-31 5zm-4 0zm-26-5zm-5-1zm-14 7zm-13-1zm-6 1zm-15-3zm-68 0zm-38 1zm-2 0zm-32 2zm68 8zm3-3zm9-1zm39 2zm29-5zm0 2zm7 5zm3 0zm16-6zm2 2zm5 0zm1 4zm11-7zm15 7zm6-5zm5 3zm5-1zm29 2zm10-1zm10 1zm24-2zm47 0zm59 2zm48 1zm80-4zm33 5zm-187 7zm-45-5zm-4 1zm-25 4zm-6-3zm-4 2zm-1-4zm-1 0zm-14 5zm0-7zm-13 1zm-22 1zm-1 1zm-12 1zm-3-1zm-4 0zm-51 4zm-20-7zm-6 7zm-6-1zm-18-6zm-2 3zm-3 2zm-6 2zm-14-3zm-10 3zm-21-7zm-15 3zm-38 0zm-15 0zm-15 1zm32 11zm31-5zm12-1zm19 0zm5 5zm1 1zm23-2zm4 0zm21 1zm6-3zm4 0zm20 1zm1 1zm8-2zm2 3zm8 1zm2-7zm6 5zm2 2zm6-6zm20-1zm3 1zm7 6zm6-7zm12 1zm1 6zm3-3zm0 1zm1 1zm1-4zm52 5zm1-2zm6 2zm2-5zm13 0zm10 4zm2-5zm21 2zm-7 10zm0-1zm-4 0zm-13 2zm-15-5zm-12 2zm-20 2zm-3-2zm-1 4zm-1-3zm-4-3zm-1 1zm0-1zm-2 3zm-16-4zm-1 4zm-3-4zm-1 3zm-2 1zm-11 2zm-2 0zm-1-2zm-4 3zm-2-4zm-4 3zm-7-6zm-11 1zm-7 1zm-13-1zm-3 0zm-23 4zm-5-3zm-1 0zm-8 1zm-2 3zm-5-6zm-6 6zm-8-3zm-20 2zm-26-4zm-14 3zm-47-2zm-16 0zm-4 3zm-7 4zm78-1zm0 7zm18-4zm4 4zm6-7zm17 6zm4 0zm22-6zm21 0zm6 0zm1 7zm6-6zm11 3zm3 3zm1-5zm5 0zm6-1zm17-1zm2 4zm3-4zm17 1zm1-1zm0 4zm2 3zm11-4zm2 2zm4 1zm3-1zm7 0zm5-4zm10 4zm3-5zm11 6zm19 1zm13-7zm6 3zm15 4zm1-5zm30 0zm88 3zm45 0zm-92 3zm-7 2zm-13-2zm-28 6zm-25 0zm-18-6zm-2 2zm-21 1zm-2 1zm-2-1zm-26-3zm-1 2zm-16 2zm-4 3zm-7 0zm0-5zm-5 2zm-13-4zm-2 3zm-3 4zm-6-6zm-5 2zm0-3zm-1 4zm-21 0zm-2-4zm-3 3zm-12 1zm0-4zm-21 7zm-4-7zm-11 1zm-3 6zm-10-1zm-26 1zm-17 0zm-38 5zm22 2zm2 0zm28 1zm11-3zm17-2zm4 3zm2-1zm1 2zm5 1zm2-3zm10 3zm9-4zm4 3zm22-4zm1 1zm11 2zm0 1zm1-1zm2 2zm5-7zm3 1zm1 3zm7 1zm8-3zm13-2zm1 4zm2 2zm1-6zm11 0zm2 6zm2-5zm2 2zm2-3zm9 0zm3 3zm7 1zm2-2zm1-1zm8 5zm25-6zm2 1zm0 2zm1 4zm22-7zm11 4zm4-2zm39 4zm65-2zm-85 8zm0-1zm-13 0zm-20 1zm-14-2zm-2 3zm-1 2zm-5-2zm0-2zm-8 2zm0-2zm-9 1zm-5 2zm-3 0zm-4-3zm-6-1zm-9 4zm-8-6zm-2 7zm-3-3zm-5-4zm-1 6zm-7-6zm-2 0zm-5 2zm-1 2zm-2 2zm-2-1zm-2 2zm-1-1zm-1 0zm-3-1zm-2 2zm-4-6zm-5 0zm-4 4zm0-1zm0-1zm-3-2zm-8 3zm-1-1zm-1 4zm-1 0zm-10 0zm-2-1zm-3-4zm-1 2zm-2 0zm-2 2zm-17-5zm-4 0zm-6-1zm-7 6zm-5-5zm-2-1zm-2 5zm-15 2zm-1-3zm-3-4zm-1 7zm-2-1zm-3-4zm-8 1zm-3-3zm-8 4zm-6-1zm-4 3zm-18 0zm-29 0zm-9 0zm-15-2zm-2 2zm-13-3zm-156-2zm177 7zm37 5zm11-3zm18-2zm12 0zm8 2zm3 3zm3-3zm0 3zm2 2zm8 0zm11-7zm6 0zm1 0zm23 4zm7 3zm5-3zm4 1zm2 1zm3-3zm10 3zm1-3zm4-2zm2 0zm1 6zm4-3zm2-3zm1-1zm4 1zm0 2zm0 4zm1-4zm2 0zm3 4zm1-7zm1 6zm2-6zm4 2zm2 4zm2-5zm1 0zm1 4zm1 2zm1-4zm4 1zm0 3zm2-2zm2-3zm0 1zm3 1zm4 3zm1-4zm1 1zm3-4zm1 6zm3 1zm2 0zm2-5zm0 5zm1 0zm2-7zm0 3zm21-1zm0 5zm2-1zm1-4zm11-1zm0 4zm4-4zm7-1zm5 2zm0 4zm7-3zm1 3zm8-2zm9-2zm14 1zm25 1zm45-1zm17-3zm84 4zm-43 9zm-100-4zm-9 1zm-8 3zm-26-5zm-13 0zm-9 4zm-2-4zm-7 7zm-2-6zm-6 3zm-2 1zm-1-3zm-5 1zm-2 0zm-8-1zm-5 2zm-2 1zm-2-3zm-3 1zm-2-2zm-1 2zm-3 2zm0-3zm-1 1zm-7 4zm-1-3zm0-2zm-1-2zm-1 3zm-1 0zm-1 3zm-2-1zm-1 1zm-2 1zm0-5zm-1 1zm-2 4zm0-1zm-2-4zm-1 4zm0-5zm-2 5zm-1-2zm0-3zm-6 2zm-3 1zm-2 3zm0-5zm0-2zm-2 6zm-2-6zm-1 5zm-1-2zm-4-2zm-2 4zm-1-2zm-1 4zm-1-1zm-2 0zm0-3zm0-2zm-3 3zm-1 3zm-2-7zm-1 3zm-3 2zm-1 2zm0-3zm-2 3zm0-5zm-1 5zm-3 0zm-2-6zm-2 3zm-2 1zm-5 2zm0-4zm-2 4zm0-2zm-2-4zm-1 6zm-1-4zm-2 4zm0-1zm-4-4zm-6 4zm-2 1zm-2 0zm-1-1zm-1-4zm-1 4zm-6 1zm-2-3zm-6-1zm-1 3zm-3-3zm-16 4zm0-2zm-6-1zm-1 3zm-25-7zm-26 5zm-24-5zm-77 6zm-85 7zm53-1zm63-4zm1 6zm22-2zm14 3zm13-6zm27 6zm25-1zm2-5zm18-1zm6 7zm1 0zm5-7zm1 3zm4 0zm6 0zm0 3zm1-2zm1 1zm4-3zm1-2zm1 3zm0 1zm3-1zm1-1zm0 3zm4 2zm5-6zm1 2zm4 0zm1-3zm2 7zm1-6zm0 4zm2-2zm1-1zm1 0zm4 5zm5 0zm1-5zm1 5zm1-2zm1-3zm0 2zm0 2zm1-2zm1 2zm2-1zm4-4zm1-1zm2 3zm0 4zm1-5zm5 4zm4-5zm2 3zm1-2zm2 2zm2-3zm0 2zm6-3zm0 2zm0 1zm0 3zm1-1zm5-1zm1-4zm0 7zm1-6zm6 1zm0 2zm1-3zm0 3zm0 1zm1-3zm1 2zm1-3zm2 4zm3 1zm0 1zm3-6zm1 1zm2 2zm0 2zm0 1zm2-6zm2 5zm0 1zm1-1zm2 1zm1-5zm0 4zm1-2zm0 2zm3 1zm1-1zm0 1zm1 0zm2-3zm1 2zm5 1zm1-2zm3 1zm1 1zm2-4zm4 2zm2-1zm5-4zm2 2zm0 5zm1-3zm1 2zm1 1zm2-3zm2-1zm2 2zm5-3zm4-2zm3 3zm3 2zm2-3zm5 4zm5-5zm11 0zm5 6zm15-7zm8 0zm5 3zm8-1zm10-2zm4 2zm39-2zm5 3zm5 1zm32 1zm48-5zm-29 14zm-85-3zm-9 2zm-18 2zm-28 0zm-7-3zm-1 3zm-1-2zm-10-3zm-1 2zm-3 3zm-3-6zm-1 3zm-20-3zm-1 3zm0-1zm-6-2zm-2 0zm-7 2zm-2 4zm-3 0zm-6-6zm-3 0zm-3 6zm-1-3zm0-2zm-1-1zm-3 3zm-1-1zm-2-1zm-1 4zm-4-4zm-4 3zm0-2zm-1-2zm-2 4zm-1 2zm0-1zm0-1zm-1 1zm0-4zm-1 4zm0-5zm-1 6zm0-2zm-1 2zm0-5zm-1-1zm-4 4zm0-1zm0-1zm-2 4zm-1-2zm0-1zm-1 3zm0-5zm-5 1zm0-2zm-2 6zm0-1zm-1-3zm0-3zm-2 6zm0-3zm-1-1zm-2 3zm-3 1zm-1 1zm-3-2zm0-2zm0-1zm-1 0zm-1 1zm-1 4zm0-4zm-2 4zm-2 0zm-1-5zm0-2zm-1 4zm-3 3zm0-3zm0-4zm-1 5zm0-2zm0-3zm-1 3zm-1 3zm-1-5zm-2 6zm-1-7zm-1 5zm-1 2zm0-3zm-1 3zm0-2zm-1 0zm0-4zm-3-1zm-4 7zm-2-6zm-1 4zm-1 2zm-2-1zm-3-1zm0-4zm-1 5zm-2-6zm-1 6zm-1-1zm0-1zm-2-1zm-1 3zm-1-6zm-2 5zm0-3zm-1 2zm-6 3zm-2-5zm-1 0zm-2 5zm-1 0zm0-1zm-1-3zm-1 3zm-1-6zm-3 7zm-2-1zm0-1zm-3-1zm-5-3zm-4 4zm-1-3zm-7 4zm0-3zm-1 4zm-2-1zm-8-3zm-5-1zm-1 2zm-3-1zm-9 0zm-9 0zm-6-3zm-16 4zm-1-1zm-4 1zm-5 0zm0-1zm-16 1zm-179 0zm48 4zm65 1zm34 1zm11 2zm7 1zm14 0zm10-2zm9-3zm10 4zm13-3zm0 2zm0 2zm6-5zm10 1zm2-1zm1 7zm1-3zm8 0zm0 2zm2-1zm1-3zm6 3zm4-3zm3 1zm7-2zm6 1zm0 2zm0 2zm1-4zm1 5zm6-4zm0 2zm1 2zm3-6zm0 5zm4-1zm1 1zm3-3zm5-1zm0 3zm0 2zm1-6zm0 1zm0 3zm2-3zm0 2zm0 2zm1-3zm0 1zm0 1zm1-3zm0 1zm2 0zm2 0zm1-1zm2 1zm1 3zm1 1zm3-5zm2 3zm2-5zm2 4zm1 3zm1-7zm3 3zm1 4zm1-5zm2 1zm2-1zm2 2zm2-3zm1 3zm1-3zm0 3zm0 2zm1-6zm0 3zm0 3zm1 0zm1-1zm2-5zm0 4zm1-1zm0 3zm0 1zm1-4zm0 2zm1-2zm0 3zm1-4zm1-2zm0 1zm0 4zm1-1zm1 1zm1 2zm1-2zm0 1zm1-4zm1 5zm1-4zm1 2zm0 2zm1-6zm1 5zm1-6zm2 4zm0 1zm1-3zm0 3zm1-5zm0 3zm1-1zm1-2zm0 1zm1 6zm1-7zm0 1zm0 1zm1 0zm1 4zm0 1zm1-4zm0 2zm1-1zm0 2zm1-6zm1 4zm1-4zm3 4zm0 1zm1-2zm0 1zm1 0zm0 3zm2-3zm3 2zm2-3zm0 2zm0 2zm4-1zm3-4zm0 4zm2-1zm3-5zm2 0zm0 3zm1 0zm1-1zm0 1zm0 4zm1-3zm3-3zm2 6zm1-3zm0 3zm1-3zm1 2zm2-6zm1 5zm1-4zm0 2zm2-2zm0 6zm2 0zm5-5zm0 1zm1 4zm1-4zm1 4zm1-7zm1 5zm6-4zm2 2zm1 2zm7 1zm5-1zm3-3zm8 4zm2-1zm2 1zm13-1zm8-3zm4 1zm4 1zm18 1zm8 0zm20 0zm54-3zm1 4zm6-5zm24 5zm40 2zm-56 5zm-44 2zm-5 0zm-25-7zm-1 1zm-26 5zm-2 1zm-15-5zm-6 3zm-3-4zm-1 2zm-5-3zm-16 1zm0-1zm-11 7zm-3 0zm-2-4zm-3-1zm-5 2zm-2 3zm-2-3zm-2 3zm-1 0zm-4-6zm-1-1zm-1 7zm0-3zm0-2zm-3 4zm-2-3zm-1 2zm0-3zm-3 5zm-2-5zm-3-2zm-1 5zm-1 2zm0-5zm0-1zm0-1zm-5 5zm-1 1zm-1-2zm-1-3zm-2 6zm-2-3zm-1 3zm0-7zm-1 5zm-1 2zm-2-4zm-1 4zm-1-1zm0-3zm0-3zm-1 7zm-1-1zm-1-1zm-1-5zm-1 4zm0-4zm-1 7zm-1 0zm0-5zm-1 4zm0-1zm0-3zm-1 1zm-2 1zm0-3zm-1 4zm0-2zm0-1zm-1 5zm-1 0zm-1 0zm0-3zm0-1zm0-3zm-1 5zm0-2zm0-2zm-1 4zm-1-2zm0-2zm-1 6zm0-5zm-1 2zm-2 3zm0-2zm0-4zm-2 6zm0-5zm0-1zm-1 6zm0-4zm0-2zm-1 4zm0-4zm-2 4zm0-3zm0-1zm-2 5zm0-1zm0-3zm0-1zm-1 2zm0-3zm-1 7zm0-2zm0-1zm0-1zm0-1zm-1 5zm-1-2zm0-5zm-3 7zm0-2zm0-2zm0-3zm-1 7zm0-2zm-1 0zm-1-1zm-1-1zm0-3zm-1 6zm-5-2zm-1 1zm0-1zm-1 2zm0-1zm0-5zm-1 7zm0-7zm-3 6zm0-1zm0-2zm-1 3zm-2 0zm0-4zm0-2zm-1 7zm0-3zm0-4zm-1 7zm0-5zm-2 5zm-1-3zm0-4zm-1 4zm0-2zm-2 1zm-1 1zm0-1zm-1-2zm-2 6zm0-3zm-1 3zm0-2zm0-2zm-2 4zm0-4zm-1 3zm0-1zm0-3zm0-1zm-1 1zm-1 2zm0-3zm-1 6zm0-3zm0-4zm-1 4zm-4 1zm0-4zm0-1zm-1 5zm0-3zm0-2zm-1 7zm-1-6zm0-1zm-1 7zm0-4zm0-1zm-1 0zm-3 5zm-4 0zm-1-4zm-1-3zm-1 6zm0-1zm-2-4zm-2 5zm-2-1zm-1-2zm-1 4zm-4 0zm-4-6zm0-1zm-2 2zm-1 2zm-1 3zm-4-6zm-1 2zm-1-3zm-3 3zm0-2zm-3 3zm0-2zm-5-2zm-1 6zm-2-3zm-3-1zm-4-1zm-1 1zm-2 0zm-7 4zm-2 1zm0-4zm-3-2zm-4 6zm-5-4zm-16 3zm0-4zm-5-2zm-1 2zm-8 5zm-3-6zm-24 3zm0-2zm-5 1zm0-2zm-12 3zm-3 1zm-20-5zm-127 12zm162-3zm9 3zm12-4zm5 5zm11 0zm14-3zm14 3zm10 1zm2-5zm1 2zm3 1zm5 0zm1-3zm10 0zm3 0zm8 4zm1-4zm1 4zm2 0zm1 0zm1-2zm1-1zm1 2zm0 1zm1-1zm4 2zm0 1zm1-7zm2 0zm1 3zm5 3zm1-3zm0 1zm4 3zm2-3zm2-1zm3-2zm3 4zm1-3zm0 1zm0 3zm1-3zm0 3zm1 0zm1-2zm1-4zm1 1zm1-1zm0 2zm0 4zm1-6zm1 5zm0 1zm1-2zm0 2zm2-5zm0 1zm0 4zm1-1zm0 2zm1-7zm0 2zm0 1zm0 3zm0 1zm1-7zm0 3zm1 3zm0 1zm1-6zm0 4zm1-1zm1-1zm0 1zm1-3zm0 2zm0 2zm1-4zm0 1zm0 2zm1 1zm0 1zm1-1zm0 1zm0 1zm1-7zm0 4zm0 1zm0 1zm2-5zm1 4zm0 1zm0 1zm1-5zm0 1zm0 1zm1 1zm0 2zm1-7zm0 1zm0 2zm0 4zm1-1zm0 1zm2-7zm0 1zm1 1zm0 2zm1 2zm1-5zm0 4zm1 0zm0 1zm1-5zm0 2zm0 2zm1 0zm1-4zm1 5zm1-6zm0 3zm0 1zm0 2zm2-6zm0 6zm1-5zm0 1zm0 1zm0 1zm0 1zm0 1zm1-4zm0 1zm0 4zm1-4zm0 2zm1-4zm0 1zm1 0zm0 2zm0 1zm0 1zm1-2zm0 2zm1-6zm0 4zm0 2zm1 0zm0 1zm1 0zm1-7zm0 1zm1 0zm0 3zm1-1zm0 1zm1-3zm0 1zm0 1zm0 2zm1-5zm0 4zm0 1zm1-5zm1 1zm0 5zm1-4zm0 1zm0 3zm0 1zm1-5zm0 3zm1 0zm0 2zm1-7zm2 3zm1-3zm0 1zm0 2zm1 2zm1-1zm1-3zm0 3zm0 1zm0 2zm1-5zm1-2zm0 1zm0 2zm0 1zm0 1zm1-5zm0 6zm1-3zm0 3zm2-1zm1-2zm2-3zm0 5zm1 2zm1-3zm0 2zm1-3zm0 2zm2-5zm1 1zm0 2zm2 0zm0 3zm1-6zm0 4zm1 3zm1-7zm3 5zm1-5zm1 5zm0 2zm1-1zm1 1zm2-6zm3 0zm1 3zm0 3zm1-6zm2 0zm0 2zm0 1zm0 1zm2-5zm3 2zm0 3zm0 1zm1-5zm0 2zm0 4zm3-6zm0 3zm0 2zm3-6zm1 1zm1 2zm1-1zm0 4zm4-1zm2 1zm1-3zm1 2zm1 1zm2-2zm4 3zm2-5zm0 3zm2-4zm0 1zm2-1zm4 5zm3-6zm6 7zm1-1zm1-2zm2-4zm0 4zm8 3zm43-5zm19-2zm8 5zm2-4zm13 1zm46 1zm65 4zm-16 2zm-70 1zm-23-2zm-8 7zm-32-7zm-5 3zm-32 1zm-1 0zm-1-1zm-6 2zm-1-1zm-3 2zm-1-5zm-4 6zm-1 0zm-3-6zm0-1zm-2 1zm-1 4zm-2-3zm-2 5zm-4 0zm-1-7zm-1 5zm-3 2zm-2-4zm-5 0zm-11 1zm-3 0zm-2 1zm-2-3zm-2 4zm-2-3zm-3-2zm-4 5zm-1-2zm0-2zm-2-1zm0-1zm-1 5zm-1 0zm-2-1zm-1 2zm0-4zm-1 4zm0-6zm-1 5zm0-2zm0-1zm0-1zm-1 6zm-1-6zm-1 4zm0-2zm-1 2zm-1-2zm-1 2zm0-4zm-1 4zm0-1zm0-1zm0-3zm-1 6zm0-1zm-2-3zm0-2zm-1 6zm0-1zm0-1zm-1 0zm-2 2zm0-1zm0-3zm-1 1zm-1 4zm0-3zm-1 1zm0-5zm-1 1zm0-1zm-1 2zm-1 3zm-1 0zm0-2zm-1 4zm0-1zm0-2zm0-2zm0-2zm-1 1zm-1 1zm-2-2zm-1 2zm0-2zm-1 2zm-1 1zm0-1zm-3-2zm-4 0zm-2 0zm-24 0zm-1 0zm-1 1zm0-1zm-1 1zm-1-1zm-2 2zm-1 0zm0-1zm-1 3zm-3 0zm-1-2zm-1 1zm-1 3zm0-2zm0-3zm0-1zm-1 3zm0-3zm-1 7zm0-2zm0-2zm0-2zm-1 5zm0-2zm-1 2zm-1-4zm-1 5zm0-2zm0-1zm0-1zm0-1zm0-2zm-1 6zm0-3zm0-2zm-1 2zm-1 4zm0-2zm-1 1zm0-6zm-1 4zm-1-3zm-1 1zm0-1zm-1 6zm0-3zm0-1zm-1 1zm-1-1zm0-1zm0-1zm-2 1zm0-2zm-2 1zm-1 5zm0-1zm-1 2zm0-1zm0-4zm-2 2zm0-4zm-2 7zm0-2zm0-3zm-2 2zm-1 2zm-2-1zm-1-3zm0-1zm-2 6zm0-4zm-1-1zm-3 5zm0-4zm-1-3zm-4 6zm-1-6zm-4 5zm-3-5zm-2 4zm0-3zm-2 6zm0-7zm-2 4zm-2-3zm-1 4zm-1 0zm-1 1zm-2-4zm0-2zm-1 0zm-3 1zm-1 4zm-2-1zm0-2zm-2-2zm-1 6zm-8-6zm-5 7zm-4-4zm-5 1zm-1-2zm-2 4zm-5-4zm-11-2zm-22 4zm-13 3zm-30-1zm-33-3zm36 11zm3 1zm61 0zm5-4zm0 2zm7 0zm6-4zm4 3zm6 1zm5-2zm4 1zm1 0zm1-3zm1 0zm2 1zm2-1zm2 4zm3-4zm5 6zm1-7zm0 2zm0 5zm1-4zm0 1zm1-1zm0 3zm2-2zm1 2zm1-2zm2-4zm1 7zm2-7zm2 6zm1-4zm0 2zm3 1zm0 2zm2-5zm2 3zm0 2zm1-7zm0 6zm2-2zm0 1zm1 1zm2-6zm0 6zm1-6zm2 2zm1-2zm0 6zm2 0zm2-6zm0 5zm0 1zm1-6zm1 5zm0 2zm1-5zm0 2zm1 0zm0 1zm1-4zm0 2zm1 1zm0 1zm0 1zm0 1zm1-7zm0 5zm0 1zm1 0zm1-5zm0 1zm1-1zm0 6zm1-4zm1 0zm0 1zm1-1zm0 2zm2-1zm2-3zm0 1zm2 0zm1-2zm62 1zm2 0zm0 2zm1-2zm0 3zm1 0zm1 0zm1-4zm0 1zm0 1zm0 4zm1-6zm0 4zm1-4zm0 2zm0 2zm0 3zm1-7zm0 5zm0 1zm1-2zm0 1zm0 2zm1-3zm1-4zm0 5zm0 2zm2-3zm1-4zm0 1zm0 5zm1-3zm0 3zm0 1zm1-6zm0 3zm1-2zm0 2zm0 1zm0 2zm1-7zm0 5zm1-5zm0 5zm1-4zm0 6zm3-3zm1-1zm0 1zm1 3zm1 0zm1-5zm0 2zm2 1zm2-1zm1-1zm1 0zm0 4zm1-7zm1 6zm1-6zm0 2zm0 5zm1-2zm1 2zm1-3zm0 3zm1-3zm1 0zm1 0zm2-2zm1 4zm4-4zm1 4zm2-4zm5 2zm1-3zm1 3zm4-3zm1 0zm2 3zm1 0zm8-2zm1 4zm1-4zm1 0zm3 2zm4 2zm0 1zm2-4zm2 1zm8 0zm2 1zm8-4zm16 1zm42 0zm19-1zm12 6zm36-6zm4-1zm16 5zm2 2zm36 1zm-68 1zm0-1zm-16 4zm-23 0zm-11-2zm-11-2zm-14 5zm-2-3zm-9 3zm-15 1zm-3-2zm0-1zm-2-2zm-1 3zm-27 3zm-4-6zm-15 4zm-4 2zm-1-7zm-1 7zm0-5zm0-1zm0-1zm-5 0zm-2 5zm0-1zm-1-3zm-1 6zm0-4zm-1 1zm-2-2zm-1 3zm-2 1zm0-6zm-1 7zm-4-1zm-1-6zm-1 6zm-1-6zm-1 2zm-1 2zm0-2zm-1 4zm-1-1zm0-1zm-1 2zm-2-5zm-1 0zm-1 4zm-1-4zm-1 6zm0-1zm-2-3zm0-2zm0-1zm-1 5zm0-1zm-2-2zm-1 5zm-1-5zm0-1zm-2 1zm0-1zm-1 4zm0-1zm0-4zm-1 7zm0-3zm0-4zm-1 7zm0-6zm-1 4zm0-1zm0-3zm-1 4zm-1 2zm0-1zm0-1zm0-2zm-3 3zm0-1zm0-3zm-1 4zm-1 0zm0-3zm0-3zm-1 0zm-1 3zm-78 0zm-1-2zm0-1zm-2 6zm0-2zm-1 1zm0-3zm0-2zm-1 7zm0-1zm0-4zm-1 4zm0-1zm0-2zm0-1zm-2 3zm-1 2zm0-2zm0-3zm0-1zm0-1zm-1 6zm0-2zm0-2zm0-2zm-1 3zm0-1zm-1 2zm0-2zm-1 1zm0-1zm-1 2zm0-2zm-1 3zm-4 0zm0-1zm-1 3zm0-7zm-4 4zm0-3zm-1 5zm0-3zm-3 2zm0-2zm0-3zm-1 4zm0-2zm-1 4zm0-3zm-1 4zm0-2zm-1-3zm-1 5zm-1-3zm0-3zm-2 5zm0-1zm-2-2zm-1 2zm-3-1zm0-1zm-1 0zm-1 0zm-2-1zm0-1zm-1 4zm-1 2zm-3-1zm0-1zm0-1zm-1 3zm-1-4zm-3 1zm-4-2zm-5 1zm-14 3zm-4-5zm-5-1zm-2 7zm-3-4zm-16 2zm-2 2zm-3-2zm-3-2zm-29-2zm-14 2zm-14 2zm-15-2zm-51 1zm-15 7zm12-1zm9 3zm1-2zm50 2zm4 1zm8 1zm40-6zm15 2zm17-2zm2 4zm2-2zm7 3zm8 1zm2-2zm3-3zm4-2zm0 7zm1-2zm4 1zm1-4zm0 2zm3 0zm1-4zm1 2zm0 1zm0 3zm4-4zm3 0zm1 3zm2 2zm1-3zm1 2zm1 0zm1-3zm2 1zm2 1zm4-5zm1 2zm1 4zm1-4zm0 1zm1-3zm0 7zm2-6zm1 0zm2 4zm3-2zm3-3zm0 1zm0 1zm1 1zm2 1zm0 1zm0 2zm2-2zm0 2zm1-6zm0 1zm0 4zm1-4zm0 5zm1-5zm0 2zm0 2zm0 1zm1-3zm0 3zm1-4zm1-2zm1-1zm1 0zm0 2zm0 1zm1 2zm0 1zm0 1zm1-7zm0 4zm1-4zm0 5zm0 2zm1-4zm1-1zm88 2zm2-2zm0 1zm1-2zm0 1zm0 2zm0 1zm2-5zm0 1zm0 4zm1-2zm0 1zm0 3zm1-6zm1-1zm0 2zm0 2zm0 1zm0 1zm1-6zm1 2zm0 3zm1-4zm0 5zm0 1zm1-6zm0 6zm1-7zm0 1zm0 2zm0 3zm1-4zm0 2zm1-3zm0 6zm3-4zm1-3zm0 6zm2-2zm1-3zm0 3zm0 1zm1-5zm1 2zm0 2zm0 2zm1-6zm1 4zm2 0zm1-2zm0 5zm1-2zm1-2zm1-3zm0 4zm1-4zm0 2zm1 5zm1 0zm1-4zm0 3zm1-6zm1 1zm0 6zm1 0zm2-3zm2-3zm1 3zm2 1zm1-2zm0 3zm1-3zm5-1zm0 4zm2 1zm3-6zm1 3zm0 3zm9-1zm5-1zm1 0zm10 2zm1-7zm7 7zm12-6zm26-1zm3 3zm47 3zm57 1zm-66 5zm-2 2zm-17-5zm-15 1zm-5 3zm-10 2zm-1-2zm-2-3zm-2 0zm-6 4zm-1 0zm-9 1zm-8-6zm-1-1zm-5 2zm-3 5zm0-3zm0-4zm-1 3zm0-3zm-2 2zm-1 2zm-1-4zm-7 5zm-5-5zm-1 5zm-3-3zm0-1zm-2 3zm-7 0zm-2-2zm-3-2zm-1 7zm-1-4zm-2 2zm-1 1zm-3-1zm-1-5zm-1 3zm-2 2zm0-1zm0-4zm-1 5zm0-1zm-5-1zm-3 1zm-2 2zm-1 0zm0-2zm-1 1zm0-5zm-1 5zm0-1zm0-2zm0-1zm0-1zm-1 4zm0-1zm-1 3zm-3 0zm0-6zm-1 6zm0-1zm-1-1zm0-3zm-1 3zm0-3zm-1 5zm0-1zm0-1zm-1 3zm0-2zm0-1zm0-1zm-1-2zm-1 5zm0-6zm-1 7zm0-2zm-1 1zm-2 1zm-1 0zm0-1zm0-1zm0-1zm-1 0zm0-3zm0-1zm-2 7zm0-2zm-1-1zm0-2zm-92-1zm-1-1zm-1 5zm0-1zm-1 2zm0-4zm-1 1zm0-1zm-1-1zm-1 1zm-1 5zm-1 0zm-2-1zm0-3zm-1-1zm0-1zm0-1zm-1 5zm0-5zm-1 3zm0-3zm-1 1zm-1 4zm0-2zm0-2zm-1 5zm0-4zm-1-1zm-1 3zm-1-3zm-1-1zm-1 6zm0-1zm0-5zm-1 1zm-1 1zm-1 5zm0-4zm-6 2zm0-4zm-5 1zm-1 0zm0-1zm-1 2zm0-3zm-2 6zm-1 0zm0-6zm-2 3zm-2-1zm-1 5zm0-3zm0-3zm-3 5zm-3-6zm-1 6zm-3 1zm-4-7zm-4 4zm0-4zm-6 3zm-5 1zm-3 1zm0-1zm-3-3zm-6 5zm-5-2zm-1 1zm-21-3zm-35 3zm-17-2zm-72 0zm-32-2zm21 8zm28 0zm57-1zm3 0zm12 2zm26 3zm20-4zm2-1zm0 1zm4 2zm1-1zm2-2zm1 6zm1-6zm4 4zm5 3zm4-6zm3 1zm8-1zm2 4zm0 1zm1-1zm4-5zm0 5zm9-5zm3 2zm3 2zm0 1zm4-3zm2-2zm0 6zm4 0zm3 1zm1 0zm1-2zm2-4zm0 3zm0 2zm2-3zm0 1zm2-3zm0 1zm0 1zm0 1zm1 3zm1-7zm1 3zm2-2zm0 3zm0 2zm0 1zm1-7zm0 5zm0 1zm1-1zm1 0zm1-2zm0 2zm1-3zm0 1zm1 1zm2-4zm1 0zm0 1zm0 2zm1 0zm1-2zm0 1zm0 3zm1 1zm1-5zm0 6zm1-6zm0 4zm1-4zm0 1zm1-2zm0 2zm97-2zm0 1zm0 1zm1-2zm0 4zm0 1zm1-2zm0 1zm1-1zm0 2zm1-5zm0 5zm0 1zm1-5zm0 5zm0 1zm1-4zm1-3zm0 7zm1-7zm0 1zm0 6zm1-7zm0 5zm0 1zm2-6zm2 3zm1-2zm0 1zm0 5zm3-4zm1-2zm0 1zm1-2zm1 0zm0 1zm0 2zm1-1zm0 5zm1-6zm1 5zm1-1zm5 1zm1 1zm1-5zm0 5zm1-3zm1-4zm3 2zm2-1zm0 4zm1-2zm1-2zm0 5zm2 0zm2-3zm1-2zm2 5zm1-2zm0 1zm2-2zm1 2zm1-2zm4-1zm0 4zm2-5zm0 6zm3 0zm4-5zm2 4zm0 1zm5-7zm4 2zm0 5zm2 0zm2-3zm6 1zm0 2zm3-5zm11 5zm1-3zm11 0zm2 3zm1 0zm10-3zm1 2zm1-1zm20-2zm120 10zm-130-1zm-22-1zm-11 0zm-1 3zm-4-6zm-2 1zm-11 2zm-2-2zm-5 3zm-7 0zm-3 0zm-6-4zm-3 4zm-2-1zm-1 2zm-2 2zm0-7zm-3 2zm-2 5zm-4-3zm-2-2zm-1 4zm-1-4zm-2 3zm-1-5zm-3 7zm-4-1zm-3-6zm-2 2zm-1 4zm-1 0zm0-4zm-3 5zm0-6zm0-1zm-1 1zm-1 1zm-1 5zm-2-6zm-2 1zm-1 5zm0-1zm0-3zm0-3zm-1 6zm0-1zm0-4zm0-1zm-2 4zm-1 3zm0-3zm-1 1zm0-5zm-2 7zm0-4zm-3-2zm0-1zm-2 7zm-1-4zm0-1zm-1 5zm0-2zm0-1zm0-4zm-96 7zm-1-2zm0-4zm-1 5zm0-1zm0-2zm0-2zm-1 4zm-1-1zm0-4zm-1 5zm0-2zm-1 4zm0-4zm-2-1zm0-2zm-1 6zm0-1zm0-3zm0-1zm0-1zm-1 6zm0-5zm-1 5zm0-2zm0-3zm-1 4zm0-1zm-1 3zm0-2zm-1 2zm0-1zm0-4zm0-1zm-1 3zm-3 3zm0-1zm0-3zm0-1zm-1 2zm0-2zm0-2zm-1 7zm0-1zm0-5zm0-1zm-1 3zm-1-2zm0-1zm-2 1zm0-1zm-3 6zm-1 0zm-1 0zm0-5zm-1 3zm0-1zm0-3zm-1 5zm-2-4zm-1 3zm-1 2zm0-6zm-2 3zm-2 4zm0-3zm-3-4zm-3 1zm-2 3zm-1-4zm-2 7zm0-2zm-1 0zm-3 0zm-5 0zm-3 1zm0-3zm-3-1zm-10 0zm-1-1zm-3 3zm-1-2zm-27-1zm-137 5zm32 7zm3-4zm22 6zm8-6zm51 5zm36 0zm1-3zm8-2zm13 5zm4-5zm2 1zm1 2zm0 3zm1-6zm1 0zm5 1zm4-1zm0 3zm3-1zm5-1zm1 5zm1-3zm4 1zm1 0zm0 1zm1-3zm1 3zm1-4zm1 1zm0 4zm2-6zm0 4zm2-2zm3-3zm0 3zm1-3zm0 6zm1-6zm1 5zm0 1zm1-3zm1 2zm1-5zm2 4zm0 1zm1 0zm2-4zm2-1zm0 1zm1 1zm0 1zm0 2zm0 2zm1-2zm0 2zm1-4zm0 4zm1-3zm0 1zm0 2zm1-6zm1-1zm0 2zm0 1zm0 1zm0 2zm1-5zm0 1zm0 3zm1-5zm1 6zm1-2zm0 1zm0 1zm1-2zm1-4zm0 1zm0 4zm1-5zm0 4zm1 2zm1 0zm92-2zm0 3zm2-5zm0 1zm0 1zm0 3zm1-3zm1 3zm1-5zm0 3zm0 1zm1-5zm2 5zm1-4zm0 3zm1-5zm0 4zm1-2zm0 1zm0 2zm1-4zm0 1zm0 1zm1-2zm1-1zm0 4zm1-3zm2 1zm1-1zm0 3zm0 2zm1-4zm0 3zm2-2zm1-3zm2 2zm0 4zm0 1zm1-4zm0 3zm1-3zm0 1zm0 1zm1 1zm1-2zm1 1zm1 1zm1-5zm1 2zm0 2zm3-2zm0 3zm3-5zm2 2zm1 3zm4-4zm2 2zm7 0zm2 3zm2-1zm1-4zm2-2zm8 0zm0 2zm16-2zm5 6zm9-1zm1-5zm14 1zm0 6zm18-2zm16-3zm3-1zm5 0zm15 0zm4 2zm6-3zm55 13zm-71-2zm-2 1zm-5-4zm-9 6zm-8-4zm-20 4zm-6-3zm-5 1zm-2 2zm-5-2zm-2 3zm-5-1zm-4 0zm-7-6zm-6 7zm-1 0zm-1-6zm-1 4zm-2-5zm-5 4zm-3 0zm-3 1zm-6-3zm-2 1zm-1-2zm-1 1zm-1 5zm-1-7zm-2 6zm0-3zm-1-2zm-4 5zm-4-3zm0-2zm-1 4zm-1-3zm-1 3zm-1-5zm-2 2zm-1 5zm0-4zm-3-3zm-1 3zm-2 1zm-1 3zm-1-6zm0-1zm-1 5zm0-1zm0-2zm-1 0zm0-2zm-2 4zm-1 2zm-2 1zm0-4zm0-3zm-1 6zm0-2zm-1-3zm-1 5zm-3-5zm-1 6zm0-5zm0-1zm-1 6zm0-1zm0-1zm0-2zm-1-2zm0-1zm-1 0zm-1 0zm-1 6zm0-1zm-1-2zm0-1zm-1 4zm0-4zm0-1zm0-1zm-1 2zm0-1zm-1 4zm0-4zm-1 4zm0-1zm0-4zm-1 7zm0-1zm0-4zm-2 4zm0-5zm-1 4zm-1 2zm-85 0zm-1-2zm-1 1zm-1-2zm-1 3zm0-2zm0-3zm-1 4zm0-6zm-1 4zm0-4zm-1 3zm0-2zm-1 4zm-1-5zm-2 7zm0-4zm-1 4zm0-1zm0-3zm-2 1zm-1 0zm0-2zm0-1zm-1 3zm-1-1zm-2 2zm-1 2zm-2-2zm-1 2zm0-7zm-1 6zm0-5zm-1-1zm-1 6zm-3-4zm-1 4zm0-3zm-1 2zm0-3zm-1 3zm-1 1zm0-4zm-1 3zm-3 1zm-2-4zm0-2zm-1 1zm-1 4zm0-1zm-1-2zm-4 2zm-1 3zm-2-6zm0-1zm-2 7zm-1-3zm-1 0zm-5-2zm-4-1zm-2-1zm-2 1zm-5 0zm-7 4zm0-1zm-2-1zm-1-2zm-2-1zm-5 2zm-5 1zm-1-2zm-15-1zm-4 7zm-29-4zm-104-2zm-84 11zm129-3zm5 4zm48-5zm12 4zm0 1zm18 0zm3-1zm5-1zm4-2zm1 5zm6-1zm4-4zm3 1zm2-1zm0 1zm1 5zm1-3zm2 1zm3-2zm1 0zm4-3zm0 1zm5 0zm0 2zm1-1zm6-2zm5 2zm2 5zm6-2zm1 1zm1-6zm0 3zm1 3zm2 0zm1 1zm3-3zm3-3zm1 3zm1-1zm1 0zm6-1zm1 2zm1-2zm1 5zm2-2zm3-1zm1 2zm2-1zm1 1zm1-5zm0 2zm0 2zm1 2zm1-1zm1-5zm0 3zm2-4zm0 1zm0 2zm1 3zm2-3zm0 4zm1-5zm0 1zm1 3zm0 1zm1 0zm1-6zm1 1zm0 2zm1 0zm1 1zm1-2zm1-3zm0 1zm0 1zm0 2zm1-2zm1 1zm0 1zm0 1zm1-5zm0 2zm1 0zm0 3zm1 1zm1-1zm75 2zm2-2zm0 1zm1-2zm0 2zm1-4zm0 4zm0 1zm1-6zm0 2zm0 1zm1-2zm1 0zm0 1zm0 1zm0 2zm1-1zm1 1zm0 1zm1-5zm0 3zm1 0zm1-3zm0 1zm0 4zm1-1zm0 1zm1-7zm1 5zm0 2zm1-5zm0 2zm0 3zm1-4zm0 2zm0 2zm1-6zm0 2zm0 1zm0 3zm1-7zm0 4zm1-1zm0 4zm1-1zm1-3zm1 4zm1-5zm1 3zm3 0zm1 0zm1-1zm1 2zm1-3zm2 0zm0 1zm1-3zm0 1zm0 3zm1-4zm1-1zm1 4zm1-4zm1 0zm1 3zm2 1zm1 0zm2-1zm1-1zm5 1zm5 0zm2-3zm0 1zm1 3zm1 0zm1 3zm1-3zm0 1zm2 1zm1-5zm1 2zm2 4zm1-6zm15 0zm1-1zm13 3zm6-3zm8 3zm0 2zm13-1zm2 3zm2-6zm3 3zm50-2zm4-1zm71 3zm33-3zm-45 12zm-83-2zm-26-3zm-14 2zm-18 5zm0-4zm-12 2zm-22-4zm-1 2zm-2 1zm-3 0zm-2 2zm-2-4zm0-1zm-3 4zm-5 2zm-5-3zm0-3zm-1 2zm-1-2zm-1 5zm-1-5zm-3 1zm-1 5zm-2-7zm-1 7zm-1-1zm0-2zm-3 2zm0-5zm-1 3zm-1 2zm0-2zm-1-2zm0-1zm-1-1zm-1 6zm0-2zm-2 3zm0-6zm-1 6zm-2 0zm0-5zm0-1zm-1 0zm0-1zm-1 6zm0-4zm-3-1zm0-1zm-1 7zm0-1zm0-1zm-2 1zm0-1zm-1-4zm-1 6zm-1-7zm-2 6zm-1-5zm0-1zm-1 1zm-1 3zm0-3zm-1 4zm-1 0zm-1-3zm0-2zm-1 4zm-1 2zm0-1zm0-3zm-1 0zm-2 0zm0-1zm-2 5zm0-1zm0-1zm-1 2zm-1 0zm-60 0zm-1 0zm0-1zm0-1zm-1 3zm-1-3zm-2 1zm0-2zm-1 2zm-1-2zm-1 1zm-1-4zm-1 4zm0-3zm-1 3zm0-1zm-1 4zm0-3zm0-4zm-1 3zm-2 1zm0-3zm-1 4zm0-1zm0-4zm-1 0zm-1 6zm-1-6zm-1 7zm-1-5zm-1 4zm-1-1zm-1-1zm0-2zm-1 4zm0-6zm-1 3zm0-2zm-1 6zm-1-2zm0-3zm-1 2zm0-1zm0-1zm-3 3zm-2 1zm0-1zm0-5zm-2 1zm-1 4zm0-4zm-1-1zm-1 4zm0-2zm-1 2zm-2 3zm-1-4zm-1 0zm-1 1zm-2 3zm-2 0zm-2-4zm-1 1zm-2 2zm0-3zm0-2zm-2 5zm-2-6zm-3 5zm-1-5zm-1 1zm-1 4zm0-2zm-3 0zm-2 1zm-1-1zm-2-3zm-1 3zm-1 3zm0-2zm0-4zm-1 2zm0-2zm-4 5zm0-1zm0-2zm-4 3zm-4 2zm0-4zm-1 2zm0-3zm-6 5zm-9-2zm-3-4zm-7 2zm-3 0zm-3 1zm0-1zm-2 2zm-5-4zm-2 4zm-3 2zm-14-7zm-9 5zm-36-3zm-19 7zm41 1zm2-2zm2 2zm11-2zm19 4zm11 1zm3-1zm7-2zm2 5zm3-7zm19 3zm5 2zm6-3zm3 5zm1-3zm2-1zm4-3zm0 1zm2 1zm4-2zm0 2zm1 3zm1-5zm1 2zm2-2zm2 4zm1 2zm1 1zm2-1zm3-5zm0 6zm1-5zm0 4zm6-4zm2 4zm1-3zm1 0zm3-1zm1-2zm0 1zm3 1zm0 5zm4-4zm5 2zm1-3zm0 3zm1-1zm0 1zm3-5zm2 0zm0 4zm0 1zm1-5zm0 2zm0 4zm1-2zm1 1zm0 1zm1-1zm0 2zm2-1zm0 1zm1-3zm1-4zm0 1zm0 1zm0 1zm2-3zm0 1zm0 3zm0 1zm0 2zm1-2zm0 1zm1-6zm0 1zm0 5zm1 1zm1-7zm0 1zm0 2zm0 2zm1 0zm0 1zm1 1zm1-6zm1 3zm2-2zm0 1zm0 1zm1 3zm1-4zm0 3zm0 1zm1-1zm0 1zm1-1zm1-2zm0 3zm1-2zm0 1zm1 0zm1 1zm2 0zm1-2zm0 2zm4 0zm10 0zm3 0zm1 0zm3-1zm3 1zm2-1zm0 1zm1-2zm0 2zm2-2zm0 2zm3-3zm0 3zm1-1zm0 1zm1-5zm0 1zm1 1zm0 3zm2-4zm0 2zm1-5zm0 3zm0 4zm1-5zm2 3zm1 2zm1-4zm0 2zm0 2zm2-6zm0 6zm1-2zm1 1zm1-6zm0 4zm0 2zm1 1zm1-5zm0 4zm1-4zm0 3zm0 2zm1-6zm0 3zm0 2zm0 1zm1-4zm1-2zm1 1zm0 1zm0 4zm1-7zm1 7zm1-3zm2 2zm1-4zm1 0zm0 3zm1-4zm0 1zm1 2zm1-4zm0 4zm1 2zm0 1zm3-5zm0 1zm1-2zm1 6zm2-1zm1-4zm7 2zm0 3zm1 0zm7-7zm0 2zm3 5zm1-5zm2 1zm1-2zm0 6zm1-5zm5 0zm0 2zm3-4zm5 0zm8 4zm3-3zm1 0zm1 3zm1-3zm21 5zm5 0zm7-6zm2 2zm0 2zm1-3zm1 6zm25-5zm125-1zm65 3zm-158 9zm-32 1zm-10-3zm-16 1zm-7-4zm-2 6zm-1 1zm-12-2zm-7-4zm-3 1zm-11 0zm-2 5zm-1-3zm-4 3zm0-4zm-1 3zm0-5zm-2 3zm-2 0zm-1-1zm-2 1zm0-1zm0-2zm-2-1zm-1 6zm-5 0zm-5-4zm-3 4zm0-5zm-6 3zm-2-2zm-2 1zm0-3zm-1 2zm-2 2zm-1 3zm0-2zm-3-2zm0-1zm-1 0zm-1 0zm0-2zm-2 1zm-2 4zm-1-4zm-1 1zm0-1zm-3 3zm0-4zm-2 3zm-1-2zm0-1zm-3 3zm-1 2zm-1 2zm0-4zm-1-2zm0-1zm-1 4zm0-3zm-1 4zm0-2zm-1-1zm0-1zm-1 1zm0-2zm-1 2zm-1 5zm0-3zm0-3zm0-1zm-1 6zm-1-5zm-1 5zm-1-1zm0-4zm-1 5zm-2-6zm-1 5zm0-2zm-1 2zm0-3zm-1 0zm-1 2zm0-1zm-2 2zm0-4zm-1 5zm0-2zm0-3zm0-1zm-1 5zm0-2zm-2 4zm0-7zm-1 5zm0-1zm0-1zm-1 3zm0-3zm0-2zm-1 5zm0-1zm0-2zm-1 4zm0-6zm-1 5zm0-5zm0-1zm-1 6zm0-1zm0-2zm-1 1zm0-4zm-1 1zm0-1zm-1 2zm-1 5zm0-2zm0-2zm-1 1zm-2 2zm0-1zm-1-3zm0-1zm-1 5zm0-6zm-1 2zm0-1zm-1 5zm0-1zm0-1zm-1 2zm0-5zm-1 4zm0-2zm0-1zm-1 0zm0-2zm-1 4zm0-3zm-1 6zm0-4zm-1 2zm0-1zm0-3zm0-1zm-1 7zm0-1zm-2-3zm0-2zm-1 4zm0-4zm-1 4zm-1-2zm0-3zm-1 7zm0-4zm0-1zm-1 3zm0-3zm-1 3zm-1 1zm0-3zm0-1zm-1 3zm0-4zm-3 4zm0-1zm-1 0zm0-3zm-4 3zm-1 2zm-1 1zm0-3zm-1 1zm0-5zm-2 4zm-1 0zm-1 2zm0-2zm0-2zm-1 5zm-1-5zm-2 1zm0-2zm-1 6zm0-3zm0-4zm-2 2zm-1-2zm-1 7zm0-4zm-1 2zm-1 1zm-2-3zm0-2zm-1-1zm-1 3zm-1 3zm0-1zm-1-4zm-2 5zm-1 1zm-1-7zm-2 2zm-1-1zm-1 5zm-4 0zm0-2zm0-3zm-2 3zm-1-4zm-2 6zm0-1zm-1-2zm-3-2zm-1 1zm0-1zm-8 1zm-4 3zm-5-2zm-3 4zm0-7zm-2 4zm-7-4zm-1 4zm-2-3zm-1 2zm-2 1zm-4 2zm-7-1zm-2-4zm-8 4zm-2-1zm-2-3zm-3-1zm-3 4zm-8-3zm-7 3zm-18 1zm-34 0zm-60-3zm-6 10zm30 0zm4-4zm50 0zm12 0zm21 1zm4 1zm6 2zm3 1zm0 1zm6-4zm4 1zm1-2zm1 4zm0 2zm6-4zm2 0zm1 1zm1-2zm3-2zm6 4zm1-2zm6 2zm3-3zm0 2zm4 1zm2 2zm3-5zm3-1zm7 2zm6 3zm1-4zm2 1zm0 1zm4 1zm1-3zm0 3zm1-3zm1 3zm0 1zm1-5zm1 3zm0 3zm1-2zm1 1zm4-5zm0 3zm2 3zm2-3zm0 1zm1-1zm2 0zm1-2zm1 0zm0 2zm4-2zm2 1zm0 2zm1 0zm2-2zm0 1zm1 0zm1-1zm0 3zm2-5zm0 3zm1-2zm0 2zm1-2zm0 1zm1 0zm0 5zm2-6zm0 3zm2-2zm0 4zm1-5zm1 0zm1-1zm0 1zm1 4zm1-2zm0 2zm2-5zm0 3zm1-3zm0 2zm1 0zm0 4zm0 1zm2-6zm0 4zm0 1zm1-6zm0 5zm1-5zm1 1zm0 3zm0 2zm1-4zm0 2zm0 1zm0 1zm1-6zm0 4zm1-3zm0 1zm0 4zm0 1zm1-6zm0 1zm1 0zm1-1zm0 1zm1-1zm1-1zm1 7zm1-7zm0 1zm0 2zm1 0zm0 2zm1-4zm0 2zm0 1zm2-4zm1 1zm1-1zm0 1zm0 6zm1-6zm1-1zm0 5zm0 1zm1-1zm1-3zm0 2zm0 1zm0 2zm1-5zm0 3zm0 1zm1-4zm0 1zm0 2zm1 0zm2-4zm0 4zm0 1zm1-4zm1-1zm0 1zm2 5zm1-2zm0 1zm1-5zm0 1zm0 2zm0 2zm1-6zm1 3zm0 1zm1 0zm0 2zm0 1zm1-5zm0 5zm1-1zm1 1zm1-6zm1 0zm2-1zm1 0zm0 1zm0 1zm1 0zm2 0zm0 1zm1-1zm1-2zm0 7zm1-4zm0 4zm1-5zm1 1zm1-1zm0 2zm0 2zm1-6zm2 0zm1 2zm0 2zm2-1zm0 1zm0 2zm1-5zm1 6zm2-4zm1 2zm2-4zm0 2zm2 0zm0 2zm1-2zm2 4zm1-3zm0 1zm0 1zm2-6zm1 0zm1 2zm1 3zm3 2zm2-6zm1 1zm4 5zm2-4zm2 0zm2-1zm0 3zm1-1zm2-1zm2-1zm1 2zm3 3zm2-4zm5 2zm1-3zm6 1zm0 1zm9 2zm23-6zm6 1zm2-1zm2 2zm7-2zm10 1zm10 5zm6-3zm21 3zm1-6zm26 1zm53 8zm-51 1zm-17-2zm-46 6zm-4 0zm-1-3zm-1 2zm-5 1zm-1-6zm-14 6zm-4-6zm-1 0zm-12 6zm-10-1zm-6 2zm0-5zm-1 1zm-7 3zm-1 0zm-1-4zm-1 5zm-1-6zm-6 4zm-4 0zm-2 1zm-5-2zm0-2zm-2-1zm-1 3zm-2 3zm0-6zm-1 5zm-1-4zm-6 0zm-2 0zm-1 2zm-1-3zm-2 6zm-1-4zm-1 0zm-4 1zm-3 0zm-1-3zm-1 1zm-1 5zm-1-7zm-1 1zm0-1zm-1 1zm-2 6zm0-4zm0-2zm0-1zm-1 6zm-1-3zm-3 3zm-1 1zm-1-3zm-1-2zm0-1zm-2 3zm0-3zm0-1zm-2 7zm-1-6zm-1 5zm0-2zm0-3zm0-1zm-1 5zm0-1zm0-1zm-1-2zm-3 3zm-1-1zm0-2zm0-1zm-1 7zm-1-7zm-1 7zm-2-1zm-3-1zm0-3zm-1-1zm0-1zm-1 2zm-4 5zm0-4zm0-1zm-2 3zm-1-1zm0-4zm-2 6zm-2-4zm-1 5zm-1 0zm0-6zm-1 4zm-1-5zm-1 7zm0-3zm-1 1zm0-2zm0-2zm-1 6zm-1-2zm0-2zm-1 2zm0-1zm0-3zm0-1zm-1 4zm-1 2zm0-4zm0-1zm-1 6zm0-6zm-2 2zm-1-1zm-1-1zm-1 4zm0-4zm-3 5zm0-2zm-1-1zm-1 3zm0-3zm0-2zm0-1zm-6 7zm0-4zm-2 0zm-2 2zm-2 2zm0-3zm0-3zm-1 5zm-2-2zm-1 2zm0-3zm-1 0zm0-3zm-1 5zm0-1zm-1 1zm-2-3zm-2-2zm-1 3zm-1 0zm-3 3zm0-2zm0-1zm-1 2zm-2 0zm-2-5zm-1 4zm-1-4zm-1 3zm-1-2zm-2 2zm-8-1zm-4-2zm-1 3zm-1 3zm-9-5zm-8 2zm-8 1zm-6-1zm-3-2zm-11 1zm-2-2zm-9 1zm-21 1zm-8 3zm-36-5zm-31 4zm-102 9zm36 2zm23-4zm5-3zm62 4zm41-1zm11 1zm13 2zm7-4zm1-1zm5 0zm12 5zm10-6zm2 6zm1-5zm9 4zm5-5zm2 7zm3-6zm2 1zm1 1zm2-1zm5 3zm2 1zm1 0zm4-3zm2-3zm1 7zm2-1zm1-6zm4 2zm1 0zm1-2zm0 3zm1 4zm3-4zm2 2zm6-4zm0 4zm0 1zm3-3zm0 1zm1 1zm2-5zm3 3zm3-3zm0 2zm1 5zm2-5zm2 3zm0 1zm2-3zm1 0zm1 4zm2-3zm0 1zm1-2zm3 1zm1 3zm2-3zm2 2zm3-6zm0 7zm3-7zm1 3zm1 1zm1-3zm1 6zm1-7zm0 2zm0 2zm2 1zm1-5zm0 3zm3 4zm4-6zm0 3zm0 2zm2 1zm1-1zm1-2zm0 1zm1-1zm2-4zm0 3zm0 1zm2-4zm0 7zm1 0zm2-6zm1 1zm5 2zm1 0zm4 2zm1-4zm1 5zm4-6zm1 6zm2-7zm2 2zm3-2zm0 5zm4-5zm2 3zm0 2zm1-3zm0 5zm3-6zm0 3zm0 2zm1 1zm1-4zm2 3zm2-3zm1 0zm0 3zm2-3zm0 1zm1 3zm1 0zm2 0zm3-7zm3 5zm5-2zm2-2zm4 5zm5-6zm8 1zm0 5zm6 0zm4-6zm18 3zm2-3zm11 0zm22 1zm4 0zm18 6zm44-4zm24 4zm54 1zm-78 4zm-3 0zm-2 2zm-53 1zm-1-4zm-25 1zm-8-1zm-2 3zm-2 1zm-12-6zm-1 5zm-1 1zm-1-4zm-3-3zm-1 4zm-1 3zm0-5zm-14 2zm-1-1zm-5-2zm-12 1zm-2 0zm-1 4zm0-2zm-1 3zm-4-1zm0-3zm-1 0zm-4 3zm-2-2zm-2-4zm-2 1zm-5 0zm-1 5zm-1 0zm-1-5zm-1 2zm-1 2zm-2 0zm0-4zm-1 0zm-2 2zm-2 0zm-4-2zm-2 0zm-3 4zm-2-3zm0-1zm-1 0zm-2 6zm0-7zm-1 4zm-1 1zm-1-2zm0-1zm-1 0zm-1-2zm-6 6zm-1 1zm0-3zm-2-3zm-1 4zm-1 1zm-1-3zm-2-3zm-2 4zm0-2zm0-2zm-2 6zm0-5zm-1 2zm0-2zm-1 6zm-1-3zm-1 2zm-1-3zm-3 1zm0-2zm-1-1zm-1 3zm-3 3zm-2-7zm-2 7zm-4-3zm0-4zm-1 3zm-5 1zm-1-3zm-3 5zm-2-2zm0-4zm-2 3zm-3 4zm-1-2zm-1 1zm-1-6zm-1 7zm0-2zm0-5zm-2 5zm-4-2zm-3 2zm-6 1zm0-1zm-2-4zm-7 0zm-1 1zm-8 2zm0-2zm-4 3zm-1-1zm-5 1zm-6 1zm-1 1zm0-7zm-10 5zm-11-5zm-6 6zm-7-1zm-9-4zm-13 5zm-8 1zm-1-1zm-24-6zm-11 5zm-3-2zm-27 3zm-57 5zm49 1zm54-1zm14-1zm10-2zm7 6zm12-5zm8 4zm3 0zm2-5zm5 6zm5-4zm1 4zm10-2zm4-2zm1 2zm1 3zm1-6zm2 6zm2 0zm1-7zm6 1zm1 6zm1 0zm8-3zm7 0zm0 2zm1-6zm0 6zm1-5zm1 0zm3 0zm3 6zm8-1zm4-4zm0 3zm2-1zm5-2zm0 2zm2-1zm3 4zm4-5zm0 3zm3 0zm1-3zm3 0zm0 2zm0 3zm5-6zm0 5zm2-6zm0 4zm1-4zm1 7zm1-6zm4 3zm1 1zm1-2zm2-1zm1 3zm2 2zm1-1zm1-3zm2-1zm3 5zm1-5zm1 5zm5-7zm2 2zm1 5zm1-3zm1 2zm3 0zm1-4zm1 3zm1-5zm0 4zm4 1zm3-1zm2-4zm0 6zm1-4zm0 2zm2-1zm4 0zm5 0zm2-3zm2 1zm2 0zm13 2zm1-1zm4 1zm0 3zm2-4zm3 4zm2 0zm4-2zm1-4zm8 0zm3 3zm7-3zm2 6zm3-5zm20 3zm6-4zm1 1zm89 0zm197 7zm-189 1zm-3 3zm-19-3zm-21 6zm-18-2zm-28-1zm-12 1zm-5-3zm-1 1zm-19 2zm-12 1zm0-2zm-47 1zm-3 0zm-7 1zm-1-5zm-2 3zm-2 2zm-9-3zm-3 3zm-1-4zm-1 0zm-2-2zm-4 5zm-2 1zm-2-6zm-1 7zm-1-3zm-2 0zm-1-2zm-4-2zm-3 5zm-2 1zm-1 1zm0-5zm-1 5zm-2-1zm-2-3zm-2 3zm-3-2zm-2-2zm-7-2zm-1 3zm0-2zm-2 4zm-2 1zm0-3zm-2-3zm-1 5zm-2 0zm-4 1zm0-3zm-2 1zm-1 0zm-1-3zm-1 5zm0-6zm-15 6zm-1 0zm-3 1zm-2-6zm-2 1zm-5 0zm-4 5zm-4-7zm-13 6zm-11 0zm-9 0zm0-1zm-22-5zm-40 5zm-204 0zm200 5zm27-1zm9 4zm6 1zm10-3zm11 1zm5-1zm4 4zm1 0zm8-6zm3 5zm1-4zm7 3zm5-1zm5 0zm0 3zm2-7zm1 2zm3 5zm6-7zm17 1zm1-1zm2 5zm3 2zm2-4zm5 1zm0 1zm1-4zm1 2zm4-3zm4 5zm5-2zm3 4zm1-3zm2-2zm1 4zm2 0zm5-2zm3-2zm1 4zm6-1zm8-2zm0 4zm3-7zm0 6zm0 1zm1-5zm4 0zm0 4zm3-6zm8 4zm2-1zm0 1zm1 1zm3 0zm4-1zm8 0zm1 0zm3 0zm7-1zm2-1zm2 0zm7 1zm1 4zm1-3zm16 0zm18 1zm16 2zm1-6zm1 2zm2 2zm23-4zm4 5zm28-3zm57 0zm-54 12zm-30-4zm-24 1zm-24-3zm-4 3zm-5 1zm-1-4zm-2 1zm-11-2zm-15 4zm-2-1zm-9 4zm-6-7zm-9 4zm-18-3zm-5 6zm-2-5zm-6 2zm-2-4zm-1 5zm-7-2zm-4-2zm-1-1zm-2 0zm-1 0zm-3 1zm-2 4zm-3-1zm-2 1zm-4-4zm-6 5zm-2-3zm-5 2zm-3 0zm-1-3zm0-2zm-3 2zm-2 2zm-5-2zm-11 4zm-19-2zm-5-4zm-6 3zm-18 1zm-1 0zm-5 2zm-3-6zm-27 5zm-78-2zm-14 10zm80 0zm7-4zm16 4zm8-4zm7 3zm1 1zm9 0zm5-3zm8 4zm11-4zm4 5zm1 0zm3-6zm19 0zm7 2zm4-1zm10 2zm2 3zm4-2zm9 1zm4-6zm1 4zm4 0zm5-1zm2 4zm7-1zm6-3zm2 1zm1-2zm12 0zm10 2zm4-4zm1 1zm1 0zm3 2zm4-1zm7 5zm1-2zm6-5zm0 2zm2 4zm7 1zm7-4zm1-3zm8 4zm24 3zm6-1zm28-1zm5 1zm12-6zm7 2zm106 5zm-48 7zm-100-2zm-17-3zm-40-1zm-25 1zm-6 3zm-11 3zm-2-5zm-1 0zm-1 4zm0-1zm-8 1zm-1-4zm-4 0zm-8 0zm-7 0zm-2 2zm-9-3zm-13 4zm-6 2zm-2-7zm-4 1zm-3 3zm-2 3zm0-1zm-5 0zm-7-5zm-3 3zm-3 3zm0-4zm-14-1zm-3 0zm-4 3zm-13-5zm-3 0zm-7 3zm-2 0zm-16-3zm-12 5zm-4-2zm-18-2zm-6 5zm-18 0zm-109 5zm107 2zm48-5zm30 3zm27 3zm10-5zm9 6zm10-6zm4-1zm3 5zm6-5zm14 3zm14 1zm1 0zm2 1zm9-4zm1 2zm4 3zm3-6zm3 1zm2 1zm0 2zm11 1zm1-1zm11 2zm26-5zm9 0zm3 2zm8-3zm14 0zm6 7zm5-5zm2 1zm0 2zm58-1zm95 0zm-76 8zm-30 1zm-39 0zm0-1zm-38 3zm0-7zm-9 4zm-2-3zm-6 1zm-21 0zm-1 5zm-5-3zm-9 3zm-1-3zm-12-4zm-6 2zm-2 0zm-6 3zm-20-2zm-9-1zm-9-1zm-11 6zm-5-2zm-1-2zm-5-1zm-6 5zm-1-1zm-1 0zm-7-5zm-9 2zm-15 4zm-5-3zm-8 1zm-14-5zm-32 4zm-41-1zm-163 3zm175 2zm61 2zm2 2zm24 1zm11 1zm2 0zm31-5zm2 3zm10-2zm10 1zm4 1zm2-2zm11 5zm5 0zm1-2zm1 2zm12 0zm6-2zm7 0zm29-5zm5 4zm5-2zm3 5zm3-4zm0 1zm3 3zm27-2zm9-1zm5-1zm1 1zm25-1zm13 0zm12 2zm0 2zm204 0zm-183 2zm-54 2zm-37 3zm-6 0zm-2-6zm-26 4zm-8-4zm-7 5zm-8-3zm-6 3zm-1 0zm-11-3zm-27-2zm-6 2zm-2 2zm0-1zm-11-3zm-3 4zm-18 0zm-1-1zm-8 2zm-33-2zm-2 0zm-6 0zm-29 4zm-40-1zm27 5zm12 4zm37-5zm19 2zm5 1zm8-4zm19 1zm9 4zm9-5zm14 3zm9 0zm10-1zm6-1zm21-1zm2 4zm6 0zm32-1zm2-3zm8-1zm31 0zm2 6zm8-2zm146 1zm-191 9zm-10-1zm-23-5zm-30 0zm-15 5zm-2-2zm-3 4zm-69-3zm-62 0zm-36-4zm-10 9zm105-1zm17 1zm55 4zm28-4zm28 4zm25-1zm35 0zm18 1zm52 2zm31-1zm1 0zm24 6zm-47-1zm-7 0zm-102-3zm-7 1zm-43 0zm-5 3zm-18-2zm-81-2zm-37 5zm-22 0zm-50-3zm-11 0zm-143 13zm19-2zm165-5zm33 2zm29 3zm22 0zm9-1zm40 1zm12 0zm0 1zm52-5zm39 4zm3 2zm11-3zm55 3zm70-7zm14 5zm147 7zm-282-3zm-15 2zm-58-2zm-86 0zm-71 0zm-20 8zm13 4zm12-5zm4 7zm43-4zm5 3zm59 0zm20-5zm118 13zm-46 0zm-27-2zm-101 1zm-5-5zm-77 6zm-215-2zm277 5zm64 2zm27 0zm31-2zm9 5zm44 1zm15-1zm21-4zm100 0zm17 3zm84-1zm-265 7zm-6-1zm-11 2zm-7 0zm-61-2zm-1-2zm-29 4zm-81-4zm-19 6zm-112 8zm89-5zm3 3zm143-1zm8 1zm82-3zm26 6zm78 4zm-18 1zm-100 2zm-123-5zm-76 13zm105 1zm239 1zm-117 7zm-158-5zm-209 5zm90 4zm264-2zm76 10zm-18 3zm-200 0zm-22-1zm-151 1zm67 3zm158 2zm94 6zm-35 1zm-215 2zm273 10zm82 5zm-115 1zm-14-4zm-25 5zm-187-3zm140 12zm89-4zm46-2zm-26 11zm-223 5zm59 14zm-15-6zm64 12zm-205 6zm158 8zm144 13zm-131-4zm-45 11zm293-6zm-211 39zm-43-2z" stroke="#ff0000" stroke-width="3" stroke-linecap="square" fill="none"/>
<path d="M921.2 1031.9L921.8 1035.9L921.1 1039.9L919.1 1043.5L916.4 1046.5L913.5 1049.2L910.8 1051.8L908.1 1054.4L905.1 1056.7L901.6 1058.3L897.8 1059L894 1059.2L890.3 1059.5L886.5 1060L882.4 1060.4L878.3 1060L874.5 1058.5L871.3 1055.9L868.7 1052.8L866.4 1049.7L864.2 1046.5L862.2 1043.2L860.9 1039.5L860.7 1035.7L861.5 1031.9L862.5 1028.4L863.4 1024.9L863.9 1021.3L864.7 1017.5L866.1 1013.9L868.6 1010.8L871.8 1008.4L875.2 1006.5L878.7 1004.7L882.3 1003L886.2 1001.7L890.3 1001.5L894.3 1002.5L897.9 1004.3L901.2 1006.4L904.4 1008.3L907.7 1009.9L911 1011.8L913.8 1014.4L915.9 1017.5L917.4 1021L918.6 1024.5L920 1028.1Z" fill="#0000ff"/>
<path transform="scale(.5)" d="M1798 1597zm-147 10zm107 8zm160 6zm-263 4zm183 1zm-171 12zm124 17zm255 3zm-524 12zm45-4zm442-2zm-128 10zm-77 4zm-84 7zm138-1zm-11 10zm-343-5zm230 9zm87-1zm112 2zm-8 11zm-278 0zm-97-3zm184 7zm46 4zm2-3zm9-2zm111 5zm173 2zm-334 5zm-148-3zm-15 6zm121 7zm59-4zm189 10zm-167-4zm-251 0zm40 8zm69-1zm6 5zm54-1zm100 0zm341 11zm-53-6zm-90 4zm-3-1zm-104-2zm-170-1zm-9-1zm-93 6zm-3 1zm-35-7zm-78 1zm-70 1zm305 11zm35 0zm60-5zm30 1zm30 2zm115 0zm7 0zm112 1zm-57 9zm-176-4zm-53-1zm-89 2zm-28 0zm-6 2zm-32-3zm-10-1zm-190 6zm-12 8zm70-6zm52 5zm12-2zm51 3zm26-2zm85-1zm91 0zm325 10zm-183-3zm-13-1zm-49 1zm-22-1zm-49 0zm-30 4zm-49-4zm-79 5zm-2-4zm-83-2zm-2 5zm-24 2zm-62-1zm-35-6zm-51 2zm138 11zm63-2zm40 4zm1-6zm35 6zm169-7zm37 7zm15-7zm31 5zm56-4zm36 2zm6 11zm-189 0zm0-2zm-12 2zm-24-6zm-172 5zm-6 0zm-25-1zm-3 0zm-59 1zm-3-3zm-44 3zm-14-5zm50 9zm165 6zm24-4zm18-3zm69 1zm75 2zm54 1zm58 0zm-27 5zm-54 6zm-4 0zm-96-5zm-32-2zm-17 3zm-29 1zm-52-4zm-14 5zm-48-2zm-40 1zm-135-4zm-47 7zm-70-7zm47 10zm186 4zm34-3zm37 4zm116-6zm29 3zm10 3zm4-7zm49 7zm159-2zm21-5zm-2 12zm-81 1zm-26 1zm-3-5zm-8 2zm-2-3zm-25 7zm-57-6zm-1 1zm-42 5zm-24-5zm-9 1zm-7 3zm-40-4zm-18-1zm-17 2zm-2-1zm-61-1zm-13-1zm-70 3zm-3 1zm-13-3zm-78 2zm-110 12zm181-1zm142 1zm30-3zm5-4zm3 0zm26 2zm58 1zm50 0zm2-1zm5 5zm10-6zm10 5zm23-6zm31 2zm110-1zm38 1zm95 10zm-121-3zm-1 0zm-128 3zm-8 2zm-7-4zm-16 1zm-13 3zm-20-4zm-23 0zm-17-2zm-37 2zm-23 5zm-28-1zm-3-4zm-29 0zm-19 2zm-41-4zm-25 0zm-2 3zm-55-3zm-14 6zm-49 5zm78-2zm12 5zm20-5zm25-1zm28 1zm32 2zm29 1zm1 3zm5-5zm12-1zm12 1zm20 2zm13-4zm86 3zm122 4zm188-6zm-107 10zm-53-2zm-124 0zm-49 3zm-8-4zm-17 2zm-16 4zm0-2zm-4-4zm-7 3zm-24 4zm-20-3zm-5-3zm-3-1zm-5 2zm-15 0zm-19 2zm-3 0zm-14-4zm-35 3zm-16 3zm-18-5zm-84-1zm-142 9zm94 2zm24 2zm115 0zm5-5zm3 0zm5 5zm22 1zm37-4zm6 1zm39 4zm12-3zm23-1zm6 4zm85 0zm6-4zm17 0zm17 3zm26-4zm10-1zm11 4zm1-3zm47-1zm70 4zm47 3zm-181 5zm-24-5zm-7 6zm-9-5zm-15 5zm-7 1zm-16-6zm-8 0zm-3 5zm-5 0zm-1 0zm-12-3zm-36 3zm0-5zm-2 3zm-24-4zm-1 2zm-6 0zm-32 5zm-3-4zm-7-1zm-10 2zm-12-3zm-8 5zm-62-4zm-12 5zm-27-1zm-11-4zm-222 8zm35-1zm240 1zm2 1zm53 3zm21-6zm5 7zm10-6zm10 1zm2-1zm6 5zm4-4zm8 4zm18-3zm7-2zm2 2zm2-2zm11 3zm14-3zm5 0zm5-1zm5 3zm20 3zm2 0zm37-1zm11-5zm2 7zm4-7zm75 4zm147-2zm86-2zm-184 12zm-74 2zm0-2zm-14 2zm-53-1zm-5-4zm-13-1zm-13 4zm-3 3zm-6-2zm-17-4zm-9 4zm-14 1zm-30-3zm-30 4zm-3-4zm-2 0zm-2 3zm-3-4zm0-1zm-21 5zm-15-2zm-13-4zm-18 1zm-24 0zm-54 4zm-113-3zm-53 0zm114 12zm29 1zm9-6zm22 4zm0 2zm5-6zm11 3zm3-3zm11 3zm40 3zm23-3zm28 3zm14-3zm9 0zm1 3zm24-4zm10-2zm4 3zm1 2zm2-6zm3 2zm4 1zm8 0zm17 4zm13-1zm8-6zm1 0zm6 4zm10 0zm2 2zm3-6zm72 7zm17 0zm148 7zm-93 1zm-7-7zm-69 7zm-21-5zm-13 1zm-29-2zm-9 6zm-11-2zm-10-1zm-8 3zm-10 0zm-4-5zm-13 3zm-1-4zm-4 3zm-2 0zm-3 3zm-1-3zm-3-2zm-4 2zm-18 2zm0-5zm-7 1zm-5 0zm-9 3zm-14-4zm-1 4zm-1-3zm-12 5zm-4-7zm-29 3zm-10 3zm-5 1zm-32-5zm-6 5zm-31-7zm-10 7zm-32-1zm-5-2zm-12 1zm-78-1zm-26 1zm63 8zm8 2zm29-2zm5-5zm29 3zm0 4zm45-2zm12-2zm12 2zm6-5zm19 3zm10 0zm14 4zm15-5zm15 4zm6 0zm20 1zm5-5zm1 0zm27 2zm2-3zm0 3zm11-4zm7 6zm15-5zm4 4zm10 0zm4-2zm8 2zm3-1zm7-2zm4-2zm1 1zm1 0zm0 3zm0 2zm5-6zm0 7zm3-1zm3 1zm3-2zm7-2zm0 3zm7 1zm54-1zm82-1zm96-4zm-9 14zm-58-3zm-38 3zm-10-7zm-9 2zm-13 3zm-24 1zm-14-4zm-10 5zm-9 0zm-9-5zm-14 4zm-2-6zm-7 0zm-1 5zm-6-2zm-13 0zm-1 0zm-12 2zm-18 1zm0-6zm-12 5zm-8-1zm-3 1zm-8-4zm-1 1zm-5 0zm-7 1zm-1 2zm-3-3zm-6-2zm-1 5zm-1-1zm-8 2zm-46 1zm-3-6zm-7 3zm-3-3zm-3-1zm-10 5zm-3-3zm-5 3zm-4-4zm-1-1zm-9 7zm-4-6zm-26 1zm-4 0zm-3 1zm-12 0zm-13 0zm-59 9zm12 2zm32 0zm41-5zm0 3zm6-2zm35 5zm27-1zm2 1zm21-6zm5 1zm1 4zm3 1zm10-3zm2-3zm4-1zm1 2zm2 4zm12-2zm1-1zm2 4zm13 0zm7-6zm6 3zm4 1zm3 0zm6 1zm9-2zm11-3zm2 4zm2 2zm7-5zm0 2zm6-1zm23 3zm16-5zm9 4zm9 1zm4-2zm6 1zm6 0zm8 0zm0 1zm38-3zm115 3zm2-1zm58-3zm21 8zm-135 1zm-7 4zm-10-2zm-54-3zm-19 5zm-1-5zm-1 0zm-20 3zm-22 2zm-1-7zm-5 2zm-8 5zm-13-5zm-10 5zm-6-1zm-5-2zm-4-4zm-6 7zm-6-5zm-4 2zm-6 3zm-3 0zm0-3zm-5-2zm0-2zm-2 5zm-2 0zm-1 1zm-4 1zm-10-5zm-6 5zm0-1zm0-4zm0-1zm-4 0zm-6 5zm-4 0zm0-6zm-2 6zm-6 0zm-2-1zm-4 1zm0-2zm-4-2zm-1 5zm0-6zm-7 6zm-5-4zm-2 2zm-2-2zm-1-1zm-2 0zm-1 4zm0-3zm-1 3zm-4-4zm-16-2zm-2 4zm-10 3zm-1-1zm-5-2zm0-1zm-9 4zm-3-2zm-1 0zm-2-5zm-6 6zm-4 1zm-7-1zm-7-3zm-3 4zm-20-2zm-20 1zm-17 1zm-8-7zm-43 5zm-4-5zm-143 4zm-45 4zm154 4zm1 0zm39-4zm43 3zm5 2zm24-5zm42 1zm2 5zm22-2zm8 3zm5-1zm7-6zm0 6zm2-1zm13-2zm7-2zm3 0zm1 6zm2-3zm7-3zm4 2zm3-2zm1 4zm7 0zm5-1zm1 1zm3 0zm0 1zm4-4zm2 1zm1-2zm1 1zm2 2zm2-2zm1 3zm0 2zm1-4zm6 3zm1 1zm2 0zm1-3zm4-3zm0 4zm3 0zm8 0zm1-3zm3 1zm2-1zm12 1zm3 0zm0 2zm10 2zm2-3zm6-3zm3 0zm1 1zm0 3zm4 0zm1 2zm7-3zm4 2zm6-1zm3-4zm2 3zm2-2zm4 0zm5 5zm36-3zm22 0zm23-4zm11 3zm10 0zm7 2zm37-4zm58 6zm90-2zm19 5zm-35-2zm-115 3zm-60 0zm-15 3zm-48 1zm-4-5zm-8 4zm-1 1zm-26 0zm-7-6zm-10 6zm-6-7zm-2 4zm-5-1zm-3 0zm-1 3zm-5-3zm-4 3zm-4-1zm-1-4zm-4 0zm-3 0zm-5 6zm-1-2zm0-1zm-2-3zm-2 6zm-1-4zm-2-3zm-1 2zm-5 2zm-5 3zm0-2zm0-4zm-2 4zm-1-1zm-4 3zm0-7zm-2 4zm-1-4zm-3 2zm-2 2zm0-4zm-3 5zm-1 2zm-3-5zm-1 3zm-1 1zm-5-3zm-4 2zm0-5zm-3 5zm-2 1zm-1 1zm0-4zm-2-3zm-3 0zm-3 2zm-8 1zm-2 1zm0-3zm0-1zm-6 6zm-1-2zm-1 0zm-3 2zm0-3zm-1-2zm-2 2zm-5-3zm-2 3zm-1 3zm-3 0zm-4-5zm-1 6zm-4-1zm-1 0zm-6-3zm0-1zm-2 5zm-8-1zm0-3zm-3 4zm-3-1zm-8 0zm-2 0zm-12 0zm-9 1zm0-7zm-4 6zm-5-2zm-9 1zm-47-2zm-24 2zm-25 1zm-66 1zm-46-4zm-16 10zm47-2zm0 2zm77-2zm32-3zm48 7zm23-6zm18 0zm3 2zm2-3zm3 4zm0 3zm13-4zm11 1zm1 1zm2 1zm6-4zm2-2zm1 5zm4-3zm3 3zm2-4zm1 5zm3-1zm5-4zm1 2zm0 3zm2-4zm1 4zm1-3zm8-1zm0 4zm3-4zm1 2zm1 0zm6-2zm2-1zm3 4zm0 1zm3-5zm4 3zm1-3zm4 4zm3-4zm1 4zm1-1zm2 0zm1 0zm1 0zm1 0zm2-4zm0 7zm1-6zm5 3zm2 1zm3-4zm3 2zm1 1zm2 1zm1-4zm2 4zm1-2zm1 1zm2-3zm4 3zm3-3zm0 4zm3 1zm2-1zm3-1zm1-1zm4 1zm2 1zm2-5zm0 7zm1-7zm0 5zm3-1zm3-2zm2 1zm1-3zm2 4zm1 2zm9-2zm1-4zm0 4zm2 0zm2-1zm2 4zm2-2zm3-4zm1 1zm6 5zm10-6zm1 1zm4 4zm1 0zm1-4zm1 3zm4-1zm4-1zm8 2zm1-1zm6-1zm0 1zm0 3zm12 0zm3-6zm9 4zm10 1zm21 1zm16-2zm6-5zm211 9zm-25 2zm-60-2zm-19 6zm-45-3zm-18-2zm-24 3zm-42 1zm-4-2zm-26 3zm0-7zm-3 6zm-4-5zm-5 3zm0-1zm-7-1zm-1-1zm-1 2zm-4-1zm-4 4zm-2-4zm-1 5zm-8 0zm-5-6zm-4 2zm-11 0zm-1 4zm-1 0zm-9-6zm-4 0zm-2 6zm-1-4zm-3 0zm-4-3zm-2 2zm0-1zm-2 4zm-2-5zm-3 5zm0-5zm-1 7zm-1-3zm-1-1zm-3-1zm-1 2zm-1 2zm0-3zm-1-3zm-1 5zm-1 2zm0-4zm-2 0zm-1-1zm-1-1zm-2 2zm-9-1zm-2 1zm0-1zm-4 5zm-4-3zm-2-3zm-1 2zm-1 1zm-2 3zm0-6zm-2-1zm-3 1zm-2 4zm-5 2zm-1-4zm-1 2zm-1-3zm-1 4zm0-1zm-3-2zm-4 3zm-1 1zm0-5zm-1 1zm-1 0zm-1 4zm0-3zm-1 1zm-1 1zm0-1zm0-4zm-1 0zm-1 0zm-1 6zm0-1zm-1-2zm0-4zm-2 5zm-1-4zm-5 3zm0-3zm-1 2zm-2 3zm-4-6zm-7 4zm-2 3zm-1-5zm-4-1zm-1-1zm-4 0zm-2 7zm-2-5zm-6 3zm-2 2zm-4-4zm-1 4zm-2 0zm-1-5zm-3 4zm0-5zm-1 4zm0-3zm-1 4zm-1 1zm-1-7zm-1 3zm-2-1zm-7 1zm-1-3zm-7 0zm-2 6zm-1-2zm-1 3zm-2-7zm-1 0zm-8 6zm-2 1zm0-6zm-1 5zm-13-3zm-2 1zm-8-4zm-31 5zm-3-1zm-4-3zm-6 6zm-31-5zm-1 5zm-29-6zm-6-1zm-50 5zm-57-2zm109 12zm60-1zm18-3zm5-1zm24-2zm3 7zm6-2zm1 1zm8-1zm3-5zm6 3zm0 4zm2-5zm10 1zm1 4zm1-4zm4-3zm3 7zm5-5zm1 5zm3-2zm3-4zm1 6zm4-7zm0 1zm0 4zm3 2zm4-7zm0 1zm5 6zm2-4zm0 3zm3-4zm0 4zm1 1zm2-7zm0 1zm1 3zm0 3zm2 0zm4-5zm0 5zm2-3zm1-4zm0 5zm1-2zm1 4zm3-7zm0 1zm0 3zm1 1zm3 2zm3-7zm1 7zm2-6zm0 3zm3 0zm1 0zm1 1zm2 2zm1-5zm1 3zm2-3zm2 2zm1 1zm1-1zm3-1zm2 2zm0 1zm0 1zm1 0zm1-4zm1 2zm0 2zm1-5zm0 2zm2-4zm0 4zm0 1zm1-3zm1 4zm2-3zm0 1zm0 2zm1-5zm0 6zm2-7zm0 6zm2 0zm0 1zm1-2zm1 0zm1 0zm1-3zm1-2zm0 3zm1-1zm0 4zm2-1zm3 0zm3 0zm4-5zm0 6zm0 1zm1-2zm1-3zm1 2zm0 3zm1-7zm1 2zm0 4zm0 1zm3-5zm1-1zm2 0zm1 2zm2 1zm1 1zm2 0zm1-4zm3 3zm1 0zm0 2zm1 0zm6-4zm1 2zm3-2zm1 1zm2-2zm1 1zm1-2zm0 1zm0 1zm0 5zm2 0zm1-1zm2-2zm0 2zm1 0zm5 1zm2-6zm10 3zm1 3zm5-2zm2 2zm1 0zm3-2zm0 1zm3-6zm0 4zm5-1zm0 3zm2 0zm2 0zm5-2zm3-3zm3 4zm1-5zm14 0zm1 3zm8-1zm3 5zm1-6zm7 3zm31 3zm4-3zm8-3zm103 5zm96-3zm-123 6zm-36-1zm-11 4zm-3 1zm-8 0zm-11 0zm-6-4zm-5 4zm-18 1zm-29 1zm-15 0zm-2-7zm-6 2zm-12 1zm-2 4zm-9-3zm-2 0zm-2 0zm-2 1zm-3-2zm0-2zm-1-1zm-3 7zm-1-6zm-2 6zm-1-7zm-3 4zm0-2zm-3 0zm-4 2zm0-2zm-1-1zm-1 3zm-1 0zm-1-1zm0-2zm-2 1zm-2 3zm-1-4zm-1 5zm0-4zm-1-2zm-4 7zm-1-3zm-1 2zm0-2zm-1 0zm-3 0zm-2 0zm-1 2zm-2-5zm-1 1zm0-1zm-1-1zm-1 7zm0-4zm-1-3zm-1 2zm-1-1zm-1 5zm0-1zm0-3zm-1 5zm0-1zm-2-6zm-1 1zm0-1zm-1 1zm-1 0zm-1-1zm-1 3zm-1 1zm-1 3zm-1-6zm-1 4zm0-4zm-2 5zm0-2zm-2-3zm-1 2zm-3-1zm-1 3zm0-1zm0-3zm0-1zm-3 3zm-1 4zm0-4zm-4-2zm-3-1zm-1 2zm0-2zm-1 4zm-1 2zm-1 1zm0-7zm-2 7zm0-6zm0-1zm-1 4zm-8 0zm-3 2zm-1-6zm-1 4zm-1 2zm-3-3zm-1 4zm-2-7zm-2 7zm-1-4zm-1 3zm-1 1zm0-5zm0-2zm-4 6zm0-4zm-1 4zm0-3zm-1-1zm-1 4zm-3-3zm-1 1zm-2-2zm-1 0zm-1 2zm0-2zm0-1zm-3 5zm-1-3zm-1-1zm0-2zm-1 1zm0-1zm-2 7zm0-6zm-2 6zm0-5zm-1-2zm-2 6zm-2 0zm-3 0zm0-6zm-2 0zm-2 1zm-1-1zm-1 7zm0-3zm-2 3zm0-3zm0-2zm-1 5zm-1-3zm-5 1zm0-2zm-4 2zm-2 1zm-1 0zm-2 1zm-3-7zm-6 7zm-5-4zm-4 1zm-4-4zm-3 4zm-3-1zm-1 4zm0-7zm-5 2zm-9 1zm-2 3zm-2-4zm-3 2zm-1-3zm-6 4zm-5 0zm-4-4zm-4-1zm-5 3zm-3 4zm-1-7zm-37 2zm-196 7zm33 4zm50 0zm88 2zm25-3zm4-3zm5 3zm12-2zm3 4zm18-6zm6 2zm18 5zm3 0zm4-3zm2-4zm4 0zm3 0zm1 3zm4 0zm1 4zm1 0zm1-2zm6 0zm3-2zm1 3zm2-3zm2 0zm3-2zm3 4zm2 0zm0 1zm1 1zm2-2zm2-1zm0 1zm0 2zm2-3zm1 1zm1 1zm1-4zm0 4zm2-4zm0 4zm1 1zm1-2zm3-1zm1-3zm1 6zm1-7zm0 5zm2 0zm0 2zm1-4zm0 2zm2-5zm0 1zm0 2zm0 3zm0 1zm1 0zm2-2zm0 1zm1-5zm0 5zm1-1zm1-3zm0 2zm0 1zm3-1zm3-4zm0 3zm1 2zm0 2zm1-7zm0 2zm0 3zm2 1zm3 0zm1-6zm2 0zm0 5zm3-2zm1-1zm0 1zm1-2zm1 5zm1-4zm0 1zm1-1zm0 3zm2-4zm0 1zm1-2zm0 2zm0 2zm0 1zm0 1zm1-5zm1 6zm1-7zm1 1zm2-1zm0 3zm2-3zm0 1zm1 2zm0 3zm0 1zm3-3zm0 1zm0 1zm1-4zm0 5zm1-1zm1 0zm2-5zm0 1zm0 4zm0 1zm2-6zm0 1zm1 0zm0 3zm0 1zm0 1zm1-7zm0 2zm1 1zm0 2zm1 0zm1-2zm0 4zm1 0zm1-4zm0 1zm0 2zm1-4zm0 5zm1 0zm1-5zm0 1zm0 3zm2-6zm0 5zm0 2zm1-4zm0 1zm0 1zm0 1zm1-2zm0 3zm2-3zm0 2zm1-4zm1 2zm1-2zm0 3zm1-4zm1 2zm0 1zm0 2zm1-4zm0 3zm1-2zm0 1zm0 3zm1-5zm0 1zm0 3zm1-6zm1 6zm0 1zm1-4zm0 3zm1-4zm0 2zm0 2zm1-5zm0 2zm1 2zm0 2zm1-5zm1 0zm1-1zm0 2zm0 2zm1-3zm0 2zm1 0zm0 1zm2 1zm1-6zm1 0zm0 1zm0 2zm0 2zm0 2zm1-2zm0 1zm2-5zm0 4zm1 1zm1 1zm1-4zm2-3zm0 1zm1 1zm0 5zm3-5zm0 1zm1-3zm0 4zm0 2zm1-3zm0 3zm1-6zm1 3zm0 2zm1-2zm1-1zm1 0zm1 1zm2 1zm3 3zm1-3zm1-3zm1 4zm0 1zm2 1zm2-1zm1-5zm3 4zm2-2zm5 4zm1-4zm2 2zm0 2zm2-6zm0 1zm2 2zm1-1zm8-1zm1 3zm1-4zm2 3zm1 0zm0 3zm4-2zm3-1zm3-1zm2 2zm1-5zm0 4zm1 0zm3 1zm1 0zm0 2zm3-1zm4-5zm1 5zm2-3zm3-3zm3 1zm1-1zm7 4zm0 2zm8-4zm1 3zm10 2zm12 0zm15 0zm42-1zm66-2zm27-3zm28 5zm5-2zm-40 9zm-12-3zm-19 3zm-14-4zm-7 1zm-18 3zm-2-3zm-8 5zm-12-5zm-23 5zm-13-7zm-7 0zm-6 4zm-24-1zm0-1zm-7-1zm-3 6zm-1 0zm-4-5zm-12 4zm-11 0zm-1 1zm-2-2zm-5-4zm-3 3zm-4 0zm-4-2zm-2 0zm-1 2zm0-1zm-1 1zm-1 0zm-5 3zm-1-7zm-3 4zm-1 1zm-2 1zm-3-2zm0-4zm-2 3zm-2 4zm-2 0zm-1-7zm-1 1zm-1 5zm-1 1zm0-4zm-1 0zm0-1zm0-1zm-1 1zm-1 2zm-1-2zm0-1zm0-1zm-1 5zm0-1zm0-1zm-2 4zm-1-1zm0-1zm-1-4zm-1 6zm-1-3zm-1 3zm-1-4zm-4 2zm-1-1zm-1 0zm0-2zm-1 4zm0-6zm-1 5zm0-2zm-1 0zm0-3zm-2 5zm0-1zm0-1zm0-1zm-1 3zm-1-3zm-1 2zm0-1zm0-3zm-1 5zm0-3zm0-2zm-1 2zm0-1zm-1 5zm-1-1zm0-1zm-1 2zm0-5zm0-1zm-1 5zm0-2zm-1 2zm0-2zm-1-1zm0-1zm-1 2zm-1 0zm-1-2zm-1 0zm0-1zm-2 2zm-1 0zm-2-2zm-3 2zm-1-1zm-1-1zm-2 0zm-1 0zm-1 0zm-3 0zm-1 0zm-1 0zm-2 0zm-5 1zm-1 0zm-1-1zm-1 1zm-2-1zm-3 1zm-1 1zm-1 0zm-3 3zm0-2zm-2 2zm-1-2zm-1 2zm0-1zm0-3zm-1 4zm-1 2zm0-2zm0-2zm-1 1zm-1 0zm-1 0zm0-3zm-1 2zm-1 1zm-1 1zm-1 0zm-1-4zm-1 0zm-1 5zm-1-2zm0-2zm-1 5zm0-6zm-1 5zm-1 1zm0-2zm0-3zm0-1zm-1 0zm-2-1zm-2 7zm-1 0zm0-1zm-2-5zm0-1zm-3 5zm0-4zm-1 3zm0-2zm-2 3zm-2-5zm-1 0zm-5 4zm-8 3zm-5-6zm-1 4zm-1 2zm0-1zm-3 1zm-4-6zm-3 3zm0-4zm-1 4zm-4 1zm0-4zm-3 5zm-3 1zm-5-5zm-7 5zm-3-4zm0-3zm-12 5zm-3 0zm-6 0zm0-1zm-7-2zm-14-2zm-5 2zm-19 4zm-1-3zm-197 5zm78 6zm50-2zm23-4zm49 5zm14-3zm1 1zm8 3zm3-1zm28-4zm13 3zm7-2zm0 2zm1-3zm1-1zm6 2zm1 1zm1 4zm3-3zm5 0zm2-1zm2-1zm2 5zm3-4zm0 4zm1 0zm3-4zm2-3zm0 3zm0 3zm1-6zm0 3zm0 2zm0 2zm1-6zm0 2zm1 2zm1-3zm1 2zm2-4zm0 5zm1-4zm2 3zm1-3zm1 4zm2-2zm1-1zm1-2zm0 3zm0 2zm2-5zm0 6zm1-4zm1 5zm1-4zm0 3zm1 1zm1-6zm0 6zm1-3zm0 1zm2-4zm0 3zm0 3zm1-6zm2-1zm0 7zm1-5zm0 1zm0 1zm1 1zm0 1zm1-2zm0 3zm1-6zm1-1zm0 3zm0 3zm1-6zm0 2zm0 3zm3-4zm1 0zm0 1zm0 1zm1-2zm0 1zm59-2zm0 1zm4 2zm1-2zm1-1zm0 4zm1-1zm0 2zm2-3zm0 2zm0 3zm1-1zm1-3zm0 2zm1 0zm1-5zm0 4zm0 1zm0 1zm1-6zm0 2zm0 3zm0 1zm1-6zm0 6zm0 1zm1-1zm1 1zm1-6zm0 5zm1-5zm0 4zm0 2zm1-7zm0 2zm0 5zm2-1zm1 0zm2-6zm0 2zm1-2zm0 3zm1-3zm1 0zm0 3zm0 1zm0 2zm2 0zm1 1zm2-6zm0 1zm0 4zm4-1zm0 1zm1-3zm0 4zm1-6zm1 6zm1-5zm1 5zm1-2zm1-5zm0 4zm0 2zm0 1zm1 0zm3 0zm1-2zm4-5zm3 0zm0 2zm3 0zm1-2zm4 6zm4-4zm3-2zm9 4zm1-4zm1 2zm1 2zm0 3zm2-4zm21 1zm0 1zm5-2zm7-3zm8 4zm7 3zm2-7zm5 7zm9-7zm0 7zm3-3zm1-1zm45-3zm0 7zm26-6zm139 2zm-97 6zm-125-1zm-10 6zm-2-1zm-13-2zm-15-3zm-1 5zm-1 2zm0-2zm-6 2zm0-2zm-3-4zm-3 4zm-11-3zm-3 1zm-3 2zm-7 2zm0-7zm-3 7zm-5 0zm-4-5zm-3 1zm0-3zm-1 3zm-3 2zm0-2zm-5 2zm0-1zm-1 1zm-1 2zm0-1zm-2-1zm-1-5zm-2 2zm-1 4zm-1-2zm0-2zm-1 4zm0-1zm0-4zm-1 0zm0-1zm-1 6zm-1 1zm0-5zm-1 5zm0-4zm0-3zm-2 4zm0-1zm-1 2zm0-2zm-1-1zm0-1zm-1 3zm0-1zm0-1zm-1-1zm0-1zm-1 5zm-1-3zm0-1zm-1 2zm0-2zm0-1zm-1 6zm0-3zm0-2zm-1 2zm-2 0zm-81-1zm-1 0zm-2 4zm0-6zm-1 1zm-2 3zm0-1zm0-1zm0-2zm-1 1zm-1 2zm0-1zm-2 2zm0-3zm0-1zm-2 7zm-2-3zm-1-1zm-1 4zm-1-2zm-1 2zm-2-7zm-2 6zm-1-3zm0-3zm-1 7zm0-6zm-1 1zm-1 5zm0-7zm-1 4zm-1 0zm0-4zm-2 7zm-3-5zm-1 3zm0-1zm-1 3zm-1-1zm-1-4zm-1-2zm-2 4zm-2 2zm-3 1zm-2-3zm0-3zm-1-1zm-2 5zm0-4zm-2 6zm0-1zm-2-2zm-1-1zm-4 2zm-1 2zm0-1zm0-5zm-1-1zm-1 6zm-1-3zm-2 0zm-1-1zm-1 4zm-4-1zm-2-1zm-1 0zm-2-2zm-1 5zm0-1zm-12-6zm-1 2zm-6 1zm0-3zm-5 2zm-1-1zm-4-1zm-8 3zm-1 2zm-1 2zm-3-5zm-6 3zm-20-5zm-8 4zm-11 2zm-20 0zm-5 0zm-3-4zm-35 0zm-19 2zm-127 5zm72 0zm41 3zm3-4zm49 7zm15-4zm25-3zm6 3zm3 1zm5 2zm4-5zm9 0zm16 2zm3 1zm5 2zm5 0zm4 1zm1-2zm8-3zm0 5zm6-3zm2 1zm3-4zm1 3zm3 1zm1-2zm6-3zm0 2zm3 1zm5 3zm13-4zm4 5zm1-2zm3 1zm4-6zm1 0zm0 4zm1-4zm0 3zm0 1zm2-3zm0 2zm0 1zm2 1zm2-5zm1 0zm2 1zm0 1zm0 4zm2-1zm2 0zm2-3zm0 3zm1-2zm0 1zm0 2zm1-2zm1 0zm0 1zm3-1zm2-2zm0 2zm0 2zm0 1zm1-7zm0 1zm0 5zm1-2zm1-2zm0 1zm1 1zm0 1zm1-4zm0 2zm0 1zm2 0zm1 0zm0 3zm1-6zm0 1zm0 4zm1-4zm1 4zm0 1zm1-7zm0 1zm1 1zm93 2zm1-2zm1 4zm1-3zm0 1zm0 3zm1-2zm0 2zm1-6zm0 5zm1-4zm1 0zm0 1zm1-3zm0 1zm0 5zm2 1zm3-6zm0 3zm0 2zm2-2zm1 2zm1-2zm0 3zm1-1zm1-2zm2-3zm0 1zm1 3zm1-5zm1 5zm2 1zm0 1zm1-1zm3-2zm2-2zm0 2zm1-4zm1 3zm0 1zm1-4zm0 3zm2 4zm2-2zm1-1zm2 0zm9 2zm1-6zm0 3zm0 2zm4-4zm1 0zm4 4zm5 2zm4-1zm5-2zm29-4zm3 5zm1-2zm20 2zm7 2zm2-2zm14 2zm52-5zm26-1zm90 4zm56 9zm-64 0zm-103-5zm-26 6zm-26-2zm-21-1zm-4 0zm-13-1zm-6 4zm-3-5zm-5 5zm-26 0zm-6-4zm-1 0zm-1 0zm0-1zm-2 5zm0-1zm-6-1zm-1-1zm-3 1zm0-5zm-1 1zm-3 1zm-1-2zm-1 5zm-1 0zm-1 1zm0-5zm-2 5zm-2-4zm0-2zm-2 5zm0-3zm-1 5zm0-1zm-1-2zm-1 3zm0-7zm-2 2zm-1 1zm0-3zm-1 5zm-3 1zm0-4zm-1 2zm0-4zm-1 1zm-1 4zm0-3zm-1 5zm0-6zm-2 5zm0-4zm-1 2zm-2 1zm0-3zm-1 2zm0-4zm-1 7zm-1 0zm0-6zm-2 3zm0-3zm-1 5zm0-5zm-2 6zm0-3zm0-4zm-2 5zm0-5zm-1 3zm-1 4zm0-3zm0-1zm-1 1zm0-4zm-1 1zm-1 5zm-1-1zm0-4zm-1 0zm-1 6zm0-5zm0-2zm-1 2zm0-2zm-1 1zm0-1zm-1 3zm-100-1zm-1 2zm0-1zm0-1zm0-2zm-1 4zm0-1zm-1 3zm-1-1zm0-4zm-1 5zm0-4zm-1 4zm0-6zm-1 7zm0-4zm0-1zm-1-2zm-2 7zm0-3zm0-2zm-1 5zm0-4zm0-3zm-1 5zm0-2zm-1 2zm-1 1zm0-6zm-1 1zm-1 5zm0-6zm-1 5zm-3-1zm-2 0zm0-1zm0-2zm-1 6zm-2-3zm-1 3zm-1-3zm-1-4zm-2 0zm-1 4zm-1 1zm0-4zm-1 0zm-1 2zm-3 1zm-1 3zm0-5zm-1-2zm-2 2zm-2 5zm-1-5zm-1 3zm-1-3zm-1 5zm-1-7zm-2 7zm0-6zm-1 1zm-1 1zm0-2zm-3 4zm-1 0zm0-1zm0-4zm-1 3zm-3 0zm-1-3zm-2 6zm-6-1zm-8-1zm-1 0zm-4 2zm-7-1zm-5 1zm-1-2zm-7 1zm-4 2zm-13-5zm-53 2zm-52-3zm-44 6zm10 2zm38-1zm13 4zm10-2zm21-1zm21 6zm4-7zm22 3zm33-1zm4 3zm2 0zm4 1zm2-5zm3 6zm1-7zm8 1zm1 2zm1 1zm1 3zm1-5zm1-2zm0 7zm1-4zm7 3zm0 1zm1-3zm1-3zm0 3zm2-1zm3-2zm0 4zm3-2zm11-3zm0 5zm2-3zm0 4zm4-3zm0 3zm4 0zm0 1zm2 0zm1 0zm1-3zm1-3zm0 6zm1-3zm2-1zm1-3zm0 2zm0 4zm3-4zm1 0zm1 0zm0 1zm0 3zm1-2zm0 1zm0 1zm0 1zm1-3zm1-3zm1-1zm0 7zm1-7zm0 6zm0 1zm1-4zm0 4zm1-6zm0 1zm0 1zm0 3zm1-6zm1 1zm0 4zm1 1zm1-6zm105 2zm1-1zm0 1zm1 0zm0 4zm1-3zm0 3zm1-2zm1-1zm0 3zm1-4zm0 2zm0 2zm1-4zm0 5zm1-3zm0 3zm1-4zm0 2zm0 1zm0 1zm1-6zm0 1zm2 0zm0 1zm0 2zm0 1zm1-3zm0 1zm1 1zm2-1zm0 2zm0 1zm2-6zm0 2zm0 2zm2 0zm1-3zm2 5zm2-7zm0 2zm2-1zm0 2zm0 1zm1-1zm0 4zm1-4zm1 2zm0 2zm1-2zm1-5zm0 6zm1-2zm1-1zm2-1zm1-2zm0 1zm0 4zm6-3zm1 4zm2-5zm1 4zm0 1zm3-5zm1 5zm3-6zm1 1zm0 1zm1 1zm7 2zm7-3zm1 4zm2-5zm0 1zm3-1zm2 3zm11 3zm7-6zm12 3zm1-4zm2 7zm18 0zm18-1zm6-4zm14-1zm122 2zm34-3zm-47 14zm-21-6zm-25 5zm-74 0zm-13 0zm-17 0zm-15-4zm-13 0zm-1 1zm-3-2zm-1 6zm-1 0zm-13-2zm0-2zm0-2zm-2 7zm-3-7zm-4 3zm0-1zm-2 1zm-1 2zm0-1zm0-2zm-2 4zm-4-2zm-2-3zm-4 0zm-1 1zm0-2zm-1 4zm-3 3zm-3-7zm-1 7zm0-2zm-2-2zm-3 3zm0-2zm-1 3zm-1-4zm0-1zm0-1zm-1 1zm-6 5zm-5-3zm-2 0zm-2-3zm-2 6zm-1-5zm-2 5zm0-1zm-1 1zm0-4zm-1 2zm0-1zm0-4zm-1 4zm-1 1zm0-5zm-1 7zm0-1zm0-4zm0-2zm-1 3zm-1-1zm-1-1zm0-1zm-1 0zm-1 7zm0-2zm0-2zm0-3zm-1 7zm0-5zm0-1zm-1 6zm0-3zm0-1zm0-1zm-1 5zm-1-5zm-1 4zm-110 0zm0-6zm-1 6zm0-5zm-1 0zm-1 6zm0-5zm0-2zm-1 5zm0-5zm-1 7zm0-1zm-2-3zm-1 4zm0-4zm-1-3zm-1 2zm0-2zm-1 4zm0-2zm-2 3zm-1-5zm-1 6zm0-3zm-1 0zm-2 4zm0-2zm-1-1zm-6 3zm-1-1zm-6-1zm-1-5zm-2 4zm-1-2zm-3 5zm-2-2zm-1-1zm-3 1zm0-2zm-1 1zm-2-2zm-2 4zm-1 0zm-1-6zm-2 0zm-2 1zm-7 2zm-3 1zm-1-1zm-5 2zm-5-3zm-2 4zm-3-1zm-8-4zm-10-1zm-2 6zm-4-2zm-8-2zm-26 0zm-6 2zm-18 1zm-39-1zm-26 2zm-3-6zm-37 1zm-64 2zm-41-3zm-28 11zm172 4zm13-5zm55-2zm5 3zm0 4zm10-7zm17 2zm7 4zm9-6zm18 7zm1-5zm4-2zm6 6zm2-4zm1 3zm1 2zm3-2zm3 2zm8-2zm3-3zm4 3zm0 1zm3-6zm1 7zm2 0zm2-3zm2-4zm2 6zm4-2zm7-4zm0 4zm4-4zm0 5zm2-2zm1-2zm0 1zm2 5zm3-1zm1-6zm0 3zm1 4zm1-3zm2 0zm1-2zm3 5zm1-3zm1 0zm1-2zm0 1zm0 2zm0 2zm1-1zm1 0zm1-6zm1 3zm1 3zm1 1zm1-5zm0 4zm1-6zm2 4zm1 2zm1-4zm0 2zm1-3zm0 4zm0 2zm1-3zm0 2zm108-5zm0 4zm1-5zm0 1zm0 2zm0 1zm1-1zm1-3zm0 1zm0 4zm1-5zm0 2zm0 4zm0 1zm1-5zm1 0zm1 0zm0 2zm0 3zm1-6zm1-1zm0 2zm0 1zm0 3zm1-1zm1-3zm2 0zm1 0zm1-1zm0 4zm1-2zm0 2zm2-3zm3 3zm2-4zm1 6zm2-6zm1 4zm1-4zm1 2zm4-3zm0 4zm1-4zm2 6zm2-6zm1 1zm1 3zm2-2zm0 2zm3-1zm0 1zm1 3zm4-1zm2 0zm2 1zm4-1zm6-2zm2-1zm0 3zm19-5zm4 1zm10 3zm5-2zm1 2zm2-5zm1 7zm11-5zm15-2zm13 2zm8 9zm-1 1zm0-1zm-8 3zm-2-4zm-17-2zm-19 7zm-6-7zm-1 4zm-1-3zm-3 5zm0-5zm-9 0zm-8 1zm-1 2zm-3 2zm0-4zm-1 4zm-6-6zm-1 3zm-4 1zm-3-3zm-8 3zm-2 3zm-1-5zm-3 4zm0-1zm-3-2zm-1 4zm-1-3zm0-3zm-2 2zm-1 3zm-2-5zm-1 0zm-1-1zm-1 7zm-1-7zm-2 3zm-2-1zm-1 1zm0-1zm-2 5zm-2-2zm-3-1zm-1 3zm-1-2zm-1-3zm-1 4zm0-3zm0-1zm-1 1zm0-1zm-1 3zm0-1zm-1-2zm0-2zm-4 6zm-2-2zm0-1zm0-2zm-2 3zm-1-2zm-1 4zm0-4zm-1 5zm0-4zm0-2zm-1 4zm0-1zm-1 1zm0-1zm0-1zm0-2zm0-1zm-2 7zm-107 0zm0-1zm0-3zm-2 2zm0-3zm-1 4zm-1-1zm0-2zm0-2zm-2 3zm-1-2zm-1 1zm-1-1zm-1 5zm0-2zm0-1zm-1-2zm-1 3zm0-4zm-1 2zm-1 4zm-1-3zm0-2zm-1 5zm-2-6zm-2 6zm0-2zm0-1zm-1 3zm0-6zm-1 1zm-3 0zm0-1zm-1 2zm-1 3zm-1 1zm0-2zm-1-1zm-2-1zm0-2zm-5 2zm-1 2zm0-1zm0-2zm-2 5zm-2 0zm-1-5zm-1 0zm-1 4zm0-1zm0-3zm-3 3zm0-4zm0-1zm-5 2zm-1 4zm0-3zm-1 4zm-1-4zm-11-2zm-3 3zm-6 0zm-4-2zm-3 0zm-33 5zm-1-3zm-46 0zm-7 2zm-5 1zm-19-7zm-80 2zm-49 4zm-45 9zm45-7zm133 3zm53 4zm22-4zm13 3zm4-6zm1 2zm6 4zm10-2zm1-3zm2-1zm7 0zm2 0zm3 4zm4 3zm2-6zm4-1zm3 4zm2 2zm1 1zm1-7zm2 7zm1-7zm1 7zm1-5zm4 0zm5-2zm2 2zm0 4zm1-1zm4-1zm2-1zm1-1zm1 3zm1-2zm0 1zm0 2zm2-5zm2 4zm0 1zm1-3zm0 1zm1-4zm0 3zm0 3zm4-3zm2-3zm0 3zm0 4zm1-6zm0 2zm1-2zm0 1zm1-2zm1 0zm0 2zm0 5zm1-6zm0 3zm0 3zm1-7zm1 7zm1-6zm0 5zm1-5zm0 3zm1-3zm0 5zm0 1zm1-6zm0 4zm0 1zm0 1zm1-1zm1-1zm0 2zm1-2zm99 1zm1-3zm0 2zm1-3zm0 4zm2-5zm0 5zm1-5zm0 2zm0 4zm1-7zm1 0zm0 2zm0 2zm0 2zm0 1zm1-3zm0 2zm0 1zm1-4zm1-3zm0 1zm0 6zm1-5zm1 1zm0 1zm0 1zm1-5zm1 3zm0 1zm2 0zm1-1zm0 2zm1 0zm1-3zm2 4zm1-6zm4 3zm1 0zm0 1zm1 0zm1 1zm4-3zm0 1zm2 1zm1 2zm2-2zm1-3zm2 4zm6-5zm1 5zm0 2zm3 0zm2 0zm1-6zm3 0zm0 1zm4 1zm1 3zm8-1zm0 1zm5-6zm0 4zm3-2zm1 3zm6 1zm1 0zm6-4zm2 0zm4-1zm3 6zm5-2zm6-3zm36 2zm26 1zm46-1zm92 2zm79 8zm-119 0zm-13 0zm-11-1zm-28-1zm-22 2zm-4-5zm-9-1zm-16 7zm0-5zm-3 1zm-14 1zm-12 3zm-13-7zm-6 4zm-5-4zm-7 3zm-1 0zm-14 0zm-10 3zm-3-2zm-2 3zm-3-7zm-5 4zm-3 3zm-3-3zm-1 2zm-5 0zm-8-1zm0-5zm-1 3zm-2-3zm-5 5zm-1-3zm-3 1zm-1-3zm-1 3zm-1 0zm0-3zm-1 4zm0-3zm-1 4zm0-4zm-1 6zm-3-2zm-1-1zm-1-4zm-2 6zm0-2zm-1 3zm0-7zm-2 5zm-3 1zm0-1zm0-5zm-1 6zm0-6zm-2 4zm-1-3zm-1 5zm0-1zm0-2zm0-2zm-1 6zm0-1zm0-5zm-1 6zm-2-6zm0-1zm-1 3zm-3 4zm0-5zm-1 2zm0-1zm0-2zm0-1zm-1 4zm-1-4zm-1 3zm-1 1zm0-2zm0-1zm-1 4zm0-1zm0-2zm0-1zm-2 6zm0-1zm0-4zm0-2zm-1 7zm0-2zm0-1zm0-2zm0-1zm-92 5zm-1 0zm-1 0zm0-3zm-1 4zm0-5zm0-1zm-1 3zm0-1zm0-1zm0-2zm-1 2zm-1 5zm-1-2zm0-3zm-1-1zm-1 5zm0-3zm-1 3zm0-6zm-1 7zm0-4zm0-3zm-1 3zm-1 0zm-3 4zm-1-6zm0-1zm-1 2zm0-1zm-2 6zm-2 0zm-2-1zm0-1zm0-3zm0-1zm-1 0zm-4-1zm-3 6zm-2-1zm0-3zm0-1zm-1 5zm-2-1zm0-2zm0-1zm-5 1zm-2 3zm-1 1zm-5-1zm-1-4zm-2 2zm-2 1zm-1 1zm-6-2zm-1 2zm0-6zm-1 2zm0-1zm-1 0zm-8 4zm-7 2zm-2-6zm-2 4zm0-4zm-2 1zm-3 0zm-2 2zm-11-4zm-7 3zm-2 1zm-3-4zm-7 2zm-13-2zm-3 3zm-3 3zm-50-6zm-21 6zm-186-3zm176 11zm43 1zm10-3zm1-2zm33 1zm4 3zm27 0zm3-5zm2 6zm2-6zm5 5zm2-6zm8 2zm0 5zm6-5zm4 4zm1-4zm3 0zm5 1zm0 2zm4 0zm2 0zm6-2zm0 3zm2-3zm1 2zm2-3zm2-2zm0 6zm1-3zm0 4zm1-4zm1 1zm0 3zm1-6zm6 1zm1 4zm4-2zm2 0zm1 0zm1 2zm1-3zm0 3zm2-6zm0 4zm0 3zm2-4zm0 1zm3-4zm0 5zm2-2zm4 0zm0 4zm1-7zm0 2zm0 1zm0 4zm1-3zm0 3zm1-5zm0 1zm0 4zm1-6zm0 5zm0 1zm1-3zm0 3zm1-6zm2-1zm0 1zm1 0zm0 6zm1-7zm1 4zm0 2zm1-3zm0 1zm0 3zm1-5zm0 1zm0 1zm0 3zm1-4zm0 2zm1 2zm1-1zm78 0zm1-2zm1-1zm1-1zm1 0zm0 5zm1-4zm0 2zm1-3zm0 4zm0 1zm1-4zm0 2zm0 1zm1-1zm1-5zm0 6zm0 1zm1-3zm1-4zm0 7zm1-7zm0 3zm0 2zm0 1zm1-4zm1 5zm1-6zm1 3zm1-4zm0 6zm1-3zm0 4zm1-2zm1-5zm0 1zm2 2zm1-2zm0 5zm3-4zm1 3zm1-1zm2-1zm0 3zm3-4zm1 2zm1 1zm1-3zm0 4zm1-6zm0 3zm2-3zm1 5zm1-5zm1 1zm1 0zm0 4zm3 1zm1-5zm0 2zm0 2zm2 0zm1-4zm1 3zm2-4zm1 5zm1-4zm3 3zm4-4zm9 6zm3 0zm2-3zm0 4zm5-5zm2 4zm1-2zm4-1zm1 4zm4-6zm7 6zm15 0zm10-4zm7 0zm1 0zm6 2zm40 2zm7-2zm35 9zm-73-2zm0-1zm-9 3zm-8-2zm-3 3zm-1-7zm-3 7zm-2-7zm-7 5zm0-3zm-9 2zm-2 1zm-1-1zm-29 0zm-1-1zm0-1zm-2 5zm0-7zm-1 5zm-2-2zm-1 1zm-6 1zm-4-3zm-1 5zm-4-6zm-2 3zm-1-3zm-1 0zm-1 2zm-3 0zm-6 0zm-1 0zm-2-1zm-2-1zm-3 6zm0-6zm-1 0zm0-1zm-1 2zm-2 5zm-1-5zm-1-2zm-3 1zm-1 3zm-1 3zm-1-2zm-1-2zm-2 1zm-1 1zm-1 0zm0-1zm-2 0zm-1 1zm0-1zm0-2zm0-2zm-1 1zm-1 6zm-1-7zm-1 7zm0-5zm-1 3zm0-2zm-1 0zm0-2zm-1 4zm0-2zm0-1zm-1 3zm-1-2zm0-3zm-1 4zm-1 2zm0-1zm0-3zm0-1zm-1 5zm0-1zm-1-2zm0-2zm-1 4zm0-1zm0-1zm0-1zm0-1zm-1 6zm0-1zm0-2zm0-1zm-1 1zm-1 2zm0-3zm-1 3zm-1-1zm0-1zm-1 1zm-4 2zm-54-1zm-2-2zm-3 1zm-1-2zm0-2zm-1 5zm0-6zm-1 5zm0-1zm-1 0zm0-1zm-1 0zm0-3zm-1 7zm0-5zm-1 4zm0-2zm0-4zm-1 1zm0-1zm-1 0zm-1 4zm0-1zm-1 2zm-1 2zm0-2zm0-3zm-1-1zm-1 6zm-2-3zm-1 2zm0-1zm-1-3zm-2 2zm-1-1zm0-3zm-1 0zm-1 7zm0-4zm0-1zm-1-1zm-2 5zm0-1zm-1-4zm-2 0zm-1 3zm0-1zm-2 1zm-1 3zm0-2zm-1-3zm-1 3zm0-1zm0-3zm-2 5zm0-6zm-2 6zm-2-2zm0-2zm-2 1zm0-3zm-5 1zm-1 5zm-3-3zm0-1zm-2 4zm-1 0zm-2 0zm-3-1zm-1 2zm-5-2zm0-5zm-4 1zm-2 6zm0-3zm-3 1zm-2-5zm-1 4zm-3 2zm-1-5zm-2 4zm-1-1zm-8-2zm-3 5zm-4-3zm-5-3zm-17-1zm-1 3zm-2 0zm-1 3zm-8-3zm-9-3zm-1 6zm-4-5zm-8 6zm-15-2zm-45-4zm-64 1zm29 12zm33-2zm27 1zm35 2zm5-1zm5-4zm29 5zm1-6zm1 0zm1 4zm2-2zm1 1zm5 1zm1 0zm2-3zm15 3zm17-1zm5-2zm0 3zm0 2zm1-1zm5-4zm1 5zm1-4zm1 3zm6-2zm0 2zm1-3zm8 3zm1-3zm2 3zm1-3zm3 2zm1-5zm0 3zm0 4zm2-7zm1 2zm1-2zm2 0zm3 2zm1 2zm0 3zm1-3zm2-4zm0 5zm1 0zm0 1zm1-4zm2-1zm0 4zm1-5zm1 0zm2 0zm0 5zm3-5zm1 1zm1 4zm1-3zm1-2zm0 7zm1-5zm1-2zm1 2zm1-1zm0 2zm0 3zm2-6zm0 4zm1 1zm1-3zm1-2zm1 3zm0 1zm0 2zm1-4zm0 3zm0 1zm1-5zm0 3zm0 1zm0 1zm1-4zm0 2zm1-2zm0 1zm0 1zm0 1zm1-5zm0 2zm0 5zm1-3zm0 3zm1-6zm0 6zm1-5zm0 2zm0 2zm2-3zm1 1zm0 1zm2-3zm1 3zm1-2zm0 1zm1-1zm0 1zm0 1zm0 2zm1-1zm1-2zm0 3zm1-1zm1-1zm0 2zm1 0zm2-1zm2-1zm0 1zm1-1zm0 1zm3 0zm0 1zm3 0zm2 0zm1 0zm1-3zm1 2zm1 0zm0 1zm1 0zm2-3zm0 3zm1-3zm0 1zm0 2zm1-2zm0 2zm1-1zm0 1zm2 0zm1-3zm0 1zm0 2zm3-5zm0 4zm1 0zm1-3zm1 2zm1 1zm0 1zm1-4zm0 3zm1-3zm0 1zm1-1zm1-2zm2 0zm0 3zm1-3zm0 3zm0 3zm2-1zm1 1zm1-6zm0 6zm2-6zm0 3zm1-1zm1-1zm1 3zm1-3zm0 1zm0 1zm1 3zm1-4zm0 3zm1-2zm1-4zm0 2zm0 3zm4-4zm0 3zm1 1zm1 0zm1 1zm1 1zm1-4zm4-3zm0 4zm2-1zm0 4zm1-7zm0 4zm2 3zm2-6zm2 0zm2 2zm0 3zm1 1zm1-5zm2 0zm1 0zm5 4zm1-4zm1 3zm0 1zm2-6zm0 3zm5 2zm2-1zm1-3zm2 6zm1-6zm2 1zm2-1zm0 2zm1-2zm2 1zm0 1zm0 3zm1-1zm1-3zm0 4zm7 0zm8-1zm1 2zm4-5zm1 2zm14-2zm0 4zm3-5zm10 1zm0 5zm5-7zm6 6zm5 1zm20-2zm11-5zm74 15zm-9-3zm-11 2zm-13-2zm-14-2zm-11 2zm-26 0zm-4 3zm-4-4zm-7 0zm-26 0zm-15 2zm-2 0zm-5 1zm-1-5zm-2 2zm-5 3zm0-6zm-17 3zm-1 0zm-1 1zm-3-4zm-4 1zm-6 6zm0-6zm-2 1zm-1 2zm-2-1zm0-2zm-2 5zm0-5zm-2 1zm-1 4zm-1 1zm-1-4zm0-2zm-2 0zm-1-1zm-2 1zm-3 2zm-2 4zm-1-4zm0-1zm-1 0zm-1 4zm-1-2zm0-1zm-2-1zm0-2zm-1 3zm-2 1zm-1 0zm-3 3zm0-7zm-3 1zm-1 3zm-2-3zm-1 3zm-5-4zm-3 7zm0-5zm-1 2zm0-2zm0-2zm-1 7zm0-1zm0-3zm-1 1zm-1-2zm-1 5zm0-2zm0-1zm0-4zm-1 3zm-2 2zm0-2zm0-3zm-1 7zm0-7zm-2 5zm-1-4zm-1 3zm0-1zm0-1zm-1 4zm0-2zm0-2zm-1 3zm-2-5zm-1 3zm-1-1zm0-1zm-3 4zm-1 0zm0-1zm0-1zm0-2zm-1 0zm-1-1zm-1 1zm0-1zm-1 7zm0-2zm0-1zm-1 2zm0-1zm0-3zm0-2zm-1 1zm0-1zm-2 3zm0-1zm-1 2zm0-2zm-1-2zm-1 6zm-1 0zm0-5zm-1 6zm0-3zm-1 3zm0-6zm-1 0zm-2 6zm-1-5zm0-2zm-2 7zm0-2zm0-2zm-1-1zm-1 2zm-1-2zm0-1zm0-1zm-1 0zm-1 7zm0-2zm0-1zm0-4zm-1 2zm-1 0zm-1 4zm0-5zm0-1zm-1 7zm0-3zm0-4zm-1 6zm0-5zm0-1zm-2 2zm-1 5zm0-5zm-1 1zm0-2zm-1 2zm0-1zm-1 1zm0-2zm-1-1zm-1 4zm-1 1zm0-3zm0-1zm-1 0zm-1-1zm-1 4zm-1-3zm0-1zm-3 3zm0-2zm-1 2zm-2 1zm0-4zm-1 4zm0-4zm-1 2zm-3 5zm0-3zm-1 2zm-1-4zm0-1zm-2 4zm-1-1zm0-4zm-1 4zm0-1zm-1 0zm-2-2zm-1 0zm-1 2zm0-1zm-3-2zm-1 6zm-5-6zm-1 2zm-2 5zm-1 0zm-1-5zm-1 0zm-1 0zm-1 4zm0-1zm-3-5zm-3 2zm0-2zm-1 6zm-1-4zm-1 4zm-2-2zm0-3zm-1 5zm0-1zm0-4zm-2 3zm-8 0zm0-4zm-1 7zm-1-7zm-3 0zm-2 7zm-10 0zm-2 0zm0-1zm0-2zm-3-1zm-1-2zm-9 1zm-2 5zm-13-3zm0-2zm-1 2zm-3-1zm-2-2zm-38 0zm-108 0zm-90 10zm4-3zm148 3zm1 3zm32-5zm28 4zm1-5zm8 2zm8 2zm2 2zm3-5zm1 1zm9 4zm9-5zm4 3zm7-4zm5 7zm7-4zm4 1zm5 0zm1-4zm16 1zm1 6zm2-4zm2 4zm4-5zm3 0zm1 4zm1 1zm4-4zm1 3zm0 1zm2-6zm0 1zm0 1zm1-2zm0 4zm4-2zm1 2zm1-2zm2 2zm1-2zm1-3zm1 3zm1-3zm1 4zm1-1zm2 4zm7-7zm1 1zm0 2zm1-3zm3 1zm0 5zm0 1zm2-1zm2-6zm1 1zm0 1zm0 2zm1-4zm1 1zm0 5zm1 1zm1-3zm0 1zm3-3zm0 1zm0 2zm1-3zm1-2zm0 1zm0 3zm1-3zm0 2zm0 1zm0 1zm2-3zm0 4zm1-5zm1 4zm2-5zm0 4zm4-2zm0 3zm1-1zm1-4zm0 2zm0 2zm0 3zm1-5zm0 5zm1-7zm0 2zm1 1zm1 2zm2 2zm1-6zm1 0zm1 0zm0 4zm1 2zm1-5zm3-2zm0 2zm1-2zm0 1zm0 2zm1 4zm1-7zm0 5zm0 1zm2-4zm0 1zm2-3zm1 2zm3 4zm2 0zm1-4zm4-2zm0 2zm0 5zm1 0zm1-3zm1-4zm2 4zm3-4zm2 4zm2-4zm2 5zm1-3zm3-2zm6 1zm0 6zm2-3zm2-4zm2 1zm0 1zm1 5zm2-3zm3-4zm4 2zm3 3zm3-3zm0 2zm2 2zm0 1zm2-6zm0 3zm6 0zm3-4zm1 0zm1 1zm1 2zm3-3zm2 5zm10 2zm4-1zm6 0zm19-6zm20 2zm22 5zm43-6zm11-1zm64 5zm2-3zm44-1zm37 1zm12 9zm-119 2zm0-2zm-59 0zm-33-1zm-9 0zm-45-1zm-6 3zm-8-4zm-2 3zm-7-1zm-3 4zm-5 0zm-1 1zm0-6zm-9 4zm-1-2zm-2 4zm-1-2zm-4 1zm0-5zm-2 5zm0-4zm-2 1zm-8 3zm-2-6zm-2 2zm-7 4zm-1-3zm-1-3zm-2 6zm0-3zm-2 0zm-2-3zm-2 6zm0-2zm-1 3zm-2-6zm-1 5zm-2 0zm-1-3zm-1 3zm0-4zm-4-1zm-2 3zm-1 0zm-1-1zm0-2zm-1 3zm0-4zm-1 0zm-3 3zm-2 3zm-2-2zm0-2zm-2 0zm-2 0zm-2 2zm0-4zm-3 5zm0-2zm-1-2zm-1 3zm-2 3zm-1 0zm0-6zm-1 2zm-1 3zm0-5zm0-1zm-2 4zm-1-2zm-1 5zm-1-7zm-4 6zm0-3zm-3 0zm-2 0zm-2 1zm0-2zm-1 4zm0-2zm0-4zm-1 2zm-2 1zm0-3zm-1 7zm-1-2zm-3 1zm-1 0zm-2 0zm-3 1zm0-1zm-1-3zm-3 3zm0-1zm-1 2zm0-5zm-2 0zm-1 2zm-1 3zm-1-2zm-3 0zm-1 0zm-1 1zm-2-6zm-4 1zm-1 0zm-2 2zm-2-2zm-2 2zm-1 3zm-1 0zm0-5zm-1 2zm-4 0zm0-3zm-1 2zm-3 4zm-1-3zm-3 0zm-1 4zm-8-3zm-4 2zm-3 0zm-8-3zm-1 4zm0-7zm-7 3zm-5-3zm-4 4zm-11-1zm-3 2zm-27-1zm-7 0zm-2 1zm-12-5zm-30 5zm-39-4zm-33 2zm-3 0zm-3-3zm-26 4zm-75-3zm53 11zm19 3zm46-6zm20 1zm90-2zm0 7zm9-7zm1 4zm11-2zm2-1zm0 6zm7-6zm6 1zm3-1zm1-1zm6 0zm3 6zm1-5zm0 6zm9-4zm3 2zm17 2zm4-3zm1-3zm0 2zm1 2zm5-3zm1-1zm2 4zm1 1zm2 0zm2-1zm1-3zm1-2zm2 7zm3-6zm1 1zm2 3zm6-5zm0 4zm1 1zm1-3zm1 5zm2-4zm3 4zm1-6zm0 4zm0 2zm3-5zm0 3zm1-5zm1 7zm2-4zm1 3zm1-5zm0 5zm1 1zm1 0zm1-6zm0 2zm4 1zm0 2zm1-4zm1 2zm2-4zm1 2zm4-1zm1 3zm1-4zm0 1zm1 1zm0 4zm3-3zm0 4zm1-3zm1-3zm2 1zm2 5zm1-3zm0 1zm1 2zm1-3zm1-4zm2 1zm1 3zm1-1zm3 2zm1-4zm3 3zm2-2zm2-2zm0 7zm2-6zm0 5zm1-5zm2-1zm0 2zm0 4zm1-4zm0 3zm1-1zm1 0zm0 1zm1-4zm3-1zm0 1zm1 0zm2 2zm2-2zm2 4zm2-1zm1-2zm0 1zm1 3zm2-5zm1-1zm1 4zm3-1zm1 3zm2-4zm1 2zm0 2zm4-2zm1-2zm3 5zm5-7zm0 6zm3-5zm6 1zm6 1zm3-2zm6 4zm2-1zm2 2zm5-2zm0 2zm19-6zm3 7zm1-7zm5 0zm0 2zm0 2zm4 1zm5 0zm18-4zm8-1zm11 0zm19 1zm82-1zm119 9zm-17 0zm-71 0zm-20 3zm-44-3zm-19 6zm-16-2zm-9 1zm-20-6zm-5 2zm-18-1zm-4 6zm-1-4zm-8-2zm-1 1zm-1 0zm-26 1zm-5-3zm-15 2zm-2 2zm-3 0zm-8-2zm-2 1zm-1 2zm-4-4zm-4 4zm-1-3zm-6-2zm-9 4zm-2-3zm-1 2zm-4-3zm-3 2zm0-2zm-2 7zm0-4zm-1-1zm-2 2zm-3-4zm-2 4zm-7-1zm-1-2zm-2 6zm-2-6zm-2 6zm-2-5zm-1 0zm0-1zm-3 5zm0-2zm-1-1zm-2-2zm-1-1zm-1 3zm-2 3zm-1-1zm-2-3zm-1-2zm-1 3zm-3 0zm-1-3zm-2 5zm-1-4zm0-1zm-3 4zm-1 3zm0-3zm-1 3zm0-3zm-3 0zm-2-3zm-3 1zm-2 5zm-3-6zm-1 2zm-6 4zm-1-4zm-3 1zm-2-3zm-2 6zm-7-3zm-2-1zm-1-2zm-1 6zm0-6zm-2 6zm-2-5zm-4-2zm-2 6zm-6-3zm-1-1zm-1 1zm-2 2zm-3-1zm-3 1zm-5-5zm-3 2zm-2 0zm-1 4zm-2-5zm-1 2zm-2 4zm0-2zm-4 1zm-1 1zm0-7zm-2 0zm-4 4zm0-1zm-12-3zm-1 7zm-18-6zm-2 6zm0-6zm-3 6zm-4-2zm-1 0zm-2 0zm-4 0zm-11-2zm-13 1zm-5-3zm-18 3zm-70-2zm-83 11zm109-2zm53-1zm26-2zm0 1zm7 5zm10 1zm4-5zm0 2zm5-4zm13 7zm7-1zm4-6zm0 4zm5-1zm8 4zm9-3zm1 3zm4-4zm4 0zm2 4zm4-4zm11 2zm2 1zm7-2zm2-3zm1 1zm4-2zm2 2zm1 0zm0 2zm6-4zm0 4zm0 2zm4-5zm1 3zm2 3zm1-1zm1-3zm1-2zm0 2zm1-3zm0 4zm1-3zm0 6zm1-5zm2 1zm1 4zm1-6zm3 0zm1 4zm4-5zm0 2zm1 0zm1-1zm2 2zm7-1zm4 4zm1-4zm1 4zm1-3zm2 2zm1-5zm0 1zm0 2zm1-3zm4 1zm2 5zm1-2zm6 2zm0 1zm3-3zm2 1zm1 0zm2-4zm1 3zm2-2zm3 3zm2-4zm7 5zm6-3zm4-1zm0 3zm3 1zm1-3zm1 0zm5 3zm12-2zm9-2zm1 1zm6-1zm1-2zm5 0zm2 3zm0 4zm4-3zm9-1zm1 4zm21-3zm21 1zm1 0zm3-1zm32 0zm54 1zm8-1zm15 9zm-32 0zm-37 1zm-34-2zm-10-3zm-25 3zm-33 0zm-11 0zm-6-4zm-10 5zm-2 0zm-2 0zm-1-5zm-15 1zm-4 1zm-4 3zm-1 1zm-5-1zm-5-1zm0-4zm-3 4zm-1 1zm-4-2zm-2 1zm-4-4zm-3 2zm-4-1zm-1 5zm-6 1zm-1-1zm-1-1zm0-5zm-2 1zm-2 6zm0-1zm-4-4zm0-1zm-3 5zm-2-2zm-4 1zm0-1zm0-4zm-5 2zm-1-2zm-4 4zm-7-4zm-3 3zm-9-3zm-3 7zm0-5zm-3 3zm0-5zm-10 0zm-9 7zm-1-5zm-3-1zm-4 2zm-1-2zm-6 0zm-3-1zm-15 7zm0-4zm-5 3zm-14-2zm-17-3zm-1 1zm-19-1zm-49 5zm-119 8zm37-6zm3 5zm18-5zm7 7zm41-6zm50 5zm2 1zm19 0zm5-6zm4 1zm9 0zm2-1zm2-1zm2 0zm7 6zm1 1zm4-5zm2 0zm5 4zm4-6zm11 7zm4-5zm0 3zm5 0zm8-5zm14 7zm2-2zm1 2zm1-7zm3 1zm1 0zm1 0zm2 4zm1-2zm16 1zm1-2zm1-2zm1 7zm2-5zm7 5zm3-5zm3 1zm11 2zm6-4zm0 5zm3-2zm1 2zm2-4zm9 1zm10 4zm8-1zm4-3zm1 1zm7 2zm3-1zm0 2zm8-7zm15 5zm11-4zm12 2zm19-3zm1 1zm6 2zm14 2zm6-3zm8-2zm0 6zm50 1zm34-4zm60 8zm-24 2zm-90-1zm-50-4zm-13 1zm-13 3zm-14-1zm-5-2zm-2 4zm-7-3zm-3 5zm-1-2zm-4-4zm-8 5zm-9-4zm-3 2zm-15-3zm-7 2zm-3 3zm-1-5zm-8 3zm-5-2zm-1 3zm-2-1zm-5-4zm-3 2zm-3 0zm-6-2zm-7 3zm0-2zm-9-1zm-5 4zm0-2zm-3-2zm-7 3zm-17 0zm-1 4zm0-5zm-2 5zm-3-3zm-12-2zm-2 2zm-11 0zm-1-1zm-4 2zm-20 0zm-2-2zm-3 2zm-20-2zm-13 3zm-1-6zm-17 3zm-6-3zm-15 1zm-26-1zm-35 1zm-169 6zm134 5zm97 3zm3-7zm13 1zm19 0zm1 6zm1-7zm15 2zm9-1zm8 2zm3 0zm4 1zm2 0zm4 0zm5 0zm3 3zm6-3zm6-2zm2 4zm1-3zm17-1zm6 4zm1 0zm3-6zm3 3zm0 2zm14-2zm3 2zm10 1zm6-4zm2 3zm3-5zm5 1zm1 6zm1 0zm1-5zm5 5zm1-2zm4-3zm10-2zm0 4zm2-2zm3-1zm8 0zm9 0zm2 2zm2 2zm5-5zm4 1zm9 0zm3 0zm1 5zm1-6zm4 3zm4-3zm5 1zm2 3zm4 3zm9 0zm2-6zm11 1zm11 3zm1-1zm2 3zm27-6zm28 3zm7 0zm1-1zm8 4zm18-5zm98 7zm-1 4zm-98-1zm-14-4zm-87 6zm-28-1zm-4-3zm-5-2zm-1 5zm-7-3zm-1-1zm-2 6zm-3-7zm-5 0zm-2 3zm0-2zm-6 6zm-2-2zm-7-3zm-13 5zm-17-4zm-7-3zm-3 0zm-1 1zm-9 2zm0-3zm-1 1zm-3 4zm-1-2zm-12 3zm0-5zm-4 5zm-2 0zm-1-1zm-14-3zm-3 4zm-14-2zm-8-2zm-6-1zm-31 6zm-10-6zm-6 0zm-3-1zm-2 4zm-21 0zm0-2zm-44 5zm-22-1zm-128-5zm-70 12zm44 0zm66 0zm71-1zm35 2zm6-4zm8 0zm51-1zm12 1zm3 0zm51 5zm3-5zm0 2zm4-4zm3 4zm4 0zm1-2zm7-2zm2 3zm17 3zm2-4zm1 5zm12-1zm1 0zm2-5zm2 6zm5-7zm4 3zm2 3zm10-3zm6 1zm2-3zm11 2zm0 2zm3 0zm8-5zm0 1zm2 4zm3-5zm0 5zm17-2zm1 3zm1-4zm1-2zm4 0zm7 0zm2 7zm4-6zm20-1zm16 3zm20-2zm3-1zm128 2zm48 5zm24-4zm-70 6zm-57 4zm-48-2zm-23-1zm-65 1zm-7 0zm-2 4zm-15-1zm-7-6zm-1 0zm-2 5zm0-1zm-14-1zm-1 3zm-1-2zm-5 1zm-22-3zm-11 3zm-2 0zm-27 2zm-8 0zm-1-3zm-15 0zm-9 3zm-25-4zm-1 3zm-3-1zm0-1zm-2 2zm-1-5zm-9-1zm-10 0zm-7 1zm-2 1zm-14 1zm-131 1zm-68 1zm-99 9zm175-1zm18-4zm36-1zm48 5zm21-4zm13 1zm11-2zm7 0zm9 2zm18 0zm1 1zm21-1zm27-1zm9 1zm2 1zm3 2zm31-3zm4 4zm4-6zm2 5zm4-4zm9 3zm3 2zm5-4zm13 5zm28-3zm3-1zm7 2zm34-2zm1 4zm38-2zm12-1zm60 1zm60-3zm2 2zm-101 4zm-53 0zm-13 6zm-17-6zm-49 0zm-7 3zm-7 2zm-16-4zm-15 5zm-4-6zm-2 6zm-3-6zm-8 4zm-2-2zm-9 4zm-10-2zm-7 2zm-44-4zm-6 3zm-4-2zm-9 3zm-25-3zm0-1zm0-1zm-33 2zm-7 2zm-21 2zm-13-2zm-77-1zm-102-3zm-26 14zm55-6zm38 0zm101 1zm8 4zm27-1zm11 2zm20-2zm11-1zm6 1zm2-5zm22 2zm20 3zm10-4zm9 3zm5-2zm3-1zm7 6zm29-3zm5 1zm2 2zm36-4zm2 4zm27 0zm5-7zm2 0zm23 1zm25 5zm2 0zm11-3zm57 4zm63-5zm95 0zm-21 8zm-76 5zm-30-6zm-68-1zm-7 1zm-38 4zm-21-4zm-27 6zm-28 0zm-14-4zm-1-2zm-3 6zm0-4zm-55-2zm-1 4zm-1-1zm-5 1zm-1-4zm-6 5zm-6-5zm-22 2zm-4 3zm-2-3zm-17-2zm-8 4zm-32 0zm-26-2zm-120 4zm-120-2zm150 4zm122 1zm12 0zm20 4zm2-4zm8-1zm19 5zm8-2zm3-3zm3 6zm7-5zm13 5zm12-5zm7 1zm7 3zm15 0zm31 0zm4-4zm7 5zm28-5zm45 2zm12-2zm53 4zm34-1zm96 8zm-36 0zm-57-1zm-38-1zm-79 0zm-5 0zm-60-2zm-54 4zm-14 0zm0-1zm-24-1zm-8 3zm-1-3zm-21-3zm-59 6zm-98-4zm18 8zm48 2zm77 1zm6-2zm12 0zm3-1zm22-2zm30 7zm20-6zm26-1zm10 5zm10-5zm9 5zm27 1zm3-5zm22 2zm10-1zm12 1zm3 4zm77-7zm64 1zm23 3zm57 8zm-114-1zm-20-3zm-20 4zm-9 3zm-52-5zm-70 2zm-12-2zm-56 5zm-2-3zm-8 0zm-5-1zm-2 1zm-85 3zm-125-2zm-153 2zm-29 0zm17 2zm273 2zm52 3zm23-2zm54 2zm37-6zm22 6zm5-2zm26 2zm93 0zm1-5zm89 6zm21 8zm-107 0zm-30-2zm-6-2zm-35 0zm-11 0zm-81 0zm-22 1zm-23-2zm-51 0zm-13 2zm-5-1zm-93-1zm-3-1zm-83 9zm10 0zm4 1zm89 3zm169-4zm4 1zm8 3zm36-5zm42 2zm17 0zm17 1zm36-3zm90-1zm31 7zm13-3zm-70 5zm-146 4zm-41 1zm-83-6zm-20 4zm-72-3zm-159 4zm9 5zm126 3zm28-5zm22 3zm39-3zm10 3zm155-3zm5 6zm86-6zm44 6zm-84 5zm-40 1zm-3 2zm-61-1zm-26 2zm-4-4zm-19-2zm-15 3zm-42-1zm-91 1zm12 6zm74 0zm18 5zm87-3zm32 2zm151 6zm-82-3zm-25 3zm-5 3zm-72 0zm-31-2zm-6-3zm-16-2zm-1 2zm-14 2zm-59-4zm-77 4zm-79 1zm83 5zm139 4zm78-2zm38 1zm7 0zm134 0zm9-1zm99-4zm-48 14zm-57-1zm-190-1zm-90-2zm-204 9zm145-1zm74 0zm-207 8zm-21 11zm38 1zm176-2zm12-4zm2 5zm270 0zm-47 3zm-18 2zm-20 4zm-79-3zm-23-1zm-300 1zm168 10zm161 0zm92 3zm-97 0zm-150 3zm-220 12zm331-5zm53-2zm35 6zm39 9zm-143 0zm-152-1zm-86-2zm322 11zm149-1zm-198 16zm-279 0zm242 5zm10 1zm0 1zm8 8zm-130 9zm289 1zm-235 7zm14 10zm5 1zm154 9zm-148 2zm-120 1zm125 7zm-77 9zm-26 0zm66 11zm169 1zm-143 11z" stroke="#0000ff" stroke-width="3" stroke-linecap="square" fill="none"/>
<text x="890.9" y="772.4" font-size="24.1" text-anchor="middle">N</text>
<text x="1087" y="846.9" font-size="24.1" text-anchor="middle">NE</text>
<text x="1152.8" y="1042" font-size="24.1" text-anchor="middle">E</text>
<text x="1086.5" y="1235.6" font-size="24.1" text-anchor="middle">SE</text>
<text x="890.5" y="1309.8" font-size="24.1" text-anchor="middle">S</text>
<text x="691.7" y="1235.6" font-size="24.1" text-anchor="middle">SW</text>
<text x="625.9" y="1042" font-size="24.1" text-anchor="middle">W</text>
<text x="690.6" y="846.9" font-size="24.1" text-anchor="middle">NW</text>
<text x="598.4" y="704.9" font-size="30.6" font-weight="bold" fill="#000">E</text>
<text x="640.6" y="710.8" font-size="34.3" class="se" fill="#000">Travel direction</text>
<path d="M1311.8 748.6V1261.3M1375.9 748.6V1261.3M1440.1 748.6V1261.3M1504.3 748.6V1261.3M1568.5 748.6V1261.3M1632.7 748.6V1261.3M1696.8 748.6V1261.3M1247.6 1210H1761M1247.6 1158.8H1761M1247.6 1107.5H1761M1247.6 1056.2H1761M1247.6 1005H1761M1247.6 953.7H1761M1247.6 902.4H1761M1247.6 851.1H1761M1247.6 799.9H1761" stroke="#e7e7e7" stroke-width="1" fill="none"/>
<path d="M1247.6 748.6H1761V1261.3H1247.6ZM1311.8 1261.3v-5M1311.8 748.6v5M1375.9 1261.3v-5M1375.9 748.6v5M1440.1 1261.3v-5M1440.1 748.6v5M1504.3 1261.3v-5M1504.3 748.6v5M1568.5 1261.3v-5M1568.5 748.6v5M1632.7 1261.3v-5M1632.7 748.6v5M1696.8 1261.3v-5M1696.8 748.6v5M1247.6 1210h5M1761 1210h-5M1247.6 1158.8h5M1761 1158.8h-5M1247.6 1107.5h5M1761 1107.5h-5M1247.6 1056.2h5M1761 1056.2h-5M1247.6 1005h5M1761 1005h-5M1247.6 953.7h5M1761 953.7h-5M1247.6 902.4h5M1761 902.4h-5M1247.6 851.1h5M1761 851.1h-5M1247.6 799.9h5M1761 799.9h-5" stroke="#8c8c8c" stroke-width="1.4" fill="none"/>
<path d="M1247.6 1261.3V1205.7H1254.73V1212.6H1261.86V1214.1H1268.99V1213.6H1276.12V1213.6H1283.25V1214.9H1290.38V1212.6H1297.51V1214.3H1304.64V1214.6H1311.77V1214.6H1318.91V1216.7H1326.04V1219.4H1333.17V1218.7H1340.30V1219.0H1347.43V1220.0H1354.56V1219.1H1361.69V1217.5H1368.82V1144.4H1375.95V1203.6H1383.08V1216.7H1390.21V1219.4H1397.34V1221.3H1404.47V1220.0H1411.60V1220.8H1418.73V1220.8H1425.86V1220.0H1432.99V1221.1H1440.12V1220.0H1447.26V1219.8H1454.39V1217.5H1461.52V1218.5H1468.65V1217.5H1475.78V1216.5H1482.91V1216.7H1490.04V1214.5H1497.17V1211.3H1504.30V1205.0H1511.43V1207.2H1518.56V1208.9H1525.69V1205.9H1532.82V1203.4H1539.95V1201.0H1547.08V1196.7H1554.21V1189.8H1561.34V1183.4H1568.47V1180.4H1575.61V1174.5H1582.74V1167.9H1589.87V1157.8H1597.00V1148.5H1604.13V1134.5H1611.26V1116.6H1618.39V1094.4H1625.52V1056.7H1632.65V967.5H1639.78V1084.4H1646.91V1109.0H1654.04V1127.0H1661.17V1146.3H1668.30V1157.4H1675.43V1167.7H1682.56V1174.5H1689.69V1181.1H1696.83V1187.6H1703.96V1190.2H1711.09V1195.7H1718.22V1200.3H1725.35V1204.9H1732.48V1204.0H1739.61V1208.6H1746.74V1209.3H1753.87V1207.9H1761.00V1261.3" stroke="#0072bd" stroke-width="2.2" stroke-linejoin="miter" fill="none"/>
<path d="M1247.6 1261.3V1251.4H1254.73V1254.8H1261.86V1242.6H1268.99V1242.6H1276.12V1248.8H1283.25V1250.9H1290.38V1248.8H1297.51V1242.6H1304.64V1248.8H1311.77V1247.1H1318.91V1248.8H1326.04V1244.6H1333.17V1242.6H1340.30V1248.8H1347.43V1242.6H1354.56V1238.7H1361.69V1250.9H1368.82V1247.1H1375.95V1242.6H1383.08V1254.8H1390.21V1249.0H1397.34V1244.7H1404.47V1250.9H1411.60V1238.7H1418.73V1242.6H1425.86V1250.9H1432.99V1240.5H1440.12V1252.7H1447.26V1244.7H1454.39V1244.7H1461.52V1254.8H1468.65V1250.9H1475.78V1244.7H1482.91V1246.8H1490.04V1242.8H1497.17V1240.5H1504.30V1230.1H1511.43V1234.2H1518.56V1230.1H1525.69V1230.1H1532.82V1225.9H1539.95V1219.8H1547.08V1219.8H1554.21V1209.9H1561.34V1203.6H1568.47V1178.4H1575.61V1134.8H1582.74V1155.9H1589.87V1103.5H1597.00V1083.4H1604.13V994.2H1611.26V946.0H1618.39V846.5H1625.52V803.5H1632.65V782.4H1639.78V873.7H1646.91V1000.3H1654.04V1049.8H1661.17V1118.5H1668.30V1149.3H1675.43V1130.8H1682.56V1168.2H1689.69V1195.2H1696.83V1224.1H1703.96V1226.0H1711.09V1228.0H1718.22V1215.8H1725.35V1228.0H1732.48V1224.3H1739.61V1247.0H1746.74V1251.2H1753.87V1242.7H1761.00V1261.3" stroke="#d95319" stroke-width="2.2" stroke-linejoin="miter" fill="none"/>
<text x="1225.8" y="1271.3" font-size="25.6" text-anchor="middle">0</text>
<text x="1225.8" y="1220" font-size="25.6" text-anchor="middle">1</text>
<text x="1225.8" y="1168.8" font-size="25.6" text-anchor="middle">2</text>
<text x="1225.8" y="1117.5" font-size="25.6" text-anchor="middle">3</text>
<text x="1225.8" y="1066.2" font-size="25.6" text-anchor="middle">4</text>
<text x="1225.8" y="1015" font-size="25.6" text-anchor="middle">5</text>
<text x="1225.8" y="963.7" font-size="25.6" text-anchor="middle">6</text>
<text x="1225.8" y="912.4" font-size="25.6" text-anchor="middle">7</text>
<text x="1225.8" y="861.1" font-size="25.6" text-anchor="middle">8</text>
<text x="1225.8" y="809.9" font-size="25.6" text-anchor="middle">9</text>
<text x="1225.8" y="758.6" font-size="25.6" text-anchor="middle">10</text>
<text x="1247.6" y="1295.3" font-size="25.6" text-anchor="middle">N</text>
<text x="1311.8" y="1295.3" font-size="25.6" text-anchor="middle">NE</text>
<text x="1375.9" y="1295.3" font-size="25.6" text-anchor="middle">E</text>
<text x="1440.1" y="1295.3" font-size="25.6" text-anchor="middle">SE</text>
<text x="1504.3" y="1295.3" font-size="25.6" text-anchor="middle">S</text>
<text x="1568.5" y="1295.3" font-size="25.6" text-anchor="middle">SW</text>
<text x="1632.7" y="1295.3" font-size="25.6" text-anchor="middle">W</text>
<text x="1696.8" y="1295.3" font-size="25.6" text-anchor="middle">NW</text>
<text x="1761" y="1295.3" font-size="25.6" text-anchor="middle">N</text>
<text x="1504.9" y="1329.8" font-size="29" text-anchor="middle">Direction</text>
<text font-size="28.5" text-anchor="middle" transform="translate(1202.4 1004) rotate(-90)">Probability (%)</text>
<rect x="1258.3" y="766" width="26.2" height="15" fill="#fff" stroke="#0072bd" stroke-width="2"/>
<rect x="1258.3" y="799.8" width="26.2" height="15" fill="#fff" stroke="#d95319" stroke-width="2"/>
<text x="1287" y="783.6" font-size="26.4" fill="#111">ALL</text>
<text x="1287" y="817.5" font-size="26.4" fill="#111">LIFE&gt;150d</text>
<text x="1177.4" y="704.8" font-size="30.6" font-weight="bold" fill="#000">F</text>
<text x="1224.6" y="710.8" font-size="34.3" class="se" fill="#000">Histogram of travel direction</text>
</g>
</svg>
</body>
</html>
